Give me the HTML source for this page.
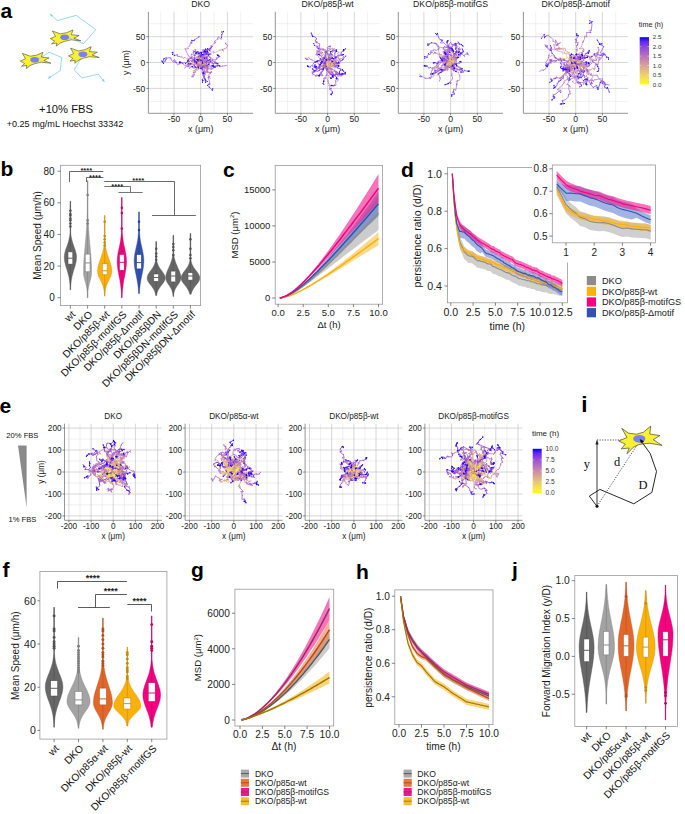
<!DOCTYPE html>
<html><head><meta charset="utf-8"><style>html,body{margin:0;padding:0;background:#fff;}svg{display:block}</style></head>
<body><svg width="685" height="814" viewBox="0 0 685 814">
<rect width="685" height="814" fill="#fff"/>
<text x="0.5" y="17.5" font-size="21" text-anchor="start" fill="#000" font-weight="bold" font-family='"Liberation Sans", sans-serif' >a</text>
<path d="M69 37.7 L83.5 43.7 L95.9 29.7 L76.3 15.3 L57.5 20.6 L50 14" stroke="#8cd2f5" stroke-width="0.9" fill="none"/>
<path d="M50 14L53.1 14.9L51.2 16.9Z" fill="#8cd2f5"/>
<path d="M38.5 59.4 L49 52.2 L61.8 57.5 L60.2 70.7 L48 78.5" stroke="#8cd2f5" stroke-width="0.9" fill="none"/>
<path d="M48 78.5L49.7 75.8L51.2 78.1Z" fill="#8cd2f5"/>
<path d="M82.7 55.4 L74.2 69.9 L81.9 77.9 L98.3 74.2 L104.5 82" stroke="#8cd2f5" stroke-width="0.9" fill="none"/>
<path d="M104.5 82L101.6 80.6L103.8 78.9Z" fill="#8cd2f5"/>
<path d="M50.3 38.6 L55.5 36.4 L52.4 31 L60.3 33.8 L66.7 32.7 L73 29.9 L71.3 34.7 L79.1 35.5 L73.9 38.2 L80.9 40.8 L71.3 39.8 L65.1 41.2 L60.7 42.8 L56.4 46.1 L56.8 43 L51.6 43.9 L54.6 41.2Z" fill="#f8f032" stroke="#3a3a3a" stroke-width="0.55" stroke-linejoin="miter"/>
<ellipse cx="64.7" cy="37.3" rx="4.4" ry="2.8" fill="#7b7ff0"/>
<path d="M68.5 55.9 L73.7 53.6 L70.5 48.2 L78.4 50.9 L84.8 49.7 L91.1 46.7 L89.4 51.6 L97.3 52.2 L92.1 55 L99.2 57.5 L89.5 56.7 L83.4 58.2 L79 59.9 L74.8 63.3 L75.1 60.2 L69.9 61.2 L72.9 58.4Z" fill="#f8f032" stroke="#3a3a3a" stroke-width="0.55" stroke-linejoin="miter"/>
<ellipse cx="82.9" cy="54.3" rx="4.4" ry="2.8" fill="#7b7ff0"/>
<path d="M20.3 61 L25.5 58.8 L22.4 53.4 L30.3 56.2 L36.7 55.1 L43 52.3 L41.3 57.1 L49.1 57.9 L43.9 60.6 L50.9 63.2 L41.3 62.2 L35.1 63.6 L30.7 65.2 L26.4 68.5 L26.8 65.4 L21.6 66.3 L24.6 63.6Z" fill="#f8f032" stroke="#3a3a3a" stroke-width="0.55" stroke-linejoin="miter"/>
<ellipse cx="34.7" cy="59.7" rx="4.4" ry="2.8" fill="#7b7ff0"/>
<path d="M69 37.7L73 39.4" stroke="#8cd2f5" stroke-width="0.9"/>
<path d="M38.5 59.4L42 57" stroke="#8cd2f5" stroke-width="0.9"/>
<text x="66" y="112.6" font-size="11.2" text-anchor="middle" fill="#111" font-family='"Liberation Sans", sans-serif' >+10% FBS</text>
<text x="65" y="126.5" font-size="9.1" text-anchor="middle" fill="#111" font-family='"Liberation Sans", sans-serif' >+0.25 mg/mL Hoechst 33342</text>
<g>
<path d="M160.7 11.8V113.3M148.4 101.4H253M187.4 11.8V113.3M148.4 75.5H253M214 11.8V113.3M148.4 49.6H253M240.7 11.8V113.3M148.4 23.7H253" stroke="#e8e8e8" stroke-width="0.6" fill="none"/>
<path d="M174 11.8V113.3M148.4 88.4H253M200.7 11.8V113.3M148.4 62.5H253M227.4 11.8V113.3M148.4 36.7H253" stroke="#cacaca" stroke-width="0.75" fill="none"/>
<clipPath id="cl148_11"><rect x="148.4" y="11.8" width="104.6" height="101.5"/></clipPath>
<g clip-path="url(#cl148_11)"><g transform="scale(0.25)" fill="none" stroke-linejoin="round" stroke-linecap="round" stroke-width="2.5">
<path d="M795 250l0 0 2 1-1 2M806 255l1-4 0 3M804 254l0 0 0 0 2 1M803 250l3-3 0-1 0-5M798 258l3 0 2-6M804 254l3 0-2-1M801 245l-3-2 4-3M801 257l0 3 11-5 11 4M809 235l-7-4 0-2M812 251l4 1 4 0 3 0M799 245l0 0 1 0-1 0M811 243l0 2 1 2M806 259l-7 3 0-1M799 261l-7 6M810 239l-3 1 0-2M804 256l-1 4-6 0M804 245l0 0 1 0 0 2M812 239l0-1 0 0M812 238l0 1 1-4M793 251l0 1 0 1M803 253l-1-2 4 7 10-2" stroke="#f3dc5b"/>
<path d="M796 253l2 2 1-1M807 254l1-3 1-1M809 250l1 1 0-1M806 255l-1 0 0 0M806 241l0-7 3 3M803 252l0-2-1 1-3-2M805 253l1 1 1-1M807 253l-1-2 0 1M802 240l-1 0-1-4M823 259l-1-2 5-3M802 229l-3-5-6-3 3 4M823 252l3-4 1-1M799 245l0 1 1 0M812 247l-2-3 1 2M811 246l6-2-4 3M792 267l-3-1 0 9M807 238l0 3-1 2 0 0M797 260l-1-10-2-5M805 247l2 1 0 0M813 235l1 0M793 253l-1 2-1 0M791 255l1 0-1 1M816 256l0 2 2-1" stroke="#e6bc7f"/>
<path d="M799 254l-3 0 3 0 0-2M810 250l-1-1 3 1M805 255l0 1 1 2 1-1M809 237l-4-1 2-2 0-2M799 249l5-3 2-5M806 252l1 2 1 0M800 236l-3-3 1-3M798 230l5 3-3 2 2-2M827 254l-3 1 3-9-3 3M796 225l1-18-6 9M827 247l8-1 7 1-2-3M800 246l0 0 1 0 0 0M813 247l-1 6 10 2M789 275l-6 2 0 1M783 278l-1 9M806 243l0 1 0-1M794 245l-10 2 1 12M785 259l-3-14-5 4-9-3M807 248l0 0 0 0 0 1M814 235l0-1-1 0M813 234l1 1 0-1M791 256l0 0-1 1M818 257l-1 5 8 0 3 0" stroke="#d9a495"/>
<path d="M799 252l1 3 1 2-1 0M812 250l1-1 0 1M807 257l-1 0 2 1 1-1M807 232l0 4 1-3-1 1M806 241l0-1 1-2M807 238l1-6 6 0-6 0M808 254l1-3 3 3M802 233l0-2-1 0M824 249l-2-6 2-4-4-2M791 216l-7 3-8 2M776 221l-8 6-10 4 3 1M840 244l6 0-3 1 8-3M801 246l-1 0 1 0 1-1M822 255l-6-4 3 6M782 287l-2-5-5 0M806 243l0 3-2 2M804 248l0 0 1 0 3 2M768 246l1-10-2-5M807 249l0 2 1 0-1 0M814 234l0 0M790 257l-1 0 1-1M828 262l1 2 1-1-6-2" stroke="#cd90a6"/>
<path d="M800 257l2 1-3 0M813 250l4-2-1 1M816 249l3-4 1 1M809 257l0 0-1 1M807 234l2-3-1 1M808 232l5-2-2-1M812 254l0 0 0 0M801 231l2 1 5-1M820 237l4 1-1-10M761 232l-16 3-6-6M851 242l-6 5 3-5M802 245l-1 1 1-1M819 257l-4 0 3 1M775 282l5 10 2-4M782 288l-9 3M808 250l-3 2 2-4M767 231l-8 7 4-6M807 251l1 0 0 0M814 234l0-1 1 0M815 233l1 0 0 0M790 256l0 0-1 1M789 257l0 0 0 1M824 261l2 4 1 8" stroke="#c17eb4"/>
<path d="M799 258l3 2 1 3-4 3M820 246l1-3 2 1M808 258l1 0 0 1 0 0M808 232l-1 0 5-2 2 1M811 229l1 2-4-6M812 254l-1-3 4 1 2 0M817 252l1-4-1 1M808 231l0 1 2 0M823 228l0 7-1-2 1-5M739 229l-6 5-5-6M848 242l0-1 3-2-1-2M802 245l0 1 1 0-1 1M818 258l3 2-5-4 7 7M823 263l8-1 0-1M773 291l0-4 5 12M778 299l-6 10 1-11M807 248l1-1 2 2M763 232l-3-3-6-5M808 251l2 0-1-1 1 0M816 233l-1 0 2 0M789 258l0-1 0 1M827 273l2 7 0 2-3 6" stroke="#b46dc0"/>
<path d="M799 266l-1 0-1 2-2-2M823 244l-1-2 0 1M809 259l1 2-1 1 0 0M814 231l4-2-2-1 2 2M808 225l5 1-2-2 1 2M817 249l2 0-1-3M810 232l-1-1 5 3M814 234l1 3-1 2-1 1M823 228l-2 2 1 0-8 1M728 228l-4 0-7-2 0 0M850 237l7 2 3 0 7-2M802 247l0 0 1 0 1 0M831 261l-2-6 7 4M773 298l-5 9M810 249l0-1 2-3 2-1M754 224l-14-30 2 2M742 196l12-2-3-3 7-7M810 250l0 0 0-1 1 1M817 233l1-2 0 1M818 232l-1 0M789 258l1 0-2 1M826 288l-1-1-8 9 0-2" stroke="#a65ecc"/>
<path d="M795 266l1-1-1 2M822 243l1-3 1 1M824 241l-2-2-2-2M809 262l1 2-1 0M818 230l1-4 3-1M812 226l1-4-1-1M818 246l-2-6 0 1M813 240l5-1 0 3M814 231l2-7 0 3M717 226l-5-1-1 0M867 237l-3-6 5 1M804 247l0 0 1 0M836 259l0-7-1-2M768 307l2 0-2-1M814 244l4-1 1-2M758 184l6-17 3 7M811 250l1-2-1 0M817 232l1 0 1 0M788 259l-1 0 1 0M788 259l-1-1-1 1M817 294l0 3-2 1" stroke="#974fd6"/>
<path d="M795 267l-1 1-1-2-3 3M820 237l2 0-1-1M809 264l0 1 0 0-1 2M822 225l1-5 0-2 0 0M812 221l2 0 4-2M816 241l-2-3 2 2M816 240l0-2 3 2M818 242l1 1-5 0M816 227l0-5 0-12-4-6M711 225l0-1-2-5M869 232l7-2 2-6 1 2M805 247l0 0 0 0 1 1M835 250l-3-2 8 1M840 249l1-2 0-3M819 241l-1-3 6-4M767 174l0-13 5 2M811 248l1 0-1 0 2-1M786 259l0-1 0 0M815 298l1-1 1 9-2-4" stroke="#8640e0"/>
<path d="M790 269l2 0-5 0-2 0M808 267l1 1 0-1 0 2M823 218l2-1 2-4-1 0M818 219l-1 2 0-2 5-2M814 243l4 1 3 0M812 204l1 4 8-9-9 1M709 219l-7 2-4 0-8-3M879 226l0-2-2 2-1-1M806 248l0-1 0 0 0 0M824 234l-2-1 0-1 2 1M772 163l6-3 18-13M813 247l-1 0 0-1-1 0M815 302l0 2 2 4 0 3" stroke="#7232e9"/>
<path d="M785 269l-2 0 0 0M809 269l0 0-1 1M826 213l1 1 1-6M822 217l1-2-1-2M812 200l12 4-2-8M690 218l2-7-3-2M876 225l1-3-4-1M806 247l0 0 1 0M824 233l-1-3 1-1M811 246l1-1 0 0M817 311l4 3 2 7" stroke="#5922f2"/>
<path d="M783 269l-3-2-3-5-2-2M808 270l0-1 0 1 1 0M828 208l3-1-2-2-1 0M822 196l7 4 1-6 9 7M873 221l-2 1 2 2-4-5M807 247l0-1 0 0 0 0M812 245l1-1-1-1 1 0M823 321l-4-6 3 14 7-3" stroke="#330efb"/>
<path d="M783 269h0M780 267h0M777 262h0M775 260h0M808 270h0M808 269h0M808 270h0M809 270h0M828 208h0M831 207h0M829 205h0M828 205h0M817 219h0M822 217h0M823 215h0M822 213h0M814 238h0M816 240h0M816 238h0M819 240h0M819 243h0M814 243h0M818 244h0M821 244h0M822 196h0M829 200h0M830 194h0M839 201h0M698 221h0M690 218h0M692 211h0M689 209h0M873 221h0M871 222h0M873 224h0M869 219h0M807 247h0M807 246h0M807 246h0M807 246h0M832 248h0M840 249h0M841 247h0M841 244h0M822 232h0M824 233h0M823 230h0M824 229h0M767 161h0M772 163h0M778 160h0M796 147h0M812 245h0M813 244h0M812 243h0M813 243h0M823 321h0M819 315h0M822 329h0M829 326h0" stroke="#1f00ff" stroke-width="4.4"/>
<path d="M800 245l5 1-7 3M805 240l-3 3 3-8M809 248l5-6-3 5 1-6M807 244l0 1 3-10M790 242l-8 10 7-4-4 1M802 245l0-1-1-2M800 244l0 1 0-1 0 0M809 252l-1 1-1-1M807 255l0-3 5 1 0 2M803 262l1-2 0 1 5 0M805 252l1 0 0 1M803 245l2-1-15 1-4 0M813 260l1 0 1 0M803 242l7-11 3-3M813 228l7 6M801 253l-1 1-3 1M802 254l-1 2 0-1-1 2M802 234l0 2-6 1M796 237l3-1M806 256l0-3-4 25M802 278l-5-8M811 245l0-1 0-2-1-1" stroke="#f3dc5b"/>
<path d="M798 249l7 2 0 3 1 0M805 235l6-3 6-6M817 226l0-4 3 1M812 241l0-2 0-3M810 235l-1 0 19-3M828 232l-2-8 12 0M785 249l2 10-5-3M801 242l-3 1 0-2M800 244l2 0 0-1M807 252l-2-2-1 1-1 1M812 255l2 3 4 1M809 261l-4-5 4 2M806 253l0-1 0 1M786 245l2-8-3 5M815 260l0-1-1 0M820 234l1-24 25 6M797 255l-3-1-1 1M800 257l-1 0 0 0M799 236l1-1-4 4M797 270l3 2 2 2M810 241l1 1-2 0" stroke="#e6bc7f"/>
<path d="M806 254l-4 5 3 4M820 223l-1 0M812 236l-2 3 1-2 0-1M838 224l-3 0 3 2M782 256l-11 8 5-2-10-7M798 241l-1 2 1-2-2-1M796 240l0 1-3-1M802 243l0 0 1-1 0-1M803 252l-1 0-1-3-1 0M818 259l7 0 2 0-2 2M809 258l-2-3 0 0 5 2M806 253l1-1 1 0M808 252l-1 0 0 0 1 0M785 242l0 3-7 0 2 3M814 259l2 0 4 3M820 262l0 0 1 1 1 0M846 216l-7-1M839 215l6-5 7-4M793 255l0 2-1-2M792 255l0 4 2-2-1 2M799 257l0 0 1 0 0 0M796 239l0-5 0-6M796 228l-1-1M802 274l-5 2-1 0M796 276l3-4M809 242l0-1 0 0 1-1" stroke="#d9a495"/>
<path d="M805 263l-4 1 3-3-2 4M819 223l-3-6 2-3M818 214l4-2 2-4M811 236l-3-3 2-2 5 1M838 226l3 2 3 2M766 255l-3 5 2-7-12 2M793 240l1 1-1-3M803 241l1 0-1 0M800 249l-2-2 0 0M825 261l4 5-2 1-1 4M812 257l-2-2 6 4M808 252l0 0-1 1M780 248l2-2-12 0 3-5M822 263l-1-4 5 4M852 206l3-1-1 7M854 212l29-12M793 259l2-1-3 1M800 257l-1-2 1-2-1 0M795 227l0 5-2-4M799 272l-12 11 0-11M810 240l-1-1 0-1-2-2" stroke="#cd90a6"/>
<path d="M802 265l6 10 2 0M810 275l-3 16 6 6M824 208l-1 2 3-2M815 232l2-2-6-2M844 230l-10-3 5 2M753 255l13 3-24-2M793 238l1 0-3-1 0-1M803 241l1-1 1 0-1 0M798 247l0-2 1 0M826 271l-3-1 5 5M816 259l1-3 2 3 3 1M807 253l1-1 0 1M773 241l-6 7 0-4M826 263l-2-2 1 3M883 200l8 0 2 4M792 259l3 0-3 1M799 253l0-1-1 0M793 228l0-7 1-4M794 217l-5-1M787 272l-4 4 2 2M785 278l-9-4M807 236l1 1 1 0" stroke="#c17eb4"/>
<path d="M813 297l9 2 0-5 1-6M826 208l-4-1 2-2M824 205l2 2M811 228l5-3 1 0-4-2M839 229l2 2 3 0-4 6M840 237l9-3-1 8M742 256l0-4-2-2-14 2M791 236l-1-1-3 1M804 240l1 0 1 0 0-1M799 245l2-2-1-3-1 0M828 275l1-4 0 2-1 2M822 260l-1 4 8 2-4 0M808 253l0 0 0 0M767 244l4-10-7-4 0 4M825 264l2 0-2-1M893 204l-3-6M890 198l16-6 4-11M792 260l0 5 1-2M798 252l0-2-1-1 0 0M789 216l-2-3 1-3M788 210l-3-2 1 3M776 274l-13-8-5 9M758 275l-1-2-2-10M809 237l-1 0 1-1 1 0" stroke="#b46dc0"/>
<path d="M823 288l4-9 3-5M826 207l0-4 3-2M813 223l2 1 5-7-5-4M848 242l12 4 0 6M726 252l-15 8-7-11-7-4M787 236l-1 0-3-1M806 239l0 0 2-1M799 240l1 0 1-3-1 1M828 275l8 1 7 1 5-3M825 266l2 1 4-2M808 253l0 1-1 0M807 254l0 1 1-1-1 1M764 234l3-6-3-1 2-10M825 263l1 1 3 0M829 264l-1-1-1 1 1-1M910 181l-7-5M903 176l-2-4 4 2M793 263l-1 2-1 1M791 266l1-1 2 2-1 0M797 249l0 0 0 0 1-1M786 211l-4-11M755 263l-5 2M810 236l-1-2 2 1 1-3" stroke="#a65ecc"/>
<path d="M830 274l2 4-6-4 4 0M829 201l-2 0 0 0M827 201l7-2-1-3M815 213l2 0 0 0M860 252l-3-1 2-1M697 245l-4 3 14 3M783 235l1 2-1-1M808 238l0-1 1 0 0 1M800 238l0-3 0 2M800 237l1-5 0-2M848 274l-2 4 8-6M831 265l3 4 0-4 5-1M807 255l0 2-1-1M766 217l8 0-1-8M828 263l0 0 0-1M793 267l-2 1 2 0M798 248l-1 0 1-1M782 200l-1 2-1-4M750 265l-3 1-9 6M812 232l-1 1-2-2" stroke="#974fd6"/>
<path d="M830 274l1-5 0 0M817 213l8-6 1-2 7-5M859 250l1 2 5 0M865 252l4 2 3 1M707 251l-9-13-8 8-6-10M783 236l-1 0 1 2M783 238l-3-2 0 0-1 0M809 238l1-1 0 0M801 230l0 1-2 0-1-2M854 272l4-5 4-1 0 2M839 264l2 2 4-3M806 256l0 1 0-1M773 209l3-1 6-1-9-3M828 262l3-1 3-3M793 268l1 0 0 2M798 247l0-1 0 0 0 0M809 231l1 0-2-2 0 0" stroke="#8640e0"/>
<path d="M831 269l-3 3-2-12-4-5M833 200l2-5 0 3 5-2M684 236l0-5-14 0-11 16M779 236l0 1-2-3M810 237l1 0 0 0 1 0M798 229l0 0-3-1 1-2M862 268l2-4 0-2-1 2M845 263l1 1 3-3 2 1M806 256l-1-1 1 1M773 204l8 3 4 3 3-3M834 258l2-3 0 1M794 270l0 1 0 1M798 246l0 0-1 0 0-1M808 229l-1 0 1-1-5-1" stroke="#7232e9"/>
<path d="M822 255l4-1 0-7M840 196l-1-1 2-2M659 247l7-17-10 5M812 237l-1 0 1 1M796 226l-3 1 1-1M863 264l5 0 2-1M851 262l4 0-2 2M788 207l-1 5 5-5M797 245l1 1 0-1M803 227l-1-1 0-1" stroke="#5922f2"/>
<path d="M841 193l0-1 5-3 2-3M656 235l-5 12 3 7-7-10M812 238l1 0 0 1 0 1M870 263l1-2 1 2 7-1M853 264l2 4 5 1-4-5M792 207l3 7 1 1 2-3M798 245l1 1 0 0 0-1M802 225l-2-4 0 2 1-4" stroke="#330efb"/>
<path d="M826 260h0M822 255h0M826 254h0M826 247h0M841 193h0M841 192h0M846 189h0M848 186h0M860 252h0M865 252h0M869 254h0M872 255h0M656 235h0M651 247h0M654 254h0M647 244h0M780 236h0M779 236h0M779 237h0M777 234h0M812 238h0M813 238h0M813 239h0M813 240h0M795 228h0M796 226h0M793 227h0M794 226h0M870 263h0M871 261h0M872 263h0M879 262h0M853 264h0M855 268h0M860 269h0M856 264h0M806 257h0M806 256h0M805 255h0M806 256h0M792 207h0M795 214h0M796 215h0M798 212h0M831 261h0M834 258h0M836 255h0M836 256h0M794 268h0M794 270h0M794 271h0M794 272h0M798 245h0M799 246h0M799 246h0M799 245h0M802 225h0M800 221h0M800 223h0M801 219h0" stroke="#1f00ff" stroke-width="4.4"/>
<path d="M800 247l1 0-2-2M792 252l0 0 1 0-1-1M804 255l0 0 0 0M804 255l1-1M806 263l4 3 8 1M806 247l1-3-1-7 1 0M792 254l1-3 2-6M788 249l3 4-6-7M804 253l0 0 3 1M807 254l-3 0-1-2M796 246l-1 0 1-3M796 243l-6 1-4 4M813 255l0 0 2 2 0-1M802 250l-4 2 2-2M806 240l1 4 3 6M809 247l-7 3 19-5M808 244l2 1 2-5M803 255l-1 0 1 0 3-2M804 246l0 0 2 0M806 246l-1-2 2 1M803 244l-2 2 0 0-2 1M791 250l0 2 0 2M805 249l1-1 6-1" stroke="#f3dc5b"/>
<path d="M799 245l1 2-2-2M798 245l0-2 0 0M792 251l1 0-3 0M805 254l0 0 1 0M818 267l2 2-3-2M817 267l-1 1 5 1M807 237l-2 0-7-1M795 245l-1 1 7-3-5 0M785 246l6 1 8 7M803 252l5 5M786 248l2-5M815 256l1-1 1 1M800 250l0 0-4 1M796 251l2-5-2 1M810 250l-2 0 1-2M809 248l5 5-5-2M821 245l-9 0 2-13M812 240l7 4 2-4M821 240l13 5 3 3M806 253l-2-3 2 0M807 245l3-2M799 247l-2-1-2 3M791 254l0 1 2-1M793 254l-1-1 0 2M812 247l-2 1 3 0" stroke="#e6bc7f"/>
<path d="M798 243l-1 0-1-1M790 251l1 0-2-1 0 1M806 254l0-1M806 253l-1-1-1-1M821 269l2-2 0 0M798 236l-1-5-6-2 3-1M796 243l1-6 6-2M799 254l5-2 9 11M813 263l5 11-2 0 0 4M808 257l-3 1-3 3M802 261l0 4-2-2M788 243l-4 6-2-2M782 247l-2 1 4-2M817 256l-1 1 2 3 0 2M796 247l0-4M809 251l5 4 1-5M814 232l2 13 4-12M820 233l-2-1 12-16 2-3M837 248l1-6 0 2M806 250l0-1 0 2 0-1M810 243l1-1 2-1M813 241l-2 1 4-2M795 249l1 0-1 0 0 1M792 255l-6 3-3-2M813 248l8 4-7 2M814 254l3-3 7 5-4-4" stroke="#d9a495"/>
<path d="M796 242l-1-1 1 1M789 251l-1-1 0 0 1 0M804 251l0-1 0 0M804 250l0-1M823 267l2 4 3 1M794 228l-2 4-1-2-2-3M803 235l-2-1 4-3M805 231l2 3 1-2-1-2M816 278l4 2-4 1M800 263l0 1M784 246l-7 2M818 262l2 1 1 2 0 0M796 243l-4-1 0 1M792 243l-5-3-2 2M815 250l4 6 1-6M832 213l-4-2 14-6M838 244l0 2 3-5M806 250l2 0-1-4 2 1M815 240l2 0M795 250l-3 2 0 2M783 256l-1 1-5 3M820 252l2 1 0-1" stroke="#cd90a6"/>
<path d="M796 242l-3 0-3-2M790 240l-1 2-3 1M789 250l-1-2 0 0M804 249l-1 0 0-1M828 272l2 4-2 9M828 285l2-5 0 8M789 227l1 4-3-2M807 230l2 1 1-5M816 281l5 3-4 1M800 264l3 2 7 6M810 272l2 0 2 0M777 248l0 0-1 1M776 249l-6-2-1 1M821 265l-2 0 2 0M785 242l-1-2-1-2M820 250l5-1 7-1M842 205l5-22-4 1M841 241l11 4 11-1M863 244l-3 2-1 3M809 247l-1-1-1-2M817 240l0 1 1 2M818 243l0-1 2 3M792 254l-1-2-2 2-1 1M777 260l1-1 0-3M822 252l0-4 1-4" stroke="#c17eb4"/>
<path d="M786 243l-1 1-3 0M788 248l0 0 0 0 1-1M803 248l1-1M804 247l0 1 0-1M830 288l4 0-5 1M787 229l-7 1-2 4-2-2M810 226l1-4 2-11M817 285l1 8 0-9M814 272l13-2-5 4M769 248l0-1-8-5M821 265l0 1-1-1-2 4M783 238l1 1 0 2M784 241l-5 1M832 248l4 1 9-1 2 4M847 252l5-1-4 1M843 184l8-5 12-11M859 249l2 2 9 10M807 244l1-3 1 3 3-2M820 245l2 2-3 0M788 255l0 1 1 0-1-1M778 256l1 2-4 0 0 0M775 258l1-3-7 1M823 244l-1 3 2-4" stroke="#b46dc0"/>
<path d="M782 244l-3 2 1 0M789 247l1-2-1 0 1-1M804 247l-1-1M803 246l1 1-1-2M829 289l7-1 3 4M776 232l-1-2-1 1-6-2M813 211l0-3 3 2 3-2M818 284l-6 4-1 8M811 296l6-5-7 1 2 6M822 274l5 0 8-1M835 273l8-1M761 242l-2 1-4 5M755 248l3-1M818 269l2 0-2 0-1 0M779 242l-4-3-1-1M848 252l8 4-4-4M863 168l-4 6-1-9M858 165l13-9 1 2-1-3M870 261l3 0 6 6M812 242l-1 1-2 0 1-5M819 247l3 2-1 2M821 251l-1 1M788 255l3 1 5 1M769 256l-1-1-3-1M824 243l-2 2 6-6M828 239l-4-3 4 0 1 0" stroke="#a65ecc"/>
<path d="M780 246l-2 2 1 3M779 251l0 0-1 0M790 244l0-1 0 0M839 292l2-3 4 0M845 289l-3 0 1 0M768 229l-3 1 1 2M819 208l1-1-5 2M812 298l0 7 6-1M843 272l3-1 0-4M758 247l-6 1-2 2M817 269l-2 1 1-1M774 238l-1 1-4 1M769 240l2 1-2 1M852 252l1 5 0 1M871 155l1-8 12 9M879 267l-1 0 2-1M880 266l0 1 10-3M810 238l-1-1 3 0M820 252l2-1-3 1M796 257l2 4 0 2 3 0M765 254l0 1-4 0M829 236l-3-5 4 1" stroke="#974fd6"/>
<path d="M778 251l2 1 0-1M790 243l0-1 1-2-1-1M843 289l4-3 0 0M766 232l-4 1-6 4-1 3M815 209l7 3-1-8M818 304l-9 15 3 2M816 269l-3-1 1 0 0 0M853 258l-3 5 3-1M853 262l0 5-5-3M884 156l2-7 1-10M890 264l4 0 12-2M812 237l0-1 0 0 2-1M801 263l1-1 1 5M761 255l-1 2 1-2M761 255l-7 0-2 1M830 232l-3-4 6-5" stroke="#8640e0"/>
<path d="M790 239l2-1 1 1 1-1M755 240l-2-1 0 2 0-3M821 204l2 8 1-5 2 9M812 321l-2 2 0 6M814 268l-1-1-1-1-1 0M887 139l7-13-7 2M814 235l1-4 2 1-1 1M803 267l-1 0 2 0 2 3M833 223l3-6 5-1" stroke="#7232e9"/>
<path d="M794 238l3-1-1 0M753 238l-2 4 1 0M826 216l6-6 0 8M811 266l2 0-1-2M816 233l0-2 2 0M806 270l-2-3-1 7" stroke="#5922f2"/>
<path d="M796 237l2 0 0 1 0 1M752 242l-1 4 1-1-10 8M812 264l0-1-1 0 1 0M818 231l-1 1 2 0-1 1M803 274l3-1 0 0 1-1" stroke="#330efb"/>
<path d="M796 237h0M798 237h0M798 238h0M798 239h0M752 242h0M751 246h0M752 245h0M742 253h0M824 207h0M826 216h0M832 210h0M832 218h0M809 319h0M812 321h0M810 323h0M810 329h0M812 264h0M812 263h0M811 263h0M812 263h0M850 263h0M853 262h0M853 267h0M848 264h0M886 149h0M887 139h0M894 126h0M887 128h0M818 231h0M817 232h0M819 232h0M818 233h0M803 274h0M806 273h0M806 273h0M807 272h0M760 257h0M761 255h0M754 255h0M752 256h0M827 228h0M833 223h0M836 217h0M841 216h0" stroke="#1f00ff" stroke-width="4.4"/>
<path d="M800 249l1 0 0-1M790 248l0-2 3-6-2 1M808 250l1 1-1-1M808 250l1 1M794 248l2 1 2 0M802 250l-1-2-3-4M804 262l1-1 0 3M805 264l1-1M800 239l0-1 1 0 2-2M800 250l1 1 1-3 0-2M807 250l0 0 0-3-1 0M804 245l0-1 0 0 0 0M785 245l1-3 2-1M794 250l-1 1 0-1-1 0M798 250l1-4 5 0M789 242l2-1-6-1-1 1M796 250l-1-2 1 5M799 250l-7 0-5-1 0 0M798 249l-1 0 0-1 0 0M802 253l-1-2 3-1" stroke="#f3dc5b"/>
<path d="M801 248l2 1-2-2M801 247l1 2 1 1M791 241l4-1-1 0M809 251l0 1 0 3M798 249l2 3 0-4 3 3M798 244l0-1 2-1M806 263l1 2 1-1M803 236l0 1 1-1M802 246l1 2 1-1M806 247l0 1 0-2M804 244l0-1 3 0M788 241l0-1 1 2M792 250l0 1 0-1M804 246l8 6 9 4 1-2M784 241l-1-2-3-1M796 253l2-2 0 4M787 249l-2 3 2 1M797 248l-1-1 0 0M804 250l-1-5 4 1-1-1" stroke="#e6bc7f"/>
<path d="M803 250l-1 0 2 1M794 240l3 2 3 1 2 2M809 255l2 1-3 3M808 259l-4-2M803 251l4-2-3 2M800 242l-3 1 3-3M800 240l-2-9 0 1 0-4M808 264l1 0 0-1M809 263l1 1M804 236l-1-3 1 0 1-2M804 247l0-2-2 1 0-2M806 246l-2 0 2 0-1-2M807 243l0-1 1 1 1 0M789 242l0-1 4 1M793 242l-1-1 1 0 2 2M792 250l-1 1 0-1 0 1M822 254l4 7-3-6M780 238l1-2-2 1 1-1M798 255l0-1 2 4-1-2M799 256l-2 1 3 1M787 253l-11 3-2 2-5-1M796 247l0 0-1-1 0 1M806 245l1-1 1-2" stroke="#d9a495"/>
<path d="M804 251l1 3 2 0M807 254l-2 1 2 0M802 245l1 0 1 1-2 2M804 257l4 1-4 2M804 251l0-2-1 2M803 251l3-2 1-2-8-1M798 228l-1-4 2-5M810 264l0 1 0-2M805 231l-1 0 1 0-1-1M802 244l4-6 0 0 2-2M805 244l1 0-1-1-3-2M809 243l0-1 0 0M795 243l0-1 0 0M791 251l0-1-2 0 1 0M823 255l5-2 0 22M828 275l-12 0 9 1-2 11M780 236l1-1 0-1-3-3M800 258l-3 2 0-1M769 257l-5 4-5 0-5 3M795 247l-1 0-1-1 0 0M808 242l-1-5 1 1M808 238l1 0 5-2 0 0" stroke="#cd90a6"/>
<path d="M807 255l0 0M802 248l4-1 1 8M804 260l-4 0 1 0M801 260l-4 0M799 246l-1-1-1-2M799 219l1-3 3 2M810 263l3-2 2 1M815 262l-1 0M804 230l-1-1 0 0M808 236l-2 1 5-4M802 241l-2-1 0 1M809 242l1 0 1 0-1 1M795 242l1 2 2 1M790 250l-2 0 0 0M823 287l6 1 14 6M778 231l-1 1 1-2M797 259l-5 1 2 0-1 3M754 264l3 2-4-3M793 246l0 0 0 0M814 236l-2-2 2 0" stroke="#c17eb4"/>
<path d="M807 255l2 0 0 0M807 255l-1 1 1 1-1 1M797 260l-1 0-3 1M793 261l1 1-1 1M797 243l-4 2 1 1M803 218l-3-1 5-7M814 262l1 0 2 0M817 262l1-1 1 1M803 229l1-1 0 0 0 0M811 233l-2-2-1 0 1-2M800 241l1 0 1-1-3 0M810 243l0-1 1 0 0 1M798 245l1-2 1 0M788 250l0-1 0 0-1-1M843 294l-8 4 1 7M778 230l0-2 1-3-1-1M793 263l1 0-2 1M753 263l3-3-5 3 4 3M793 246l0-1 0-1-1 0M814 234l2-4 0 0" stroke="#b46dc0"/>
<path d="M809 255l0 0 1-4M810 251l0-3 0 0M806 258l0 8 0 6 1 0M793 263l-2-1M794 246l-2-1-6 2-2 0M805 210l-1 0 2-1M806 209l3-1-2 0 3 1M819 262l1 3M804 228l0 1 1-2 0 0M809 229l-1 0 1 1-3-4M799 240l0 0 0 1 0-1M811 243l0 1 0 1M800 243l-1 0 2-2M801 241l1 1 0 0 1 0M787 248l0 0-1 0 1 0M836 305l5 9-9-8 5 0M778 224l0-1 2 0 0 0M792 264l-3 5-2 2M755 266l-8-3 0-1-4 2M792 244l1 0-1 0 1-1M816 230l-1 1 3-2 4 1" stroke="#a65ecc"/>
<path d="M810 248l1-3 2-1M807 272l4 3-3 2M791 262l-1 4 0 0M784 247l-2 3-3-4M810 209l2 0 1 0M820 265l0-3 0 0M805 227l1-1 0-2M806 226l0-2-1-2M799 240l-2-2 0 2M811 245l-1 0 1 0-1 0M803 242l1-1 0 0M787 248l-1 0-1-1M837 306l-4 3 0 1M780 223l0-1 0-1M787 271l-3-3-5 0M743 264l-8-5-3-4M793 243l-2 1 1-1M822 230l0 1 2 1" stroke="#974fd6"/>
<path d="M813 244l-1 1 0 0M808 277l2 2 1-3-3 2M779 246l1 1 1-1M813 209l6-2 3-2M806 224l-1 0 1-1 2-1M805 222l-1 0 0-1 2 0M797 240l0-2-2-2 1 0M810 245l1 1 0 0M804 241l-1-1 1 2M785 247l0 1 0 1 0-1M833 310l7 23-7 5M780 221l0 0-1-1-1 0M779 268l2-1 0 0M781 267l-7 1-4-2-2 0M732 255l-1-1 0-2 0 1M792 243l0 0 0 0 0 0M824 232l0 2 2 0" stroke="#8640e0"/>
<path d="M808 278l4-1 0 7 1 5M781 246l-2 0 1 0 0-2M822 205l-4-1 4 2M808 222l0 0-1-2 0 0M806 221l-3-3 2 0 0 1M796 236l-2 1 1 1-3 1M811 246l0 2 0 1-1-1M804 242l1 0-1-2M785 248l-1 1 0 0 1 2M833 338l8-2-11 5 7 7M778 220l3-4 2-2-2 0M768 266l2 0 0 1M731 253l0-2-6-1-3-2M792 243l-1-1 1 0-1 0M826 234l5 4 0 5 2-2" stroke="#7232e9"/>
<path d="M813 289l2 0 0 4M780 244l-4-3 0-2M807 220l1-3 1 2M805 219l1 0 0-6M792 239l-1-1-1 2M810 248l1 2-1 0M785 251l0 0 1 0M837 348l12 13 2-6M781 214l3 0 0-3M722 248l3 1-4 1M791 242l0 0 0-1M833 241l6-2 1 0" stroke="#5922f2"/>
<path d="M815 293l-2-2 0 2-1-1M809 219l1-1 1 0 2 0M806 213l-2 0-1-4 2 1M790 240l0-2-1-1-2 1M810 250l1 2 0 0 0 1M786 251l-1 0 2 0-1 1M784 211l0 1 2 1 1-1M721 250l-3-1 1-2-2 5M791 241l0-1 0 0 1-1" stroke="#330efb"/>
<path d="M815 293h0M813 291h0M813 293h0M812 292h0M780 246h0M780 244h0M776 241h0M776 239h0M819 207h0M822 205h0M818 204h0M822 206h0M809 219h0M810 218h0M811 218h0M813 218h0M806 213h0M804 213h0M803 209h0M805 210h0M790 240h0M790 238h0M789 237h0M787 238h0M810 250h0M811 252h0M811 252h0M811 253h0M803 240h0M804 242h0M805 242h0M804 240h0M786 251h0M785 251h0M787 251h0M786 252h0M830 341h0M837 348h0M849 361h0M851 355h0M784 211h0M784 212h0M786 213h0M787 212h0M770 266h0M768 266h0M770 266h0M770 267h0M721 250h0M718 249h0M719 247h0M717 252h0M791 241h0M791 240h0M791 240h0M792 239h0M831 243h0M833 241h0M839 239h0M840 239h0" stroke="#1f00ff" stroke-width="4.4"/>
</g></g>
<path d="M148.4 11.8V113.3H253" stroke="#8a8a8a" stroke-width="0.9" fill="none"/>
<path d="M146.4 88.4H148.4M174 113.3V115.3M146.4 62.5H148.4M200.7 113.3V115.3M146.4 36.7H148.4M227.4 113.3V115.3" stroke="#4d4d4d" stroke-width="0.7" fill="none"/>
<text x="145.4" y="91.5" font-size="8.6" text-anchor="end" fill="#222" font-family='"Liberation Sans", sans-serif' >-50</text>
<text x="174" y="121.8" font-size="8.6" text-anchor="middle" fill="#222" font-family='"Liberation Sans", sans-serif' >-50</text>
<text x="145.4" y="65.6" font-size="8.6" text-anchor="end" fill="#222" font-family='"Liberation Sans", sans-serif' >0</text>
<text x="200.7" y="121.8" font-size="8.6" text-anchor="middle" fill="#222" font-family='"Liberation Sans", sans-serif' >0</text>
<text x="145.4" y="39.8" font-size="8.6" text-anchor="end" fill="#222" font-family='"Liberation Sans", sans-serif' >50</text>
<text x="227.4" y="121.8" font-size="8.6" text-anchor="middle" fill="#222" font-family='"Liberation Sans", sans-serif' >50</text>
<text x="200.7" y="6.6" font-size="8.7" text-anchor="middle" fill="#1a1a1a" font-family='"Liberation Sans", sans-serif' >DKO</text>
</g>
<text x="200.7" y="132.1" font-size="8.9" text-anchor="middle" fill="#1a1a1a" font-family='"Liberation Sans", sans-serif' >x (μm)</text>
<g>
<path d="M287.6 11.8V113.3M275.3 101.4H379.9M314.3 11.8V113.3M275.3 75.5H379.9M340.9 11.8V113.3M275.3 49.6H379.9M367.6 11.8V113.3M275.3 23.7H379.9" stroke="#e8e8e8" stroke-width="0.6" fill="none"/>
<path d="M300.9 11.8V113.3M275.3 88.4H379.9M327.6 11.8V113.3M275.3 62.5H379.9M354.3 11.8V113.3M275.3 36.7H379.9" stroke="#cacaca" stroke-width="0.75" fill="none"/>
<clipPath id="cl275_11"><rect x="275.3" y="11.8" width="104.6" height="101.5"/></clipPath>
<g clip-path="url(#cl275_11)"><g transform="scale(0.25)" fill="none" stroke-linejoin="round" stroke-linecap="round" stroke-width="2.5">
<path d="M1314 252l0 0 0-2 1 1M1309 259l0 0 0 0M1298 244l-1 1-2 1M1311 246l-3 3 0 1 1 9M1322 258l-3-3-5-1M1314 249l-1 2 0 11M1303 239l-6-3-3-2M1315 251l1 0 0-1M1309 255l-3 0-1 0-1 2M1321 253l-1-1 0-5 1 2M1313 254l-2-1 2 11M1302 248l2 3 1 1-6-2M1311 260l1-1-2 8 3 0M1310 252l4 2-4 2 1 0M1313 249l-4 4 1-4M1320 257l0-4-3-3M1317 250l7-8M1311 244l0 0 1-1" stroke="#f3dc5b"/>
<path d="M1315 251l0-3-2 2M1309 259l0-1 1 2M1310 260l-3-2 0 0M1295 246l1-1-1 0M1295 245l-1-1-1-1M1309 259l9 11-5-5M1314 254l-15 9 5-3M1304 260l2-4-10 9M1313 262l6-5-4 4 2 0M1294 234l-2 4 2 1M1294 239l-6-2-7-4M1316 250l1-1 1-1M1304 257l-2 8 1-4M1321 249l5 0 2-1M1313 264l3 6 4 2-2 7M1299 250l5 6 2 2M1313 267l-3 1 3-1M1311 256l0-3 1 6M1310 249l-4 5 2 5M1308 259l-2-1-3-3M1324 242l1-1-2-5M1312 243l0 1 0-1" stroke="#e6bc7f"/>
<path d="M1313 250l4-4-3 0 3 0M1307 258l0-2M1293 243l1 1M1313 265l0 4 5 5-6 6M1296 265l6 1M1317 261l2-4-3 2M1281 233l-2 1 1-1M1318 248l2 14 7 7M1327 269l4 0 5 2 6-6M1303 261l-8 1-2 1 2 2M1328 248l0 1 3-3-1-1M1318 279l-8 6 4 3M1306 258l2-1 0 4 0-2M1313 267l-2 2-1 6 0-2M1312 259l1 2-2-1 5 2M1303 255l-9 4-4-5M1323 236l-2-6 2 2M1323 232l-7-13M1312 243l0 1 1 0-1 0M1312 244l0 0 1 0" stroke="#d9a495"/>
<path d="M1317 246l-1-2 7-3 0 1M1307 256l0 1-2-1M1305 256l0 1-1-1M1294 244l0-1 1-2M1295 241l-2 0 0 0M1312 280l5 5-6-1 2 4M1302 266l-5-3 1 6M1298 269l-5 13-3 1M1316 259l1-1 9 7 3-2M1280 233l-6-3 1-3M1342 265l-3-11 4 8M1295 265l-1 1 1-2-1-1M1330 245l1-3 3-2M1314 288l-3 9 4 7M1315 304l-1-4 3 6-6 12M1308 259l-3-1 2 3-1 3M1310 273l0 1 1 2 4 10M1316 262l0 2 1 5 2-2M1290 254l-4 9-4 1M1282 264l-1 4-5-1M1316 219l5 3-6 0M1313 244l0 0 1 0" stroke="#cd90a6"/>
<path d="M1323 242l1 1 2-1M1304 256l-2 1-1 0M1293 241l-1-2-1 0M1313 288l8 11 1-4M1290 283l-5 2 4 16M1329 263l-1 2 4 1M1332 266l1-2 4 1M1275 227l-3-4-8-4M1343 262l12-7-1 7M1294 263l-1 1-3 0M1334 240l2-4 0-3 2 0M1311 318l1 5 0-1M1306 264l8 0-3-2M1315 286l-1-2 1 1M1319 267l-1 1 2 4M1276 267l-3 4M1315 222l1-1 6-3M1322 218l0-3M1314 244l0 0 0 0 1 0" stroke="#c17eb4"/>
<path d="M1326 242l1 0 0-2 4 1M1301 257l2 1-1 0M1302 258l0 0M1291 239l-3-1 0 0M1288 238l-1 0M1322 295l3 7 1-4 5 1M1289 301l-3-2-4-1M1282 298l2-5M1337 265l6 6 6-4 0 5M1264 219l1-3 5 5-1-13M1269 208l-2 9 1-15M1354 262l-3-3 5-6M1290 264l-3 3 4-1-6-1M1338 233l2 0 4-2 0-2M1312 322l-1 5 3 1M1311 262l4 5 4 4 6 3M1315 285l-3 0 5 4-2 0M1320 272l-2-3 3 2-4 1M1273 271l-3-1-5 11M1322 215l2 0 8-8M1332 207l3-5 6 3M1315 244l-1 0 1 1" stroke="#b46dc0"/>
<path d="M1331 241l2-5-4-3-1-4M1302 258l-1 1 0 0M1287 238l-2-2-1 1M1331 299l-4 0 5 0 9 0M1284 293l8 10-25-3M1349 272l-2-2 3 0M1268 202l5 6 1-13M1356 253l0 0 1 2M1357 255l4-8-1-6 1 4M1285 265l0-1-2 0 0 0M1344 229l1-2 4-2M1314 328l-2 5 6 2-2 8M1325 274l0 3 6-1-4 0M1315 289l1 1 2 1 2 0M1317 272l3 4 4 4 2-1M1265 281l0-6-2 6M1263 281l1 1-11 3M1341 205l-5-3M1315 245l0 0 0 0" stroke="#a65ecc"/>
<path d="M1328 229l0-4-3 0M1301 259l0 0 0 1M1301 260l-2 2 1-1M1284 237l1-1-1 0M1284 236l0 0-2-1M1341 299l1-1 0 0M1267 300l-5 2 2 4M1264 306l0-3-7-4M1350 270l4 2-6-1 10 4M1274 195l5-1-2 0M1361 245l1-4 3 2M1283 264l-5 4 2-3M1349 225l-1-1 5 0-1-1M1316 343l3 3 0 11M1327 276l13 7-3 0M1320 291l1 1-2 3M1326 279l1 2 0 9M1253 285l1 2 1 1M1336 202l11-2-4 1M1315 245l0 0 0 1" stroke="#974fd6"/>
<path d="M1325 225l2 1-1 0-1-1M1342 298l7-1-6-7 2 8M1358 275l-1 1 2-2M1277 194l-3-1-5-8M1269 185l-11-3-3-8M1365 243l4-3 3-3M1280 265l-1 0-5 0-2 4M1352 223l2-2 1 2M1319 357l1-2 5-2M1337 283l4 0 2 0 1 9M1319 295l2-1 1 4 3 0M1327 290l-1 0 1-4 2 3M1255 288l0-1-3 6M1315 246l1 0-1-1M1315 245l1 1 0 0 0 0" stroke="#8640e0"/>
<path d="M1325 225l0-1 1 0-7-1M1345 298l15-7 0 4 4 2M1359 274l5 1-3 6 9-3M1372 237l0 0 11-13M1272 269l-7 0 0 1 0-5M1355 223l4-3 1 1 0 2M1325 353l-2 7 7 8-2 5M1344 292l2-7 5 4-2 2M1325 298l-1-2 3 4 4 3M1329 289l3 2-1 5-3 8M1316 246l0 0 0 0" stroke="#7232e9"/>
<path d="M1319 223l1-3-2-1M1364 297l-7 3 10-3M1370 278l1 4 4 3M1265 265l-1 0-1 4M1360 223l0-4 8 1M1328 373l-2 6-3-2M1349 291l6 3 2-1M1331 303l3-5-2 3M1328 304l3-2 0 4" stroke="#5922f2"/>
<path d="M1318 219l1-2-8-1-1-2M1367 297l1-4 3 2 10 1M1263 269l-1 1-6-2 3-1M1368 220l1 0 2-2 3 0M1357 293l0 4 0-2 1-8M1332 301l1 6-3-2 2 5M1331 306l-8 7-1-2 3 3" stroke="#330efb"/>
<path d="M1318 219h0M1319 217h0M1311 216h0M1310 214h0M1367 297h0M1368 293h0M1371 295h0M1381 296h0M1361 281h0M1370 278h0M1371 282h0M1375 285h0M1274 193h0M1269 185h0M1258 182h0M1255 174h0M1369 240h0M1372 237h0M1372 237h0M1383 224h0M1263 269h0M1262 270h0M1256 268h0M1259 267h0M1368 220h0M1369 220h0M1371 218h0M1374 218h0M1330 368h0M1328 373h0M1326 379h0M1323 377h0M1357 293h0M1357 297h0M1357 295h0M1358 287h0M1332 301h0M1333 307h0M1330 305h0M1332 310h0M1331 306h0M1323 313h0M1322 311h0M1325 314h0M1316 246h0M1316 246h0M1316 246h0M1316 246h0" stroke="#1f00ff" stroke-width="4.4"/>
<path d="M1304 243l-1 1 1 1 0 2M1315 242l-1 2-7 9 0 0M1303 248l1-2 1 1-1-6M1307 259l-6-6 1 1 1 3M1317 251l0 2-4-4M1313 249l10-8M1312 249l-1 1-1 0M1316 247l4 1 4 4-3-2M1306 233l-3-2 1-1M1304 230l-6 3-3-5M1308 256l0 0-1 1M1315 246l-1 2-5 4-7-9M1306 247l0 1 0 1M1314 246l2-2-1-4M1314 255l0 2 8-7M1307 252l0 0 0 0M1319 264l0-4 1 3 1-1M1305 237l0 3 3-2M1316 255l2 2 3 1-1 1" stroke="#f3dc5b"/>
<path d="M1304 247l1-1-1 1M1307 253l-6 0 0 1M1304 241l2 1 2-1M1303 257l-2-6 1 4M1323 241l3-5 1-12M1310 250l0 3-2-2M1308 251l2-1-5 5M1321 250l5 1 3 0M1295 228l-6-8M1307 257l0-1 1 0M1308 256l0-1 1 0M1302 243l-3 1 3 7M1306 249l1 0-1 0M1306 249l1 0 0 0M1315 240l-4-3 4-1M1315 236l-3-1 3-6M1322 250l1 4-4-3 2 6M1307 252l0 1 0 0-1 1M1321 262l2 0 2 1M1308 238l1 5-1 2 4-2M1320 259l0 1 0 0" stroke="#e6bc7f"/>
<path d="M1304 247l1 0 1 0 1 2M1301 254l-6 0-9 0-1 1M1308 241l-1-3 4 0 0 2M1302 255l2-4-1-2 2-2M1327 224l-6-3M1321 221l-8-2 0 5M1305 255l2 1 0 0M1329 251l0 1 2-3 0-4M1289 220l5 5-9-3M1285 222l3-5-9 0M1309 255l1 0-1-1M1302 251l-8 5 7 2-2 1M1307 249l0 1 1 0M1315 229l0 3 1-4M1321 257l11 10 9 2M1306 254l1 0 0 2M1325 263l2-3-1 2 1 1M1312 243l4 0-5 4M1320 260l1-1 0 2 0 0" stroke="#d9a495"/>
<path d="M1307 249l2 1 1 0 1 2M1285 255l-1-6-3-1 0 1M1311 240l2-1 2 2 2 0M1305 247l0-2 1-5 5 2M1313 224l-11-1-8-6M1294 217l-8-3M1307 256l-3-1-2 6M1302 261l0-1 0 4M1331 245l2 6 4 0-1-6M1279 217l4-4M1309 254l0 1 0-1M1299 259l-6 7 2-2 5 2M1308 250l0 0 0 0M1316 228l0 0-1-3M1315 225l1 0-3-2M1341 269l-4 14 3 1M1340 284l4 7 13 6-7 1M1307 256l0 0-1 1M1306 257l0 0 0 0 1 1M1327 263l4-2 0 2 4 0M1311 247l6 7-4 3 0 10M1321 261l-4 0-1 1" stroke="#cd90a6"/>
<path d="M1311 252l0-2 0 0M1281 249l-2-2 1-3M1317 241l0 0 1 0M1311 242l-2-4-2-1M1286 214l-6-6 11 3M1302 264l-2-2M1336 245l6-2-6 0M1283 213l0 1-6-3M1277 211l-1 2 2-6M1309 254l0 0 0 0M1300 266l3 11 0-5M1308 250l0 0 0 0M1313 223l4-1M1350 298l6 8-6-3M1307 258l-1-1 0 0M1335 263l-2 0 2-1M1313 267l6-6 4 12M1323 273l-2 5 2 8M1316 262l2 1-4 1 3-2" stroke="#c17eb4"/>
<path d="M1311 250l1 2-1-2 2 2M1280 244l-13 1 5 0 0-2M1318 241l1 0 5 1 0 2M1307 237l-1-3 0 0 0 1M1291 211l-9-7M1282 204l-12-12-3-1M1300 262l0 2-2 3M1336 243l6 1-5-11 1 2M1278 207l-1-4-2 5M1309 254l1 0 0-1 0 0M1310 253l0-1 1 1M1303 272l4 11 0 5 0 3M1308 250l1 1 0 0 0 0M1309 251l0 0 0 1M1317 222l-6-7 0-3M1350 303l-5 12 7 1M1306 257l0 0 0 1M1335 262l2 0 0 2 0-1M1323 286l8 1 4 0 7-1M1317 262l-5 5 1 1-1-2" stroke="#b46dc0"/>
<path d="M1313 252l1-1 1 0 0 0M1272 243l-6 1 5 1-4 0M1324 244l-1 1 4-2-2-2M1306 235l0-3-2 0 0-3M1267 191l3 2M1270 193l0-9 0 2M1298 267l0-1 2 3M1300 269l-4-1-3 2M1338 235l4 0-2 0-2-2M1275 208l1-6 4-4M1280 198l12-1M1311 253l0-1 0 0M1307 291l2 8-5 1 3 1M1309 252l0 0 0 0M1311 212l-2-1 3-7M1312 204l-2-1-1-12M1352 316l1 6-6 3-5-2M1306 258l1 1 1 1 0 0M1337 263l3 1-3-1 3 1M1342 286l3 6-3 9M1312 266l1 3 1-1" stroke="#a65ecc"/>
<path d="M1315 251l1 0-2 2M1267 245l-7 4-4 2M1325 241l2 1 0 0M1304 229l1-1-2-1M1293 270l-3-5 1 0M1338 233l4-1 0-2M1292 197l0-2 4 2M1311 252l0 0 1-1M1307 301l-3-1 0 13M1309 252l-1 0 1 0M1309 191l12 6-1-13M1342 323l2 18-7 2M1308 260l-1 0 2 1M1340 264l1 1 3-1M1342 301l4-3-1-2 6 3M1314 268l-3 3 4 1-2 0" stroke="#974fd6"/>
<path d="M1314 253l1-1 1 2 0-3M1256 251l-5 7 0 4 0 2M1327 242l0 1 1 1 0 1M1303 227l0-4 1 1-3-1M1291 265l0-4 0 2M1342 230l-2 0-5-4-9-9M1312 251l0 0 0 0M1312 251l0 0 0 0M1304 313l0-1-8-1 0 4M1309 252l0 0-1 0M1308 252l0 0-1 0M1320 184l-7 3 9-2M1337 343l3-5-7 5M1309 261l0 0-1 1M1344 264l-3 3 3-1 3-2M1351 299l11 1 2 4M1313 272l-1 3 1 0" stroke="#8640e0"/>
<path d="M1316 251l0 2 1 0-1 0M1251 264l-1 0-5-2-5 7M1328 245l2 0 3 3 1-1M1301 223l-2 0 4 0 1-5M1326 217l4 2-6 0-1-5M1296 315l0 10-3-4 3 4M1333 343l-4-2 3 2-7-2M1308 262l0 0 0 1 0 0M1347 264l1 0-1 0 2-1M1364 304l10-6-4-2 11-6M1313 275l-2 1 1 3-1-3" stroke="#7232e9"/>
<path d="M1316 253l1 1 2 0M1240 269l-4-4-2 2M1334 247l1 3 1 1M1304 218l0-4-3-3M1323 214l-1-2 1-5M1296 325l-4 2 2-1M1325 341l2 1-3 1M1308 263l0 0 0 2M1349 263l2 1 2 1M1381 290l-1 3 2-4M1311 276l-3 1 1 1" stroke="#5922f2"/>
<path d="M1319 254l0-2 0 0 2 1M1234 267l-4-4 1 0-1 3M1336 251l-1 3 2 4 1-1M1301 211l0-4 1 0 0 2M1323 207l1-1-3 1 9-4M1294 326l1 0-3 8 3 3M1353 265l3-1-3-2 3 1M1309 278l-3-1 0-1 0-2" stroke="#330efb"/>
<path d="M1319 254h0M1319 252h0M1319 252h0M1321 253h0M1234 267h0M1230 263h0M1231 263h0M1230 266h0M1336 251h0M1335 254h0M1337 258h0M1338 257h0M1301 211h0M1301 207h0M1302 207h0M1302 209h0M1323 207h0M1324 206h0M1321 207h0M1330 203h0M1312 251h0M1312 251h0M1312 251h0M1312 251h0M1294 326h0M1295 326h0M1292 334h0M1295 337h0M1309 252h0M1308 252h0M1308 252h0M1307 252h0M1332 343h0M1325 341h0M1327 342h0M1324 343h0M1308 263h0M1308 263h0M1308 263h0M1308 265h0M1353 265h0M1356 264h0M1353 262h0M1356 263h0M1370 296h0M1381 290h0M1380 293h0M1382 289h0M1309 278h0M1306 277h0M1306 276h0M1306 274h0" stroke="#1f00ff" stroke-width="4.4"/>
<path d="M1304 251l2 0 0-3M1322 255l2 0 2 0M1326 255l4-1 4 4M1306 253l0 2-2-2M1313 240l-1-1 1 0M1312 249l0 2 1-1M1313 249l1 7-2-2 3 0M1317 253l0 0 4-3M1308 243l1 1 0-2 4-1M1311 259l-7 3 0 2-2-5M1301 251l-1 0-2 1-1 0M1311 244l-2 0-2-1M1315 250l-2 1 0-1-1 0M1314 263l1 6-9-8M1306 261l8 0M1317 256l0 0 0 1M1312 260l0 0 0 1 0-1M1309 251l-1 1 0 2M1325 257l2 1-2-1" stroke="#f3dc5b"/>
<path d="M1306 248l-1 1 2-2M1334 258l1-1M1304 253l-2 0 1-2-3-4M1313 239l-2-2 0-1M1311 236l-2 0 3-1M1313 250l1 3 1 1 0 0M1315 254l1 4-3-2M1321 250l2 0 0-2M1313 241l-1 0 1-1M1302 259l-1-2-1 5M1297 252l2 3 1 0M1307 243l-3-1 0 0-1-1M1312 250l-1-2 0 2M1314 261l-6 0-10 4M1317 257l0 0 1 1M1318 258l0 1-1-1M1312 260l1-3 0 1M1308 254l0 0 2 2 0 1M1325 257l5-1 0 2M1330 258l0-1 0 0" stroke="#e6bc7f"/>
<path d="M1307 247l0 0 0-2M1307 245l1-1 1 1 3-2M1335 257l0-1 4-1M1339 255l3-1-2 1M1300 247l2 0-2-2M1312 235l0 0-2 0M1315 254l-1 0 0 1 1 0M1313 256l1 0 1 3 1 1M1323 248l4-3-2 2M1325 247l4-3-1 0 3-2M1313 240l-3 1 3-2 3 1M1300 262l-2-3-3 4-2 1M1300 255l-2 5-3 2-1-8M1303 241l-1 2-4-1-3 2M1311 250l-1 0-3 0 0 2M1298 265l-5-2 0 2M1293 265l-8 0M1317 258l1 1M1313 258l0-1 0 0 1-1M1310 257l0 2 2 1 0 2M1330 257l4 4 1 0" stroke="#d9a495"/>
<path d="M1312 243l-2-1 2 2M1340 255l0-4M1300 245l1 0-2-1M1299 244l3 2 4-4 2 2M1310 235l0 0-3-1M1315 255l1 0 1 1M1316 260l1 1 1 4-1-1M1331 242l-1 1 2 0M1316 240l3 0 1 0 2 0M1293 264l1 0-6 1-5 2M1294 254l2 6-4 5 0 4M1295 244l0-1-2 2M1307 252l-2-2 1 1 0 0M1285 265l-1 1-5 6M1318 259l0 0 1 1M1319 260l-1-1 3 0M1314 256l0-1 0 1 0-3M1312 262l0 2 3 1M1335 261l0 0 2 2M1337 263l0 0 0 0" stroke="#cd90a6"/>
<path d="M1312 244l0-3 0 0M1340 251l2 2 1 2M1343 255l3-1-1-2M1308 244l0-4 2 1M1307 234l0-1 0 0M1317 256l2 0 2 0M1317 264l-3 3-2 0M1332 243l1-2 3-3M1322 240l1 2 0 0M1283 267l1 0-1-1M1292 269l-4 3-2 2M1293 245l0 2-1 1M1306 251l0 2-1 0M1279 272l3 0-4-4M1278 268l-4 7M1321 259l-1-3 0 1M1314 253l0-3 1 0M1315 265l-3 1 1 2M1337 263l2 3" stroke="#c17eb4"/>
<path d="M1312 241l1 1-1-2M1345 252l2 2 3-3M1310 241l0 1 3-1M1307 233l1 0-2-1-1-1M1305 231l0-1 0 1M1321 256l1 1 3-1-1 0M1312 267l-4-3 2-1-4-1M1336 238l1-2-2 1M1323 242l0-1 1 1 1 2M1283 266l-2 4-4-1-3 2M1286 274l0 1-2 1 2 0M1292 248l0 1 0-1-2 3M1305 253l0 0 0 0-2-1M1274 275l-1 2-16 11M1257 288l-11 0 5 1M1320 257l1-2 1 1M1322 256l-1-1M1315 250l0 0-2-3 1 2M1313 268l0 0 1 2-2 0M1339 266l-1-1 4 0" stroke="#b46dc0"/>
<path d="M1312 240l-1 0 2-1M1313 239l0 1-1-3 2-2M1350 251l0 1-2 1M1348 253l4-3M1313 241l4 4 2 3 0-4M1305 231l-2 1 0-2M1324 256l0-1 1-1 0 1M1306 262l2-1-2 2 0-1M1335 237l2-1 2-3M1339 233l3-4 0 1 2 1M1325 244l0 0 2 2-1 0M1274 271l0 3-8 1-1 0M1286 276l-3 1 0-1 0 2M1290 251l1-1-1 1-1-1M1303 252l0 2-2 0-1 0M1251 289l-2 6M1321 255l1-2 0 0M1314 249l-1-1 1-3 1 0M1312 270l3 0-3 1 1 1M1342 265l-1 0 2 0M1343 265l1-2-2 1" stroke="#a65ecc"/>
<path d="M1314 235l1-1 0 0M1352 250l2 3 6-1M1319 244l2 6 1 1M1303 230l0 0-3 1M1325 255l0-1 0-1M1325 253l1 0 0-2M1306 262l-1-4-3-1M1344 231l0-1-3-1M1326 246l2-4 1 4M1265 275l-1-2 1 1M1283 278l-2-1-2 2M1289 250l0 1-1-1M1288 250l0 0-1 2M1300 254l-2 0 0-1M1249 295l6 3-3-1M1322 253l-1 0 0-1M1321 252l1 0 0-1M1315 245l-1-3 0-1M1313 272l-1 2-2 1M1310 275l0 0-1 1M1342 264l1 0 2-3" stroke="#974fd6"/>
<path d="M1315 234l-1-1 1-2M1322 251l1 2-1-1M1300 231l-1 0-1 2M1298 233l0-1 0 0M1326 251l0 0 1-1 1 0M1302 257l1-1 1-2-6 0M1341 229l4-1-2 3M1329 246l3 2 0 0 2 1M1265 274l-1-1 2-1 0-1M1279 279l-2 1-2 2 4-1M1287 252l1-3 0 3-2 0M1298 253l-2 1 0 1 1-1M1314 241l1 0 0-2-1 1M1309 276l-1 2 0-1-2 2M1345 261l2-3 1-3" stroke="#8640e0"/>
<path d="M1315 231l-1-1 1-2M1322 252l1 0 1 0-2 4M1328 250l1 0 0-2 1-1M1298 254l1-6-3 2 0-1M1343 231l-1-3 2 1M1334 249l3-1 0 1 5-1M1266 271l-5 2 2-4-1 0M1279 281l-9 5-1-2-5 0M1286 252l-2 0 0 0 1-1M1297 254l-2 1 1-1-1 2M1314 240l1 0 0-1 1-1M1306 279l0-2 0 3 0-1" stroke="#7232e9"/>
<path d="M1322 256l2-6 1 3M1330 247l-1 0 2 2M1296 249l-5-1-4-2M1342 248l-2 2 1-1M1262 269l2-1 1-2M1264 284l-3-4-2 4M1285 251l-2 2 0-2M1295 256l1 2-1 1M1316 238l0-1 2-1M1306 279l0 1 0 0" stroke="#5922f2"/>
<path d="M1287 246l3 0-4-2-4-8M1341 249l1 1 2 0 1 0M1265 266l-3-1-3-4 1-2M1259 284l-3-1-4-5-1-3M1295 259l0 0 1 1-1-1M1318 236l2 0 2 2-1-2" stroke="#330efb"/>
<path d="M1314 233h0M1315 231h0M1314 230h0M1315 228h0M1324 252h0M1322 256h0M1324 250h0M1325 253h0M1299 231h0M1298 233h0M1298 232h0M1298 232h0M1329 248h0M1330 247h0M1329 247h0M1331 249h0M1287 246h0M1290 246h0M1286 244h0M1282 236h0M1345 228h0M1343 231h0M1342 228h0M1344 229h0M1341 249h0M1342 250h0M1344 250h0M1345 250h0M1265 266h0M1262 265h0M1259 261h0M1260 259h0M1259 284h0M1256 283h0M1252 278h0M1251 275h0M1284 252h0M1285 251h0M1283 253h0M1283 251h0M1295 259h0M1295 259h0M1296 260h0M1295 259h0M1318 236h0M1320 236h0M1322 238h0M1321 236h0M1306 280h0M1306 279h0M1306 280h0M1306 280h0" stroke="#1f00ff" stroke-width="4.4"/>
<path d="M1299 248l0 0 0-2-1-1M1313 252l-7 9-3 4M1297 246l0 1 4-4M1316 251l9 1 6-1-1 6M1312 247l0-2 0 3M1309 260l2-1 0 5 4-1M1308 248l0 0 4 0 2-1M1316 243l-17-3 4-4 3-13M1311 259l-1 0 3 3M1313 262l-1 4 0 1M1321 257l9-2-3 5M1319 255l-1 2-1-2M1322 250l-2-1 1-2M1321 247l-3-1M1310 255l-2-2 3 1-3-1M1323 259l1-2 1-1M1312 245l-3 1 4-2-2 2M1307 257l-1 0-3 2-4 2M1304 250l-1-1 0 3 0 1" stroke="#f3dc5b"/>
<path d="M1298 245l-1 1 1-1M1303 265l4-10-13 3M1294 258l-12 7 0-5M1301 243l-2-1 6-2M1305 240l-1-1 2 0M1330 257l5-8 5 3M1312 248l1 0-4-2M1315 263l1-1-1-1M1314 247l0-2 0 1M1306 223l-4-1 5-10M1312 267l-1-1M1327 260l2-9 9-4 4 0M1317 255l0 12-2 6-2 0M1318 246l4-6-2-7M1308 253l-3-1-4-5M1325 256l-2-2 4 1 0-3M1311 246l-2 0 1 2M1299 261l0 2 0 0M1303 253l-2 2 2 0" stroke="#e6bc7f"/>
<path d="M1298 245l0 0 1-2 0-1M1282 260l0-6 0 4M1306 239l0 3 0-1M1340 252l-2-1-2-2 4-2M1309 246l3 2-1 2-2-1M1309 249l-7-2 1 1M1315 261l6 1 3 5 1-3M1314 246l-1 0 1 0 1-3M1307 212l-7-2 6 3-4 2M1311 266l-1 1-1 3M1309 270l-1 1 0 0M1342 247l-2 1 13-14M1313 273l0 1 3 2-3 9M1320 233l-4-3 9-1M1325 229l-10 1M1301 247l1 0 0 1-1-4M1327 252l0 4 1-2M1310 248l-2 2 0-2 1 3M1299 263l-4 0-1 3 0 5M1303 255l-1 3 0 1-3 4" stroke="#d9a495"/>
<path d="M1299 242l0 0-1 0 1-1M1282 258l-11-3 6 4M1277 259l-1-3-8-6M1306 241l0-1 3-4M1340 247l5 0 4-2 1-3M1303 248l-6-2-1-4M1325 264l7-5-2 2 6-5M1315 243l-1 1 3 0-2 0M1302 215l-2-11-16-5 1-2M1308 271l-1-1M1353 234l-4-7 4 5 3-12M1313 285l-2-1 7 0M1315 230l0-10 3 0M1301 244l-1 2 2 3-3-6M1328 254l2-1 3-1 2-1M1309 251l-2 1-2 0-4 4M1294 271l0 0-5 6 1-1M1299 263l-1 3-2 2 1 0" stroke="#cd90a6"/>
<path d="M1299 241l1 0 0-1M1268 250l-18-9M1309 236l2 0 3 0M1314 236l0-1 0-1M1350 242l7-3-3-6M1296 242l-8 0-2-1 3 1M1336 256l0 2 2-2M1315 244l1 0 1-1M1285 197l0 1-7-3M1307 270l-2 4 1-2M1306 272l-1 3 3 4M1356 220l-8-6 8-3M1356 211l-1-2-20-9M1318 284l-3 0 1 2M1318 220l2-2-4 1M1316 219l-6-2M1299 243l-1 3 0 0M1335 251l4 3-1-2M1338 252l2 0 1-2M1301 256l0-2-3 2M1290 276l-3 4 1-3M1297 268l-2 3 0 0" stroke="#c17eb4"/>
<path d="M1300 240l1-2-1 0 1 0M1250 241l-1 0-3-2M1314 234l1 0 3 1M1354 233l6 3-3 5 1-3M1289 242l-5-1-1-1M1338 256l5-5-5 3 5-3M1317 243l0-1 2-2 1 1M1278 195l3-1 0 3-3-8M1308 279l-2 1 1-3M1335 200l-1 2 3-9-5 8M1316 286l0 0 2 2 1 2M1310 217l-3-11-2 1M1305 207l3-3-5-4M1298 246l-6-4-1 0 1-2M1341 250l3 2-1 1 0 0M1298 256l1 1-2 0-1 1M1288 277l-1-1-1 3-2-3M1295 271l0 1-1 2-1 2" stroke="#b46dc0"/>
<path d="M1301 238l1-1 1 0 1 0M1246 239l-5-1-1-2M1240 236l-6-7-9 9M1318 235l-1-3 0-2M1358 238l-1-1 11-4 5-3M1283 240l-2 0 0-1M1343 251l1-7 0-2 0-5M1320 241l1-2 1-1 0-1M1278 189l1-8-4 5 4-10M1307 277l-1 2 1 1M1307 280l0 2M1332 201l-2-9-11 8M1319 290l5 3-1-2 6 5M1303 200l-3 0M1292 240l-2-4 1-2-1-1M1343 253l5 0-1 0M1296 258l-1 4 1 1 0-1M1284 276l-5 1-2-1 1-3M1293 276l0 1-1 2 1 2" stroke="#a65ecc"/>
<path d="M1304 237l0 0 0 0M1225 238l9 1-10-4M1317 230l4 4 0-1M1321 233l2 2 1-3M1373 230l2-6-7-4M1281 239l-3 0 0 2M1344 237l0 0-3-4M1322 237l1 0-1-1M1279 176l-9-4-2-1M1307 282l5 4 2 3M1319 200l-10 3-4 9 0-3M1329 296l6-2 4 5M1339 299l-3 2 0 3M1300 200l-9-2-4-6M1290 233l0 1 1-1M1347 253l1 0 4 0-3 1M1296 262l1 2 0 0M1278 273l-3-1 2-1M1293 281l-3 1 0 3" stroke="#974fd6"/>
<path d="M1304 237l1 1 0 0-1 0M1224 235l-2-4-1 3M1324 232l0 2 1 0M1368 220l3-1-6-4-1-2M1278 241l-2 2-2-1M1274 242l-6 0 3 2-4 2M1341 233l4-2-6-4 0-4M1322 236l0-1 2 1 1-2M1268 171l2-4-6 0 1 4M1305 209l-2 1-3 15M1336 304l2-2 2-2-1 3M1291 233l-3-5-4-1 0-3M1349 254l0-3 1 3M1297 264l-1 1 0 2 0 4M1277 271l0-3 0-2 0-3M1290 285l-2 0 0 4-5 0" stroke="#8640e0"/>
<path d="M1304 238l0 0 2 1 0 1M1364 213l0-1 4-7 5-1M1267 246l-5 2-2 0M1339 223l0-1 1-10-1 0M1325 234l0 0 2 0 0-1M1265 171l-4-11 5-2 0-4M1300 225l-6 16 1-10 10 7M1339 303l5 5 2 1 2 6M1284 224l-2-2-4-2 0 0M1350 254l2-3 1 1 1-3M1296 271l0 0-1-1 0 4M1277 263l2-4-1 0 2 1M1283 289l2 3-2 3-5 2" stroke="#7232e9"/>
<path d="M1306 240l1 0 0 0M1373 204l2-7-1 6M1339 212l4-2 2-4M1327 233l3 0 0-1M1266 154l-7-7-9-2M1305 238l-5 14 4 15M1348 315l-4 0 3 0M1278 220l0-1-1 0M1354 249l0 1 1-2M1295 274l0 2-1 0M1280 260l-1-3 2 1M1278 297l0 5 0-1" stroke="#5922f2"/>
<path d="M1307 240l1 0-1 1 0 0M1374 203l0-5 3 2 5-5M1345 206l0-2 1 0-1-5M1330 232l-1 0 3 1 2 1M1250 145l1 1-3-6-3-8M1277 219l-2-2 1-1-3 2M1294 276l-1 0-2 0 1 1M1281 258l-1 2 3-4 1-1M1278 301l-1 3-5-2 5 2" stroke="#330efb"/>
<path d="M1307 240h0M1308 240h0M1307 241h0M1307 241h0M1374 203h0M1374 198h0M1377 200h0M1382 195h0M1271 244h0M1267 246h0M1262 248h0M1260 248h0M1345 206h0M1345 204h0M1346 204h0M1345 199h0M1330 232h0M1329 232h0M1332 233h0M1334 234h0M1250 145h0M1251 146h0M1248 140h0M1245 132h0M1295 231h0M1305 238h0M1300 252h0M1304 267h0M1346 309h0M1348 315h0M1344 315h0M1347 315h0M1277 219h0M1275 217h0M1276 216h0M1273 218h0M1353 252h0M1354 249h0M1354 250h0M1355 248h0M1294 276h0M1293 276h0M1291 276h0M1292 277h0M1281 258h0M1280 260h0M1283 256h0M1284 255h0M1278 301h0M1277 304h0M1272 302h0M1277 304h0" stroke="#1f00ff" stroke-width="4.4"/>
</g></g>
<path d="M275.3 11.8V113.3H379.9" stroke="#8a8a8a" stroke-width="0.9" fill="none"/>
<path d="M273.3 88.4H275.3M300.9 113.3V115.3M273.3 62.5H275.3M327.6 113.3V115.3M273.3 36.7H275.3M354.3 113.3V115.3" stroke="#4d4d4d" stroke-width="0.7" fill="none"/>
<text x="272.3" y="91.5" font-size="8.6" text-anchor="end" fill="#222" font-family='"Liberation Sans", sans-serif' >-50</text>
<text x="300.9" y="121.8" font-size="8.6" text-anchor="middle" fill="#222" font-family='"Liberation Sans", sans-serif' >-50</text>
<text x="272.3" y="65.6" font-size="8.6" text-anchor="end" fill="#222" font-family='"Liberation Sans", sans-serif' >0</text>
<text x="327.6" y="121.8" font-size="8.6" text-anchor="middle" fill="#222" font-family='"Liberation Sans", sans-serif' >0</text>
<text x="272.3" y="39.8" font-size="8.6" text-anchor="end" fill="#222" font-family='"Liberation Sans", sans-serif' >50</text>
<text x="354.3" y="121.8" font-size="8.6" text-anchor="middle" fill="#222" font-family='"Liberation Sans", sans-serif' >50</text>
<text x="327.6" y="6.6" font-size="8.7" text-anchor="middle" fill="#1a1a1a" font-family='"Liberation Sans", sans-serif' >DKO/p85β-wt</text>
</g>
<text x="327.6" y="132.1" font-size="8.9" text-anchor="middle" fill="#1a1a1a" font-family='"Liberation Sans", sans-serif' >x (μm)</text>
<g>
<path d="M410.6 11.8V113.3M398.3 101.4H502.9M437.3 11.8V113.3M398.3 75.5H502.9M463.9 11.8V113.3M398.3 49.6H502.9M490.6 11.8V113.3M398.3 23.7H502.9" stroke="#e8e8e8" stroke-width="0.6" fill="none"/>
<path d="M423.9 11.8V113.3M398.3 88.4H502.9M450.6 11.8V113.3M398.3 62.5H502.9M477.3 11.8V113.3M398.3 36.7H502.9" stroke="#cacaca" stroke-width="0.75" fill="none"/>
<clipPath id="cl398_11"><rect x="398.3" y="11.8" width="104.6" height="101.5"/></clipPath>
<g clip-path="url(#cl398_11)"><g transform="scale(0.25)" fill="none" stroke-linejoin="round" stroke-linecap="round" stroke-width="2.5">
<path d="M1797 248l1 0-1 1 4 1M1804 241l-3 4-4-1M1806 251l1 0 2-15M1802 254l-2 3 3 0-2-4M1805 248l-11 1 1-10M1801 242l2 2-11-2M1802 240l2 4-7 4M1797 248l0-3M1788 259l-4 0 1 1 0-2M1804 239l1-7 2-8-3 5M1798 252l0-1 0 0M1811 241l6-4-3-12 3 2M1808 246l-6-3 3 6 0 1M1812 253l-2 0-1 1M1806 239l2-6 2-3M1809 248l0 0 0 1M1804 250l1-3-4-1M1799 244l1-2-4 0" stroke="#f3dc5b"/>
<path d="M1801 250l0 2 2 2M1797 244l-5-16-7 11M1785 239l2 4-1 6M1809 236l6-4-7 6 7-4M1801 253l-4 0 1 1M1795 239l-14-1 5-3-6 0M1792 242l1-1 7-4M1800 237l-12 6-7 0M1797 245l-5 7-7 8M1785 258l0 0 0 1M1804 229l2-9-2-6M1798 251l0 1-3-1M1817 227l3-6 4-1M1805 250l-3-3-3 7M1809 254l0-3-1 1-1-1M1810 230l3 0 4-4 1-2M1809 249l0 0 0-1M1801 246l-1-5 1 1M1801 242l1-10-5-6M1796 242l1-1-1-3M1796 238l-3 1-3-2" stroke="#e6bc7f"/>
<path d="M1803 254l0 0 0-2 4 8M1786 249l-6 4-12 12M1815 234l-1-11 4 2 1-6M1798 254l-7 0 1-3 3-1M1780 235l-8 2 3-10M1781 243l-16 6 3-9M1785 260l5-1-3 6M1787 265l4-4M1785 259l-2 2-1 1 0 2M1804 214l2 2-5-11-2-5M1795 251l1-1 1 0M1797 250l-2-2-5-1-1-2M1824 220l3-2-3-2 4 1M1799 254l1 6-2 1 4-3M1807 251l0 1 0 0M1818 224l-5 1 7 3M1809 248l0 0 0-1 0-1M1809 246l0 1 1 0M1797 226l1 0-2 0M1790 237l-4-1 2 1" stroke="#d9a495"/>
<path d="M1807 260l-2-1 2-1-2 3M1768 265l-9 7-2 11M1819 219l-7-11 3-1M1795 250l-5 1 2 3-2-6M1775 227l-3-3-5 4M1767 228l1-3-6-2-5 2M1768 240l-16 5 1 7M1753 252l3 0-5 7M1791 261l-2 0 1 1M1782 264l-2 1 1 0M1799 200l6 2-11-6M1789 245l0 1-2-1M1828 217l1-4 0 0 2 0M1802 258l4 0-2 12 7-7M1807 252l-2-1-1-2M1804 249l0-1-1 1-1-1M1820 228l0-6-1 2M1819 224l6-1 8 0 2-1M1810 247l1-1 0 0M1796 226l-3-7 3-2M1796 217l-5-6-3-2M1788 237l-3 2-2 0" stroke="#cd90a6"/>
<path d="M1805 261l3 4-1 3M1757 283l-18 0 0 12M1739 295l3-14-7 12M1815 207l-6 1-2-4M1790 248l-4-4-1-8M1757 225l-1-7 2-2M1751 259l1 7M1790 262l-1 1 1 6M1790 269l5 0M1781 265l-3 1 1 2 1 0M1794 196l-2-11 6-5-4 4M1787 245l1-2-4 2M1831 213l6-2-3-5M1811 263l-6 4 8 2M1802 248l-1 0-1 0M1835 222l0 0 0-1M1811 246l0-1 1 0 0 0M1788 209l-1 0M1783 239l-3 1-1 0M1779 240l-5 0 1 0" stroke="#c17eb4"/>
<path d="M1807 268l-1 1-3 3 3 0M1735 293l1 11-14 9M1807 204l-1-6-6 6-1-1M1785 236l-2-10 3-4-1-5M1758 216l-6-21 3 2M1752 266l-1 0-4 5M1795 269l-2 5-1 1M1792 275l-1 5-2 0M1780 268l-4 2 1 2-1 4M1794 184l1-2-3-2 3 1M1784 245l1-5-1 1M1834 206l5 1-4-2 3 3M1813 269l2 4 2-7 1 8M1800 248l-1 0-1 1M1835 221l3-1-1-3M1812 245l1-1 0-2M1787 209l6 0-5-3M1775 240l0-1-8 0" stroke="#b46dc0"/>
<path d="M1806 272l-1 1-1 2 2 1M1722 313l1 3-4-3M1799 203l-7-3-1-4 6 6M1785 217l2-8-1 0 6 2M1755 197l0-3 2-4-4-5M1747 271l3 9 4 4M1754 284l2 6-3 8M1789 280l2-1M1776 276l1 4-6 0M1795 181l4-9 4-2M1784 241l-2-2 1-2M1783 237l-1 1-1-3-5-2M1838 208l1-7-4 1 1-2M1818 274l-4 3 5-4 1 3M1798 249l-1-1 0-1 1 1M1837 217l0 7 2-4 1-2M1813 242l0 1 0 0M1788 206l3 1 1-2M1792 205l1 0 0-2M1767 239l1 0 2 0" stroke="#a65ecc"/>
<path d="M1806 276l0-3 2 3M1719 313l-20 0 2 0M1701 313l-7-5-15-2M1797 202l-3-4-5 3M1789 201l5 0 7-13M1792 211l3-8 0 2M1753 185l-1-6-4 2M1753 298l-1-6 8 18M1791 279l-2 2-2-1M1771 280l2 1-4 0-2 2M1803 170l6 10 9 2 2 2M1776 233l1 0 0-1M1836 200l-1-5 0-1M1820 276l5-4 2 8M1798 248l-1 0 0-1M1840 218l1 3 2-7M1813 243l-1-1 1-1M1793 203l5-2 8 1M1770 239l-2 0 0-1M1768 238l-2 2 0-3" stroke="#974fd6"/>
<path d="M1808 276l0 2 2 2 4 1M1679 306l9 1-9-8M1801 188l-12-2 0-1 0-11M1795 205l3-1 0-2 3-1M1748 181l-4-7-3-3M1760 310l0 9-3 6M1767 283l1-1 0 4M1820 184l2 4 3 7M1777 232l1 2-1 0M1835 194l-3 0-3-4-5 1M1827 280l5-4 2 2 5 0M1797 247l0 0-1-1M1843 214l5 1 3-3M1813 241l0 0 0-1M1813 240l-1 1 1-1 1 0M1806 202l-4 0 3-2M1766 237l-1 1 0-3" stroke="#8640e0"/>
<path d="M1814 281l-1 0 2 3 2-1M1789 174l0-5-3-1 6-5M1801 201l2 1 7 4-1-2M1741 171l5 5-20-5-10 5M1768 286l-2-3 2 4-4 2M1825 195l-5-1 4-2-2 5M1777 234l-7-2 1-1M1824 191l4-7 1 0-2-1M1839 278l5-4 0-1-1 0M1796 246l1 0 0 0 0 0M1851 212l1-3-6 3 7-7M1814 240l0-1-1 0" stroke="#7232e9"/>
<path d="M1817 283l1 0 6 2M1792 163l-2 5 1-6M1809 204l-1-2 4 1M1716 176l-4 6-1-6M1764 289l-1-1-1 2M1822 197l5 6-3 4M1827 183l-1-2-4-1M1843 273l-2-1 9 3M1797 246l0 0 0-2M1853 205l-1-2-3-7" stroke="#5922f2"/>
<path d="M1824 285l-1 1 1 0 1 1M1812 203l-4 0 2 1 2-3M1762 290l3-2-3 2-2 1M1824 207l2-3-7 12 5 0M1822 180l3-4-4-3 0 1M1850 275l-6 3 5 5-4 6" stroke="#330efb"/>
<path d="M1824 285h0M1823 286h0M1824 286h0M1825 287h0M1786 168h0M1792 163h0M1790 168h0M1791 162h0M1812 203h0M1808 203h0M1810 204h0M1812 201h0M1726 171h0M1716 176h0M1712 182h0M1711 176h0M1762 290h0M1765 288h0M1762 290h0M1760 291h0M1824 207h0M1826 204h0M1819 216h0M1824 216h0M1778 234h0M1777 234h0M1770 232h0M1771 231h0M1822 180h0M1825 176h0M1821 173h0M1821 174h0M1850 275h0M1844 278h0M1849 283h0M1845 289h0M1797 246h0M1797 246h0M1797 246h0M1797 244h0M1846 212h0M1853 205h0M1852 203h0M1849 196h0M1813 240h0M1814 240h0M1814 239h0M1813 239h0" stroke="#1f00ff" stroke-width="4.4"/>
<path d="M1814 250l1 0-4 4 6 4M1807 247l3 0-6 2M1804 249l-10-8M1796 249l-1 0 0 0 0 0M1806 251l0 0 0 0 0-1M1803 247l5-2 5 8M1793 249l2 3 2 4 2-2M1808 251l-4-1 4 6M1808 256l-2 0M1803 244l-5-6-2-7-3-7M1803 256l0 1 0-2 1 3M1805 252l2 2 0 0M1807 254l-3-4 1 8M1804 245l0 0 1 0M1806 256l-1-2 1 3M1806 257l0-4 1 1M1806 250l3-1-11-9 4-4M1806 255l-2-1 2-3M1800 250l6-1 0 3M1803 247l0-1-1 0 0 0M1804 245l0-1-1 2M1803 246l1-2-1 1" stroke="#f3dc5b"/>
<path d="M1817 258l-1-2 1 6M1794 241l0 1-4-3M1795 249l0 0 0 0M1806 250l-1 1 0-2M1813 253l-1 4-8 3 5 11M1799 254l1 1 3-1M1806 256l-7 8-6-1M1793 224l1-3-1-2M1804 258l-1-1 1 1M1805 258l0 3M1805 245l0 0 0-1M1807 254l2-4M1802 236l-9-4 4 3M1806 251l-3-9-6 2M1806 252l0-3 3 1M1809 250l2 0 1 0M1802 246l0 0-1 0M1803 245l0-2" stroke="#e6bc7f"/>
<path d="M1817 262l-1-4 7 11-4 1M1790 239l-12-15 5 6M1783 230l-4-6M1795 249l-2-1 0 0 0 0M1805 249l0 0 0 0 1-1M1809 271l0-4 6 9M1803 254l4-2-3-6-1-1M1793 263l2-2-2 9M1793 270l3-3M1793 219l4-2-7-2 3 0M1804 258l1 1-1 1 1 1M1805 261l3-5-9 4M1799 260l2 2 3 2M1805 244l1 0-1-1M1805 243l1 1-1-1 1-1M1809 250l1 0 0 0M1810 250l1-3 2 0M1797 235l-6 0 5-2-2-2M1797 244l3-3-3-2M1797 239l2 1-2-4-2 3M1812 250l2 1 3 0M1801 246l0 0 0-1 0 0M1803 243l1 1-1 0M1803 244l1-1-2-1" stroke="#d9a495"/>
<path d="M1819 270l7 1 0 1 4 3M1779 224l-1 3-5 1M1793 248l0-1-1 1 0-1M1806 248l0 0 0 0M1815 276l16 2 2 14 0-2M1803 245l3-4-1 4 1-3M1796 267l0 1-4 4M1793 215l1 1 1-9-3-10M1805 261l1 0 0 1M1804 264l0 2M1806 242l0 0 0 1M1813 247l0 0M1794 231l-3-7-9 2 0-6M1795 239l2-1 0-1M1817 251l1 0 1 0M1801 245l0 0 0-2 0 1M1802 242l-1 0" stroke="#cd90a6"/>
<path d="M1830 275l-1 0 1 3M1773 228l-4-2-2-8M1767 218l-9 1M1792 247l-1 1 0 0M1806 248l-1 0 0-1 0 0M1833 290l3 5 1 4M1837 299l3 9-1-1M1806 242l1-2 2 1M1792 272l-6 7-6 1M1780 280l-8-1M1792 197l5 1 1-5M1806 262l1 0 1 2-1 0M1804 266l-1-1-1 3M1802 268l-1 4 5-2M1806 243l0-1-1 0M1813 247l0 1 0-2M1813 246l2 2 1-1M1782 220l5-5 0 5M1797 237l-4-1 2-2M1819 251l-1-2 1 0M1801 244l0 0 0-1M1801 242l0 0-1-3M1800 239l0-1 1-1" stroke="#c17eb4"/>
<path d="M1830 278l1 2-1-5 5 5M1758 219l-4-3-2 0M1752 216l-14-5 5 0M1791 248l0-1 0 0-1 0M1805 247l0-1 0 1-1-1M1839 307l1 12-15 7 5-5M1809 241l2 1 2 1-1-3M1772 279l1 1 1 3M1774 283l-8 1-4 4M1798 193l7 0-3 4 7-9M1807 264l0-2 1 1 0 1M1806 270l-3 2 8 4M1805 242l-2 0 0 0M1816 247l-1 2 2-1M1787 220l-5 2-3-4 8 2M1795 234l-2 1-1-6M1819 249l0 0 3-3 1-1M1823 245l0-1 3 1M1801 243l0-1 0-1 0 1M1801 237l-1 0-3 0" stroke="#b46dc0"/>
<path d="M1835 280l2 1 4 0 1 5M1743 211l-4-2M1790 247l0 0 0 0-1 1M1804 246l0-1-1 0M1830 321l-1 7-2 11M1812 240l-3 2 8-2-2 1M1762 288l-5 7M1809 188l0-5 1-6-2 1M1808 264l1 1 4 0M1811 276l2 1-2-1M1811 276l2-1M1803 242l0 1 0 0M1803 243l-2-1 0 1 0 2M1817 248l1-1 0 0M1818 247l-1-2M1787 220l-10-17 7 6-4-10M1792 229l3-1-4-2M1791 226l-1 1 3-9-1 0M1826 245l-4-2 1-3M1801 242l0-2 0 1 1-1M1797 237l-1-1 1-1M1797 235l-1 0" stroke="#a65ecc"/>
<path d="M1842 286l-2 1 3 3M1739 209l-3 3-1 4M1789 248l0-1 0 0M1803 245l1-1 0-1 0-1M1827 339l0-5-3 24-1 2M1815 241l9-2-1 0M1757 295l-2-1-4 6M1808 178l7 2 0-3M1813 265l2 1-1-1-1 1M1813 275l1 3 6 2M1801 245l-1-1 0 1M1817 245l3-1 0 0M1780 199l2 5-8-8M1792 218l2 3-4-8M1823 240l4 0-3-4M1802 240l-1 0 0 0M1796 235l0 0-2-1" stroke="#974fd6"/>
<path d="M1843 290l6-2 4 2 0-1M1789 247l0 0 0 0 0 0M1804 242l0 0 0-1M1823 360l-8-4-3 15M1823 239l2 0 4-4-3-2M1815 177l5-3 0 5 0 1M1813 266l-1 1 1 1M1800 245l-1 1 1-1M1774 196l-1-5 1 2 1-4M1790 213l10-3-3-2M1824 236l-1 0-2-6M1821 230l1 0 0 1M1801 240l1 0 0 0 1-1" stroke="#8640e0"/>
<path d="M1853 289l1-3 2 0 1-5M1789 247l0 0-1 1 0 1M1804 241l0-1 0 0 0 0M1812 371l2-8 3 13-10 3M1826 233l-1 1 4 0 0-4M1820 180l-1-3 11-4 5-3M1813 268l2-1 1 2-1-1M1800 245l-1 0 0 1M1775 189l3-2 3 1-1-1M1797 208l1-1-2-3M1803 239l-1 0 0 0 1 0" stroke="#7232e9"/>
<path d="M1857 281l4 2 13 1M1788 249l-2 0 0 2M1804 240l0 0 0 0M1807 379l0 4 0 2M1829 230l4-5 2-6M1835 170l-4-3 6 9M1815 268l1 2-1-2M1780 187l2 2 6 0M1803 239l0 0 0-1" stroke="#5922f2"/>
<path d="M1874 284l-2 2 5-2-1 1M1786 251l0 0 0 1-1-1M1804 240l1 0 0-1-1-1M1835 219l1-2-2 1 2-2M1837 176l9 2 3 4 3 2M1815 268l1 3 0 4 2-1M1788 189l7-1 15 8-2 3M1803 238l0 0 0 0 1 0" stroke="#330efb"/>
<path d="M1874 284h0M1872 286h0M1877 284h0M1876 285h0M1786 251h0M1786 251h0M1786 252h0M1785 251h0M1804 240h0M1805 240h0M1805 239h0M1804 238h0M1817 376h0M1807 379h0M1807 383h0M1807 385h0M1835 219h0M1836 217h0M1834 218h0M1836 216h0M1837 176h0M1846 178h0M1849 182h0M1852 184h0M1815 268h0M1816 271h0M1816 275h0M1818 274h0M1799 246h0M1800 245h0M1799 245h0M1799 246h0M1788 189h0M1795 188h0M1810 196h0M1808 199h0M1800 210h0M1797 208h0M1798 207h0M1796 204h0M1823 236h0M1821 230h0M1822 230h0M1822 231h0M1803 238h0M1803 238h0M1803 238h0M1804 238h0" stroke="#1f00ff" stroke-width="4.4"/>
<path d="M1809 244l-1 0 2-1-5-2M1794 253l1 2-2 0 2-1M1793 241l0 1 2 1 4-3M1811 249l-1-3 3-3-1-2M1802 249l2 0 0-2M1804 247l-3-2M1808 254l-2 0-2 1M1811 252l0 3 2 1M1813 256l1 1 6 2M1807 257l-3 0 2-3 3-7M1804 246l1 0 0 4 1 4M1812 246l2 0-2-2 0 0M1800 253l-3 4 3-2-3-1M1798 250l-3 1 4 0M1811 256l-2-1 2-1 0-1M1804 248l0 5-4-8M1812 249l1 0-1 2 0 1M1794 243l-3 2-3 0M1788 245l0 0" stroke="#f3dc5b"/>
<path d="M1805 241l1 1-4 0M1795 254l0 1 2 2M1799 240l1-1-1-1M1812 241l-1-1 3-2M1801 245l-2-6-3-1M1804 255l-2-1 2 0M1804 254l-1 1-1 1M1820 259l4-2M1809 247l-4 3-2-1M1806 254l-1-4 1 2M1812 244l4-2-1 2M1797 254l-5 2 5 2M1799 251l-2 1-7 3 0-3M1811 253l-2 2-1-1M1800 245l-5-1-11 1M1784 245l-4 0 5 2M1812 252l1 2 0 1M1788 245l-2 3 2 3" stroke="#e6bc7f"/>
<path d="M1802 242l2-2-6 0 1 0M1797 257l0 0 1 0-1 1M1799 238l5-2 0 0 2 0M1814 238l-1 0-2 1 2 0M1796 238l7 6-2-14M1801 230l4-1M1802 256l2 0-3 2M1824 257l-2 4 3 0M1825 261l1 3 5 2M1803 249l1 1-1 1 2-3M1806 252l-4 4 2 3-4 1M1815 244l-2-1 3-4 0 0M1797 258l-9 8 2 5-6-5M1790 252l-4 2-1-3 3 0M1808 254l-2 0-1-2-1 0M1785 247l-11 3M1813 255l1 2 0-1 0 1M1788 251l-3-2 2-2M1787 247l-2 5" stroke="#d9a495"/>
<path d="M1799 240l-3 1 1 1-2-1M1797 258l3-1 0 4 2-1M1806 236l1-2 2 0-1-2M1813 239l0-1 3-1 3 1M1805 229l0-10 3 3M1801 258l1 0-1 2M1831 266l0-1M1805 248l-8-3-8-1 2 1M1800 260l1 3-2 1-3 4M1816 239l1-1 1-1M1784 266l-4 16 1-7-4 3M1788 251l2-2-3 0M1804 252l-2 0 2 2-3-2M1774 250l-15 0-12 12M1747 262l1-4 3 1M1814 257l1 2 0 2 3 1M1785 252l-5 1-4-1" stroke="#cd90a6"/>
<path d="M1795 241l1-4-6-1M1802 260l1 0 2 2M1808 232l5-3 2-4M1819 238l0 0-2-3M1808 222l10-3 1-5M1819 214l4-5M1801 260l0 0-1 1M1831 265l4 1 0 0M1835 266l-3 0 4 3M1791 245l-3 2-3-5M1796 268l4 0-4-1M1818 237l-1-3-1 0-3 0M1777 278l-6-3-6 4M1787 249l-1-3-2 0M1801 252l-2-2-1 1M1751 259l-4-7-1 10M1818 262l-2 2-1 2M1776 252l1 0-2 2M1775 254l-1 2" stroke="#c17eb4"/>
<path d="M1790 236l1-2 1 0-2 0M1805 262l0-1 2 0 0-1M1815 225l0 0 0-6 0-1M1817 235l2 2 3-1-1-1M1823 209l5 0 1-4M1829 205l0 1 7-9M1800 261l0 1-4 1 0 0M1796 263l-2 0 0 0M1836 269l-2 3 4-3M1785 242l-7 1-1 3-4 1M1796 267l1-2-5 5-3 0M1813 234l2-5 2 2 0-3M1765 279l-10-7-1 6-7 3M1784 246l-4-3 2-5-2 0M1798 251l-1-3-1-1 0-1M1746 262l-3 5-5 2M1738 269l-7 1M1815 266l0 4-1-3-1 0M1774 256l-1-1-1 0M1772 255l-2 7-2 2" stroke="#b46dc0"/>
<path d="M1790 234l-6 1-5 4 1-1M1807 260l-1 1 0-2 3 0M1815 218l3-1-1 0 0 1M1821 235l2 0 0-2 2-1M1836 197l-4-1M1794 263l-3 1 2 1M1838 269l1 2-1 1M1838 272l2 1M1773 247l-1-1 1 1-1-3M1789 270l4 2-2 2-5-4M1817 228l-3 3 0-3M1747 281l-1 3-8-1 5 1M1780 238l-4-1-1-1 1 1M1796 246l-4 1 0-2 1-2M1731 270l1 6-5 7M1813 267l2 2 1-1-1-1M1768 264l0-1" stroke="#a65ecc"/>
<path d="M1780 238l-2 2-1-1M1809 259l0-1 4 1M1817 218l0-2 0 2M1825 232l1 1 2-3M1832 196l10 2-6-11M1793 265l-3-1 0 0M1840 273l10 1-3-1M1772 244l-1 3-10 2M1786 270l0 1-5-2M1814 228l3-4 2-4-4-5M1743 284l1 1-4-3M1776 237l4-4-3-7M1777 226l0 1 1-4M1793 243l0 1 0 0M1727 283l-2 9 0 13M1725 305l-3 5-5 0M1815 267l-6 2 0-1M1768 263l1 2-1-2" stroke="#974fd6"/>
<path d="M1777 239l-4-1 2 0-5 0M1813 259l1-1 0 0 0-1M1817 218l-1-1 1-2 0 0M1828 230l2 0 0-1-2 1M1790 264l0 0-1-1M1789 263l-1-1 1 4M1761 249l-9-3 4 4-6 2M1781 269l3-6-2-4-2 1M1815 215l8-3 1-2M1740 282l1-7-12 1-6-6M1778 223l-1-3 0-2 4 0M1793 244l0-3 1-1-2-1M1809 268l1 0-4 0-1-1" stroke="#8640e0"/>
<path d="M1770 238l1 0-3 0 0-3M1814 257l-1-2 4 1 1 0M1817 215l-3 2 0-4-2-4M1828 230l0 1 0-1 2-1M1750 252l3-1-2-1-2 4M1780 260l2 1 1-1 1-6M1824 210l4 0 1-3-1 2M1723 270l-6 1-1 3-9-13M1781 218l-4-3 5-1-4-3M1792 239l1-2 0-2-2-1M1805 267l-3 0 2-2-5 2" stroke="#7232e9"/>
<path d="M1768 235l-4 0 2-1M1818 256l2 0 2-1M1812 209l1 0 0-4M1830 229l2-1-1 2M1749 254l-9-3-1-1M1784 254l2-2 3-4M1828 209l7-1-1 1M1707 261l1 2-4 2M1778 211l0-3-2 0M1791 234l0-3-3-3M1799 267l0 1-2 1" stroke="#5922f2"/>
<path d="M1766 234l-4 0-1-4-1-2M1822 255l1-1-1 4 2-1M1813 205l2-1-1 1-1-1M1831 230l1-1 3 1-2 0M1739 250l-1 1-5 1 2-1M1789 248l0-5-2 1 1 0M1834 209l3-2 6 7 0-2M1704 265l-8-2 4-2-1 3M1788 228l1 0 1-2-1-1M1797 269l-2-1-1-1 0 1" stroke="#330efb"/>
<path d="M1766 234h0M1762 234h0M1761 230h0M1760 228h0M1822 255h0M1823 254h0M1822 258h0M1824 257h0M1813 205h0M1815 204h0M1814 205h0M1813 204h0M1831 230h0M1832 229h0M1835 230h0M1833 230h0M1790 264h0M1789 263h0M1788 262h0M1789 266h0M1739 250h0M1738 251h0M1733 252h0M1735 251h0M1789 248h0M1789 243h0M1787 244h0M1788 244h0M1834 209h0M1837 207h0M1843 214h0M1843 212h0M1704 265h0M1696 263h0M1700 261h0M1699 264h0M1782 214h0M1778 211h0M1778 208h0M1776 208h0M1788 228h0M1789 228h0M1790 226h0M1789 225h0M1797 269h0M1795 268h0M1794 267h0M1794 268h0" stroke="#1f00ff" stroke-width="4.4"/>
<path d="M1800 247l-2-4 2-4M1805 248l6 4-7-7M1796 245l0-4 2 6M1798 252l1 0 1 1M1800 256l-1 0-7 6-4-1M1804 255l0 1 1 0M1802 250l0 1 0-2-3 1M1800 250l-1-3-1 1M1804 257l0-4 13-1-5-6M1798 244l5-4 7 11-2 0M1815 246l-2-2 2-3-1-1M1803 249l-2 1-3-2M1798 248l1 2M1793 256l-1 1-2 0M1790 257l2 1-3-1M1799 267l-3-1 0-5M1801 245l0 0-2 0M1802 258l1 2 1-2" stroke="#f3dc5b"/>
<path d="M1800 239l2 1-9-23-3-1M1804 245l4 1 2 5M1810 251l4-10-1 0M1798 247l-7-9 1 1M1800 253l0 0 1-1 0 1M1788 261l-2 4-4-3M1805 256l1 0 0 0 1 0M1799 250l-1 2 1 1M1798 248l3 1-2-3M1812 246l1 3 8-4M1808 251l1 1-5 9M1814 240l3 0-7-1M1799 250l-4-2-3 1M1789 257l-3 2M1796 261l-2 16-2-9M1792 268l-7 1-2 10M1799 245l2 0-2 4-2 5M1804 258l0 0 3-3-2-2" stroke="#e6bc7f"/>
<path d="M1790 216l12-17-11 2M1813 241l8-11 3-6M1792 239l-17-12 5-6-8 3M1772 224l7-6-5-6M1801 253l4 1 1 1M1782 262l4 2-6 2-6 3M1807 256l2 0 1-1M1799 253l0-1-2 6-2 2M1799 246l1 1-2-4M1798 243l-3 3-4 1 1-3M1821 245l4-11-9 3 10-15M1804 261l-1 2-2 3 4 8M1810 239l2-2-1-4 0-3M1792 249l-1 0 1 3M1792 252l-4-2M1786 259l-1-2-2 1M1783 258l-1 2-1 2M1783 279l3-2M1797 254l7 6 3-1M1805 253l0 1 1-2" stroke="#d9a495"/>
<path d="M1791 201l4 3 1 0M1796 204l3-5-12-9 3 0M1824 224l3-1-6 1M1821 224l16-1 3 3M1774 212l2 5-4-11M1806 255l0 1 0 0M1806 256l1-1 1 0 1 1M1774 269l-7 4 1-1-4-3M1810 255l1 0 1-2 1 1M1795 260l2 1-4 0 0 0M1792 244l-4 1 1 0M1826 222l-11-6-3 1-2-13M1805 274l-3 3 4 6 1 10M1811 230l-4 0-2-3 2 3M1788 250l1 2-1-1M1781 262l-1 1M1786 277l-12 4-7 3M1767 284l-5-6 2 0M1807 259l1 5 5-1 1-2M1806 252l3 1-1-4-7-1" stroke="#cd90a6"/>
<path d="M1790 190l-9 1-8 1M1840 226l2-5M1772 206l4-1 3 3 4-4M1809 256l0 1 2 0M1764 269l-2 4 2-1M1813 254l0 1 4-1M1817 254l0-1 0 2M1793 261l-1 2-1 3M1789 245l-4 4 0-1M1810 204l-6-2-5 2M1807 293l-1-1 0 9M1807 230l2 1-1-4M1788 251l-1 1 1-2M1788 250l-3 5M1780 263l0 1-1-3M1779 261l0 1 0-2M1764 278l-26-11 18 2M1814 261l1 5-1-1M1814 265l3-5-1 6M1801 248l-6-3-2 1M1793 246l-1-4-6 1" stroke="#c17eb4"/>
<path d="M1773 192l-24-6 7 7M1842 221l6-5 10 9M1783 204l8 0-7-7M1811 257l-1 2 0-1M1764 272l-2 1-4 4-2-3M1817 255l1-1 1-1 1 0M1791 266l0 2-2 2-3 2M1785 248l-3 0 1 0M1799 204l-1-5-7-7 1-11M1806 301l2-4 0 1-1 4M1808 227l0-5-3-1-2-1M1785 255l-2-2-1 0M1782 253l2 3-3 3M1779 260l-2 1-1-1M1756 269l-7-1 13-16M1762 252l3-20M1816 266l-2-4 0-2 2 1M1786 243l1-3-2 1 2 0" stroke="#b46dc0"/>
<path d="M1756 193l-8 8-14-2-1 4M1858 225l-4-3 4-1M1858 221l3-4 7-1M1784 197l3 2 12-4M1810 258l2 0 0 2 0-1M1756 274l1 1 1 3-1 4M1820 253l0 1 0 0M1786 272l-1 2-4 1 1 2M1783 248l-1 1 1 1M1783 250l1 2-1 1-2 2M1792 181l-6 3-4-6-7-7M1807 302l1 3 2 3 0 6M1803 220l3 1 0-2-4 1M1781 259l-1-1M1776 260l0-1 1-1M1777 258l0 1M1765 232l14 9 3-16M1816 261l3-2 1-2M1787 241l-6 0 1-1" stroke="#a65ecc"/>
<path d="M1733 203l-12 1 8 6M1868 216l2 4-1-9M1799 195l-4 0 3 0M1812 259l-1 1 1 0M1757 282l-7 2-1 4M1820 254l1 0 2 1 2-1M1782 277l-2 2 0 0M1781 255l3 0-2-2M1775 171l-14 1 9-11M1810 314l-3 5-8 10M1802 220l1 0 0 1M1780 258l-4-2-1 0M1777 259l-1 1-1 1M1782 225l4 2 6 5M1792 232l-3-10 3 4M1820 257l6-3-7 0 7-1M1782 240l-4 6-2-5 1 3" stroke="#974fd6"/>
<path d="M1729 210l-9-1 3 6M1869 211l5 7 2 3M1798 195l5 0 5-8M1808 187l-3 6 4 2-5-1M1812 260l0 2 0 1M1749 288l-5 1 2 1-4-1M1825 254l-1 3 1 1M1780 279l-5 0 2 2-3 2M1782 253l-1 2-1 3M1770 161l-5 0 3-3 2 6M1799 329l2 4-2-2 5 1M1803 221l-2 0-2-3-3 1M1826 253l0 2 12-2M1777 244l-5-2-2-1" stroke="#8640e0"/>
<path d="M1723 215l-3 4-6-4-6 14M1804 194l5 4 3 2M1812 263l0-1 0 1-1 0M1742 289l1 3-5 1-2-2M1825 258l1 1 1 1-1-1M1774 283l-3 3 0-7-2 1M1780 258l-1 0 1 4M1770 164l-6-4 1 0-2-1M1804 332l-3 2-4-4-3 5M1796 219l-3 0-5 0-1-2M1838 253l-2-2 4-6 1 2M1770 241l1 0-3-1 1 3" stroke="#7232e9"/>
<path d="M1708 229l-9-3 0 7M1811 263l1 1-3-1M1736 291l-3 2-2 4M1826 259l1 4 0 1M1769 280l-1 1 0-2M1763 159l-7-4-6-21M1794 335l2 1-3-3M1787 217l-2-2-3 3M1841 247l3-1 0 2M1769 243l-3-4 3 2" stroke="#5922f2"/>
<path d="M1731 297l1-2-2-1-7 2M1768 279l-3 0 1-2-4 2M1750 134l-3 4 0 1-4-5M1793 333l-2 2-8 3-3 1M1782 218l2-2-5-4 3-1" stroke="#330efb"/>
<path d="M1714 215h0M1708 229h0M1699 226h0M1699 233h0M1809 195h0M1804 194h0M1809 198h0M1812 200h0M1812 263h0M1811 263h0M1812 264h0M1809 263h0M1731 297h0M1732 295h0M1730 294h0M1723 296h0M1827 260h0M1826 259h0M1827 263h0M1827 264h0M1768 279h0M1765 279h0M1766 277h0M1762 279h0M1781 255h0M1780 258h0M1779 258h0M1780 262h0M1750 134h0M1747 138h0M1747 139h0M1743 134h0M1793 333h0M1791 335h0M1783 338h0M1780 339h0M1782 218h0M1784 216h0M1779 212h0M1782 211h0M1840 245h0M1841 247h0M1844 246h0M1844 248h0M1768 240h0M1769 243h0M1766 239h0M1769 241h0" stroke="#1f00ff" stroke-width="4.4"/>
</g></g>
<path d="M398.3 11.8V113.3H502.9" stroke="#8a8a8a" stroke-width="0.9" fill="none"/>
<path d="M396.3 88.4H398.3M423.9 113.3V115.3M396.3 62.5H398.3M450.6 113.3V115.3M396.3 36.7H398.3M477.3 113.3V115.3" stroke="#4d4d4d" stroke-width="0.7" fill="none"/>
<text x="395.3" y="91.5" font-size="8.6" text-anchor="end" fill="#222" font-family='"Liberation Sans", sans-serif' >-50</text>
<text x="423.9" y="121.8" font-size="8.6" text-anchor="middle" fill="#222" font-family='"Liberation Sans", sans-serif' >-50</text>
<text x="395.3" y="65.6" font-size="8.6" text-anchor="end" fill="#222" font-family='"Liberation Sans", sans-serif' >0</text>
<text x="450.6" y="121.8" font-size="8.6" text-anchor="middle" fill="#222" font-family='"Liberation Sans", sans-serif' >0</text>
<text x="395.3" y="39.8" font-size="8.6" text-anchor="end" fill="#222" font-family='"Liberation Sans", sans-serif' >50</text>
<text x="477.3" y="121.8" font-size="8.6" text-anchor="middle" fill="#222" font-family='"Liberation Sans", sans-serif' >50</text>
<text x="450.6" y="6.6" font-size="8.7" text-anchor="middle" fill="#1a1a1a" font-family='"Liberation Sans", sans-serif' >DKO/p85β-motifGS</text>
</g>
<text x="450.6" y="132.1" font-size="8.9" text-anchor="middle" fill="#1a1a1a" font-family='"Liberation Sans", sans-serif' >x (μm)</text>
<g>
<path d="M535.7 11.8V113.3M523.4 101.4H628M562.4 11.8V113.3M523.4 75.5H628M589 11.8V113.3M523.4 49.6H628M615.7 11.8V113.3M523.4 23.7H628" stroke="#e8e8e8" stroke-width="0.6" fill="none"/>
<path d="M549 11.8V113.3M523.4 88.4H628M575.7 11.8V113.3M523.4 62.5H628M602.4 11.8V113.3M523.4 36.7H628" stroke="#cacaca" stroke-width="0.75" fill="none"/>
<clipPath id="cl523_11"><rect x="523.4" y="11.8" width="104.6" height="101.5"/></clipPath>
<g clip-path="url(#cl523_11)"><g transform="scale(0.25)" fill="none" stroke-linejoin="round" stroke-linecap="round" stroke-width="2.5">
<path d="M2294 249l-2 1 0-7-5 4M2302 249l0 1 0 0 0-1M2291 255l-2 0 2 0M2291 255l-3 1M2297 250l2 2-1 0-1 2M2300 257l3 1 0-1 1 0M2296 255l1-1-1 0 0-2M2303 247l-2 1 3-9M2298 256l-1 1-4 1-4 10M2302 250l-1 0 0 2M2300 244l-2-5-1 8M2289 250l0-1 3-4M2311 251l2-6 1 1M2295 264l7 3-3 6M2299 246l-2 2 1-1M2298 244l-6 1 10-1 1 16M2298 246l2-1 0 0M2304 248l-3-3 6-2M2307 243l1-2M2303 257l0-1 1 1 0-1M2313 264l2 1-3-3M2303 245l6 3 0 3M2299 248l13 5 7-1M2319 252l10 17" stroke="#f3dc5b"/>
<path d="M2287 247l0-2-2 0M2302 249l-1 2 0 0M2288 256l0 1 0-1M2297 254l4 1 2 3M2304 257l-1 3-1-1M2296 252l0-1-1-2M2304 239l-6 0-7-13M2289 268l-2 8 0 0M2301 252l-2-1 1-1M2300 250l-2 0 0 0M2297 247l1-3 0-4M2298 240l9 7-5 3M2292 245l-1-14 9-7M2314 246l-1-3 3-2M2316 241l-1 0 3-1M2299 273l-3 3 3-2M2298 247l2-3 3-3M2303 241l1-1 2-4M2303 260l-4 6 4 10M2300 245l0 0 2-1 0 0M2308 241l0-8 2 4M2304 256l0-1 1 0M2312 262l6-4 0 5M2318 263l3-2 1-1M2309 251l4-4-1 6M2312 253l-4-3 10 1M2329 269l4 1 8-8" stroke="#e6bc7f"/>
<path d="M2285 245l-5 1 0 1 3-1M2301 251l-1 1 0-1 0 0M2288 256l-1 1 1 1M2288 258l-2 1M2303 258l-2 0 2 1 0-2M2302 259l4-1-2-2 3 0M2295 249l2 1-3-1 1-2M2291 226l0 5-23-17M2268 214l-16-2-2 1-2-5M2287 276l-10 2-7-2-1 8M2298 250l-1 0 0-1M2302 250l10 7M2300 224l19-14 5-1 3 1M2327 210l12-8-8-10M2318 240l-3-5M2299 274l-5 9-3-3 8 3M2299 283l-6 3 9 1M2306 236l1 2 3-2M2303 276l2 12 2 15 4-4M2302 244l1-1 1 0M2310 237l5-4-3-3M2312 230l6-1M2305 255l1-1 0 0 1 0M2322 260l-1-1 5 0M2318 251l-5-1 5 1M2341 262l8 18M2349 280l4-1 4 0" stroke="#d9a495"/>
<path d="M2283 246l-1 2-5 0-1 2M2300 251l0 1-1 1 0 0M2286 259l0 0 0 1M2303 257l4 7 1-1-1-2M2307 256l0 1 0 1 0-2M2295 247l1 1 1-2 0-1M2248 208l-20-5 4-4M2269 284l-3 0 4 3-9 14M2297 249l-1-2 1 0M2297 247l-1-2 0 1M2312 257l0-3 8 3M2320 257l3-1-1-2M2331 192l2 2-15 0M2315 235l0 0 0-3M2315 232l2-3 5-2M2302 287l-18-7 0-2M2310 236l0 1 1-5M2311 232l0 3-1-1M2311 299l-3 7 1-1M2304 243l2-1 3 0M2309 242l0 2 0 0 2 0M2318 229l1-5-1 4M2307 254l0-2 0-2 0 1M2326 259l2-1-2 0M2326 258l2-2 3 4M2318 251l-3 5 5 2M2320 258l-6-3 3 17M2357 279l-1-1-2 10M2354 288l17 18" stroke="#cd90a6"/>
<path d="M2276 250l-4-4-5-1M2299 253l0 0-1-1M2286 260l-1 1-1 0M2284 261l0 2M2307 261l5 0 0 1M2307 256l6-1 8 1M2297 245l0 1 1 0M2232 199l-11 1 0-2M2261 301l-3-8 14 15M2296 246l0-1M2322 254l3 2-3 7M2318 194l7-5 8-27-1 8M2322 227l0-2 7-11M2284 278l-6 8-7 0-8-2M2310 234l8 0M2309 305l-9-1 2 6-15 4M2311 244l0 0 1 0M2318 228l-3-1 5-6M2320 221l-1-2M2307 251l1-1 0-1M2331 260l-1-1M2317 272l2 1M2371 306l-4 8 3 8" stroke="#c17eb4"/>
<path d="M2267 245l-3 2 1-1-1 2M2298 252l-1 1 0-1 0 1M2284 263l-1 2 0-1M2283 264l-1 1 1 0M2312 262l-1 0 4-1 3 2M2321 256l3-3 1 2 0-1M2298 246l-2-2 1-2 0 1M2221 198l-7-20 15 3M2272 308l-4 0 7 21-7 10M2296 245l0-2 1 0M2322 263l5 1 2-5M2329 259l2 1M2332 170l5-12 2-8M2329 214l-3 2-1 2M2325 218l3-2M2263 284l4 0-2-5M2318 234l-4 1 3-2M2287 314l-2 3-6-2-9 2M2312 244l-1 3 1-1M2319 219l-3 3 1-6M2317 216l-1 2-4 1M2308 249l1-1 0-1-1 0M2330 259l0-5 8 2M2319 273l3 0-8 3M2370 322l4 4M2374 326l-8-11-3 3" stroke="#b46dc0"/>
<path d="M2264 248l-1 3-5-2-1 8M2297 253l1 0-2-1 0 1M2283 265l-1 1M2318 263l-1 0-1 0 2-3M2325 254l5 7 1 1 2 4M2297 243l0 1-1-1-2-1M2229 181l-11-14-6-2M2212 165l1-7-9-8-5-2M2268 339l4-3 11 13-7-7M2297 243l-1-2-1 1M2295 242l2-1-1 0M2331 260l-1-1 10 8M2339 150l0-7 8 4M2328 216l0-7 6-3M2265 279l-15 3 0-5M2317 233l1-9 6 4M2324 228l5-6-3 3M2270 317l-14 7 0 7M2312 246l-1 1 1 1 1 0M2312 219l1-1M2308 247l1 1 0-2 0 2M2338 256l1 5 3-4M2342 257l4 2-1-1M2314 276l9-4 1 9M2324 281l-1-2 0 7M2363 318l4 13M2367 331l-2-2 3 1" stroke="#a65ecc"/>
<path d="M2257 257l-4-1 6 3M2296 253l0-1-1 1M2282 266l-3 2 1 0M2318 260l-1 1 1 1M2333 266l0 2 0 1M2294 242l1 0 0-1M2199 148l-6-8-7 3M2276 342l-1 16 4 8M2296 241l1 0 0-1M2340 267l-2-1 2 0M2340 266l-7-5 5 12M2347 147l-1-17 17 0M2334 206l-1-1-1-4M2332 201l2-1 0-1M2250 277l-4-19-5-4M2326 225l2-2 1-4M2256 331l-9 13-18 15 14 2M2313 248l0 0-1 1M2313 218l-5 1-4 4M2309 248l0-1 0-1M2345 258l4-1-1 1M2323 286l9 19-5 2" stroke="#974fd6"/>
<path d="M2259 259l-1 5-4 0 0 5M2295 253l1-1-2 1 0 0M2318 262l0-1 1 0 0-1M2333 269l3-2-1 5 0 2M2295 241l-2-2 1 0 1 0M2186 143l-8 8 2-5M2279 366l1 8 2 1-7 2M2297 240l0-2 0 0M2363 130l-4-9 6 0M2365 121l3-25-3-5-7 2M2241 254l6 3-5-6M2242 251l6-5-2-6 10-3M2329 219l-1 2 0-9M2243 361l1 9-2 0M2312 249l-3 0 1 1M2309 246l0 0 0 0 0 0M2348 258l2-2 6-5M2327 307l2-4-2-1" stroke="#8640e0"/>
<path d="M2254 269l0-2 0 3 0 8M2294 253l-2 1 1 1-1 0M2319 260l0-3 2-1 4-2M2335 274l-2 4 1 7 2-3M2295 239l-4 1-1-5 1 0M2180 146l-3-9-11 16M2275 377l-3 12-10 10-13 4M2358 93l11-6-10-4M2256 237l2 3-2 1M2242 370l-5-6-13 11-12 5M2310 250l-1-1 0 1 1-1M2309 246l-1-1 0 0 1-1" stroke="#7232e9"/>
<path d="M2254 278l0-2 2 6M2292 255l0 0-1 0M2325 254l0-1 1-2M2336 282l0 2 2 2M2291 235l1-1 0-1M2249 403l6 14 3-3M2212 380l9 8-8-1M2310 249l-2 1 0 0M2309 244l-1 0 0 0" stroke="#5922f2"/>
<path d="M2256 282l-2 0-2 2 1-1M2291 255l0 0-1 0 0 0M2326 251l2-2 1-1-2-3M2338 286l-5 0 1 2 0 2M2292 233l2-2-1 0 0-1M2258 414l-17 2 6-1-1 1M2213 387l5 5-10 6 0 2M2308 244l0-1-1-1 0 0" stroke="#330efb"/>
<path d="M2256 282h0M2254 282h0M2252 284h0M2253 283h0M2291 255h0M2291 255h0M2290 255h0M2290 255h0M2326 251h0M2328 249h0M2329 248h0M2327 245h0M2338 286h0M2333 286h0M2334 288h0M2334 290h0M2292 233h0M2294 231h0M2293 231h0M2293 230h0M2178 151h0M2180 146h0M2177 137h0M2166 153h0M2258 414h0M2241 416h0M2247 415h0M2246 416h0M2365 91h0M2358 93h0M2369 87h0M2359 83h0M2246 240h0M2256 237h0M2258 240h0M2256 241h0M2213 387h0M2218 392h0M2208 398h0M2208 400h0M2309 250h0M2310 249h0M2308 250h0M2308 250h0M2308 244h0M2308 243h0M2307 242h0M2307 242h0" stroke="#1f00ff" stroke-width="4.4"/>
<path d="M2300 248l8-1 0 8M2304 264l-2 0 3 1 0 1M2304 248l3-4 0 12M2302 253l1 0 1 0M2309 259l1 0-6 2M2300 238l-2 1-1-2-2-2M2311 252l-5-4-8 7-3 5M2321 255l-1 3 0 0M2320 258l0 2 1 1M2299 250l1 8 7 5M2300 257l-5 2 5 2M2300 261l-8 0-1-4M2310 259l4-2-17-4M2303 245l0-2 1 1-3 0M2292 248l-4-4-7-11M2301 234l0 0 0-1M2290 252l-13-19-23 1M2254 234l-15 2M2304 248l-2-2-1-2M2290 261l-1 1 2-2M2291 260l-5-2 1 3M2309 238l0 1-1-1M2298 246l-8 16-6 3M2305 262l-1 1-2 1 2-3M2296 252l2 0 1 0 0 1" stroke="#f3dc5b"/>
<path d="M2308 255l-2-2 0 9M2306 262l-1-10-1 8M2305 266l5 0-1 2M2307 256l-1-7-4 4 4 5M2304 253l0 0 0-1 2 1M2304 261l-2 1 2 6-9-5M2295 235l0 3-1 0M2295 260l-5-2-1 9M2321 261l-2 3M2307 263l-4-1 2 10M2305 272l6 8 2-3M2291 257l4-2M2297 253l-8 7-10-7M2279 253l-15-7-4-5M2301 244l-5 0-1-2M2281 233l-3 2-11-7M2267 228l-2-14-6-1M2301 233l0 0 0 0M2301 233l0 0 0 0M2239 236l15 0-13 1M2301 244l0 2 0-4-5 0M2287 261l-3-3M2308 238l-1 1-1-1M2284 265l2-2-7 12 1 3M2304 261l-1 5 0-2M2299 253l1-1 1 1" stroke="#e6bc7f"/>
<path d="M2304 260l-4-3 13 19M2309 268l-1-1 2 5 2 3M2306 258l-1 1 8-1 1-5M2306 253l0 1 1-1M2295 263l-11 12 0-8M2294 238l-2-2-2 1 1 1M2289 267l-5-5-6 5-7 9M2319 264l1 0 1 2M2321 266l-2-2 0 2M2313 277l-1 8-2 1M2295 255l-5 3-1 4M2289 262l0 3 2-1M2260 241l3 2-2-3M2295 242l1-2-2 2 1 0M2259 213l-5-16-17 1M2301 233l0-1 0 1M2241 237l-19-4M2222 233l5-1-7 0M2296 242l1-3 0 0M2284 258l-1-3-2-1M2281 254l-2 0-2-1M2306 238l-1 0 0 0 1 0M2306 238l-2 0 1-2M2280 278l-7 8-6-7M2303 264l-2 0-1 4 2 0M2301 253l2-1 1 1 1 0" stroke="#d9a495"/>
<path d="M2313 276l-12 15-3-9M2312 275l1 3 1 3 1 0M2314 253l-1 4 8-5M2307 253l0 0 0 0M2307 253l1 0 1 1 1-1M2284 267l4 11 0 5M2288 283l-14-10 3 3-10-4M2291 238l0-3-3 0-2 0M2271 276l-2 4-14 2 11 4M2319 266l2 3M2310 286l-3 1 1-1M2308 286l5 8-9-1M2291 264l0-5M2261 240l-13-5-4 3M2295 242l-2-1 0 2-2-2M2237 198l4-4-9 1M2301 233l0-1-1 0M2220 232l-4-4 1-4M2217 224l-11-1M2297 239l-1-2 1 1 2 0M2277 253l-3 3M2305 236l-2 0 0-2M2267 279l4 6-8 7M2263 292l0 6 4-4-11 3M2302 268l-3-2 1 3-4 2M2305 253l1-1-2 0 3-1" stroke="#cd90a6"/>
<path d="M2298 282l-6 8 1 4M2315 281l0-1 1 2M2321 252l4 7 0 5M2310 253l0 0 0 0M2267 272l3-4-13 1M2286 235l1-1-1 0M2266 286l-17 22 6-7M2321 269l-2 5 1 2M2320 276l2 0-1 1M2304 293l-1-2M2291 259l-8 16 6 3M2289 278l-11 2-8-1M2244 238l-21 3 2 1M2225 242l3 1-20 2M2291 241l-1-3-2 1M2232 195l6-3 1 1M2239 193l-24 4-13-1M2300 232l1 0-1 0M2206 223l-4 3-8-5M2299 238l-1-1 6-2M2304 235l1 2 2-2M2274 256l-3 2-4-3M2267 255l6 3-2 0M2303 234l0 2 0-1 1 0M2256 297l-19 16 8-4M2296 271l2-2-2-1M2307 251l0 0 0 0" stroke="#c17eb4"/>
<path d="M2293 294l5 4 1-1-3 2M2296 299l5 8 10 9M2316 282l-1 2-1-2 4 2M2325 264l6-2 4 7 8-7M2310 253l0 0-1 0M2257 269l0-4-1-14M2286 234l0 1-2 0 0-1M2255 301l-4 13 3-9-1 2M2321 277l4 0-2 1M2303 291l-9 1 0-1M2270 279l3 8 8 13M2208 245l-1-10-2 11M2288 239l-1-1 2-2-2-2M2202 196l2-4-3 8M2300 232l0-1 0 0 0 0M2300 231l0 0 0 0M2194 221l2-1M2196 220l-3 11 2-1M2307 235l-1 1 4 0 1-1M2271 258l-1 4-2 1M2304 235l-1-1 0 1M2245 309l3 2-10 2M2296 268l-6 7 2-2-1 0M2307 251l-1-2 1 1-1 0" stroke="#b46dc0"/>
<path d="M2311 316l-5-1-1 8M2318 284l-1 1 1 2 0 0M2343 262l5 2-5 1 11 0M2309 253l1 0 0 0 0 1M2256 251l-5 2-7-10-3-11M2284 234l-1 1 0-1 0 0M2253 307l1 10-2-2-5-4M2323 278l1 1 2 0M2326 279l-1-1M2294 291l-10 0-3-5M2281 286l-5 4-1-4M2281 300l14 9 1-2M2296 307l3 0M2205 246l2 0-7-8M2287 234l-1 1 0 0-1-1M2201 200l-1 3 0-5M2300 231l-1 0 0-1M2195 230l-7 13M2188 243l-7 8 8 5M2311 235l-2-1-1 1M2268 263l3-1 1 3M2272 265l-4 2M2303 235l0-2 0 0M2238 313l-13-4 4 2-4-3M2291 273l-3 4 0-3 0 3M2306 250l1 1 1-4 1 0" stroke="#a65ecc"/>
<path d="M2305 323l6 2 2 1M2318 287l-1 2 2 4M2354 265l-1-2 2-4M2355 259l0 3 3 1M2310 254l1 0 0 0M2241 232l2 8-9 1M2283 234l0 0-1-1M2247 311l-6 5 4 1M2325 278l0 1 3 1M2275 286l-4-4-2 5M2299 307l2 7-2-1M2200 238l-8 23-7-6M2185 255l-1 19-10 7M2285 234l1-1 0 0M2200 198l-9-3-3-14M2188 181l0 9-5-6M2299 230l0 1 0 0M2308 235l2-1-1-2 5 1M2268 267l0 2-3 2M2303 233l0 0 0 0M2225 308l-7 8 6-2M2288 277l1-1-3 2M2309 247l0-2 0 0" stroke="#974fd6"/>
<path d="M2313 326l-2 3 9 1M2320 330l6 13-7 4M2319 293l2 0-2 2 6 2M2358 263l0-12-2 0-2 5M2311 254l0 1 0-1M2234 241l-14-13 2 4M2282 233l-1-4 1-1-1 0M2245 317l-3 5-3 1 5-2M2269 287l-4-4-3 0M2174 281l-7-1-8 5M2286 233l-2-2 0 0-1 1M2183 184l2 5-5-11M2299 231l1 0-1 0M2299 231l0 0 0 0M2314 233l0-5 2 1M2303 233l-1-1-1 0M2301 232l1-1-1-1-1-2M2224 314l0-2-4 2M2286 278l0-1-1 0-3-2M2309 245l1-1 0 0 1-1" stroke="#8640e0"/>
<path d="M2325 297l-6 0 4 2-2 2M2354 256l-6-6-1 0 0-2M2311 254l0 0 0 0 0 2M2222 232l-7-13-7-6-4-11M2281 228l-2 0 2-1 0-1M2244 321l-12 4 6 1-9 7M2283 232l-1-2 0-2-1 0M2316 229l0 0-2 1 0-1M2300 228l0-1 1 2M2220 314l-4-2-8 10-4-6M2282 275l1 1-4 1-5-2M2311 243l0-1 0 1-1-2" stroke="#7232e9"/>
<path d="M2321 301l1 4-3 4M2347 248l-5 0-8 3M2311 256l0 0-1 0M2204 202l1-11-3-8M2281 226l0 0 1-3M2229 333l-1 9-7 6M2281 228l2-1 0 0M2314 229l1-3 3-1M2204 316l3 9-8 4M2274 275l1 1-2 2M2310 241l1-2 0 1" stroke="#5922f2"/>
<path d="M2319 309l-3 0-1 6 0 0M2282 223l-2 0 0-3 0-1M2221 348l-6 5 2-3-1-9M2283 227l-1-1 0 0 2-1M2273 278l-1-1-4 2-2-1M2311 240l-1-1 1-2 0-1" stroke="#330efb"/>
<path d="M2311 329h0M2320 330h0M2326 343h0M2319 347h0M2319 309h0M2316 309h0M2315 315h0M2315 315h0M2347 250h0M2347 248h0M2342 248h0M2334 251h0M2311 254h0M2311 256h0M2311 256h0M2310 256h0M2208 213h0M2204 202h0M2205 191h0M2202 183h0M2282 223h0M2280 223h0M2280 220h0M2280 219h0M2221 348h0M2215 353h0M2217 350h0M2216 341h0M2283 227h0M2282 226h0M2282 226h0M2284 225h0M2300 231h0M2299 231h0M2299 231h0M2299 231h0M2314 230h0M2314 229h0M2315 226h0M2318 225h0M2301 230h0M2300 228h0M2300 227h0M2301 229h0M2208 322h0M2204 316h0M2207 325h0M2199 329h0M2273 278h0M2272 277h0M2268 279h0M2266 278h0M2311 240h0M2310 239h0M2311 237h0M2311 236h0" stroke="#1f00ff" stroke-width="4.4"/>
<path d="M2303 247l0 4-3 5M2301 242l-1 1-2-4M2305 234l-2-2 2 3 2 0M2299 251l3 2-11-1M2300 244l0 2-1 1-1 4M2303 243l1 1 3 3M2298 250l-1-9 5 0-2 3M2314 253l0 3 0-1M2297 256l-1 0-2 0-3 3M2305 263l-3 5 10 6M2290 240l-1-1 1-2M2304 240l1 7 4 8 3 1M2303 257l-2-11 0 2M2288 250l4 5-8-1M2310 258l-5-4-3-1-1 0M2288 251l0 0-3 3-3 5M2303 259l-2 7-2-3 3-2M2298 245l-4-5 5-4M2296 253l0 0 0 0 1 0M2298 245l0-1-1 3" stroke="#f3dc5b"/>
<path d="M2300 256l2-16 12 12 20 13M2298 239l-2-2 2 1 1 0M2307 235l1 3-3-1M2291 252l7 11 7 0M2305 263l-12 16 3 9M2298 251l2 0-1-1M2307 247l3 1 4 2M2314 250l-3 0 9 3M2300 244l1-2 0-9M2314 255l-2-2 3 4M2315 257l-2 2-2 4M2291 259l0-2-4-5M2312 274l-6-9 19 14 10 7M2290 237l1 5-3 4-1-2M2312 256l-2 8 2-3M2301 248l6-16-2 2M2284 254l3-1 5 5-3-5M2301 253l-2-2 2 0M2282 259l1 0 1 0M2302 261l-2 5 1 4M2299 236l-2 1-1-4 1 7M2297 253l0 0 0 0M2297 247l-1 0-7-1" stroke="#e6bc7f"/>
<path d="M2334 265l0 2 2 0M2299 238l-2-5-1 2-9 1M2305 237l5 0-3 3 4 0M2296 288l-10 14 7 2M2299 250l0 0 0 4 0-1M2320 253l4-1 8 3M2301 233l6 0 5-8 7-2M2311 263l0 3-1-4M2287 252l0 1-1-3 2-1M2335 286l-10-12 12 7M2287 244l1 4-2 0M2312 261l2 1 11-4-4 0M2305 234l6-5 10-2-2-2M2319 225l2-1 0 1M2289 253l1 2 0 5M2301 251l-4 2-5 2-3 1M2284 259l-2 3-1-2 0 2M2301 270l-9 1 7 2-8 0M2297 240l-1-8-2-7 6-2M2297 253l0 0 0-1 0 0M2289 246l2 0 0-1M2291 245l0 1 0-1 0 0" stroke="#d9a495"/>
<path d="M2336 267l-2-3 10 2-1-3M2287 236l2-3-2-2M2311 240l2 1 0-1 0-1M2293 304l10-2 13 5M2316 307l26 22 2-12M2299 253l2 0 0 0 3 2M2332 255l-1 1 2 3M2319 223l4 3 0-7-1 1M2310 262l-1 2 0 1M2288 249l0-1 0 0-1-4M2337 281l3-1 3-2 6 9M2286 248l4 3-3 3M2287 254l1 4 2 2-5-3M2321 258l0 5 14 2-2-5M2321 225l8-4 1 9M2290 260l-3 1-3-3-4 1M2289 256l1 7-4-2-4-1M2281 262l-2 3 3 4 1-2M2291 273l-1 1-2 4-1 4M2300 223l0-2 7-4M2297 252l0 0 1 0M2291 245l-4 1-3-3" stroke="#cd90a6"/>
<path d="M2343 263l11-3 2-1M2356 259l2 3 9-9M2287 231l0-3-4 2M2313 239l5 2-1-1M2344 317l14 5M2304 255l0 0 0 0M2333 259l1-2-3 1M2322 220l12 5 11-2M2309 265l0 1 1 1M2310 267l-6 2-2 2M2287 244l2 2-4-2M2349 287l5-7-5 10M2349 290l7-5-3 12M2285 257l1 8-1 1M2333 260l3 0-4-4M2330 230l5-3 11-4 4 3M2280 259l-9 9 4-2M2275 266l-3 10-3-1M2282 260l-1 7-1 0M2283 267l-1 2-1 1M2287 282l1-2-2 2M2307 217l-2-7 3-6M2298 252l0 0 0 0 1 0M2284 243l0 1-1-2" stroke="#c17eb4"/>
<path d="M2367 253l-7-3 7-8 17 0M2283 230l2 0-3 4 3-3M2317 240l3-4 0 1 1 2M2358 322l16 0 3-2M2304 255l1 0 3-3-1 3M2331 258l4 1 2-1-1 2M2336 260l4-4-1 0M2345 223l3 1 12 4-8-5M2302 271l-2 3 1 0M2285 244l2-3-2 3 4-1M2353 297l15-2-8 4 4 2M2285 266l-2-2-2 8M2332 256l11 2 3 7 5 1M2350 226l-2 0 1-3M2269 275l3 2-3 2-4 10M2280 267l-1-4-1 1 0 4M2281 270l5-2-3 0 2-1M2286 282l-1 0-8 1 2-2M2308 204l-2-2-2-5 5 3M2299 252l0 1 0-1 0 1M2283 242l2 0-2-1" stroke="#b46dc0"/>
<path d="M2384 242l6-12-12-8M2285 231l-6 10 1-4-5 7M2321 239l2-3 4-2-2 2M2377 320l15-3 18-2M2410 315l1 7-9 3M2307 255l1-2-1 1 2-2M2339 256l6 2-7 0M2352 223l9 11 7 5 2 7M2301 274l0 0-2 3M2289 243l-1-1 1-2 4 1M2364 301l16 0 8 0M2281 272l1-3-1 0 1 1M2351 266l-3 5-2 3 4 3M2349 223l2 1 9 4M2265 289l7-1-9 0M2278 268l0-5-2 2 2 3M2285 267l1-1-2-3 3 1M2279 281l0 0 2 4-4-1M2309 200l-4-19 4 1 2-5M2299 253l0 0 1 0M2283 241l1 0-1-5M2283 236l-1-2 1 0 1 0" stroke="#a65ecc"/>
<path d="M2378 222l19-3-2 0 1 1M2275 244l-3 0-1 5M2271 249l-5 3 0 6M2325 236l1-4 3 2M2402 325l17 3 3 13M2309 252l1 0 1 1M2338 258l8-2-2 1M2370 246l-2-1 4 3M2299 277l-1-3-2-1M2296 273l-5 0-1 1M2293 241l3 0 0 0M2388 301l6 11 4 5 19 12M2282 270l-4 1 2 0M2350 277l-4 5-8 4M2360 228l-1-1 0 2M2263 288l10 0-3 1-1 0M2278 268l0 2 3 0M2287 264l3-1 0 1M2277 284l-3-5-3 1M2311 177l-2 6 3-13M2312 170l-11 1 3-4M2300 253l0 0 0 0 0 0M2284 234l1 0-1-2" stroke="#974fd6"/>
<path d="M2396 220l13 4 5-5M2266 258l-3 5 1 0 0-2M2329 234l5-3-3 0 1 2M2422 341l-2-5 17 4M2311 253l1-4 2-3 2 2M2344 257l1-4 9-3M2354 250l0 3 2 1M2372 248l0-2 15 11-3 2M2290 274l-5-4-1-2M2296 241l1 1 2 0-4 1M2417 329l-6-5 9 13M2280 271l-6 2-5 1M2338 286l0-5 0 8-8 0M2359 229l-3-4 9 4M2365 229l2-6 1 3 9-9M2269 289l10 8 0 7M2281 270l-1 5 0 0 0 1M2290 264l1-2 3 1-2 0M2271 280l2-3-4 4-7-7M2304 167l3-5-7-5 4 4M2300 253l0 0 0 0M2284 232l1-2 0 0" stroke="#8640e0"/>
<path d="M2414 219l3-5 10 15 0-1M2264 261l0 4-3 7-2 5M2332 233l-3-3 1-1-1-3M2316 248l1 0 0-3 1-6M2384 259l6-2-4 3 7 5M2295 243l1 0 5 3-1-2M2420 337l-6-4 5 15 9 5M2269 274l2 2-7 2 1-2M2330 289l-4-2 3-1-3-1M2377 217l0-2 12 1M2279 304l1-3 2 5-5 6M2280 276l-1 1 0-1 0 4M2292 263l2 3 0-1 3 4M2262 274l-1 0-6 3-1-2M2304 161l5-11-2-10 0-5M2300 253l0 0 0 0 0 0M2285 230l-1-2 1-2" stroke="#7232e9"/>
<path d="M2427 228l7 3 0 7M2259 277l-5-2 4 2M2329 226l1-8 1 4M2318 239l0 3 0-1M2393 265l-1 1-2-1M2300 244l2 2 1 4M2428 353l2-4 7 19M2265 276l2 3-7-1M2326 285l-10 11-1-1M2277 312l-1 9 4-2M2279 280l-2-3 6 5M2297 269l2 2-1 1M2254 275l-4 3 0-4M2307 135l1 7 6 1M2300 253l0 0 0 1" stroke="#5922f2"/>
<path d="M2331 222l-3-1 1-1-4-2M2318 241l2-2-2-3 4 0M2390 265l5 10-1 9-5 2M2303 250l3-4 0 5 0-1M2315 295l-4 10-3 3 17 2M2283 282l-5 1-2 0 3 1M2298 272l0 0 1 2 0 3M2250 274l-5 0-3-4 2-5M2300 254l0 0 1 0-1 0" stroke="#330efb"/>
<path d="M2427 229h0M2427 228h0M2434 231h0M2434 238h0M2261 272h0M2259 277h0M2254 275h0M2258 277h0M2331 222h0M2328 221h0M2329 220h0M2325 218h0M2318 241h0M2320 239h0M2318 236h0M2322 236h0M2345 253h0M2354 250h0M2354 253h0M2356 254h0M2390 265h0M2395 275h0M2394 284h0M2389 286h0M2303 250h0M2306 246h0M2306 251h0M2306 250h0M2419 348h0M2428 353h0M2430 349h0M2437 368h0M2264 278h0M2265 276h0M2267 279h0M2260 278h0M2315 295h0M2311 305h0M2308 308h0M2325 310h0M2368 226h0M2377 217h0M2377 215h0M2389 216h0M2282 306h0M2277 312h0M2276 321h0M2280 319h0M2283 282h0M2278 283h0M2276 283h0M2279 284h0M2298 272h0M2298 272h0M2299 274h0M2299 277h0M2250 274h0M2245 274h0M2242 270h0M2244 265h0M2307 140h0M2307 135h0M2308 142h0M2314 143h0M2300 254h0M2300 254h0M2301 254h0M2300 254h0M2285 230h0M2285 230h0M2284 228h0M2285 226h0" stroke="#1f00ff" stroke-width="4.4"/>
<path d="M2304 251l-1 0 0 0-1 1M2313 238l5 3 0-1-2-1M2296 248l-3 4-4-11-5-4M2306 258l5 6 6-16M2317 248l18 1 5-18M2292 240l0-10-12-5M2280 225l-3-11M2297 248l0 0 0 1 1-5M2310 247l-2-1 2-1M2295 243l-1-1 4 1M2297 241l4 2-4-1M2297 242l0 9M2297 246l0-2 4-2-1 0M2311 252l4-3-7 0M2307 249l1 1 1-6M2303 246l2 0 1 8 2 8M2298 258l3 1-4-1M2300 249l2 0 1-3M2298 256l0 1 1 0M2302 263l1 0 0-1-2 0M2305 259l1 1 2 5M2308 265l-2-4 0 0M2297 258l-5-6-10 16 6 17M2304 257l3-2 3-8 7 1" stroke="#f3dc5b"/>
<path d="M2302 252l-1 1 1 2M2316 239l6 6 1-2M2284 237l0 3 0 3M2340 231l9 0M2277 214l0-3-3 1M2298 244l2 2-1 1M2310 245l-2-1-1 0-1-1M2298 243l1-1 7 1 3-2M2297 251l-2 7 0 0M2300 242l0 0 0 0M2308 249l1 1 4 6M2309 244l1 1 2-5M2308 262l20-12 16 29M2297 258l-6 2 4-1M2295 259l-4 2-3-2M2303 246l-1-2-1-1M2299 257l-1 0 2 2 0 1M2301 262l2-5-1 1M2306 261l-8 2M2288 285l-3-3-4-2M2317 248l5 0 9 2" stroke="#e6bc7f"/>
<path d="M2302 255l0-1 0 0-1 3M2323 243l6-1 1 0 2-1M2284 243l1-6-5-5 3 3M2349 231l10-5 2 17M2361 243l-1-20-1 11M2274 212l-4-4M2270 208l9 4-17-10M2299 247l2-2 2-2 1 0M2306 243l0 1 0 0-1-2M2309 241l-1 0 4 0 6 2M2295 258l2 4 2 4M2299 266l4 5M2300 242l2-3-2-1 2 1M2313 256l11-1-2 5M2322 260l2 2 2 5-5-8M2312 240l0 0-2-1M2310 239l0-1 1 1 1-2M2344 279l-6-5 5 3 13 4M2288 259l3 0-3-2M2301 243l2-1-3-5 3 0M2303 237l-1-3 2-3M2300 260l0-1 2 2 0 1M2302 258l3 1-1-5 2-1M2298 263l-2 9-4-2M2292 270l0 7-5 3M2281 280l6 24-1 2 15 9M2331 250l3 3 0 1 9 13" stroke="#d9a495"/>
<path d="M2301 257l0-1 1 0 0 0M2332 241l-1 2 1 0 1 0M2283 235l4 2-10-9M2359 234l13 3M2262 202l-1-9-17 1M2244 194l-19 2M2304 243l2 2 2-3 3-2M2305 242l-2-4 0-2M2318 243l-2 1 6 4M2303 271l2 1-2 5M2302 239l2-1-1-1-1-1M2321 259l11 12 18 12M2312 237l-1-4 0-1M2356 281l12-3 1-7 9 6M2288 257l-3 2 5-3M2304 231l-1-1 0 1M2302 262l3 0-3 2M2306 253l0-1-3 0 1-1M2287 280l-1-6M2301 315l-4 6-9 7 2-2M2343 267l-4-5 0 10 1-1" stroke="#cd90a6"/>
<path d="M2302 256l0 1 3 0M2333 243l0-2 2 1M2277 228l7 6-8 1-1 9M2372 237l13 6-4-19M2381 224l8 3-1-5M2225 196l13-6-9-12M2311 240l1 0-1 0M2303 236l1 1 0-2M2322 248l3 2 1-1M2303 277l1 2 6 4M2310 283l3 0M2302 236l3 0-3-1M2350 283l-2-1-2-3M2311 232l1-1 0-2M2378 277l-4-1 6-2M2290 256l-9 5-2-2M2279 259l-5 2 0 1M2303 231l-2-3-1 0 1 0M2302 264l2-1 1 1M2304 251l1-2 1-1M2286 274l0 10 8 8M2294 292l-2 1 0 2M2290 326l9 8 11-7M2340 271l-3 1-5 10" stroke="#c17eb4"/>
<path d="M2305 257l-1 1-1 0 0 0M2335 242l-2-2 0-1-1-2M2275 244l-25-5-4 5-5 0M2388 222l8-13-8 2M2229 178l2-2M2231 176l12-6-19 13M2311 240l2-1 1-2-1 1M2304 235l2 1 0-1 0-2M2326 249l0 4-5-2 3 2M2313 283l3 1 2 0M2318 284l5-5 1 4M2302 235l2 2-1 0 1-2M2346 279l4 9-1-10M2312 229l-2-2 0 0M2380 274l2-2-4-3 5-10M2274 262l-4 1 2 7M2301 228l-5-2-2-6M2305 264l2 0-2 1 3 0M2306 248l-2-1 0 2 1-2M2292 295l-6 7 0 2M2310 327l3 8 14 3-18-7M2332 282l0 4 3 5-2 4" stroke="#b46dc0"/>
<path d="M2303 258l2 0 2 1-1 1M2332 237l3 1 0-3-1-5M2241 244l-4-9-3 2M2388 211l1 3 5-10M2394 204l2-4M2224 183l8-6M2232 177l-10-18 1 13M2313 238l4-1 3-6 4 2M2306 233l1 1 1-1 1-1M2324 253l-1 0 0 4-2-2M2324 283l0-4M2304 235l-1 0 0-1 0 1M2349 278l-2 15 3 3M2350 296l-1 2-5 6 8 7M2310 227l3 0-4 0M2309 227l2-1 0 0-5-2M2383 259l1-4 8 6 4-32M2272 270l0-2-2 4M2294 220l-1-2-2 1M2308 265l2 0-1 0-2-1M2305 247l0-1-1 2-2-2M2286 304l-9-11 5 6M2282 299l-5 0M2309 331l26-2-1 9 8-14M2333 295l2 6-3-2 6 4" stroke="#a65ecc"/>
<path d="M2306 260l1-1-1 3M2334 230l5-7-2 0M2234 237l-4 1-10 11 0-7M2396 200l-5-12 3 2M2324 233l4-2 0 3M2309 232l0-1 3-3M2312 228l1 1 1-1M2321 255l-4 1 2 1M2319 257l0-1-4 2M2324 279l7 8-2-6M2303 235l1-1-1 1M2352 311l-5 2 4 3M2306 224l3-2 0-3M2396 229l5 1-3 10M2270 272l-1-1 6-1M2275 270l-6 0 1 5M2291 219l0 0-4 0M2307 264l2 3 1 0M2310 267l-2-1 1 0M2302 246l-1 3-3 0M2277 299l0-4-5-1M2342 324l7-2 1 1M2338 303l-4-2-1 1" stroke="#974fd6"/>
<path d="M2306 262l0 0 0 1 1 1M2337 223l3-3 0-3 3-2M2220 242l-10 2-8-5M2328 234l5-2-1-1-1 0M2314 228l0 0 0 1 4 0M2315 258l-3-2-2 2 2-2M2303 235l-1-1 0 0-4 0M2351 316l-2 1-5 0M2309 219l-5 0 2-3M2398 240l10-10 8-19-15 10M2270 275l0 2-2-2M2287 219l0-2 0 2M2287 219l0-2-1 0 0-1M2309 266l-1 4 1-1-1-1M2298 249l-1 1-5 3 1 1M2350 323l7 2 6 13 2-7M2333 302l8 4 0 2-3 2" stroke="#8640e0"/>
<path d="M2307 264l-1 0 2 2 0 2M2343 215l-2 1 6-4 1 3M2202 239l2 15-1-6-9 8M2331 231l2-1 2 0 4 2M2318 229l0 0 4-1 0 2M2312 256l-6 1-3-4-3-1M2298 234l-1-1 1 0-1 0M2344 317l-6 2-4 4M2306 216l-1 1-1 0M2401 221l21-2-21-8 14-24M2286 216l-1 0 2 2M2308 268l0 1 1 4 0-2M2293 254l-4 0 2-1-2 0M2365 331l5 3-9 3 12 13M2338 310l2 3 3 2 5 1" stroke="#7232e9"/>
<path d="M2308 268l2 1-1 0M2348 215l2-7 3 2M2194 256l-3-2 0 7M2339 232l-3-2 4 2M2322 230l1 1-1 1M2300 252l0 0-3-4M2297 233l1-1-3 0M2415 187l-7-6-10-3M2309 271l0 2 0 1M2289 253l-2 0 0 0M2373 350l14-9 2 10M2348 316l-1 14-4 6" stroke="#5922f2"/>
<path d="M2309 269l2 1-2 0 1-1M2353 210l1 3 4-10-3 1M2191 261l-1 6-7-7 4 6M2340 232l5-2 4 0 1-2M2295 232l-1 1 2-1-1 1M2398 178l10-3-10 0-9-15M2287 253l0-2 0-1-1-1M2389 351l3 7 9-28 9 2M2343 336l2-4 3 7-2 0" stroke="#330efb"/>
<path d="M2309 269h0M2311 270h0M2309 270h0M2310 269h0M2353 210h0M2354 213h0M2358 203h0M2355 204h0M2191 261h0M2190 267h0M2183 260h0M2187 266h0M2340 232h0M2345 230h0M2349 230h0M2350 228h0M2322 228h0M2322 230h0M2323 231h0M2322 232h0M2303 253h0M2300 252h0M2300 252h0M2297 248h0M2295 232h0M2294 233h0M2296 232h0M2295 233h0M2349 317h0M2344 317h0M2338 319h0M2334 323h0M2304 219h0M2306 216h0M2305 217h0M2304 217h0M2398 178h0M2408 175h0M2398 175h0M2389 160h0M2286 217h0M2286 216h0M2285 216h0M2287 218h0M2309 273h0M2309 271h0M2309 273h0M2309 274h0M2287 253h0M2287 251h0M2287 250h0M2286 249h0M2389 351h0M2392 358h0M2401 330h0M2410 332h0M2343 336h0M2345 332h0M2348 339h0M2346 339h0" stroke="#1f00ff" stroke-width="4.4"/>
</g></g>
<path d="M523.4 11.8V113.3H628" stroke="#8a8a8a" stroke-width="0.9" fill="none"/>
<path d="M521.4 88.4H523.4M549 113.3V115.3M521.4 62.5H523.4M575.7 113.3V115.3M521.4 36.7H523.4M602.4 113.3V115.3" stroke="#4d4d4d" stroke-width="0.7" fill="none"/>
<text x="520.4" y="91.5" font-size="8.6" text-anchor="end" fill="#222" font-family='"Liberation Sans", sans-serif' >-50</text>
<text x="549" y="121.8" font-size="8.6" text-anchor="middle" fill="#222" font-family='"Liberation Sans", sans-serif' >-50</text>
<text x="520.4" y="65.6" font-size="8.6" text-anchor="end" fill="#222" font-family='"Liberation Sans", sans-serif' >0</text>
<text x="575.7" y="121.8" font-size="8.6" text-anchor="middle" fill="#222" font-family='"Liberation Sans", sans-serif' >0</text>
<text x="520.4" y="39.8" font-size="8.6" text-anchor="end" fill="#222" font-family='"Liberation Sans", sans-serif' >50</text>
<text x="602.4" y="121.8" font-size="8.6" text-anchor="middle" fill="#222" font-family='"Liberation Sans", sans-serif' >50</text>
<text x="575.7" y="6.6" font-size="8.7" text-anchor="middle" fill="#1a1a1a" font-family='"Liberation Sans", sans-serif' >DKO/p85β-Δmotif</text>
</g>
<text x="575.7" y="132.1" font-size="8.9" text-anchor="middle" fill="#1a1a1a" font-family='"Liberation Sans", sans-serif' >x (μm)</text>
<text transform="translate(129.3 62.5) rotate(-90)" font-size="8.7" text-anchor="middle" fill="#1a1a1a" font-family='"Liberation Sans", sans-serif'>y (μm)</text>
<defs><linearGradient id="cb639" x1="0" y1="1" x2="0" y2="0"><stop offset="0.00" stop-color="#ffff00"/><stop offset="0.10" stop-color="#f8e74a"/><stop offset="0.20" stop-color="#efd06a"/><stop offset="0.30" stop-color="#e4b982"/><stop offset="0.40" stop-color="#d8a197"/><stop offset="0.50" stop-color="#ca8aaa"/><stop offset="0.60" stop-color="#b973bc"/><stop offset="0.70" stop-color="#a45ccd"/><stop offset="0.80" stop-color="#8a44de"/><stop offset="0.90" stop-color="#6529ef"/><stop offset="1.00" stop-color="#0000ff"/></linearGradient></defs>
<rect x="639.7" y="37.2" width="9.3" height="47.2" fill="url(#cb639)"/>
<text x="652.8" y="86.6" font-size="6.2" text-anchor="start" fill="#333" font-family='"Liberation Sans", sans-serif' >0.0</text>
<text x="652.8" y="77.2" font-size="6.2" text-anchor="start" fill="#333" font-family='"Liberation Sans", sans-serif' >0.5</text>
<text x="652.8" y="67.8" font-size="6.2" text-anchor="start" fill="#333" font-family='"Liberation Sans", sans-serif' >1.0</text>
<text x="652.8" y="58.3" font-size="6.2" text-anchor="start" fill="#333" font-family='"Liberation Sans", sans-serif' >1.5</text>
<text x="652.8" y="48.9" font-size="6.2" text-anchor="start" fill="#333" font-family='"Liberation Sans", sans-serif' >2.0</text>
<text x="652.8" y="39.4" font-size="6.2" text-anchor="start" fill="#333" font-family='"Liberation Sans", sans-serif' >2.5</text>
<path d="M639.7 75h1.6M647.4 75h1.6M639.7 65.5h1.6M647.4 65.5h1.6M639.7 56.1h1.6M647.4 56.1h1.6M639.7 46.6h1.6M647.4 46.6h1.6" stroke="#fff" stroke-width="0.5" opacity="0.8"/>
<text x="651" y="26.8" font-size="7.2" text-anchor="middle" fill="#1a1a1a" font-family='"Liberation Sans", sans-serif' >time (h)</text>
<text x="0.5" y="176.3" font-size="21" text-anchor="start" fill="#000" font-weight="bold" font-family='"Liberation Sans", sans-serif' >b</text>
<rect x="60.5" y="165.3" width="140.1" height="140.3" fill="none" stroke="#9a9a9a" stroke-width="0.8"/>
<path d="M70.7 289.8 70.7 288.3 70.7 286.8 70.8 285.4 70.9 283.9 71.1 282.4 71.2 280.9 71.5 279.5 71.7 278 72 276.5 72.4 275 72.8 273.6 73.2 272.1 73.6 270.6 74.1 269.1 74.5 267.7 75 266.2 75.4 264.7 75.7 263.2 76.1 261.8 76.3 260.3 76.4 258.8 76.5 257.3 76.5 255.9 76.3 254.4 76 252.9 75.6 251.4 75.2 250 74.7 248.5 74.1 247 73.6 245.5 73.1 244.1 72.6 242.6 72.2 241.1 71.8 239.6 71.5 238.1 71.2 236.7 71 235.2 70.8 233.7 70.7 232.2 70.7 230.8 70.7 229.3 70.7 227.8 70.7 226.3 70.7 224.9 70.7 223.4 70.7 221.9 70.7 220.4 70.7 219 70.7 217.5 70.7 216 70.7 214.5 70.7 213.1 70.7 211.6 70.7 210.1 70.7 208.6 70.7 207.2 70.7 205.7 70.7 204.2 70.7 202.7 70.7 201.3 70.1 201.3 70.1 202.7 70.1 204.2 70.1 205.7 70.1 207.2 70.1 208.6 70.1 210.1 70.1 211.6 70.1 213.1 70.1 214.5 70.1 216 70.1 217.5 70.1 219 70.1 220.4 70.1 221.9 70.1 223.4 70.1 224.9 70.1 226.3 70.1 227.8 70.1 229.3 70.1 230.8 70.1 232.2 70 233.7 69.8 235.2 69.6 236.7 69.3 238.1 69 239.6 68.6 241.1 68.2 242.6 67.7 244.1 67.2 245.5 66.7 247 66.1 248.5 65.6 250 65.2 251.4 64.8 252.9 64.5 254.4 64.3 255.9 64.3 257.3 64.4 258.8 64.5 260.3 64.7 261.8 65.1 263.2 65.4 264.7 65.8 266.2 66.3 267.7 66.7 269.1 67.2 270.6 67.6 272.1 68 273.6 68.4 275 68.8 276.5 69.1 278 69.3 279.5 69.6 280.9 69.7 282.4 69.9 283.9 70 285.4 70.1 286.8 70.1 288.3 70.1 289.8Z" fill="#676767" stroke="#505050" stroke-width="0.4"/>
<path d="M70.4 201.3V289.8" stroke="#505050" stroke-width="0.6"/>
<circle cx="70.4" cy="226.6" r="1.25" fill="#505050"/>
<circle cx="70.4" cy="223.4" r="1.25" fill="#505050"/>
<circle cx="70.4" cy="220.2" r="1.25" fill="#505050"/>
<circle cx="70.4" cy="218.6" r="1.25" fill="#505050"/>
<circle cx="70.4" cy="215.5" r="1.25" fill="#505050"/>
<circle cx="70.4" cy="213.9" r="1.25" fill="#505050"/>
<circle cx="70.4" cy="210.7" r="1.25" fill="#505050"/>
<rect x="68" y="251.9" width="4.8" height="12.2" fill="#fff" stroke="#505050" stroke-width="0.55"/>
<path d="M68 258.2h4.8" stroke="#505050" stroke-width="0.9"/>
<path d="M87.9 297.7 87.9 295.8 87.9 293.8 87.9 291.9 88.1 289.9 88.4 288 88.8 286 89.2 284.1 89.7 282.1 90.3 280.2 90.8 278.2 91.2 276.3 91.5 274.3 91.5 272.4 91.5 270.4 91.5 268.5 91.5 266.5 91.4 264.6 91.3 262.6 91.2 260.7 91.1 258.7 90.9 256.8 90.8 254.8 90.6 252.9 90.4 250.9 90.3 249 90.1 247 89.9 245.1 89.7 243.1 89.6 241.2 89.4 239.2 89.2 237.3 89.1 235.3 88.9 233.4 88.8 231.4 88.6 229.5 88.5 227.5 88.4 225.6 88.3 223.6 88.2 221.7 88.1 219.7 88 217.8 88 215.8 87.9 213.9 87.9 211.9 87.9 210 87.9 208 87.9 206.1 87.9 204.1 87.9 202.2 87.9 200.2 87.9 198.3 87.9 196.3 87.9 194.4 87.9 192.4 87.9 190.5 87.9 188.5 87.9 186.6 87.9 184.6 87.9 182.7 87.9 180.7 87.3 180.7 87.3 182.7 87.3 184.6 87.3 186.6 87.3 188.5 87.3 190.5 87.3 192.4 87.3 194.4 87.3 196.3 87.3 198.3 87.3 200.2 87.3 202.2 87.3 204.1 87.3 206.1 87.3 208 87.3 210 87.3 211.9 87.2 213.9 87.1 215.8 87.1 217.8 87 219.7 86.9 221.7 86.8 223.6 86.7 225.6 86.6 227.5 86.5 229.5 86.3 231.4 86.2 233.4 86 235.3 85.9 237.3 85.7 239.2 85.5 241.2 85.4 243.1 85.2 245.1 85 247 84.8 249 84.7 250.9 84.5 252.9 84.3 254.8 84.2 256.8 84 258.7 83.9 260.7 83.8 262.6 83.7 264.6 83.6 266.5 83.6 268.5 83.6 270.4 83.6 272.4 83.6 274.3 83.9 276.3 84.3 278.2 84.8 280.2 85.4 282.1 85.9 284.1 86.3 286 86.7 288 87 289.9 87.2 291.9 87.3 293.8 87.3 295.8 87.3 297.7Z" fill="#a3a3a3" stroke="#7f7f7f" stroke-width="0.4"/>
<path d="M87.6 180.7V297.7" stroke="#7f7f7f" stroke-width="0.6"/>
<circle cx="87.6" cy="223.4" r="1.25" fill="#7f7f7f"/>
<circle cx="87.6" cy="220.2" r="1.25" fill="#7f7f7f"/>
<circle cx="87.6" cy="194.9" r="1.25" fill="#7f7f7f"/>
<rect x="85.2" y="254.1" width="4.8" height="17.7" fill="#fff" stroke="#7f7f7f" stroke-width="0.55"/>
<path d="M85.2 262.9h4.8" stroke="#7f7f7f" stroke-width="0.9"/>
<path d="M105 296.1 105 294.8 105 293.4 105.1 292.1 105.3 290.7 105.5 289.4 105.8 288.1 106.2 286.7 106.6 285.4 107.1 284 107.7 282.7 108.4 281.3 109 280 109.7 278.6 110.3 277.3 110.9 276 111.3 274.6 111.6 273.3 111.8 271.9 111.8 270.6 111.7 269.2 111.5 267.9 111.3 266.6 110.9 265.2 110.6 263.9 110.1 262.5 109.7 261.2 109.2 259.8 108.7 258.5 108.2 257.1 107.8 255.8 107.4 254.5 107 253.1 106.6 251.8 106.3 250.4 106 249.1 105.7 247.7 105.5 246.4 105.3 245.1 105.2 243.7 105.1 242.4 105 241 105 239.7 105 238.3 105 237 105 235.6 105 234.3 105 233 105 231.6 105 230.3 105 228.9 105 227.6 105 226.2 105 224.9 105 223.6 105 222.2 105 220.9 105 219.5 105 218.2 105 216.8 105 215.5 104.4 215.5 104.4 216.8 104.4 218.2 104.4 219.5 104.4 220.9 104.4 222.2 104.4 223.6 104.4 224.9 104.4 226.2 104.4 227.6 104.4 228.9 104.4 230.3 104.4 231.6 104.4 233 104.4 234.3 104.4 235.6 104.4 237 104.4 238.3 104.4 239.7 104.4 241 104.3 242.4 104.2 243.7 104.1 245.1 103.9 246.4 103.7 247.7 103.4 249.1 103.1 250.4 102.8 251.8 102.4 253.1 102 254.5 101.6 255.8 101.2 257.1 100.7 258.5 100.2 259.8 99.7 261.2 99.3 262.5 98.8 263.9 98.5 265.2 98.1 266.6 97.9 267.9 97.7 269.2 97.6 270.6 97.6 271.9 97.8 273.3 98.1 274.6 98.5 276 99.1 277.3 99.7 278.6 100.4 280 101 281.3 101.7 282.7 102.3 284 102.8 285.4 103.2 286.7 103.6 288.1 103.9 289.4 104.1 290.7 104.3 292.1 104.4 293.4 104.4 294.8 104.4 296.1Z" fill="#fbb10a" stroke="#c38a07" stroke-width="0.4"/>
<path d="M104.7 215.5V296.1" stroke="#c38a07" stroke-width="0.6"/>
<circle cx="104.7" cy="245.5" r="1.25" fill="#c38a07"/>
<circle cx="104.7" cy="242.4" r="1.25" fill="#c38a07"/>
<circle cx="104.7" cy="239.2" r="1.25" fill="#c38a07"/>
<circle cx="104.7" cy="236" r="1.25" fill="#c38a07"/>
<circle cx="104.7" cy="221.8" r="1.25" fill="#c38a07"/>
<rect x="102.3" y="263.7" width="4.8" height="11.1" fill="#fff" stroke="#c38a07" stroke-width="0.55"/>
<path d="M102.3 270.8h4.8" stroke="#c38a07" stroke-width="0.9"/>
<path d="M122.1 297.7 122.1 296 122.2 294.4 122.3 292.7 122.4 291 122.6 289.3 122.8 287.7 123 286 123.2 284.3 123.5 282.7 123.7 281 124 279.3 124.4 277.7 124.7 276 125 274.3 125.3 272.6 125.6 271 125.9 269.3 126.1 267.6 126.3 266 126.4 264.3 126.5 262.6 126.5 260.9 126.4 259.3 126.3 257.6 126.1 255.9 125.9 254.3 125.6 252.6 125.2 250.9 124.9 249.3 124.5 247.6 124.2 245.9 123.8 244.2 123.5 242.6 123.2 240.9 123 239.2 122.8 237.6 122.6 235.9 122.4 234.2 122.3 232.5 122.2 230.9 122.1 229.2 122.1 227.5 122.1 225.9 122.1 224.2 122.1 222.5 122.1 220.9 122.1 219.2 122.1 217.5 122.1 215.8 122.1 214.2 122.1 212.5 122.1 210.8 122.1 209.2 122.1 207.5 122.1 205.8 122.1 204.1 122.1 202.5 122.1 200.8 122.1 199.1 122.1 197.5 121.5 197.5 121.5 199.1 121.5 200.8 121.5 202.5 121.5 204.1 121.5 205.8 121.5 207.5 121.5 209.2 121.5 210.8 121.5 212.5 121.5 214.2 121.5 215.8 121.5 217.5 121.5 219.2 121.5 220.9 121.5 222.5 121.5 224.2 121.5 225.9 121.5 227.5 121.5 229.2 121.5 230.9 121.4 232.5 121.3 234.2 121.1 235.9 120.9 237.6 120.7 239.2 120.5 240.9 120.2 242.6 119.9 244.2 119.5 245.9 119.2 247.6 118.8 249.3 118.5 250.9 118.1 252.6 117.8 254.3 117.6 255.9 117.4 257.6 117.3 259.3 117.2 260.9 117.2 262.6 117.3 264.3 117.4 266 117.6 267.6 117.8 269.3 118.1 271 118.4 272.6 118.7 274.3 119 276 119.3 277.7 119.7 279.3 120 281 120.2 282.7 120.5 284.3 120.7 286 120.9 287.7 121.1 289.3 121.3 291 121.4 292.7 121.5 294.4 121.5 296 121.5 297.7Z" fill="#f5007f" stroke="#bf0063" stroke-width="0.4"/>
<path d="M121.8 197.5V297.7" stroke="#bf0063" stroke-width="0.6"/>
<circle cx="121.8" cy="228.5" r="1.25" fill="#bf0063"/>
<circle cx="121.8" cy="213" r="1.25" fill="#bf0063"/>
<circle cx="121.8" cy="207.7" r="1.25" fill="#bf0063"/>
<rect x="119.4" y="254.5" width="4.8" height="15.8" fill="#fff" stroke="#bf0063" stroke-width="0.55"/>
<path d="M119.4 262.3h4.8" stroke="#bf0063" stroke-width="0.9"/>
<path d="M139.3 293.6 139.4 292.2 139.5 290.9 139.6 289.5 139.7 288.1 139.9 286.8 140.1 285.4 140.2 284.1 140.5 282.7 140.7 281.3 140.9 280 141.2 278.6 141.5 277.2 141.7 275.9 142 274.5 142.3 273.2 142.6 271.8 142.8 270.4 143.1 269.1 143.3 267.7 143.5 266.3 143.6 265 143.7 263.6 143.8 262.3 143.8 260.9 143.8 259.5 143.7 258.2 143.6 256.8 143.4 255.4 143.2 254.1 143 252.7 142.7 251.4 142.4 250 142.1 248.6 141.8 247.3 141.5 245.9 141.2 244.5 140.9 243.2 140.7 241.8 140.4 240.5 140.2 239.1 140 237.7 139.9 236.4 139.7 235 139.6 233.6 139.5 232.3 139.4 230.9 139.3 229.6 139.3 228.2 139.3 226.8 139.3 225.5 139.3 224.1 139.3 222.8 139.3 221.4 139.3 220 139.3 218.7 139.3 217.3 139.3 215.9 139.3 214.6 139.3 213.2 139.3 211.9 138.7 211.9 138.7 213.2 138.7 214.6 138.7 215.9 138.7 217.3 138.7 218.7 138.7 220 138.7 221.4 138.7 222.8 138.7 224.1 138.7 225.5 138.7 226.8 138.7 228.2 138.7 229.6 138.6 230.9 138.5 232.3 138.4 233.6 138.3 235 138.1 236.4 138 237.7 137.8 239.1 137.6 240.5 137.3 241.8 137.1 243.2 136.8 244.5 136.5 245.9 136.2 247.3 135.9 248.6 135.6 250 135.3 251.4 135 252.7 134.8 254.1 134.6 255.4 134.4 256.8 134.3 258.2 134.2 259.5 134.2 260.9 134.2 262.3 134.3 263.6 134.4 265 134.5 266.3 134.7 267.7 134.9 269.1 135.2 270.4 135.4 271.8 135.7 273.2 136 274.5 136.3 275.9 136.5 277.2 136.8 278.6 137.1 280 137.3 281.3 137.5 282.7 137.8 284.1 137.9 285.4 138.1 286.8 138.3 288.1 138.4 289.5 138.5 290.9 138.6 292.2 138.7 293.6Z" fill="#3152b2" stroke="#263f8a" stroke-width="0.4"/>
<path d="M139 211.9V293.6" stroke="#263f8a" stroke-width="0.6"/>
<circle cx="139" cy="229.9" r="1.25" fill="#263f8a"/>
<circle cx="139" cy="221.8" r="1.25" fill="#263f8a"/>
<rect x="136.6" y="254.5" width="4.8" height="14.4" fill="#fff" stroke="#263f8a" stroke-width="0.55"/>
<path d="M136.6 262.6h4.8" stroke="#263f8a" stroke-width="0.9"/>
<path d="M156.5 295.6 156.7 294.7 156.9 293.8 157.1 292.9 157.4 292 157.7 291.1 158.2 290.2 158.6 289.3 159.2 288.4 159.8 287.5 160.4 286.6 161.1 285.7 161.8 284.8 162.5 283.9 163.2 283 163.8 282.1 164.3 281.2 164.7 280.3 165 279.4 165.1 278.5 165.1 277.6 165 276.7 164.7 275.8 164.4 274.9 163.9 274 163.3 273.1 162.7 272.2 162.1 271.3 161.4 270.4 160.8 269.5 160.1 268.6 159.5 267.7 159 266.8 158.5 265.9 158.1 265 157.7 264.1 157.4 263.2 157.1 262.3 156.9 261.4 156.7 260.5 156.6 259.6 156.5 258.7 156.5 257.8 156.5 256.9 156.5 256 156.5 255.1 156.5 254.2 156.5 253.3 156.5 252.4 156.5 251.5 156.5 250.6 156.5 249.7 156.5 248.8 156.5 247.9 156.5 247 156.5 246.1 156.5 245.2 156.5 244.3 156.5 243.4 156.5 242.5 156.5 241.6 155.8 241.6 155.8 242.5 155.8 243.4 155.8 244.3 155.8 245.2 155.8 246.1 155.8 247 155.8 247.9 155.8 248.8 155.8 249.7 155.8 250.6 155.8 251.5 155.8 252.4 155.8 253.3 155.8 254.2 155.8 255.1 155.8 256 155.8 256.9 155.8 257.8 155.8 258.7 155.7 259.6 155.6 260.5 155.4 261.4 155.2 262.3 154.9 263.2 154.6 264.1 154.2 265 153.8 265.9 153.3 266.8 152.8 267.7 152.2 268.6 151.5 269.5 150.9 270.4 150.2 271.3 149.6 272.2 149 273.1 148.4 274 147.9 274.9 147.6 275.8 147.3 276.7 147.2 277.6 147.2 278.5 147.3 279.4 147.6 280.3 148 281.2 148.5 282.1 149.1 283 149.8 283.9 150.5 284.8 151.2 285.7 151.9 286.6 152.5 287.5 153.1 288.4 153.7 289.3 154.1 290.2 154.6 291.1 154.9 292 155.2 292.9 155.4 293.8 155.6 294.7 155.8 295.6Z" fill="#676767" stroke="#505050" stroke-width="0.4"/>
<path d="M156.2 241.6V295.6" stroke="#505050" stroke-width="0.6"/>
<circle cx="156.2" cy="259.8" r="1.25" fill="#505050"/>
<circle cx="156.2" cy="256.6" r="1.25" fill="#505050"/>
<circle cx="156.2" cy="253.4" r="1.25" fill="#505050"/>
<circle cx="156.2" cy="248.7" r="1.25" fill="#505050"/>
<rect x="153.8" y="274" width="4.8" height="7.3" fill="#fff" stroke="#505050" stroke-width="0.55"/>
<path d="M153.8 277.5h4.8" stroke="#505050" stroke-width="0.9"/>
<path d="M173.6 296.4 173.6 295.4 173.7 294.4 173.9 293.4 174.1 292.4 174.4 291.3 174.7 290.3 175.2 289.3 175.7 288.3 176.3 287.3 176.9 286.2 177.6 285.2 178.3 284.2 178.9 283.2 179.6 282.2 180.1 281.1 180.5 280.1 180.8 279.1 180.9 278.1 180.9 277.1 180.8 276 180.6 275 180.3 274 180 273 179.7 272 179.3 270.9 178.8 269.9 178.4 268.9 177.9 267.9 177.5 266.9 177 265.8 176.6 264.8 176.1 263.8 175.8 262.8 175.4 261.8 175.1 260.7 174.8 259.7 174.5 258.7 174.3 257.7 174.1 256.7 174 255.6 173.8 254.6 173.7 253.6 173.6 252.6 173.6 251.6 173.6 250.5 173.6 249.5 173.6 248.5 173.6 247.5 173.6 246.5 173.6 245.4 173.6 244.4 173.6 243.4 173.6 242.4 173.6 241.4 173.6 240.3 173.6 239.3 173.6 238.3 173.6 237.3 173.6 236.3 173.6 235.3 173 235.3 173 236.3 173 237.3 173 238.3 173 239.3 173 240.3 173 241.4 173 242.4 173 243.4 173 244.4 173 245.4 173 246.5 173 247.5 173 248.5 173 249.5 173 250.5 173 251.6 173 252.6 172.9 253.6 172.8 254.6 172.6 255.6 172.5 256.7 172.3 257.7 172.1 258.7 171.8 259.7 171.5 260.7 171.2 261.8 170.8 262.8 170.5 263.8 170 264.8 169.6 265.8 169.1 266.9 168.7 267.9 168.2 268.9 167.8 269.9 167.3 270.9 166.9 272 166.6 273 166.3 274 166 275 165.8 276 165.7 277.1 165.7 278.1 165.8 279.1 166.1 280.1 166.5 281.1 167 282.2 167.7 283.2 168.3 284.2 169 285.2 169.7 286.2 170.3 287.3 170.9 288.3 171.4 289.3 171.9 290.3 172.2 291.3 172.5 292.4 172.7 293.4 172.9 294.4 173 295.4 173 296.4Z" fill="#676767" stroke="#505050" stroke-width="0.4"/>
<path d="M173.3 235.3V296.4" stroke="#505050" stroke-width="0.6"/>
<circle cx="173.3" cy="255" r="1.25" fill="#505050"/>
<circle cx="173.3" cy="250.3" r="1.25" fill="#505050"/>
<circle cx="173.3" cy="247.1" r="1.25" fill="#505050"/>
<circle cx="173.3" cy="243.9" r="1.25" fill="#505050"/>
<rect x="170.9" y="271.1" width="4.8" height="10.8" fill="#fff" stroke="#505050" stroke-width="0.55"/>
<path d="M170.9 276h4.8" stroke="#505050" stroke-width="0.9"/>
<path d="M191.1 294.2 191.4 293.2 191.7 292.2 192.1 291.2 192.6 290.2 193.1 289.2 193.8 288.2 194.5 287.1 195.3 286.1 196.1 285.1 196.9 284.1 197.7 283.1 198.4 282.1 199 281.1 199.4 280.1 199.7 279 199.7 278 199.7 277 199.4 276 199 275 198.4 274 197.8 273 197.1 272 196.3 270.9 195.5 269.9 194.8 268.9 194.1 267.9 193.4 266.9 192.9 265.9 192.4 264.9 191.9 263.9 191.6 262.9 191.3 261.8 191.1 260.8 190.9 259.8 190.8 258.8 190.8 257.8 190.8 256.8 190.8 255.8 190.8 254.8 190.8 253.7 190.8 252.7 190.8 251.7 190.8 250.7 190.8 249.7 190.8 248.7 190.8 247.7 190.8 246.7 190.8 245.7 190.8 244.6 190.8 243.6 190.8 242.6 190.8 241.6 190.8 240.6 190.8 239.6 190.8 238.6 190.8 237.6 190.8 236.5 190.8 235.5 190.8 234.5 190.8 233.5 190.1 233.5 190.1 234.5 190.1 235.5 190.1 236.5 190.1 237.6 190.1 238.6 190.1 239.6 190.1 240.6 190.1 241.6 190.1 242.6 190.1 243.6 190.1 244.6 190.1 245.7 190.1 246.7 190.1 247.7 190.1 248.7 190.1 249.7 190.1 250.7 190.1 251.7 190.1 252.7 190.1 253.7 190.1 254.8 190.1 255.8 190.1 256.8 190.1 257.8 190.1 258.8 190 259.8 189.8 260.8 189.6 261.8 189.3 262.9 189 263.9 188.5 264.9 188 265.9 187.5 266.9 186.8 267.9 186.1 268.9 185.4 269.9 184.6 270.9 183.8 272 183.1 273 182.5 274 181.9 275 181.5 276 181.2 277 181.2 278 181.2 279 181.5 280.1 181.9 281.1 182.5 282.1 183.2 283.1 184 284.1 184.8 285.1 185.6 286.1 186.4 287.1 187.1 288.2 187.8 289.2 188.3 290.2 188.8 291.2 189.2 292.2 189.5 293.2 189.8 294.2Z" fill="#676767" stroke="#505050" stroke-width="0.4"/>
<path d="M190.4 233.5V294.2" stroke="#505050" stroke-width="0.6"/>
<circle cx="190.4" cy="258.2" r="1.25" fill="#505050"/>
<circle cx="190.4" cy="255" r="1.25" fill="#505050"/>
<circle cx="190.4" cy="248.7" r="1.25" fill="#505050"/>
<circle cx="190.4" cy="239.2" r="1.25" fill="#505050"/>
<rect x="188" y="272.7" width="4.8" height="7.4" fill="#fff" stroke="#505050" stroke-width="0.55"/>
<path d="M188 276h4.8" stroke="#505050" stroke-width="0.9"/>
<path d="M57.5 297.7H60.5M57.5 266.1H60.5M57.5 234.5H60.5M57.5 202.8H60.5M57.5 171.2H60.5" stroke="#333" stroke-width="0.6"/>
<text x="54.7" y="301.3" font-size="10" text-anchor="end" fill="#222" font-family='"Liberation Sans", sans-serif' >0</text>
<text x="54.7" y="269.7" font-size="10" text-anchor="end" fill="#222" font-family='"Liberation Sans", sans-serif' >20</text>
<text x="54.7" y="238.1" font-size="10" text-anchor="end" fill="#222" font-family='"Liberation Sans", sans-serif' >40</text>
<text x="54.7" y="206.4" font-size="10" text-anchor="end" fill="#222" font-family='"Liberation Sans", sans-serif' >60</text>
<text x="54.7" y="174.8" font-size="10" text-anchor="end" fill="#222" font-family='"Liberation Sans", sans-serif' >80</text>
<path d="M70.4 305.6V308.6M87.6 305.6V308.6M104.7 305.6V308.6M121.8 305.6V308.6M139 305.6V308.6M156.2 305.6V308.6M173.3 305.6V308.6M190.4 305.6V308.6" stroke="#333" stroke-width="0.6"/>
<text transform="translate(75.9 315.1) rotate(-45)" font-size="10.2" text-anchor="end" fill="#111" font-family='"Liberation Sans", sans-serif'>wt</text>
<text transform="translate(93.1 315.1) rotate(-45)" font-size="10.2" text-anchor="end" fill="#111" font-family='"Liberation Sans", sans-serif'>DKO</text>
<text transform="translate(110.2 315.1) rotate(-45)" font-size="10.2" text-anchor="end" fill="#111" font-family='"Liberation Sans", sans-serif'>DKO/p85β-wt</text>
<text transform="translate(127.3 315.1) rotate(-45)" font-size="10.2" text-anchor="end" fill="#111" font-family='"Liberation Sans", sans-serif'>DKO/p85β-motifGS</text>
<text transform="translate(144.5 315.1) rotate(-45)" font-size="10.2" text-anchor="end" fill="#111" font-family='"Liberation Sans", sans-serif'>DKO/p85β-Δmotif</text>
<text transform="translate(161.7 315.1) rotate(-45)" font-size="10.2" text-anchor="end" fill="#111" font-family='"Liberation Sans", sans-serif'>DKO/p85βDN</text>
<text transform="translate(178.8 315.1) rotate(-45)" font-size="10.2" text-anchor="end" fill="#111" font-family='"Liberation Sans", sans-serif'>DKO/p85βDN-motifGS</text>
<text transform="translate(195.9 315.1) rotate(-45)" font-size="10.2" text-anchor="end" fill="#111" font-family='"Liberation Sans", sans-serif'>DKO/p85βDN-Δmotif</text>
<text transform="translate(40.5 235.5) rotate(-90)" font-size="10" text-anchor="middle" fill="#1a1a1a" font-family='"Liberation Sans", sans-serif'>Mean Speed (μm/h)</text>
<path d="M69.5 182V171.5H103.4" stroke="#444" stroke-width="0.8" fill="none"/>
<path d="M86.5 182V177.5H103.4" stroke="#444" stroke-width="0.8" fill="none"/>
<path d="M104.2 181.5H174.5V215.5M152 215.5H195.8" stroke="#444" stroke-width="0.8" fill="none"/>
<path d="M104.2 186.5H130.5V192.5M118.4 192.5H142.7" stroke="#555" stroke-width="0.8" fill="none"/>
<text x="86.3" y="172.9" font-size="7.6" text-anchor="middle" fill="#222" font-weight="bold" font-family='"Liberation Sans", sans-serif' >****</text>
<text x="95" y="179.7" font-size="7.6" text-anchor="middle" fill="#222" font-weight="bold" font-family='"Liberation Sans", sans-serif' >****</text>
<text x="138.2" y="183.1" font-size="7.6" text-anchor="middle" fill="#222" font-weight="bold" font-family='"Liberation Sans", sans-serif' >****</text>
<text x="117.2" y="188.6" font-size="7.6" text-anchor="middle" fill="#222" font-weight="bold" font-family='"Liberation Sans", sans-serif' >****</text>
<text x="223" y="176.8" font-size="21" text-anchor="start" fill="#000" font-weight="bold" font-family='"Liberation Sans", sans-serif' >c</text>
<path d="M279.8 297.9 282.2 297.5 284.7 296.7 287.2 295.7 289.6 294.5 292.1 293.1 294.6 291.5 297.1 289.8 299.5 287.9 302 286 304.5 283.9 306.9 281.7 309.4 279.5 311.9 277.1 314.3 274.7 316.8 272.2 319.3 269.7 321.7 267.1 324.2 264.4 326.7 261.7 329.1 259 331.6 256.1 334.1 253.3 336.5 250.4 339 247.5 341.5 244.5 343.9 241.5 346.4 238.5 348.9 235.4 351.4 232.3 353.8 229.1 356.3 226 358.8 222.8 361.2 219.5 363.7 216.3 366.2 213 368.6 209.7 371.1 206.4 373.6 203 376 199.6 378.5 196.2 378.5 230.1 376 231.9 373.6 233.7 371.1 235.6 368.6 237.4 366.2 239.2 363.7 241.1 361.2 242.9 358.8 244.8 356.3 246.7 353.8 248.6 351.4 250.4 348.9 252.3 346.4 254.2 343.9 256.1 341.5 258.1 339 260 336.5 261.9 334.1 263.8 331.6 265.7 329.1 267.6 326.7 269.5 324.2 271.4 321.7 273.3 319.3 275.2 316.8 277 314.3 278.9 311.9 280.7 309.4 282.5 306.9 284.2 304.5 285.9 302 287.6 299.5 289.2 297.1 290.8 294.6 292.2 292.1 293.6 289.6 294.8 287.2 295.9 284.7 296.8 282.2 297.5 279.8 297.9Z" fill="#9a9a9a" fill-opacity="0.5"/>
<path d="M279.8 297.9 282.2 297.6 284.7 297.1 287.2 296.4 289.6 295.6 292.1 294.6 294.6 293.6 297.1 292.4 299.5 291.2 302 289.8 304.5 288.4 306.9 287 309.4 285.5 311.9 283.9 314.3 282.3 316.8 280.7 319.3 279 321.7 277.3 324.2 275.6 326.7 273.8 329.1 272 331.6 270.2 334.1 268.4 336.5 266.5 339 264.6 341.5 262.7 343.9 260.8 346.4 258.8 348.9 256.8 351.4 254.9 353.8 252.9 356.3 250.8 358.8 248.8 361.2 246.8 363.7 244.7 366.2 242.6 368.6 240.5 371.1 238.4 373.6 236.3 376 234.2 378.5 232.1 378.5 245.1 376 246.7 373.6 248.2 371.1 249.7 368.6 251.2 366.2 252.7 363.7 254.2 361.2 255.8 358.8 257.3 356.3 258.8 353.8 260.3 351.4 261.8 348.9 263.4 346.4 264.9 343.9 266.4 341.5 267.9 339 269.4 336.5 270.9 334.1 272.4 331.6 273.9 329.1 275.4 326.7 276.8 324.2 278.3 321.7 279.7 319.3 281.1 316.8 282.6 314.3 283.9 311.9 285.3 309.4 286.7 306.9 288 304.5 289.2 302 290.5 299.5 291.7 297.1 292.8 294.6 293.8 292.1 294.8 289.6 295.7 287.2 296.5 284.7 297.2 282.2 297.6 279.8 297.9Z" fill="#fbb41a" fill-opacity="0.5"/>
<path d="M279.8 297.9 282.2 297.4 284.7 296.6 287.2 295.5 289.6 294.2 292.1 292.6 294.6 290.9 297.1 289.1 299.5 287.1 302 284.9 304.5 282.7 306.9 280.4 309.4 278 311.9 275.5 314.3 272.9 316.8 270.3 319.3 267.6 321.7 264.8 324.2 262 326.7 259.2 329.1 256.3 331.6 253.3 334.1 250.3 336.5 247.3 339 244.2 341.5 241.1 343.9 238 346.4 234.9 348.9 231.7 351.4 228.4 353.8 225.2 356.3 221.9 358.8 218.6 361.2 215.3 363.7 212 366.2 208.6 368.6 205.2 371.1 201.8 373.6 198.3 376 194.9 378.5 191.4 378.5 215.9 376 218.2 373.6 220.6 371.1 222.9 368.6 225.2 366.2 227.5 363.7 229.9 361.2 232.2 358.8 234.6 356.3 236.9 353.8 239.2 351.4 241.6 348.9 243.9 346.4 246.3 343.9 248.6 341.5 250.9 339 253.3 336.5 255.6 334.1 257.9 331.6 260.2 329.1 262.5 326.7 264.8 324.2 267.1 321.7 269.3 319.3 271.5 316.8 273.7 314.3 275.9 311.9 278 309.4 280.1 306.9 282.2 304.5 284.2 302 286.1 299.5 288 297.1 289.8 294.6 291.4 292.1 293 289.6 294.4 287.2 295.6 284.7 296.7 282.2 297.4 279.8 297.9Z" fill="#4a6cc0" fill-opacity="0.55"/>
<path d="M279.8 297.9 282.2 297.3 284.7 296.4 287.2 295.1 289.6 293.6 292.1 291.8 294.6 289.8 297.1 287.6 299.5 285.3 302 282.8 304.5 280.2 306.9 277.5 309.4 274.7 311.9 271.8 314.3 268.8 316.8 265.7 319.3 262.6 321.7 259.4 324.2 256.1 326.7 252.8 329.1 249.4 331.6 246 334.1 242.5 336.5 239 339 235.4 341.5 231.8 343.9 228.2 346.4 224.5 348.9 220.8 351.4 217 353.8 213.2 356.3 209.4 358.8 205.6 361.2 201.7 363.7 197.8 366.2 193.9 368.6 189.9 371.1 186 373.6 182 376 177.9 378.5 173.9 378.5 202.4 376 205.1 373.6 207.8 371.1 210.5 368.6 213.3 366.2 216 363.7 218.7 361.2 221.4 358.8 224.1 356.3 226.9 353.8 229.6 351.4 232.3 348.9 235 346.4 237.8 343.9 240.5 341.5 243.2 339 245.9 336.5 248.6 334.1 251.3 331.6 254 329.1 256.7 326.7 259.3 324.2 262 321.7 264.6 319.3 267.2 316.8 269.8 314.3 272.3 311.9 274.8 309.4 277.2 306.9 279.6 304.5 281.9 302 284.2 299.5 286.3 297.1 288.4 294.6 290.4 292.1 292.2 289.6 293.8 287.2 295.2 284.7 296.4 282.2 297.3 279.8 297.9Z" fill="#f0188c" fill-opacity="0.6"/>
<path d="M279.8 297.9 282.2 297.5 284.7 296.8 287.2 295.8 289.6 294.7 292.1 293.3 294.6 291.9 297.1 290.3 299.5 288.6 302 286.8 304.5 284.9 306.9 283 309.4 281 311.9 278.9 314.3 276.8 316.8 274.6 319.3 272.4 321.7 270.2 324.2 267.9 326.7 265.6 329.1 263.3 331.6 260.9 334.1 258.5 336.5 256.1 339 253.7 341.5 251.3 343.9 248.8 346.4 246.3 348.9 243.9 351.4 241.4 353.8 238.8 356.3 236.3 358.8 233.8 361.2 231.2 363.7 228.7 366.2 226.1 368.6 223.5 371.1 221 373.6 218.4 376 215.8 378.5 213.2" fill="none" stroke="#8c8c8c" stroke-width="1.5" stroke-linejoin="round"/>
<path d="M279.8 297.9 282.2 297.6 284.7 297.1 287.2 296.5 289.6 295.7 292.1 294.7 294.6 293.7 297.1 292.6 299.5 291.4 302 290.2 304.5 288.8 306.9 287.5 309.4 286.1 311.9 284.6 314.3 283.1 316.8 281.6 319.3 280.1 321.7 278.5 324.2 276.9 326.7 275.3 329.1 273.7 331.6 272 334.1 270.4 336.5 268.7 339 267 341.5 265.3 343.9 263.6 346.4 261.8 348.9 260.1 351.4 258.3 353.8 256.6 356.3 254.8 358.8 253 361.2 251.3 363.7 249.5 366.2 247.7 368.6 245.9 371.1 244.1 373.6 242.3 376 240.4 378.5 238.6" fill="none" stroke="#fbb10a" stroke-width="1.5" stroke-linejoin="round"/>
<path d="M279.8 297.9 282.2 297.4 284.7 296.6 287.2 295.6 289.6 294.3 292.1 292.8 294.6 291.2 297.1 289.4 299.5 287.5 302 285.5 304.5 283.5 306.9 281.3 309.4 279.1 311.9 276.8 314.3 274.4 316.8 272 319.3 269.6 321.7 267.1 324.2 264.5 326.7 262 329.1 259.4 331.6 256.8 334.1 254.1 336.5 251.4 339 248.8 341.5 246 343.9 243.3 346.4 240.6 348.9 237.8 351.4 235 353.8 232.2 356.3 229.4 358.8 226.6 361.2 223.8 363.7 220.9 366.2 218.1 368.6 215.2 371.1 212.3 373.6 209.4 376 206.6 378.5 203.7" fill="none" stroke="#3152b2" stroke-width="1.5" stroke-linejoin="round"/>
<path d="M279.8 297.9 282.2 297.3 284.7 296.4 287.2 295.2 289.6 293.7 292.1 292 294.6 290.1 297.1 288 299.5 285.8 302 283.5 304.5 281.1 306.9 278.5 309.4 275.9 311.9 273.3 314.3 270.5 316.8 267.7 319.3 264.9 321.7 262 324.2 259 326.7 256.1 329.1 253 331.6 250 334.1 246.9 336.5 243.8 339 240.7 341.5 237.5 343.9 234.3 346.4 231.1 348.9 227.9 351.4 224.7 353.8 221.4 356.3 218.1 358.8 214.9 361.2 211.6 363.7 208.3 366.2 204.9 368.6 201.6 371.1 198.3 373.6 194.9 376 191.5 378.5 188.2" fill="none" stroke="#f5007f" stroke-width="1.5" stroke-linejoin="round"/>
<rect x="275.2" y="165.4" width="107.4" height="138.8" fill="none" stroke="#9a9a9a" stroke-width="0.8"/>
<path d="M272.2 298H275.2M272.2 262H275.2M272.2 225.9H275.2M272.2 189.9H275.2" stroke="#333" stroke-width="0.6"/>
<text x="270.4" y="301.4" font-size="9.5" text-anchor="end" fill="#222" font-family='"Liberation Sans", sans-serif' >0</text>
<text x="270.4" y="265.4" font-size="9.5" text-anchor="end" fill="#222" font-family='"Liberation Sans", sans-serif' >5000</text>
<text x="270.4" y="229.4" font-size="9.5" text-anchor="end" fill="#222" font-family='"Liberation Sans", sans-serif' >10000</text>
<text x="270.4" y="193.3" font-size="9.5" text-anchor="end" fill="#222" font-family='"Liberation Sans", sans-serif' >15000</text>
<path d="M278.1 304.2V307.2M303.2 304.2V307.2M328.3 304.2V307.2M353.4 304.2V307.2M378.5 304.2V307.2" stroke="#333" stroke-width="0.6"/>
<text x="278.1" y="316.2" font-size="9.5" text-anchor="middle" fill="#222" font-family='"Liberation Sans", sans-serif' >0.0</text>
<text x="303.2" y="316.2" font-size="9.5" text-anchor="middle" fill="#222" font-family='"Liberation Sans", sans-serif' >2.5</text>
<text x="328.3" y="316.2" font-size="9.5" text-anchor="middle" fill="#222" font-family='"Liberation Sans", sans-serif' >5.0</text>
<text x="353.4" y="316.2" font-size="9.5" text-anchor="middle" fill="#222" font-family='"Liberation Sans", sans-serif' >7.5</text>
<text x="378.5" y="316.2" font-size="9.5" text-anchor="middle" fill="#222" font-family='"Liberation Sans", sans-serif' >10.0</text>
<text x="329" y="328" font-size="9.5" text-anchor="middle" fill="#1a1a1a" font-family='"Liberation Sans", sans-serif' >Δt (h)</text>
<text transform="translate(237.5 235) rotate(-90)" font-size="9.5" text-anchor="middle" fill="#1a1a1a" font-family='"Liberation Sans", sans-serif'>MSD (μm<tspan font-size="6" dy="-3.5">2</tspan><tspan dy="3.5">)</tspan></text>
<text x="401" y="177" font-size="21" text-anchor="start" fill="#000" font-weight="bold" font-family='"Liberation Sans", sans-serif' >d</text>
<path d="M452.3 173.8 453.8 196.2 455.3 209.9 456.8 220.7 458.3 228.2 459.7 235.9 461.2 239.8 462.7 242.8 464.2 246.5 465.7 247.6 467.2 249.7 468.7 250.6 470.2 251 471.6 250.8 473.1 251.6 474.6 252.8 476.1 254.4 477.6 255.7 479.1 255.4 480.6 256.1 482 256.3 483.5 256.7 485 256.8 486.5 257.9 488 258.7 489.5 258.8 491 259 492.5 261.1 493.9 261.5 495.4 262 496.9 262.9 498.4 263.5 499.9 264.3 501.4 264.5 502.9 265.5 504.3 266.1 505.8 267.3 507.3 267.4 508.8 267.7 510.3 268.7 511.8 269.7 513.3 270.7 514.8 270.9 516.2 271.5 517.7 272.4 519.2 273.5 520.7 273.5 522.2 274 523.7 274.4 525.2 274.5 526.6 275.3 528.1 275.5 529.6 275.5 531.1 276.6 532.6 276.8 534.1 277 535.6 277.8 537.1 278.5 538.5 278.4 540 278.7 541.5 279.8 543 279.7 544.5 280 546 279.8 547.5 281 548.9 280.9 550.4 281.6 551.9 281.7 553.4 281.7 554.9 282.2 556.4 282.4 557.9 282.9 559.4 283.5 560.8 283 562.3 283.1 562.3 295.5 560.8 295.3 559.4 295.8 557.9 295.2 556.4 294.8 554.9 294.5 553.4 294.1 551.9 294.1 550.4 293.9 548.9 293.2 547.5 293.3 546 292.1 544.5 292.4 543 292 541.5 292.1 540 291 538.5 290.8 537.1 290.9 535.6 290.2 534.1 289.3 532.6 289.1 531.1 288.9 529.6 287.8 528.1 287.9 526.6 287.7 525.2 286.8 523.7 286.7 522.2 286.4 520.7 285.8 519.2 285.9 517.7 284.8 516.2 283.9 514.8 283.2 513.3 283.1 511.8 282.1 510.3 281.1 508.8 280.1 507.3 279.7 505.8 279.6 504.3 278.5 502.9 277.8 501.4 276.9 499.9 276.6 498.4 275.9 496.9 275.3 495.4 274.3 493.9 273.9 492.5 273.5 491 271.4 489.5 271.1 488 271.1 486.5 270.3 485 269.2 483.5 269 482 268.6 480.6 268.4 479.1 267.7 477.6 268.1 476.1 266.7 474.6 265.1 473.1 263.9 471.6 263.2 470.2 263.3 468.7 262.9 467.2 262 465.7 260 464.2 258.9 462.7 255.2 461.2 252.2 459.7 248.2 458.3 240.6 456.8 233.1 455.3 222.3 453.8 203.3 452.3 175.7Z" fill="#a8a8a8" fill-opacity="0.55"/>
<path d="M452.3 173.8 453.8 199.1 455.3 214 456.8 225.2 458.3 233.6 459.7 241.2 461.2 243.9 462.7 246.1 464.2 247.4 465.7 248.4 467.2 249.2 468.7 250.4 470.2 250.6 471.6 251.7 473.1 251.9 474.6 253.2 476.1 254.1 477.6 254.5 479.1 255.2 480.6 256.1 482 256.1 483.5 257 485 256.9 486.5 257.9 488 258.1 489.5 258.9 491 259.1 492.5 259.2 493.9 259.8 495.4 260.8 496.9 261.6 498.4 261.6 499.9 262.7 501.4 263.3 502.9 263.5 504.3 264.7 505.8 264.7 507.3 265.2 508.8 266.2 510.3 267.1 511.8 267.5 513.3 267.6 514.8 268.6 516.2 268.9 517.7 269.9 519.2 270.4 520.7 271 522.2 271.6 523.7 272.1 525.2 272.5 526.6 272.9 528.1 273.9 529.6 274.7 531.1 275.2 532.6 275.8 534.1 276.7 535.6 276.7 537.1 277.4 538.5 277.2 540 278.5 541.5 279.3 543 279.2 544.5 279.8 546 280.1 547.5 280.8 548.9 280.8 550.4 282 551.9 282.3 553.4 283 554.9 283.5 556.4 284.3 557.9 284.1 559.4 285.3 560.8 285.2 562.3 285.7 562.3 291.7 560.8 291.2 559.4 291.3 557.9 290.1 556.4 290.3 554.9 289.5 553.4 288.9 551.9 288.2 550.4 288 548.9 286.7 547.5 286.8 546 286.1 544.5 285.8 543 285.2 541.5 285.2 540 284.5 538.5 283.2 537.1 283.4 535.6 282.6 534.1 282.7 532.6 281.8 531.1 281.2 529.6 280.7 528.1 279.9 526.6 278.9 525.2 278.5 523.7 278.1 522.2 277.5 520.7 277 519.2 276.4 517.7 275.9 516.2 274.9 514.8 274.6 513.3 273.6 511.8 273.5 510.3 273.1 508.8 272.2 507.3 271.2 505.8 270.7 504.3 270.7 502.9 269.5 501.4 269.3 499.9 268.6 498.4 267.6 496.9 267.6 495.4 266.8 493.9 265.7 492.5 265.2 491 265.1 489.5 264.9 488 264.1 486.5 263.9 485 262.9 483.5 263 482 262.1 480.6 262.1 479.1 261.1 477.6 260.5 476.1 260.1 474.6 259.2 473.1 257.8 471.6 257.7 470.2 256.6 468.7 256.4 467.2 255.1 465.7 254.4 464.2 253.4 462.7 252.1 461.2 249.9 459.7 247.2 458.3 239.6 456.8 231.2 455.3 220 453.8 202.1 452.3 173.8Z" fill="#f7b32a" fill-opacity="0.6"/>
<path d="M452.3 173.8 453.8 195 455.3 209.6 456.8 220.3 458.3 224 459.7 225 461.2 224.8 462.7 225.5 464.2 225.4 465.7 227.1 467.2 228.6 468.7 229.6 470.2 231.1 471.6 232.7 473.1 233.9 474.6 234.9 476.1 237.1 477.6 238.5 479.1 239.4 480.6 240.5 482 244.5 483.5 246.6 485 248.4 486.5 249.9 488 250 489.5 250.7 491 251.1 492.5 251.8 493.9 252.3 495.4 253.6 496.9 254.6 498.4 255.2 499.9 256 501.4 257.3 502.9 257.6 504.3 259.4 505.8 259.9 507.3 261 508.8 261.6 510.3 262.5 511.8 263.7 513.3 264.4 514.8 265.1 516.2 266.6 517.7 267.5 519.2 268.1 520.7 268.4 522.2 269.1 523.7 269.9 525.2 269.6 526.6 270.7 528.1 271.5 529.6 271.2 531.1 272.2 532.6 272.2 534.1 272.5 535.6 273.6 537.1 274.2 538.5 274 540 275.3 541.5 276.1 543 276.9 544.5 277.9 546 278.2 547.5 279.5 548.9 281 550.4 280.9 551.9 282.1 553.4 283.3 554.9 283.6 556.4 284.8 557.9 285.8 559.4 287.2 560.8 287.9 562.3 288.4 562.3 295.8 560.8 295.4 559.4 294.6 557.9 293.3 556.4 292.3 554.9 291.1 553.4 290.8 551.9 289.6 550.4 288.4 548.9 288.5 547.5 287 546 285.7 544.5 285.3 543 284.4 541.5 283.6 540 282.8 538.5 281.5 537.1 281.7 535.6 281.1 534.1 280 532.6 279.6 531.1 279.7 529.6 278.6 528.1 279 526.6 278.2 525.2 277.1 523.7 277.3 522.2 276.6 520.7 275.9 519.2 275.6 517.7 275 516.2 274.1 514.8 272.5 513.3 271.9 511.8 271.2 510.3 270 508.8 269.1 507.3 268.5 505.8 267.3 504.3 266.9 502.9 265.1 501.4 264.7 499.9 263.4 498.4 262.6 496.9 262 495.4 261.1 493.9 259.8 492.5 259.3 491 258.5 489.5 258.2 488 257.5 486.5 257.4 485 255.9 483.5 254.1 482 252 480.6 253.5 479.1 252.5 477.6 251.6 476.1 250.2 474.6 248 473.1 247 471.6 245.8 470.2 244.2 468.7 242.7 467.2 241.7 465.7 240.2 464.2 238.5 462.7 238.5 461.2 237.9 459.7 238.1 458.3 231.5 456.8 227.8 455.3 217 453.8 198.8 452.3 173.8Z" fill="#5577cc" fill-opacity="0.55"/>
<path d="M452.3 173.8 453.8 191.3 455.3 202.4 456.8 213.1 458.3 217.3 459.7 221.1 461.2 223.3 462.7 224.7 464.2 226.4 465.7 227.6 467.2 228.5 468.7 229.8 470.2 230.2 471.6 231.8 473.1 233.2 474.6 234.2 476.1 235.5 477.6 236.8 479.1 237.8 480.6 238.7 482 239.5 483.5 240.3 485 241.3 486.5 242.3 488 242.9 489.5 244.1 491 245.3 492.5 246 493.9 246.1 495.4 247.6 496.9 248.2 498.4 248.9 499.9 249.5 501.4 251.2 502.9 251.8 504.3 252.6 505.8 253.5 507.3 254.1 508.8 254.7 510.3 255.7 511.8 255.9 513.3 257.1 514.8 258.9 516.2 259.8 517.7 260.3 519.2 260.9 520.7 261.1 522.2 261.9 523.7 262.5 525.2 263.3 526.6 263.8 528.1 264.5 529.6 265.3 531.1 265.6 532.6 266.9 534.1 266.8 535.6 267.5 537.1 267.4 538.5 269 540 270 541.5 270.4 543 271 544.5 271.9 546 272.7 547.5 273.1 548.9 274.1 550.4 274 551.9 275.5 553.4 275.6 554.9 276.1 556.4 277 557.9 277.4 559.4 278.4 560.8 278.9 562.3 280.1 562.3 286.8 560.8 285.6 559.4 285.1 557.9 284.1 556.4 283.7 554.9 282.8 553.4 282.3 551.9 282.2 550.4 280.7 548.9 280.8 547.5 279.8 546 279.4 544.5 278.6 543 277.7 541.5 277.2 540 276.8 538.5 275.7 537.1 274.2 535.6 274.2 534.1 273.5 532.6 273.6 531.1 272.4 529.6 272 528.1 271.2 526.6 270.5 525.2 270.1 523.7 269.2 522.2 268.6 520.7 267.9 519.2 267.7 517.7 267 516.2 266.5 514.8 265.6 513.3 263.8 511.8 262.6 510.3 262.4 508.8 261.5 507.3 260.8 505.8 260.2 504.3 259.3 502.9 258.6 501.4 258 499.9 256.2 498.4 255.6 496.9 255 495.4 254.4 493.9 252.8 492.5 252.7 491 252 489.5 250.8 488 249.7 486.5 249.1 485 248 483.5 247.1 482 246.2 480.6 245.4 479.1 244.6 477.6 243.5 476.1 242.2 474.6 240.9 473.1 239.9 471.6 238.5 470.2 236.9 468.7 236.6 467.2 235.2 465.7 234.3 464.2 233.2 462.7 231.4 461.2 230 459.7 227.8 458.3 224 456.8 219.8 455.3 209.2 453.8 194.7 452.3 173.8Z" fill="#f0188c" fill-opacity="0.6"/>
<path d="M452.3 173.8 453.8 198.8 455.3 215.2 456.8 226 458.3 233.5 459.7 241.1 461.2 245.1 462.7 248.1 464.2 251.8 465.7 252.9 467.2 254.9 468.7 255.8 470.2 256.2 471.6 256 473.1 256.8 474.6 258 476.1 259.6 477.6 260.9 479.1 260.6 480.6 261.3 482 261.5 483.5 261.9 485 262.1 486.5 263.2 488 264 489.5 264 491 264.3 492.5 266.4 493.9 266.8 495.4 267.2 496.9 268.2 498.4 268.8 499.9 269.5 501.4 269.8 502.9 270.7 504.3 271.4 505.8 272.5 507.3 272.6 508.8 272.9 510.3 274 511.8 275 513.3 275.9 514.8 276.1 516.2 276.8 517.7 277.7 519.2 278.8 520.7 278.7 522.2 279.3 523.7 279.6 525.2 279.7 526.6 280.6 528.1 280.7 529.6 280.7 531.1 281.8 532.6 282 534.1 282.2 535.6 283.1 537.1 283.8 538.5 283.7 540 283.9 541.5 285 543 284.9 544.5 285.3 546 285 547.5 286.2 548.9 286.1 550.4 286.8 551.9 287 553.4 287 554.9 287.4 556.4 287.6 557.9 288.1 559.4 288.7 560.8 288.2 562.3 288.4" fill="none" stroke="#8c8c8c" stroke-width="1.1" stroke-linejoin="round"/>
<path d="M452.3 173.8 453.8 200.6 455.3 217 456.8 228.2 458.3 236.6 459.7 244.2 461.2 246.9 462.7 249.1 464.2 250.4 465.7 251.4 467.2 252.2 468.7 253.4 470.2 253.6 471.6 254.7 473.1 254.9 474.6 256.2 476.1 257.1 477.6 257.5 479.1 258.2 480.6 259.1 482 259.1 483.5 260 485 259.9 486.5 260.9 488 261.1 489.5 261.9 491 262.1 492.5 262.2 493.9 262.7 495.4 263.8 496.9 264.6 498.4 264.6 499.9 265.6 501.4 266.3 502.9 266.5 504.3 267.7 505.8 267.7 507.3 268.2 508.8 269.2 510.3 270.1 511.8 270.5 513.3 270.6 514.8 271.6 516.2 271.9 517.7 272.9 519.2 273.4 520.7 274 522.2 274.6 523.7 275.1 525.2 275.5 526.6 275.9 528.1 276.9 529.6 277.7 531.1 278.2 532.6 278.8 534.1 279.7 535.6 279.6 537.1 280.4 538.5 280.2 540 281.5 541.5 282.3 543 282.2 544.5 282.8 546 283.1 547.5 283.8 548.9 283.8 550.4 285 551.9 285.2 553.4 286 554.9 286.5 556.4 287.3 557.9 287.1 559.4 288.3 560.8 288.2 562.3 288.7" fill="none" stroke="#fbb10a" stroke-width="1.1" stroke-linejoin="round"/>
<path d="M452.3 173.8 453.8 196.9 455.3 213.3 456.8 224 458.3 227.7 459.7 231.5 461.2 231.4 462.7 232 464.2 232 465.7 233.6 467.2 235.2 468.7 236.1 470.2 237.6 471.6 239.2 473.1 240.5 474.6 241.4 476.1 243.7 477.6 245 479.1 246 480.6 247 482 248.2 483.5 250.3 485 252.1 486.5 253.6 488 253.8 489.5 254.5 491 254.8 492.5 255.5 493.9 256.1 495.4 257.3 496.9 258.3 498.4 258.9 499.9 259.7 501.4 261 502.9 261.3 504.3 263.1 505.8 263.6 507.3 264.8 508.8 265.3 510.3 266.2 511.8 267.4 513.3 268.1 514.8 268.8 516.2 270.3 517.7 271.3 519.2 271.8 520.7 272.2 522.2 272.9 523.7 273.6 525.2 273.3 526.6 274.4 528.1 275.3 529.6 274.9 531.1 275.9 532.6 275.9 534.1 276.2 535.6 277.4 537.1 277.9 538.5 277.7 540 279.1 541.5 279.9 543 280.7 544.5 281.6 546 281.9 547.5 283.3 548.9 284.7 550.4 284.7 551.9 285.8 553.4 287 554.9 287.4 556.4 288.6 557.9 289.5 559.4 290.9 560.8 291.6 562.3 292.1" fill="none" stroke="#3152b2" stroke-width="1.1" stroke-linejoin="round"/>
<path d="M452.3 173.8 453.8 193 455.3 205.8 456.8 216.5 458.3 220.6 459.7 224.4 461.2 226.7 462.7 228 464.2 229.8 465.7 231 467.2 231.9 468.7 233.2 470.2 233.6 471.6 235.1 473.1 236.6 474.6 237.5 476.1 238.9 477.6 240.2 479.1 241.2 480.6 242.1 482 242.9 483.5 243.7 485 244.6 486.5 245.7 488 246.3 489.5 247.4 491 248.6 492.5 249.4 493.9 249.4 495.4 251 496.9 251.6 498.4 252.2 499.9 252.8 501.4 254.6 502.9 255.2 504.3 256 505.8 256.8 507.3 257.5 508.8 258.1 510.3 259 511.8 259.2 513.3 260.5 514.8 262.2 516.2 263.2 517.7 263.7 519.2 264.3 520.7 264.5 522.2 265.3 523.7 265.8 525.2 266.7 526.6 267.2 528.1 267.8 529.6 268.6 531.1 269 532.6 270.2 534.1 270.1 535.6 270.9 537.1 270.8 538.5 272.3 540 273.4 541.5 273.8 543 274.4 544.5 275.2 546 276.1 547.5 276.5 548.9 277.5 550.4 277.4 551.9 278.9 553.4 278.9 554.9 279.5 556.4 280.3 557.9 280.7 559.4 281.7 560.8 282.3 562.3 283.5" fill="none" stroke="#f5007f" stroke-width="1.1" stroke-linejoin="round"/>
<rect x="447.5" y="167.6" width="119.9" height="135.2" fill="none" stroke="#9a9a9a" stroke-width="0.8"/>
<path d="M444.5 286H447.5M444.5 248.6H447.5M444.5 211.2H447.5M444.5 173.8H447.5" stroke="#333" stroke-width="0.6"/>
<text x="442" y="289.8" font-size="10.6" text-anchor="end" fill="#222" font-family='"Liberation Sans", sans-serif' >0.4</text>
<text x="442" y="252.4" font-size="10.6" text-anchor="end" fill="#222" font-family='"Liberation Sans", sans-serif' >0.6</text>
<text x="442" y="215" font-size="10.6" text-anchor="end" fill="#222" font-family='"Liberation Sans", sans-serif' >0.8</text>
<text x="442" y="177.6" font-size="10.6" text-anchor="end" fill="#222" font-family='"Liberation Sans", sans-serif' >1.0</text>
<path d="M450.8 302.8V305.8M473.1 302.8V305.8M495.4 302.8V305.8M517.7 302.8V305.8M540 302.8V305.8M562.3 302.8V305.8" stroke="#333" stroke-width="0.6"/>
<text x="450.8" y="316" font-size="10.6" text-anchor="middle" fill="#222" font-family='"Liberation Sans", sans-serif' >0.0</text>
<text x="473.1" y="316" font-size="10.6" text-anchor="middle" fill="#222" font-family='"Liberation Sans", sans-serif' >2.5</text>
<text x="495.4" y="316" font-size="10.6" text-anchor="middle" fill="#222" font-family='"Liberation Sans", sans-serif' >5.0</text>
<text x="517.7" y="316" font-size="10.6" text-anchor="middle" fill="#222" font-family='"Liberation Sans", sans-serif' >7.5</text>
<text x="540" y="316" font-size="10.6" text-anchor="middle" fill="#222" font-family='"Liberation Sans", sans-serif' >10.0</text>
<text x="562.3" y="316" font-size="10.6" text-anchor="middle" fill="#222" font-family='"Liberation Sans", sans-serif' >12.5</text>
<text x="507.3" y="330.3" font-size="10.5" text-anchor="middle" fill="#1a1a1a" font-family='"Liberation Sans", sans-serif' >time (h)</text>
<text transform="translate(420.5 235.8) rotate(-90)" font-size="10.5" text-anchor="middle" fill="#1a1a1a" font-family='"Liberation Sans", sans-serif'>persistence ratio (d/D)</text>
<rect x="532" y="160" width="128" height="102.5" fill="#fff"/>
<clipPath id="inclip"><rect x="552.3" y="165" width="103.1" height="77.8"/></clipPath>
<g clip-path="url(#inclip)">
<path d="M556.7 180.2 561.4 189.2 566.1 198.4 570.8 203.2 575.5 206.8 580.2 211.2 584.9 212.5 589.6 214.9 594.3 216 599 216.5 603.7 216.3 608.4 217.3 613.1 218.7 617.8 220.6 622.5 222.2 627.2 221.8 631.9 222.6 636.6 222.9 641.3 223.3 646 223.5 650.7 224.9 650.7 239.7 646 238.3 641.3 238.1 636.6 237.7 631.9 237.5 627.2 236.6 622.5 237 617.8 235.4 613.1 233.5 608.4 232.1 603.7 231.1 599 231.3 594.3 230.8 589.6 229.7 584.9 227.3 580.2 226 575.5 221.6 570.8 218 566.1 213.2 561.4 204 556.7 195Z" fill="#a8a8a8" fill-opacity="0.55"/>
<path d="M556.7 185.6 561.4 195.7 566.1 204.8 570.8 208 575.5 210.6 580.2 212.2 584.9 213.4 589.6 214.3 594.3 215.8 599 216.1 603.7 217.3 608.4 217.6 613.1 219.2 617.8 220.3 622.5 220.8 627.2 221.5 631.9 222.7 636.6 222.7 641.3 223.8 646 223.6 650.7 224.9 650.7 232 646 230.8 641.3 231 636.6 229.9 631.9 229.9 627.2 228.7 622.5 228 617.8 227.4 613.1 226.4 608.4 224.7 603.7 224.5 599 223.3 594.3 223 589.6 221.5 584.9 220.6 580.2 219.4 575.5 217.8 570.8 215.2 566.1 212 561.4 202.9 556.7 192.8Z" fill="#f7b32a" fill-opacity="0.6"/>
<path d="M556.7 179.7 561.4 184.1 566.1 185.3 570.8 185.1 575.5 185.9 580.2 185.9 584.9 187.9 589.6 189.7 594.3 190.8 599 192.6 603.7 194.6 608.4 196.1 613.1 197.2 617.8 199.9 622.5 201.5 627.2 202.7 631.9 203.9 636.6 208.7 641.3 211.3 646 213.4 650.7 215.2 650.7 224.2 646 222.4 641.3 220.2 636.6 217.7 631.9 219.6 627.2 218.4 622.5 217.2 617.8 215.6 613.1 212.9 608.4 211.8 603.7 210.3 599 208.3 594.3 206.5 589.6 205.4 584.9 203.6 580.2 201.6 575.5 201.6 570.8 200.8 566.1 201 561.4 193.1 556.7 188.7Z" fill="#5577cc" fill-opacity="0.55"/>
<path d="M556.7 171.1 561.4 176.1 566.1 180.6 570.8 183.3 575.5 185 580.2 187.1 584.9 188.5 589.6 189.6 594.3 191.1 599 191.6 603.7 193.5 608.4 195.2 613.1 196.3 617.8 197.9 622.5 199.5 627.2 200.7 631.9 201.8 636.6 202.7 641.3 203.7 646 204.8 650.7 206.1 650.7 214.2 646 212.9 641.3 211.8 636.6 210.8 631.9 209.8 627.2 208.8 622.5 207.6 617.8 206 613.1 204.4 608.4 203.3 603.7 201.5 599 199.6 594.3 199.2 589.6 197.6 584.9 196.6 580.2 195.1 575.5 193 570.8 191.4 566.1 188.7 561.4 184.1 556.7 179.2Z" fill="#f0188c" fill-opacity="0.6"/>
<path d="M556.7 186.5 561.4 195.5 566.1 204.7 570.8 209.4 575.5 213 580.2 217.4 584.9 218.8 589.6 221.2 594.3 222.3 599 222.8 603.7 222.6 608.4 223.5 613.1 225 617.8 226.9 622.5 228.5 627.2 228 631.9 228.9 636.6 229.2 641.3 229.6 646 229.8 650.7 231.1" fill="none" stroke="#8c8c8c" stroke-width="1.1" stroke-linejoin="round"/>
<path d="M556.7 189.2 561.4 199.3 566.1 208.4 570.8 211.6 575.5 214.2 580.2 215.8 584.9 217 589.6 217.9 594.3 219.4 599 219.7 603.7 220.9 608.4 221.2 613.1 222.8 617.8 223.9 622.5 224.4 627.2 225.1 631.9 226.3 636.6 226.3 641.3 227.4 646 227.2 650.7 228.5" fill="none" stroke="#fbb10a" stroke-width="1.1" stroke-linejoin="round"/>
<path d="M556.7 184.2 561.4 188.6 566.1 193.2 570.8 193 575.5 193.7 580.2 193.7 584.9 195.7 589.6 197.6 594.3 198.7 599 200.5 603.7 202.4 608.4 203.9 613.1 205 617.8 207.7 622.5 209.4 627.2 210.5 631.9 211.7 636.6 213.2 641.3 215.7 646 217.9 650.7 219.7" fill="none" stroke="#3152b2" stroke-width="1.1" stroke-linejoin="round"/>
<path d="M556.7 175.1 561.4 180.1 566.1 184.7 570.8 187.4 575.5 189 580.2 191.1 584.9 192.5 589.6 193.6 594.3 195.2 599 195.6 603.7 197.5 608.4 199.2 613.1 200.4 617.8 202 622.5 203.6 627.2 204.8 631.9 205.8 636.6 206.8 641.3 207.8 646 208.9 650.7 210.2" fill="none" stroke="#f5007f" stroke-width="1.1" stroke-linejoin="round"/>
</g>
<rect x="552.3" y="165" width="103.1" height="77.8" fill="none" stroke="#9a9a9a" stroke-width="0.8"/>
<path d="M549.3 236.1H552.3M549.3 213.7H552.3M549.3 191.2H552.3M549.3 168.8H552.3" stroke="#333" stroke-width="0.6"/>
<text x="547.5" y="239.7" font-size="10" text-anchor="end" fill="#222" font-family='"Liberation Sans", sans-serif' >0.5</text>
<text x="547.5" y="217.3" font-size="10" text-anchor="end" fill="#222" font-family='"Liberation Sans", sans-serif' >0.6</text>
<text x="547.5" y="194.8" font-size="10" text-anchor="end" fill="#222" font-family='"Liberation Sans", sans-serif' >0.7</text>
<text x="547.5" y="172.4" font-size="10" text-anchor="end" fill="#222" font-family='"Liberation Sans", sans-serif' >0.8</text>
<path d="M566 242.8V245.8M594.2 242.8V245.8M622.4 242.8V245.8M650.6 242.8V245.8" stroke="#333" stroke-width="0.6"/>
<text x="566" y="256.4" font-size="10" text-anchor="middle" fill="#222" font-family='"Liberation Sans", sans-serif' >1</text>
<text x="594.2" y="256.4" font-size="10" text-anchor="middle" fill="#222" font-family='"Liberation Sans", sans-serif' >2</text>
<text x="622.4" y="256.4" font-size="10" text-anchor="middle" fill="#222" font-family='"Liberation Sans", sans-serif' >3</text>
<text x="650.6" y="256.4" font-size="10" text-anchor="middle" fill="#222" font-family='"Liberation Sans", sans-serif' >4</text>
<rect x="586.8" y="276" width="9.2" height="9.2" fill="#8c8c8c"/>
<text x="601.9" y="283.9" font-size="9.2" text-anchor="start" fill="#1a1a1a" font-family='"Liberation Sans", sans-serif' >DKO</text>
<rect x="586.8" y="286.7" width="9.2" height="9.2" fill="#fbb10a"/>
<text x="601.9" y="294.6" font-size="9.2" text-anchor="start" fill="#1a1a1a" font-family='"Liberation Sans", sans-serif' >DKO/p85β-wt</text>
<rect x="586.8" y="297.4" width="9.2" height="9.2" fill="#f5007f"/>
<text x="601.9" y="305.3" font-size="9.2" text-anchor="start" fill="#1a1a1a" font-family='"Liberation Sans", sans-serif' >DKO/p85β-motifGS</text>
<rect x="586.8" y="308.1" width="9.2" height="9.2" fill="#3152b2"/>
<text x="601.9" y="316" font-size="9.2" text-anchor="start" fill="#1a1a1a" font-family='"Liberation Sans", sans-serif' >DKO/p85β-Δmotif</text>
<text x="-0.5" y="413.3" font-size="21" text-anchor="start" fill="#000" font-weight="bold" font-family='"Liberation Sans", sans-serif' >e</text>
<g>
<path d="M80 423.7V520.3M64.5 504.9H162M102.2 423.7V520.3M64.5 483H162M124.3 423.7V520.3M64.5 461H162M146.5 423.7V520.3M64.5 439.1H162" stroke="#e4e4e4" stroke-width="0.6" fill="none"/>
<path d="M68.9 423.7V520.3M64.5 515.9H162M91.1 423.7V520.3M64.5 494H162M113.2 423.7V520.3M64.5 472H162M135.4 423.7V520.3M64.5 450H162M157.6 423.7V520.3M64.5 428.1H162" stroke="#c8c8c8" stroke-width="0.75" fill="none"/>
<clipPath id="cl64_423"><rect x="64.5" y="423.7" width="97.5" height="96.6"/></clipPath>
<g clip-path="url(#cl64_423)"><g transform="scale(0.25)" fill="none" stroke-linejoin="round" stroke-linecap="round" stroke-width="3.4">
<path d="M453 1879l1-10 5 4 6-10M460 1892l-4-4-10 2 1 2M453 1878l-2-4-5 0M450 1882l6-1-1 1M457 1886l-5-13 5 4 0-11M474 1886l2 4-10-1M466 1889l6-8-1-1M452 1887l-13 9 10-1M453 1892l0 7-4 5-13-3M451 1886l-1 2 1-4 1 3M453 1898l-1 1 2-6-3-1M446 1878l11 1 1-4 2 4M466 1890l-2 0 3-4 0 1M447 1892l0 2-3-2M454 1876l4 0 2-6 4-2M450 1883l2-2 12 1 3 5M454 1891l-1 1-9-1M452 1880l-8-3-4 4M446 1888l0-3 1 1 4 2" stroke="#fcf52f"/>
<path d="M465 1863l6 8-1-4 0-7M447 1892l3-2-7 3M446 1874l2-6 4 0M452 1868l7-2-1-3M455 1882l0-3 2-3 2 2M459 1878l1-3-3 3M457 1866l-2 5-2-7-8-3M471 1880l-2 10 10-4M449 1895l-24 4 6 8M431 1907l-23-13-5 21M436 1901l-4-4-13-2-3 1M452 1887l-1 6-2-6 2 2M451 1892l4-4-1-1 4 0M460 1879l2-1-2-6 4 4M467 1887l3 0 1 3 4-1M444 1892l2 2-2-1 0 6M464 1868l3-4 8 3-4-2M467 1887l3 3 4-7 0-1M444 1891l5 2-4 10M445 1903l-2-1 8 3M440 1881l6-6 6-8-7 5M451 1888l1-2 4 3" stroke="#f5e153"/>
<path d="M470 1860l7 2-11-7M443 1893l5-1-2 1-2 1M458 1863l0-2 2-3 0-1M457 1878l-2-3 10 5M445 1861l-8 4-7-3M479 1886l-6 6M473 1892l2-2 2 6M403 1915l-9-2 6-4M416 1896l-8-1-6 3 6-9M451 1889l0 4-3 4M458 1887l0-10 2 1M464 1876l4 0-1-3M475 1889l-2-2 2 0M444 1899l-2-3 3-2M445 1894l-6 2 0 2 0-1M471 1865l10 0 0 1M474 1882l7-2 1 6-7 1M451 1905l-9 2 4-6M445 1872l1 3-3-25-5 8M438 1858l1-6 2 2M456 1889l1-3 1 1-1 4" stroke="#eece6c"/>
<path d="M466 1855l6-7-4 6 0-14M444 1894l-4-1-2 4M438 1897l-2 3 2 1-10 2M460 1857l-1-4-5 2M454 1855l1-4-4 1M465 1880l3-5 1 5 5 3M430 1862l-5-2-3 16-3-8M477 1896l-3 3 7-3M481 1896l-9-6-3 9M400 1909l-11-12 9 7M398 1904l-13 1-8-4M408 1889l-11 0 1-4-4-5M448 1897l0-1 0 6 6 5M460 1878l-2-5 1 1-1-5M467 1873l-3-8 15-3 0-3M475 1887l4 2 2 0 1 1M439 1897l0-2 0 0M481 1866l2-1 2 0 3-1M475 1887l6 2 8 4 6-2M446 1901l10 8 10 1M466 1910l5 6-2-4M441 1854l-1-5 3-12M457 1891l1-4 0 5M458 1892l3-1-3 0 0 0" stroke="#e5bb80"/>
<path d="M468 1840l-5 3-5 0-6-16M428 1903l-2-3-3 3 1-8M451 1852l3 2-7-9M474 1883l-2 0 4-1M419 1868l-4-3 11 3-11 9M469 1899l1 3 9 10M377 1901l4 3-2-4-6-6M394 1880l-6-4-8 10-3 0M454 1907l-5 3 4 1 0 6M458 1869l-5-2-3 5 0-1M479 1859l1-8-3-6 3 2M482 1890l1 4 2-5 6 4M439 1895l-1-2 0-1M488 1864l-1 4-1-17 9-1M495 1891l-8 1 2 4 1 9M469 1912l2-3 3-3M443 1837l8 2-5-3-1-2M458 1891l2 0 1-2 1 3" stroke="#dba792"/>
<path d="M452 1827l-2 1-3-5-1 3M424 1895l-10 1 6-3M447 1845l-2 5 0 1M476 1882l-3 9-1-5M472 1886l2 4-1-3 6 1M415 1877l3-7 2-4M420 1866l-14-5-3-11-4 1M479 1912l6 10M485 1922l1-4 3 3M373 1894l3 8-10-20M366 1882l4-1 0-12M377 1886l0-7 0 3-1-9M453 1917l1 0 0 0-1 3M450 1871l-2 0 2 2M450 1873l-2 0 4 5-1-4M480 1847l3-2-2-9 4-3M491 1893l3 1 0 0 5 4M438 1892l0 1 1-2-3-1M495 1850l-3 3 4-3M496 1850l-6-3 4 8 1-2M490 1905l-4-4-2 14 3-6M474 1906l1 0-2 0M473 1906l7-9 4-3M445 1834l6-10-4 8 4-6M462 1892l3-3-3 1" stroke="#d094a2"/>
<path d="M446 1826l1-2 2-2 2-5M420 1893l0 1-4-4 1-1M445 1851l-3-7-1 2-7-7M434 1839l-2 1-7-1M479 1888l0 5 2-1M399 1851l-16 4 1 7-12 12M489 1921l1 1-1-3M370 1869l10-6 5-1M376 1873l5 0 1-4 2 2M453 1920l2-2 3 0-1 1M451 1874l2 8 3 3 0 3M485 1833l-3 5 8-3-2 5M499 1898l4 1-3 4 2 4M436 1890l-1 0 1 0M436 1890l1-2 1 1-3 1M495 1853l2 0 4 1 1 11M487 1909l-8 19 5-4-1 2M484 1894l5-9-2 8M487 1893l3-7 2-2M451 1826l6-7-2 1M462 1890l3 0 2-1-2 0" stroke="#c381b1"/>
<path d="M451 1817l4-4 5 0-2-2M417 1889l-5 0-2-8M425 1839l8 1-17 3M481 1892l4-5 0 4M372 1874l5-6-1 2-4 22M489 1919l4 13-9 4M385 1862l9 8 2-2M396 1868l11-3-2 9M384 1871l-12-6 14 0-6-4M457 1919l2 2 2 2 4 3M456 1888l-3-5 6 9 2-1M488 1840l-1 1 7 10 1-4M502 1907l-2 1-1-1 2 2M435 1890l-1-3-2-1M502 1865l4-3 0 3 3 1M483 1926l10 7 0-2 9-14M492 1884l3 3 2-2M455 1820l5-5-5 0M455 1815l0-7 14 6-6-7M465 1889l-2 1 3 5" stroke="#b46dc0"/>
<path d="M458 1811l0 1 12-10-1 0M469 1802l6 11 2-6M410 1881l-11 8-3-5 0 3M416 1843l-5-9 2 3M485 1891l1-2-1 0 0 4M485 1893l5 0 2-6M372 1892l2-8-10 2-1 14M380 1861l20-6-1 5 4-3M465 1926l-6-2-2 1-4-1M453 1924l0 0 1-2M461 1891l1 2-2-6 7 1M495 1847l-7 2 4 0-9 1M483 1850l-1 9-13-4M501 1909l0 2-1 0-1 1M499 1912l-3 2 2 2M432 1886l0-1-1-2-2-2M509 1866l-6 3 4 2 2-6M502 1917l2 3-6-4-4-10M463 1807l5 3 8-5 1 2M466 1895l-1-5 6 6 0-3" stroke="#a25ace"/>
<path d="M477 1807l3 0 5-2 5-5M396 1887l-2-2 0 3M394 1888l-4-1-11-3-9 1M363 1900l-8 7-4 6M403 1857l10-5 3 2 0 13M454 1922l-2 0 0-4-1 0M467 1888l-5 1 5 2M469 1855l0 3-11-6-3 8M498 1916l0 1-1-1 3 0M429 1881l-1-2 1 2M509 1865l-5-1 8 8M494 1906l5 3-6-5 7-4M477 1807l-1-9 4-1M471 1893l0-2-1 6M470 1897l-2 5-2-4 0 3" stroke="#8c46dc"/>
<path d="M490 1800l-1 3-3-6 10 1M351 1913l-5-6 6-3-14 7M416 1867l3-8 21-2 5-1M451 1918l0-4-3-3-5-6M467 1891l0 2-2-1 1-1M455 1860l-3 0-3-7-9 11M500 1916l-8 3 2 0-1 1M512 1872l-2 1-8 0-2 3M500 1900l0-1 4-9 0 0" stroke="#7030ea"/>
<path d="M445 1856l14-2 0-1 7 5M504 1890l7 6-2-2 11-3" stroke="#4216f8"/>
<path d="M489 1803h0M486 1797h0M496 1798h0M390 1887h0M379 1884h0M370 1885h0M485 1893h0M490 1893h0M492 1887h0M346 1907h0M352 1904h0M338 1911h0M459 1854h0M459 1853h0M466 1858h0M451 1914h0M448 1911h0M443 1905h0M467 1893h0M465 1892h0M466 1891h0M452 1860h0M449 1853h0M440 1864h0M492 1919h0M494 1919h0M493 1920h0M429 1881h0M428 1879h0M429 1881h0M510 1873h0M502 1873h0M500 1876h0M511 1896h0M509 1894h0M520 1891h0M477 1807h0M476 1798h0M480 1797h0M468 1902h0M466 1898h0M466 1901h0" stroke="#1f00ff" stroke-width="5.2"/>
<path d="M457 1902l7-5-4-3 3 2M460 1886l0-1-2-4M450 1891l-5 3 10 7M455 1880l1 3 7 3 10 8M461 1886l1-9 2-3M456 1877l-1 1 1 0M451 1885l-2 1 5 1 6-3M458 1889l-6-6-3-4M455 1899l0 4 4-2-2-2M460 1885l1 1 1 4M455 1880l-5-8-7 6-3-4M453 1884l-1 9-4 5M443 1889l-7-4-3-4M433 1881l-7-1 6 0M451 1876l7-3-3 3 11 3M458 1892l-11-11-5 1 4-3M459 1881l1 3 7-6-5 9M439 1879l3-1 0 2 0-5M468 1889l-1 3 1 5-4 3" stroke="#fcf52f"/>
<path d="M463 1896l1-1 7-2-2-2M458 1881l1 1-5-2 0 6M455 1901l-8 10 0-4M447 1907l-3-1 6-4-8 5M473 1894l-2 1 1 0 5 4M464 1874l0 2-6-6M458 1870l1 2 4 0-7-1M456 1878l1-3 1 0-3 1M455 1876l-1-5 3-2M460 1884l4 3-4 0M449 1879l2-9 5 0M456 1870l-8-4-2-7 1 0M457 1899l-3 0 3 4-4 3M462 1890l-1-8-4 6M457 1888l9-1 0 1 2 12M440 1874l0 4-7-3M448 1898l-9-14 0-2M439 1882l-4-1 9-6M432 1880l-11-13 5 2M466 1879l5-7 1 13M446 1879l-10 1 2-1M462 1887l1 8 6 6 2-18M442 1875l3 0 2 2-2-2M464 1900l2 0-3 3 0 1" stroke="#f5e153"/>
<path d="M469 1891l0-5-1 4-1 2M454 1886l0-2 0 1M454 1885l-2 4-1 0 1 4M442 1907l3 8 10 7M477 1899l-9-7 16 0 2 5M456 1871l2-5 3-2M457 1869l-3 2-3 1M460 1887l4-2 3 8 6 4M447 1859l9-3 4-7M453 1906l-2 3 8 1-5-2M468 1900l5-5-4-1M433 1875l-6-4-11 9 1 1M444 1875l2-13-1 0M426 1869l4 2-1-10M429 1861l2-3-6-2M472 1885l2-13 7 10 5-2M438 1879l-1 4-10-1-5 7M471 1883l0 16 7 0M445 1875l3-4 3 1-2 3M463 1904l-4 0-3 1 6-1" stroke="#eece6c"/>
<path d="M467 1892l-2-10 1-3 1 5M452 1893l-1-4 0 1M455 1922l-8 12-5-4M486 1897l1-11 2 3 9 7M461 1864l-2-2-4-10M451 1872l2 7 1-3-2 1M473 1897l-2 0-1 3 6-5M460 1849l2 3-1-8M454 1908l3 8 1-3-2 2M469 1894l3-2 1 3M417 1881l-11-1 4-4M410 1876l-4 3-4-5-8 7M445 1862l0-8 2 10M447 1864l1-9 14-23M425 1856l7-5-2-10M486 1880l-5 0-10 7M471 1887l10 7 1 2 5 10M422 1889l-3-1 5-8M424 1880l-6 0 7 6-14-3M478 1899l-12 3 7 4 0-2M449 1875l0-2-4 0 4 1M462 1904l-7 2-2 0-3 6" stroke="#e5bb80"/>
<path d="M467 1884l-3-2-5 3 0-2M451 1890l2 1 1 0M442 1930l0 4 3-2 2-4M447 1928l1 9 4-1M498 1896l-1-1 0 2 10-10M455 1852l0-2-6-4 2-11M451 1835l5 8-4-9M452 1877l-2 0-1-1M476 1895l0 3-7-2M469 1896l12-4 8-1-4-2M461 1844l10 1 5-1 2-3M478 1841l4 0-1-4M456 1915l2-1 1 1-2 0M473 1895l7 2 2-7 2 0M484 1890l1 3 0-2M394 1881l0 1-1-1-7 6M462 1832l7-2-3-15M430 1841l2-7M432 1834l-6-9 1-3M487 1906l-2 3 4-1-7 3M411 1883l3-6-15-6 6 6M473 1904l-5 13 5 3 4-1M449 1874l-2 0 4 0-2 0M450 1912l1-6-6 2-1-3" stroke="#dba792"/>
<path d="M459 1883l0 4 3 1-2 5M454 1891l2-2-1 0 0 6M452 1936l-3-4 3 7M507 1887l-4 2 3-10 0 5M452 1834l1 1 2-2M449 1876l-1 6 2-4M450 1878l0 3 1-2 0 0M485 1889l2-1 1 2 1 0M481 1837l0-4 5 4M457 1915l0 10-5-3 0 1M485 1891l4-3 1-3M386 1887l-13 5-3-8M466 1815l9 4-2 2M473 1821l8-5 18 10M427 1822l-2-1 2 0M482 1911l0-4 8 3M405 1877l-5-13-8-1M477 1919l1 0 1 11M479 1930l2-7 10 0-7 6M449 1874l2 2-1-1-5 1M444 1905l-9 3-5 1 2-2" stroke="#d094a2"/>
<path d="M460 1893l4 0 2-1 0 0M455 1895l2-2-1 0M456 1893l5 1-1-1 0 4M452 1939l4 5-6 14M506 1884l4-11 14 9 8 2M455 1833l-6 1-3-2M451 1879l-3-2 1 9M489 1890l3 6 0-2M486 1837l5-2 6-11M452 1923l-5 0-1-1-2-5M490 1885l-2 4 5-3M370 1884l-13 3-1 3 1-6M499 1826l4-16 8-1M511 1809l1 3 9-9M427 1821l2-16-3 12M426 1817l8-8 7-3M490 1910l-13 6-2-3-2 6M392 1863l0-8 6 0-4-8M484 1929l16 3 3 15 7-10M445 1876l-1-1-2 3 1 3M432 1907l2 2-5-4 3 0" stroke="#c381b1"/>
<path d="M466 1892l3-3 1-2 5 4M460 1897l2-2 3 3M450 1958l-6-3 2 13M446 1968l-9-10 12-2-16 8M532 1884l-1 1 5-1 2 4M446 1832l2-7-4-5M444 1820l13-3-7-4 0 2M449 1886l-4 1 2-3M492 1894l-1 6-1-2 0 0M497 1824l4 0 4 3M505 1827l5-12 0 1-2-6M444 1917l-3-2-5-1-5-2M493 1886l-4 2 6-1M495 1887l9 6 1-3-4 3M357 1884l-3-6-6 0M521 1803l-2 3 4 2M441 1806l-1-10 0-3M473 1919l-6 1 2-4M394 1847l-8-5 1-9M510 1937l-9 5 14 7 1-2M443 1881l-2 0-1-1 3 2M432 1905l-1-3 0-9-1 0" stroke="#b46dc0"/>
<path d="M475 1891l-2 2-1 3-4-1M465 1898l-4 3 4-8-2 7M433 1964l2-12-7 6M538 1888l-5 10 3 2 0-1M450 1815l6-4-1 3M447 1884l-2-1-1 0 1-4M445 1879l2-2 4-3M490 1898l-4 1 0 4 1-4M508 1810l6-1-6-2M431 1912l2-2 1 0-4 0M501 1893l-5 2 1 2M348 1878l-7-1 3 1-4-1M469 1916l3-4-2 3-15 0M387 1833l-2-4 3-8 5-5M516 1947l4 11-5 21 4-9M443 1882l-2 2-3 1-2 1M430 1893l0-1 0 0 2-7" stroke="#a25ace"/>
<path d="M468 1895l0 4-4 1 3 4M463 1900l6 2 1-2M536 1899l0 3 1-10-6 8M487 1899l-4 2 4 3M430 1910l-5-2-2-3-1 1M340 1877l4-7-11-11M333 1859l3 9 0-1 1-1M455 1915l-10 0-3-2M442 1913l-6-5 9 5 0-2M393 1816l-7-6-4-5M382 1805l5-1-3 0-12-9M519 1970l0 0 1 0M436 1886l0 5-4 0 2-1M432 1885l-3 1-5-2-1 1" stroke="#8c46dc"/>
<path d="M467 1904l0-5-3 10-1-2M531 1900l6 1-1-1 3-3M487 1904l-4 2-2 2 0 3M422 1906l0 1 1 1-3-10M520 1970l-5-7-7-2-10-14M434 1890l0-2 0 4 1-3M423 1885l0-5-3 0 1 8" stroke="#7030ea"/>
<path d="M463 1907l0-2 2 1 6 0M539 1897l1 14-3-9-2 3M420 1898l-3-3-2 1-3 1M435 1889l4 3 1 0 1-4M421 1888l3 0-4-5-2 4" stroke="#4216f8"/>
<path d="M463 1905h0M465 1906h0M471 1906h0M463 1900h0M469 1902h0M470 1900h0M540 1911h0M537 1902h0M535 1905h0M445 1879h0M447 1877h0M451 1874h0M483 1906h0M481 1908h0M481 1911h0M417 1895h0M415 1896h0M412 1897h0M336 1868h0M336 1867h0M337 1866h0M436 1908h0M445 1913h0M445 1911h0M387 1804h0M384 1804h0M372 1795h0M515 1963h0M508 1961h0M498 1947h0M439 1892h0M440 1892h0M441 1888h0M424 1888h0M420 1883h0M418 1887h0" stroke="#1f00ff" stroke-width="5.2"/>
<path d="M459 1888l0-1 2 2 6-1M454 1895l0-3-1 3 11-1M461 1883l-1-4 3 5M463 1884l9-6-2-10M443 1898l-1 2-3 0M438 1884l5 8-9-13-13 18M459 1899l-1 1 3 3-3 3M441 1894l-1 14 6-15 5 5M455 1875l2 4 0-3M449 1884l4 3-10-7 16 0M443 1885l6 10 0 3 8-1M450 1885l1 0 3-8M443 1899l1-1 2-1-5 0M459 1883l-1-1-1 1M457 1883l-1 12 0-8M450 1888l-4-10-5-5-10 6M457 1888l2-3-2-1 1-2M464 1885l-1-6-8-4 1 2M459 1883l0-5 2-5M458 1875l1-2-11 7" stroke="#fcf52f"/>
<path d="M467 1888l-2-1 1 3 3-4M464 1894l2 1 1-3 3 1M470 1868l4 6M439 1900l2 2-4 3-1 1M421 1897l4-2-1 0-3-6M458 1906l3 1-1 3 3 2M451 1898l15 8 0 15 11-5M457 1876l-4 0 1-7M454 1869l-5 2 1-6M459 1880l2-2-3-1 0-7M457 1897l-10 7-2-15 3 9M454 1877l3-3-2-3M455 1871l1 0-5 3M441 1897l0-1 1-4-2 0M456 1887l4 5 2-5M431 1879l0-11 1 4-9-9M458 1882l3-3 4 4 2-1M456 1877l2 1-3-10M461 1873l3 3-1-1M463 1875l2 2 2-2-2 7M448 1880l-4 4-4 9M440 1893l4-7-13 9" stroke="#f5e153"/>
<path d="M469 1886l-1 0-1 3 1 1M470 1893l1-3 2-10 1 4M474 1874l4-3 4 2M482 1873l7-4-9 0M436 1906l-6 0 3-1-5-3M428 1902l-2 3 1-3M421 1889l-7 7 2 3 2-5M463 1912l2 3 1 0M477 1916l0 4 2 3-7 6M450 1865l8-2-8 0-3-8M458 1870l9 5 2-9-1-12M448 1898l-1 3-16 10M451 1874l3-6 6-4 4 0M440 1892l-5-2 1-4 1 1M462 1887l-11 16 4-11M455 1892l2 1-3 1M423 1863l2-7-2-3M467 1882l0-1 0-1M455 1868l-1 3 2-5 1 2M465 1882l3-3-1 1M431 1895l7 1-8-3" stroke="#eece6c"/>
<path d="M468 1890l-2-2 3-2 1 2M474 1884l1-6 4 5-5-5M480 1869l9 4M489 1873l-1-1 2 4M427 1902l-1-2-3 1M418 1894l-1 11-4-5 1 0M466 1915l0-2 1 2 1 0M472 1929l1 0-3-3-8 9M447 1855l11 3-1-11M457 1847l0 8 7-20M468 1854l-6 5-4-6 4-2M431 1911l-5 8-3-4-4 4M464 1864l-1-5-2-5M461 1854l5-13 1 3M437 1887l-3 0 5-1-3 0M454 1894l2-6 4 6M423 1853l8-12 1-13 11 0M467 1880l1 2-1-1 6 1M457 1868l-3-2 0 2M454 1868l-2-7 2 3-3-2M467 1880l-1-1-6 1M430 1893l-2 3-3 5M425 1901l-3-8 4 4" stroke="#e5bb80"/>
<path d="M470 1888l5 1-3-7-3 1M474 1878l6-5 4 1 0-4M490 1876l0-9 6 5M496 1872l3 0-6 3M423 1901l1-3 0 2-1-5M414 1900l-2-7 2 4-1 7M468 1915l1 1-1 3 0 0M462 1935l3-8 1 13-3-2M464 1835l3-2 0 0M462 1851l5-2-3 2 1-3M419 1919l-7-5-2 4-3-5M467 1844l8 0-5-10M436 1886l-1-3 1 1-2-3M460 1894l-2-1M458 1893l3-2-3-3M443 1828l-11-2 1 3-7-7M473 1882l0 1 1 0-1-2M451 1862l0 1-3 5 6 3M460 1880l1-2-1-1 0 1M460 1878l0 1-5 0M426 1897l-3 2 4 1-5 3" stroke="#dba792"/>
<path d="M469 1883l3-3 0-2 4 4M484 1870l1 13-2-10 4-2M493 1875l2-10 9-2M423 1895l-1 2 0-4 0-1M413 1904l-6 0-8-3-3 0M468 1919l0 2 2 1 1 1M463 1938l6-1-5-2 25 11M467 1833l10-10-7-8M465 1848l3-3-13-2-4-3M407 1913l0 3-7-6M400 1910l-11-6-1 4-5-2M470 1834l2-2 2 1M434 1881l1 0 2-4 0 0M458 1888l11-1-2-4M426 1822l4-8 0-4 13-5M473 1881l6-4 3 0M482 1877l1 1 0-1 4-5M454 1871l-1-4 2 5M455 1879l-8 1 3 0M422 1903l-5-1 0 4M417 1906l0 1-5-1" stroke="#d094a2"/>
<path d="M476 1882l-1-5 0 0 4-1M487 1871l7 5-4 6-3-1M504 1863l4 0M508 1863l7 7 4-3M422 1892l1 0-1-1M396 1901l3 22-3 0 14-4M471 1923l0 1-2 4-1-1M489 1946l2-8 12 5-5-9M470 1815l9 7-4-6 0-3M475 1813l1-11 8-7M451 1840l-6 9-2-3 1 5M383 1906l-6-6 6 0-2-9M474 1833l5-5 11 6-4-5M486 1829l10-2 0-5M437 1877l-1 0 2-3 5 1M467 1883l8 1-1 2M474 1886l1 2 10-1M443 1805l2 3-3-9 4 1M487 1872l7 0 1 2-3-3M455 1872l1 0 0 3 1 4M450 1880l-1-2 2 5M412 1906l-1 5-1-3" stroke="#c381b1"/>
<path d="M479 1876l2-3 1 0 0-3M487 1881l6 9 2-4-4 9M422 1891l0-2 0 1M422 1890l0-3-2 2-2 0M410 1919l-9 5 13-4-8 5M468 1927l-1 1-1-2-1 1M498 1934l-1 1 5 1 6-1M484 1795l-5 3 5-15M444 1851l-7 1-5-4 5 0M381 1891l-2 7-6-9 3-4M496 1822l1-3-10-2M443 1875l-4-4 2-2-3-6M485 1887l4-8 6-7M446 1800l2-1 14 0-3 0M492 1871l1-2 0-2-1 2M457 1879l-2 7 2-4M451 1883l-5 1 0 5M446 1889l1-2-4 8 2 0M410 1908l-2 0-6 2M402 1910l0-3-2 4" stroke="#b46dc0"/>
<path d="M482 1870l-3-2 1 3-2-6M491 1895l-1-3 2 7 4-2M418 1889l0 3-1-1 1-2M406 1925l17-9-4 4 6-6M465 1927l1 0-1 1-2 0M463 1928l-1 1 1-5M508 1935l-3-4 1 4 0-7M484 1783l3-7 5-6M437 1848l-9-2-8 0-3 4M376 1885l-2-15-5 3-8 9M487 1817l-4-2 4 3M438 1863l2 0-1 1-2-2M459 1799l17 11 2 4-10 3M468 1817l0 0-1 4M492 1869l-2-3-1 3-3-3M457 1882l-7-1 4 1-4-1M445 1895l-3 2 2 4" stroke="#a25ace"/>
<path d="M478 1865l-2-1-4 1-6-2M496 1897l-3 1 3 2-1 1M418 1889l-1 2-3 0M425 1914l9 7-2-3 5-3M463 1924l-1 4 0-2 0-3M506 1928l-2 1-8-20-8 3M417 1850l5-5-7-4-1-2M361 1882l-7-4 8-7M437 1862l-1-4 5-4-1-1M467 1821l1 8 0-5-2 5M486 1866l-1-5-2 3M450 1881l-2 0 0 1M448 1882l-1 2 0-4-1-2" stroke="#8c46dc"/>
<path d="M466 1863l1 1 1-5-4 2M495 1901l4 2-4 4 3 1M437 1915l15-7-4 13 7-3M462 1923l-2 0-2-1 1-2M488 1912l16 2-15 0-9-4M414 1839l-4 6 1-3-2 1M362 1871l-4-9 1-8-1-6M440 1853l3-5 0-3 1-2M466 1829l-3-4 5 1-4 2M483 1864l1-2-2-1 0-4" stroke="#7030ea"/>
<path d="M464 1861l3 1-3-4 2-1M498 1908l5 6-8-3 7 3M455 1918l0 4-1 0-6 3M480 1910l-4-10 5 4-22-12M409 1843l-1-4-1 8-8-10M444 1843l4-2-4-6-1 1" stroke="#4216f8"/>
<path d="M467 1862h0M464 1858h0M466 1857h0M503 1914h0M495 1911h0M502 1914h0M418 1889h0M417 1891h0M414 1891h0M455 1922h0M454 1922h0M448 1925h0M460 1923h0M458 1922h0M459 1920h0M476 1900h0M481 1904h0M459 1892h0M408 1839h0M407 1847h0M399 1837h0M358 1862h0M359 1854h0M358 1848h0M448 1841h0M444 1835h0M443 1836h0M463 1825h0M468 1826h0M464 1828h0M484 1862h0M482 1861h0M482 1857h0M447 1884h0M447 1880h0M446 1878h0" stroke="#1f00ff" stroke-width="5.2"/>
<path d="M471 1876l-1 4-3 1-1 2M453 1885l-4 3 0 0-6-6M457 1886l-4 1 6-1M467 1895l1 1 0 0M442 1870l1 1-2-1M453 1884l4 0 2-4M459 1889l6 0-7-7-1-2M448 1892l-1 1-2 2-2 3M449 1883l-3 6 7-6-14-5M447 1899l10 2-2-8-4-4M444 1895l-3-8-1 13M438 1888l-1-1 6-2 2 5M464 1888l2-6-2 4-2 8M447 1888l-1-5-11 6-5 6M457 1888l-1-6 1-1 0-1M448 1880l0 2-12-9-4-9M445 1892l1 0-2-2 1-3M448 1890l1 2-1 3" stroke="#fcf52f"/>
<path d="M466 1883l1 0 1 1 0 0M443 1882l3 4-2 0 3-3M459 1886l0-8 1 0M460 1878l2-10-4-2M468 1896l0 1 1 0M469 1897l1 1 0-1M441 1870l2-1-4 0 1-2M459 1880l4-7 2-4-3 1M457 1880l-5-1 2 1 6-9M443 1898l2-2-1 0M439 1878l12-9-4-1 3 0M451 1889l4-1 3 1-5 5M440 1900l-10-3 0 3M430 1900l-3-3 0-6M445 1890l-2 4 5 3 7 0M462 1894l-7-11-15-4M430 1895l10 9-15-11 4 11M457 1880l-2 0 2-9 1 2M432 1864l11 2-2-10 3-6M445 1887l2 0-4-2 2-4M448 1895l3-2-1-2 6-3" stroke="#f5e153"/>
<path d="M468 1884l-1 1-3 2-2 0M447 1883l-7-3 1 2-4 0M458 1866l-4 0 0-4M470 1897l0 1 0 0M440 1867l-2 2 1 0M439 1869l1 0-1 2-2 0M462 1870l10 3-2-5M470 1868l7-8-1-5 6-8M460 1871l2 1-3-4M444 1896l-4 4-10 5 2 0M450 1868l3 0 3-3M453 1894l0-5 15-12-5 3M427 1891l-13-5 2 7M455 1897l-3 4-1 0-3-2M440 1879l7-2-1-1-9-11M429 1904l0 9 5-6 6 9M458 1873l4-10 1 2 7 5M444 1850l-9-11 0-6 2-2M445 1881l-1-2-1 1 0-5M456 1888l-1-1 7 2 4 3M466 1892l1-1 4 2" stroke="#eece6c"/>
<path d="M462 1887l0 1 0 4 1-3M437 1882l-3 3 0-5 2-1M454 1862l0-1 0-3M454 1858l1-1-3-8M470 1898l0-2 1 1M471 1897l0 0 2 0M437 1871l-1-1-2-1M482 1847l-7 0 8-1M459 1868l3 1-1-11 4-2M432 1905l-7-8 5-2-6 0M456 1865l7-3-8 6 4-6M463 1880l-1-9 5 1-10-8M416 1893l-9-2 5-6M412 1885l-8 2 3-2M448 1899l-4 2-1-4 0 4M437 1865l2-6-1-5M438 1854l-1 4 7-10 2-9M440 1916l-1 15-4-11 5 7M470 1870l0-2 6 1 5-5M437 1831l-2-5-10-4 7-9M443 1875l1 2-1 0 4 0M471 1893l-1 0-1-1" stroke="#e5bb80"/>
<path d="M463 1889l-3-1 2 1-1-1M436 1879l-4 2-5 0 0 1M452 1849l3 1-9 2M473 1897l0-1 0 0M434 1869l2 1-4-1M483 1846l-2-8 4 5M465 1856l-1 2-2-7-2 1M424 1895l3-4-2-2M425 1889l-3-5-4-1 1 0M459 1862l7-7 8 1 17-2M457 1864l-4-6-7-13 0 3M407 1885l-1-3-6-11 4 4M443 1901l3 0-1-11-7 3M446 1839l-4-10 0-11 9-3M440 1927l-20-5 3 4 1-3M481 1864l3 1-1 5 2-4M432 1813l-16-7 4-17 0 0M447 1877l-1 1 1 0 3 0M469 1892l3 0-2-3 7 0" stroke="#dba792"/>
<path d="M461 1888l-5 4 0 1-3-2M427 1882l-1 1-7 0 3 0M446 1852l0-4-4 6M442 1854l2-2-9 5M473 1896l0-1 1 0M474 1895l-1 0 1 1M432 1869l2-4 1 1-4-1M485 1843l3-7 1-1-8-4M460 1852l-2-8-1 2-2-7M419 1883l-5-5 3-1-1 2M491 1854l-7-12 15-11M499 1831l-10 2 4-6-14-11M446 1848l-9-16 8 4-13-12M404 1875l-1 6-6-6M397 1875l-5 8-5-8M438 1893l5 1 2-9 6 2M451 1815l-1 0 3-2M424 1923l-2 9-7-2 1-2M485 1866l2-1-1-1 0 5M420 1789l-1 3-7 6-15 9M450 1878l-2 0 2-2 0 0M477 1889l1 4 1 6 2 2" stroke="#d094a2"/>
<path d="M453 1891l0-1 0 1-7-1M422 1883l-9-3 1-6-9 0M435 1857l0-1-1 7M434 1863l0 1 2-1M474 1896l1-1 0 1M475 1896l0-1 1 0M431 1865l1 1-4-1M428 1865l3 1-4-1 1 0M481 1831l2-6 3-6M486 1819l-7-1 4 5 6-2M455 1839l-14 1 6-9-8 8M416 1879l2 0-6-6M479 1816l-16 4-2-2-10 4M432 1824l2 1-1 1 5-7M387 1875l3 6-5-2M451 1887l5-1-3-3-5 1M453 1813l1 5 12-10-5-9M416 1928l9 4-10-1 2-2M486 1869l-2 2 0-1-1 4M397 1807l5 10-9-10-9 0M450 1876l1-1 0 2 0 1M481 1901l3-1 0 6" stroke="#c381b1"/>
<path d="M446 1890l2 1-2 1-2 2M405 1874l-2-5 5 1 2-8M436 1863l0 2 0 0M476 1895l0-1 0 0M428 1865l1-2-1 1M489 1821l0-4-3-1M439 1839l2-5 0 1-1-3M412 1873l1 6 0-6 2-5M451 1822l-1-8-4-3-5-12M438 1819l-5-1-2-7 2-4M385 1879l-8 0-5-12M372 1867l7-1-4-7M448 1884l-1-7 3-4-6-4M461 1799l-4-8 4-10M417 1929l-7-5 9 10-2-8M483 1874l-1 3 2 0-5-1M384 1807l8 1-9 8 6-4M451 1878l2-3-3 1 1 0M484 1906l0-2-2-1M482 1903l1 6-2-4 0 2" stroke="#b46dc0"/>
<path d="M444 1894l0-6-4 6 1-1M410 1862l6 0-3 5 1-2M428 1864l1-3-1 0 1-2M486 1816l7-1 3-4-1 2M440 1832l-9-10 2 2-3-6M430 1818l-4-3 8-8M415 1868l-9-2 2 0 1 2M441 1799l-7 1-5-9-5 0M433 1807l1 4 1-8 1 2M444 1869l-7 0 4-7 2 2M461 1781l-4 3 2-7 4-6M417 1926l-7-8-10 11 4-13M479 1876l-2 3 4-2-10 0M389 1812l-19 11 8-14 3 8M451 1876l0-2-2-5-1-1M481 1907l-4 3-1 3 3 0" stroke="#a25ace"/>
<path d="M441 1893l0 0-3 1-4 0M414 1865l2 3 1 4-1-2M429 1859l-2 1 2-2M495 1813l0 2 1 4M434 1807l-3-2-8 0-4-1M409 1868l-4 5 1-1M424 1791l4-19 11 2M436 1805l7-7 4-1-5-1M443 1864l-5-7 3-2 2-7M463 1771l-8 2 7-1M462 1772l-8-10 5 8-1-2M404 1916l-5 4-8-9 6 17M471 1877l4 1-8-4-4-1M381 1817l-7 3-5-4-2 2M448 1868l-3 1 1-2-3-1M479 1913l-3 1 1 1" stroke="#8c46dc"/>
<path d="M434 1894l-7 1 0 1 2-4M416 1870l6-4 2 0-3-4M419 1804l-4-15 4 1-6-10M406 1872l-10 2 3 0-3 1M439 1774l5 3-2-1 13-11M442 1796l3-2 4-8-4-2M443 1848l4-4 2-5-5-2M397 1928l2 15-7 7-7-2M463 1873l-4-1 6 1-13 2M367 1818l1-7-1 3-9 3M443 1866l-1-2 1 0-2 0" stroke="#7030ea"/>
<path d="M429 1892l1 4-3 0 1 0M421 1862l4-6 4-1-2-6M445 1784l1 1 0-1 12-6M444 1837l10-2-7-2 1-1M385 1948l2 13 1-7 7 4M452 1875l-1-7-2 1 3-3M358 1817l-2-2-7 6-3 4M441 1864l1 0-1-1-2 1" stroke="#4216f8"/>
<path d="M430 1896h0M427 1896h0M428 1896h0M425 1856h0M429 1855h0M427 1849h0M429 1859h0M427 1860h0M429 1858h0M495 1813h0M495 1815h0M496 1819h0M415 1789h0M419 1790h0M413 1780h0M396 1874h0M399 1874h0M396 1875h0M444 1777h0M442 1776h0M455 1765h0M446 1785h0M446 1784h0M458 1778h0M454 1835h0M447 1833h0M448 1832h0M454 1762h0M459 1770h0M458 1768h0M387 1961h0M388 1954h0M395 1958h0M451 1868h0M449 1869h0M452 1866h0M356 1815h0M349 1821h0M346 1825h0M442 1864h0M441 1863h0M439 1864h0M479 1913h0M476 1914h0M477 1915h0" stroke="#1f00ff" stroke-width="5.2"/>
</g></g>
<path d="M64.5 423.7V520.3H162" stroke="#8a8a8a" stroke-width="0.9" fill="none"/>
<path d="M62.5 515.9H64.5M68.9 520.3V522.3M62.5 494H64.5M91.1 520.3V522.3M62.5 472H64.5M113.2 520.3V522.3M62.5 450H64.5M135.4 520.3V522.3M62.5 428.1H64.5M157.6 520.3V522.3" stroke="#4d4d4d" stroke-width="0.7" fill="none"/>
<text x="61.5" y="518.9" font-size="8.2" text-anchor="end" fill="#222" font-family='"Liberation Sans", sans-serif' >-200</text>
<text x="68.9" y="528.5" font-size="8.2" text-anchor="middle" fill="#222" font-family='"Liberation Sans", sans-serif' >-200</text>
<text x="61.5" y="496.9" font-size="8.2" text-anchor="end" fill="#222" font-family='"Liberation Sans", sans-serif' >-100</text>
<text x="91.1" y="528.5" font-size="8.2" text-anchor="middle" fill="#222" font-family='"Liberation Sans", sans-serif' >-100</text>
<text x="61.5" y="475" font-size="8.2" text-anchor="end" fill="#222" font-family='"Liberation Sans", sans-serif' >0</text>
<text x="113.2" y="528.5" font-size="8.2" text-anchor="middle" fill="#222" font-family='"Liberation Sans", sans-serif' >0</text>
<text x="61.5" y="453" font-size="8.2" text-anchor="end" fill="#222" font-family='"Liberation Sans", sans-serif' >100</text>
<text x="135.4" y="528.5" font-size="8.2" text-anchor="middle" fill="#222" font-family='"Liberation Sans", sans-serif' >100</text>
<text x="61.5" y="431" font-size="8.2" text-anchor="end" fill="#222" font-family='"Liberation Sans", sans-serif' >200</text>
<text x="157.6" y="528.5" font-size="8.2" text-anchor="middle" fill="#222" font-family='"Liberation Sans", sans-serif' >200</text>
<text x="113.2" y="419.4" font-size="8.2" text-anchor="middle" fill="#1a1a1a" font-family='"Liberation Sans", sans-serif' >DKO</text>
</g>
<text x="113.2" y="538.6" font-size="8.2" text-anchor="middle" fill="#1a1a1a" font-family='"Liberation Sans", sans-serif' >x (μm)</text>
<g>
<path d="M200.6 423.7V520.3M185.1 504.9H282.6M222.8 423.7V520.3M185.1 483H282.6M244.9 423.7V520.3M185.1 461H282.6M267.1 423.7V520.3M185.1 439.1H282.6" stroke="#e4e4e4" stroke-width="0.6" fill="none"/>
<path d="M189.5 423.7V520.3M185.1 515.9H282.6M211.7 423.7V520.3M185.1 494H282.6M233.8 423.7V520.3M185.1 472H282.6M256 423.7V520.3M185.1 450H282.6M278.2 423.7V520.3M185.1 428.1H282.6" stroke="#c8c8c8" stroke-width="0.75" fill="none"/>
<clipPath id="cl185_423"><rect x="185.1" y="423.7" width="97.5" height="96.6"/></clipPath>
<g clip-path="url(#cl185_423)"><g transform="scale(0.25)" fill="none" stroke-linejoin="round" stroke-linecap="round" stroke-width="3.4">
<path d="M938 1888l1 1-1 2 0 0M914 1889l2-1-3 1M938 1888l1-1 2 3-1-2M934 1890l0 0-1-2M933 1888l-3 3-4 4M932 1901l-1-5 4 13 5 1M932 1882l-5 2-8-6-9 10M927 1887l-1 2 1-10M936 1877l1-2 0 0 7-1M939 1893l2-5 0 2M934 1887l0 0-2-2M949 1884l0-2 2 4M947 1866l-1 0 8 4M937 1901l-3 0 2 0 0 1M931 1863l-6 0 3-5-7 0M943 1874l1 0-2 2 0-5M949 1905l0-2 0-2M947 1885l5 2 1 3 1-3M958 1891l2-2 0 3 3 2" stroke="#fcf52f"/>
<path d="M938 1891l0 0 0 2M913 1889l-2-1-1 7M910 1895l3-1 0 4 1-1M940 1888l2 1 2 0 5-5M926 1895l1 0-1-2M940 1910l-3-2-1-2 9 0M910 1888l5-2-4 1M927 1879l-3 1-6-2 3 1M944 1874l-3-2-1 2 4-2M941 1890l-1-2 3-2-1-1M932 1885l2-2 7-6-4 2M951 1886l-13-1 0 1M938 1886l-1-4 0-2M954 1870l0-2-2 5M952 1873l3-5 4 4M936 1902l0 1 0-1-3 4M921 1858l-3 2-13 5 3 5M942 1871l-3 7 2 1 3 6M949 1901l-2 0 1-3 3 1M954 1887l4 14 8-13M963 1894l5 0 6 2 4 2" stroke="#f5e153"/>
<path d="M938 1893l-2-1 0 1 1 0M914 1897l3 3-5-3M949 1884l-1 0 4-2-2 1M926 1893l0 1-1-5M925 1889l-1-2-3-3M945 1906l0-3-2-1 1 1M911 1887l3-4-7-1-1-2M921 1879l-3-9-5-2-8-10M905 1858l0-5-6 0M944 1872l7-4 1-3 4 4M942 1885l2-3 3-3M947 1879l0-4 0-1 0-1M937 1879l3-2 7-6M947 1871l3 1-10-7 7 2M937 1880l-9-1 0-1-5 3M959 1872l-6-6 1 10-8 2M933 1906l3-3-5 3 2 1M908 1870l-7-4 4-5M944 1885l3 3 4 4 6-6M951 1899l-4-4 6-1 2-2M955 1892l-4 0 2 0M966 1888l-8 5 3 5 3-3M978 1898l-1 0 4 5 10 10" stroke="#eece6c"/>
<path d="M937 1893l-2 0 0 0M935 1893l0 0-1 1 0 0M912 1897l6 1 3-4M950 1883l-2-1 2 0 0-1M921 1884l0-3 1-3M944 1903l-1 2-4-3 4 7M906 1880l-3 1-4-7M899 1874l-3-6-6 1-4-10M899 1853l5-6-2 2M956 1869l2 3 4-1 1-1M947 1873l1-1-2-1M947 1867l1-4 3 3M923 1881l2 0-6 1M919 1882l2 0-8-3M946 1878l-4 3 8 0M950 1881l-14 14 0-6M933 1907l-8-3 1 0-1-2M905 1861l-3 4-5-6 0-1M957 1886l1 3-4-4 10-1M953 1892l-1-4 1-1M964 1895l1 1 1 6 6 12M991 1913l-6 1 2-1-1 5" stroke="#e5bb80"/>
<path d="M934 1894l0 3 2-2 0 2M921 1894l-1 3 1-1 5-1M926 1895l1 2-1 1M950 1881l2 0 0-4 4 2M922 1878l1 2M923 1880l1-1-1 1M943 1909l3-5-1 2-1 4M886 1859l-3 2-11-11 4-1M902 1849l5-7 4 0-2 2M963 1870l6 9-3-5 5 2M946 1871l1-2-1 1M951 1866l3-2 3 7M913 1879l-2-1-1-2M936 1889l8 10-1-8M925 1902l-4 5-6 0 5-4M897 1858l-2-2-3-1-1-6M964 1884l0-2 13 6 2 6M953 1887l0-1 1 0-2 0M972 1914l-8 0 0 11M964 1925l-7 15-4 5 6-3M986 1918l1 0-8-1 3 0" stroke="#dba792"/>
<path d="M936 1897l1 0-1-1M926 1898l5-5 3-3M956 1879l2-2-3 1 6-3M923 1880l6 0-3 1M944 1910l0-6-1 8 1 1M876 1849l-11-11-5 4M909 1844l-2-3 2-2 6 0M971 1876l-5-1 8-3 0 0M946 1870l-1-2 3-6-6 2M957 1871l9 0 5-3-2 0M910 1876l-1 1 2-4M943 1891l2 8 4-8M920 1903l-1 6 2 1 2-2M891 1849l3 0-7-6-1-1M979 1894l5 1-6-1 9-3M952 1886l4 2 2-2 0 0M959 1942l3 14-7-11 5 7M982 1917l-5 2-4 0 1-4" stroke="#d094a2"/>
<path d="M936 1896l3 0-1 1-1 1M934 1890l3-4-1-1M961 1875l2 0 0 0 1-3M926 1881l3 0 0-2M929 1879l1 1 1-3M944 1913l0 1-7-3 0 0M860 1842l1-9 9-11 9-7M915 1839l2-5 15 4M974 1872l4-3 3 0 1-6M942 1864l1-5 1 0M944 1859l-2-5 1 2 1-1M969 1868l4 1 8-4M981 1865l-2 2-1-9 2 2M911 1873l0 1-4 0-2-2M905 1872l0-2-2-1M949 1891l1 2 1-3 17 3M968 1893l-4 0 1 2M923 1908l-1 3 3 3 0 0M886 1842l1-2-1-4 4-9M987 1891l-4 5 11-2 4 5M958 1886l3-1 3 1M960 1952l13 13-9 2M974 1915l-7 3-11 1-5 3" stroke="#c381b1"/>
<path d="M937 1898l5 0-1 0M936 1885l1 0 6-3M943 1882l-3-1 2-2-1-2M964 1872l5 0 1 4 3-3M931 1877l-1-2 3 0M937 1911l3-5-6 3-1 0M879 1815l-4 6 9-11M932 1838l10 0 2 0M944 1838l-6-2 19 4 11-12M982 1863l-4-2 0-6 4 4M944 1855l7-4-4-3M980 1860l-4-3 1-7M903 1869l1 3-5-4M965 1895l-8-2 13 4M925 1914l4 2 2-1 1 2M890 1827l1 2-2 0 1-5M998 1899l-1 5 0 0 6-1M964 1886l-1-2 3-3M966 1881l0 3 0-3 0 3M964 1967l9-1-6 4 2 12M951 1922l4-2-3-2-4-9" stroke="#b46dc0"/>
<path d="M941 1898l1-2 0 1 0 0M941 1877l2 3 4-2M973 1873l4 4 1 2 2-3M933 1909l-5-10-1-3-9 2M884 1810l4 2 2-5 8 8M968 1828l0-9 9-5-2 5M982 1859l-8-5 1-1 0-3M947 1848l4 0-3 0 0 0M977 1850l2 0-4 5 2-2M899 1868l-2 1 4 1M970 1897l3-4-2-6M932 1917l-1 0 0 0 3 2M890 1824l2 6 1-6-1-1M892 1823l3-2 5 0M1003 1903l-1 0 4 4-1 0M966 1884l2-2 0 0 1-1M969 1982l-1 9-1 6 11 0M948 1909l-1 3-7-2-5-10" stroke="#a25ace"/>
<path d="M942 1897l0 0 2-1M944 1896l-1 1 0 0 3 0M980 1876l5 1 3-2 0 0M918 1898l0-1-5 0-2-5M898 1815l4-4 5 1M907 1812l7-6-2 4 7-9M975 1819l10 2-2-10M975 1850l1 1-1-4-3-1M948 1848l10-5-5-6M977 1853l2-6-2-2M934 1919l5-1-3-2 6 0M900 1821l3-2-1 0 0-1M1005 1907l5 2 1-2 3-4M969 1881l4-1 0-1M978 1997l-1-2 4 8M935 1900l1 3 1 1 2-7" stroke="#8c46dc"/>
<path d="M988 1875l6-1-4-1 3 0M911 1892l-5-3-1 5 1 0M972 1846l7-5-4-3-1-4M942 1916l1 2-1-2 0-3M902 1818l3 0-2-9 4 4M1014 1903l0 3 3 5-5-11M981 2003l-5 2 8 6-4-5M939 1897l-11-6-10 9 12-3" stroke="#7030ea"/>
<path d="M993 1873l5 0 2 0 0 2M906 1894l-5 3 1 1-9 7M974 1834l2 0 5-2 0-3M942 1913l-1-1 4-5-2-1M1012 1900l-6-6-3-3 8-6M930 1897l-15-3-12-15 5 7" stroke="#4216f8"/>
<path d="M943 1897h0M943 1897h0M946 1897h0M998 1873h0M1000 1873h0M1000 1875h0M901 1897h0M902 1898h0M893 1905h0M914 1806h0M912 1810h0M919 1801h0M975 1819h0M985 1821h0M983 1811h0M976 1834h0M981 1832h0M981 1829h0M948 1848h0M958 1843h0M953 1837h0M977 1853h0M979 1847h0M977 1845h0M941 1912h0M945 1907h0M943 1906h0M905 1818h0M903 1809h0M907 1813h0M1006 1894h0M1003 1891h0M1011 1885h0M969 1881h0M973 1880h0M973 1879h0M976 2005h0M984 2011h0M980 2006h0M915 1894h0M903 1879h0M908 1886h0" stroke="#1f00ff" stroke-width="5.2"/>
<path d="M938 1889l-4 0-2 3M932 1892l0 8 7-1M940 1896l0 0-1 0 1 0M936 1895l1-2 2 6-1 6M929 1903l4 4 1 10M926 1876l1-3 10-1-9-5M929 1891l-1-4-3-1-1 0M926 1904l-1-1 1-1 0 0M929 1884l1-5-1-1-3-5M939 1882l13 5 2-7-3 9M935 1891l-1 1-5 3-1 4M933 1879l-1-8-6-1M932 1902l-2 1 6 2-2 1M938 1882l0 3 7 0 2 3M938 1887l-3-2-2-3 4 6M929 1883l4-3-7 1M935 1902l2 2-3 0M934 1904l0 5-3-3M937 1886l0-4 2 1M937 1877l7 0-1 2-1-5" stroke="#fcf52f"/>
<path d="M939 1899l-3 7 15-1M940 1896l-2-3 1 4-3-3M938 1905l-1-1 0 1M934 1917l7 3-10-4M931 1916l4 10-10 5-2-2M928 1867l-2-2-3-4 1-2M924 1886l3-6 1-4 2 6M926 1902l-1-1 0-1 0-4M926 1873l1-1 14-11-2-16M951 1889l3 1 8 5 0 6M928 1899l1 7 2-4M926 1870l0 1 1-3M927 1868l-2-1 1 1 1-1M934 1906l1 0 3-1 11-2M947 1888l3-3-1 1 1-2M937 1888l-6-1 4 0-2-1M926 1881l3-10 3-11M932 1860l4-5 1-2M931 1906l3 0 2 2M939 1883l0-3 0-4M939 1876l-2 1 2-1M942 1874l0 2 3 6 0 0" stroke="#f5e153"/>
<path d="M951 1905l1 3M952 1908l16-3-3 2M936 1894l0-6-1 3 1 0M937 1905l6 1-4-1-4 1M923 1929l-4-5-4 5M924 1859l0 0-2-1 2 1M930 1882l-2-7-3-5 5-5M925 1896l1-1 0-1 0 1M939 1845l-11 6 8-8-6-10M962 1901l-2-8 0 7 7-3M931 1902l-3 4 3-3-4 1M927 1867l-1-1 3 1M949 1903l0 4 4-4-1 4M950 1884l6-4 6 1 2-7M933 1886l-4-1 3 3-3-1M937 1853l0-1-11-4 2-1M936 1908l7-4M943 1904l4 11 9-1M939 1876l2-1 2-1 0-2M945 1882l-2-5 2-5 1 3" stroke="#eece6c"/>
<path d="M965 1907l2 3 5-4M972 1906l4-7-1 14M936 1891l-1-6-4-2-1-3M935 1906l3 0 0 4M938 1910l6-6-2 2-2 1M915 1929l-19-7 10-2M924 1859l-2-2 2-1-2-4M930 1865l-2-9-2-3-6 1M926 1895l1-2-1-1 1 0M930 1833l12-1-9-6 6 3M967 1897l7 9-3-4 9 14M927 1904l2-2 0 1M929 1903l3 3-5-2 2 3M929 1867l3-6-4-4M952 1907l4-1-1-1 5 3M964 1874l-2-2 0 0 2-2M929 1887l0-1-4 0-1 0M928 1847l-8-14 1-4M921 1829l0 6-2-1M956 1914l-2-2 1-4M955 1908l9-11 1 2M943 1872l2-4 0 2M945 1870l-3-2-1-1M946 1875l-4-7 0 1 1-3" stroke="#e5bb80"/>
<path d="M975 1913l2 3-3 2M930 1880l-3-3-2 1 0-4M940 1907l2 4-6 0-3-1M906 1920l-10 5 3-7-7 6M892 1924l-3 4-6 0M922 1852l1 0-4-4 1 0M920 1854l-8-3-3-1 1-2M927 1892l0 0 1 0 0-2M939 1829l-3-10-1 0-1-2M980 1916l1 2 0-1-4 6M929 1907l2-1 2 2-3 1M928 1857l1-2 3 2 1-2M933 1855l5-1 0-1M960 1908l4-2-2-1 6-2M964 1870l-2 2 0-4-2 0M924 1886l-1 1-6 2 5 1M919 1834l-3-5 3 7M965 1899l2-8-6-6M941 1867l0-3 1 1M943 1866l-3-5 4 0-1-6" stroke="#dba792"/>
<path d="M974 1918l4 1M978 1919l6-4 3 21M925 1874l-2-2 4-1 0-8M933 1910l0-2-1 1M883 1928l1-4-7-1M920 1848l1-2-1 1 2 1M910 1848l-5 2 3 7 2 5M928 1890l1 1 2 1-1 1M934 1817l-3-4 2-9 4-2M977 1923l2 1 1 6 5 1M930 1909l2-1 0-1M938 1853l4-1-1-2M968 1903l0-4 1 1-3-6M960 1868l-1-2-3-2 0-4M922 1890l-3 3-2 5-3-1M919 1836l1-9-23-8M961 1885l2 7M963 1892l3-13 4-2M942 1865l1-3 0 4M943 1855l2-3 2-10 7 11" stroke="#d094a2"/>
<path d="M987 1936l-1-7 5 8M927 1863l-3 2-4-4 4-3M932 1909l0 3 3-1-7-1M877 1923l13-6-11 2M922 1848l-3-4-1-3 2 3M910 1862l0 1 3 5M930 1893l2-1 1-2-1 1M937 1802l-1-1-3 1 8-4M985 1931l13 1 4 6-2-4M932 1907l1 1 3-2-2 1M941 1850l3 0 1-4M966 1894l5-1-3-2 0-4M956 1860l-4-5-1-1 0-4M914 1897l-1 3 3-2M897 1819l6 1-3 0-1-9M899 1811l-10 16 0-6M970 1877l-1-2-1 0M943 1866l-6-2 2-1-2 2M937 1865l-1-2-2 0M954 1853l-7-7 8 4 5 1" stroke="#c381b1"/>
<path d="M991 1937l9 2 10 3M924 1858l-3 0 0-5 3 1M928 1910l-5-4-2 6M879 1919l2-3-19-12M862 1904l-7 14-3-3-1 9M920 1844l-3-5 2-1-2-3M913 1868l1-4-3 2 6 4M932 1891l3 0 0 1 1-1M941 1798l-4-1 4 5 3-6M1000 1934l1 0 7 6-10-5M934 1907l4-4 1-2M945 1846l0 1 3-1M948 1846l1 0 4-2-1 3M968 1887l-3 0 2-3 3 1M951 1850l0 1 1-1-5-2M916 1898l-3 2-3 4 0 7M889 1821l1 0-4-7M968 1875l-6-8 3-8M934 1863l1-2 0 1M960 1851l-4-2 3 0-2 4" stroke="#b46dc0"/>
<path d="M924 1854l0 2 1 0-1-6M921 1912l-3-5 1 1 1-8M851 1924l-5-11-1 3M917 1835l2-2-8 5-3 1M917 1870l-6-5 8 3-1-1M936 1891l2 1-1-2 2-1M944 1796l13-3 1 6-8 4M998 1935l7 1 6-1 8-3M939 1901l-3 2 1-3 0-2M952 1847l1-4-4-5M970 1885l-5-6 1 2 4-3M947 1848l-3 0 0 0 0-1M910 1911l-1-3 4-1 1 2M886 1814l2 9-12-9M935 1862l0 1-3-4M957 1853l-2-4-4 12 5-10" stroke="#a25ace"/>
<path d="M924 1850l-1-1-3-1 1 1M920 1900l-3-5-2-1M915 1894l1 0-1-2-3-3M908 1839l1 2-1-4 2-6M918 1867l11 9-3 5 6-6M939 1889l0 1 0-1 1-2M950 1803l16 5-9 3 4-3M1019 1932l-4 3 7-4 1 3M937 1898l-4 3 2-4M935 1897l-1 0 1-5 0 6M970 1878l0 1 2 3 3-2M944 1847l-2-2-2 1-5 2M914 1909l0-3 2 2 1 2M956 1851l-7 6-2 2-1 4" stroke="#8c46dc"/>
<path d="M921 1849l-3-4 5-5-2-5M910 1831l-3 7 0-5-8 0M932 1875l-3 4 7 0 1-1M940 1887l0-2 0 0 2-2M961 1808l-4 2 5-3 6 14M1023 1934l1-3 4 0 1-6M975 1880l2 0-1-2 2 3M935 1848l-2-2-5-4-2 1M917 1910l0-1-1-2 9-1M946 1863l-3-4-1-1-7-7" stroke="#7030ea"/>
<path d="M921 1835l1 1-5-7 6 0M899 1833l1 1-6-5 1 0M937 1878l1-1 3-6 5 1M942 1883l2 1 1 0 1 0M968 1821l-9 4-3-3 3 9M1029 1925l-3 8 8 7-8-2M978 1881l8-1-1-2 1-1M926 1843l-1-2-2-4 2 2M925 1906l-7-1 8 4 1 2M935 1851l-3 8 6-4-4-7" stroke="#4216f8"/>
<path d="M922 1836h0M917 1829h0M923 1829h0M916 1894h0M915 1892h0M912 1889h0M900 1834h0M894 1829h0M895 1829h0M938 1877h0M941 1871h0M946 1872h0M944 1884h0M945 1884h0M946 1884h0M959 1825h0M956 1822h0M959 1831h0M1026 1933h0M1034 1940h0M1026 1938h0M934 1897h0M935 1892h0M935 1898h0M986 1880h0M985 1878h0M986 1877h0M925 1841h0M923 1837h0M925 1839h0M918 1905h0M926 1909h0M927 1911h0M932 1859h0M938 1855h0M934 1848h0" stroke="#1f00ff" stroke-width="5.2"/>
<path d="M940 1882l1 2 7 0M948 1884l3-4 3-3M933 1904l2 0-2-5-4-4M935 1873l-8-1-2-4M925 1868l-5-4 4 3M933 1897l2 0 0-1 0-1M937 1901l-4 3 1-4M937 1885l0 1 0 1 3 2M937 1892l-2 0-5 0 1 0M926 1891l-1 0-2-7 3 0M938 1881l3 4 12 8M938 1902l-1-2-1 0 3 2M936 1892l5-3 1-8M948 1888l-10-8 1 9M939 1889l2-3 4-2M922 1893l-1-2 2-1M940 1879l-2-3 1 2M933 1883l-1 2-1 2-13-3M926 1883l-14-3-3 2 0-5M935 1881l-4 1-1 4 2 0" stroke="#fcf52f"/>
<path d="M954 1877l-1-4M929 1895l2-1 1 0 2-3M924 1867l-5-3M935 1895l4 4-1-3 0 4M934 1900l-1 0-9-2-8-3M916 1895l-6 2-2-6M940 1889l-5 2 3 7 2 1M931 1892l0-1 0 0-3-3M926 1884l-8 5 0-9 0 7M953 1893l-10-3 7 6M950 1896l6 6 0 3M939 1902l-1 0 1-3-3 1M942 1881l-1 0-1-3M940 1878l-2 1-5-1M945 1884l-2 4-12 7M923 1890l1 3 6-5 5 0M935 1888l4-11-1 4M939 1878l-3-7-2 2-3-3M918 1884l4-1-11 2-7 11M909 1877l1 9 2-3-5-8M932 1886l-2 2 2 2 2-1" stroke="#f5e153"/>
<path d="M953 1873l0 2-1 1M952 1876l3-5-3-2M934 1891l2 1 1-3 1-1M919 1864l-3-1-1-1M915 1862l3 3-5 2M938 1900l2 1 2 1M908 1891l-6 7-7-7M940 1899l-1-1 6-1 4-5M928 1888l0 2-1 0-1-1M918 1887l-5-2-2-5-3-10M956 1905l-2-7-3 0M936 1900l0 1-2-2 5-2M933 1878l1-4 3-2 1-3M931 1895l-4-3M927 1892l-15-2 7 3M938 1881l1-1 9-9M931 1870l-2 2 1-1M930 1871l0 0 1 2-4-2M904 1896l-1-5 1-3-1 0M907 1875l-1 6-9-6 2 2M934 1889l-6-4 3 4-3 3" stroke="#eece6c"/>
<path d="M952 1869l4-1M956 1868l0-3-4 3M938 1888l-1-4 1 4-2-5M913 1867l-7-1M906 1866l1-9-4-8M942 1902l-3-1 0 3 3 2M895 1891l-4 0 2-1 1-4M949 1892l3-2-4 4 5-2M926 1889l-1 0 0 2-1-2M908 1870l3-9 6-1 1-2M951 1898l3 3-3 7M951 1908l8 2 5-3M939 1897l-2 3-4-3 2-1M938 1869l-1 0 3-2M940 1867l-3-1 1 0M919 1893l0 1 0-1M919 1893l-4 15 9-6M948 1871l1-7-4-3-6 4M927 1871l-2 7-2-2M903 1888l-7 2-3 9-6-5M899 1877l-9-10 9-7-3-6M928 1892l-2-2 1 2 2 4" stroke="#e5bb80"/>
<path d="M952 1868l2-6-1-1M953 1861l2 0 1-3M936 1883l2-1-1-3 0-3M903 1849l3-1-3 0M903 1848l-2-5-1-6M942 1906l-1-1 0 3 2 0M894 1886l-5 1 3-1M953 1892l-1-1-2-2-3 1M924 1889l-1 0-1 3 4 0M918 1858l-1 0-5-10 2-4M964 1907l-7 7 8 1-8-3M935 1896l-4 4-4 1 0-1M938 1866l7 1 2-5M924 1902l-6-4-5 7M939 1865l3-1 1-5M923 1876l0-3-7 0M887 1894l-6 0 2-3-3 1M896 1854l-2-3 0-15 8-6M929 1896l-2 3-3 2 0-3" stroke="#dba792"/>
<path d="M956 1858l3 2 0 2M937 1876l-2-6-2-3-4-3M900 1837l-1 1-2-3M943 1908l0 1 4 1M947 1910l2 4 0-3 0 1M892 1886l-7 2-1 1M884 1889l-3 2-5-5 2-1M947 1890l2 0-2-4-1 2M926 1892l-1 1 2 2-1 0M914 1844l0 5 6-4 3 2M957 1912l5 5 6 2M968 1919l9-4-10-3M927 1900l2 2-4 3-2-3M947 1862l-2 0 1 1M913 1905l-6 5M907 1910l-1-5 7 0M943 1859l-1 3-2-4M940 1858l0 3 1-2-2-7M916 1873l2 4-1-3-3 0M880 1892l-1-3-1 2 4-6M902 1830l-1-2 8 11 3-5M924 1898l-1 0-1 3 1-1" stroke="#d094a2"/>
<path d="M959 1862l3-4M962 1858l0-3 2-2M929 1864l-1-6-4-6 1 0M897 1835l0 5M897 1840l-5-4-9-1M949 1912l1 1-1-1 1 0M878 1885l-2-2 5-8M946 1888l-2-3-3 0 2-3M926 1895l2 2-1 1 0 0M923 1847l6-9-5 0 4 2M967 1912l1-1 3 0M923 1902l1 0 1 0-2-1M946 1863l4 1 3-3 6-6M959 1855l0-5 10-4M913 1905l-2 11 2 4M939 1852l-5-4 7-4M914 1874l2-2-2-3M914 1869l-2-2 3 5-2-7M882 1885l-8 0 4-6 1 2M912 1834l2-5 12-6 8-6M923 1900l2 3-2 2 3-6" stroke="#c381b1"/>
<path d="M925 1852l-3-1-3-1 2 1M950 1912l4 0-1 1 1 1M881 1875l-2-2 4-1M943 1882l0 0-1 2-3-1M927 1898l0 1 2-1-1 1M928 1840l2 1 5 2 5 2M971 1911l9-5-3 0M977 1906l3-5-8 1M923 1901l-2-2-1 0 1 3M969 1846l-2-4-3 0M913 1920l-7-1 4-1M941 1844l4-3 2-1M913 1865l1-3-1-1M879 1881l-1-1-11-8-5-7M934 1817l2 2 2-3 7 8M926 1899l-3 3 5 2 4 3" stroke="#b46dc0"/>
<path d="M921 1851l-8 0 1-1 1 1M954 1914l0-3 0-1 1 2M883 1872l-3-1 0-4 0-3M880 1864l3-2-5 0M939 1883l-3-4-1 2-1-3M928 1899l2-1 3-1 0 1M940 1845l-3-1 2-5 3 10M921 1902l-4-3 0-1 2-3M964 1842l2 1 3-3M947 1840l0-5-4 0 0 1M943 1836l0 1-5-9M913 1861l0-3 0 2 3-3M862 1865l-2 1-1 3-4-12M945 1824l0 3 14 5 1-7M932 1907l-2-3 3 1-3 4" stroke="#a25ace"/>
<path d="M915 1851l1-1 1 6 1 1M955 1912l3 0 0 1M934 1878l-3-1-6-8-5 5M933 1898l-1-1 0-1-1-3M942 1849l-1-2-3-6-8 10M919 1895l-2-2 4 1 1 2M916 1857l-2-2 1-2M855 1857l-2 0 12-7 0 0M960 1825l0-4 9-9 0 5M930 1909l5 0-2 1-4 1" stroke="#8c46dc"/>
<path d="M918 1857l-2-1 2-1 0 3M958 1913l1 3 6 0 0 5M920 1874l-5-11 3 1 1-3M931 1893l0-1 0 0 0-1M930 1851l7 11-10-4 11 3M922 1896l0-7 2 2 1-2M865 1850l-1 0 7 0 6 5M969 1817l1-1 5-7 1 3M929 1911l-5-1-3-2-2-3" stroke="#7030ea"/>
<path d="M918 1858l2 0-3 0 4-2M919 1861l-1-3 1-1-4 1M931 1891l1 1-1 0-1-1M938 1861l6 0-3-2 1 13M925 1889l-1 1-2 1 1-2M877 1855l-4 6-1-2-2 2M976 1812l-5-7 6 8-1-2M919 1905l-1 4 2-8 6-2" stroke="#4216f8"/>
<path d="M920 1858h0M917 1858h0M921 1856h0M959 1916h0M965 1916h0M965 1921h0M880 1864h0M883 1862h0M878 1862h0M918 1858h0M919 1857h0M915 1858h0M932 1892h0M931 1892h0M930 1891h0M944 1861h0M941 1859h0M942 1872h0M924 1890h0M922 1891h0M923 1889h0M943 1836h0M943 1837h0M938 1828h0M916 1857h0M914 1855h0M915 1853h0M873 1861h0M872 1859h0M870 1861h0M971 1805h0M977 1813h0M976 1811h0M918 1909h0M920 1901h0M926 1899h0" stroke="#1f00ff" stroke-width="5.2"/>
<path d="M927 1886l8-4 12 2M932 1897l1-1 2-3 0-1M933 1899l0 2 1-2M934 1899l3-5 1-1M939 1879l3 2 3-2M944 1884l5 1-2-3-1-3M936 1899l-2 2-4-6M937 1881l7-5-3-14 2-5M926 1900l3-6-3 0 2-4M934 1888l-7-7 3 6M930 1887l-3 0 1-4M944 1880l-3-1 2 2M943 1881l-1-3-2 0M925 1887l-5-5-2-4 3 3M931 1886l-3-2-3-3-1-2M941 1892l1-2 4-2 3-1M933 1884l2-4 1-6M936 1887l-5-1-12-5-1 11M931 1889l0-6-3-2 1 3M938 1890l-4 4 0 8" stroke="#fcf52f"/>
<path d="M947 1884l-5 3 12 10M954 1897l-1 2 1 7 4-5M935 1892l7 0-2 0 5 1M938 1893l-2-3 2-1M945 1879l-5 1 1 1M941 1881l5 5 3 4M946 1879l0-1 6-3 0-4M930 1895l-1 6 3-3-1-3M931 1895l-1 3-3 2M943 1857l4 1 11-10-4-10M928 1890l-5-19-3 10 6-10M928 1883l-3-4M940 1878l-2-6-1 2M921 1881l-6-6-2-3 3-1M924 1879l0-7 0 1-3-3M949 1887l-4 1 4 0M936 1874l-8-1-3-10M925 1863l2 9-13 1M918 1892l2-2 3 6M929 1884l-2-5-2-6-5-1M934 1902l0-3 0 0 1 12M935 1911l1-1-3-2" stroke="#f5e153"/>
<path d="M958 1901l10 1 3 4M945 1893l-3-1 1 2 2-2M938 1889l2 1M940 1890l-3-2 3-4M949 1890l11-9-5 3M952 1871l-5 1-2-4-2 1M927 1900l2-2-5-1M954 1838l13-3-1 2 1 1M926 1871l-2 6-3 1-6-5M925 1879l-3 2-4 0M918 1881l-6 14 1-4M937 1874l-1-5M936 1869l-3-1 2-2M916 1871l-6-2-1 0-2-7M921 1870l5-1 3-2 0-5M949 1888l2 0 0-1 0 0M914 1873l-3-6-7-9-1 8M923 1896l-8-2 4 7 4-1M920 1872l4 1 2 4M933 1908l-1 6 2 4" stroke="#eece6c"/>
<path d="M971 1906l-3-4 4-2M945 1892l-1 1-1 4 3 4M940 1884l-1 1-3 0M936 1885l1-4-4-1M955 1884l-1 0 9-2M963 1882l2 7 13 1M943 1869l-5 0-1 2-3-10M924 1897l1-4-2 7-1-1M967 1838l3-6 0 3 5 3M915 1873l3-1 0-17-3 0M913 1891l4 3M917 1894l0 6 2-2M935 1866l-4-3 2 0M933 1863l-1-1 0-2M907 1862l0 2 1-6-3-11M929 1862l7 3 1-6 2 3M951 1887l1-2 0 2 2-1M903 1866l-2-1 1-8M902 1857l-5-14-5-4M923 1900l13 7-3 5 1 3M926 1877l7 1 5-1-1 3M934 1918l3 1 6-3 2 2" stroke="#e5bb80"/>
<path d="M972 1900l2-3 11 3-6 8M979 1908l5-3 7-4M946 1901l4 7 5-1 1 0M933 1880l2-2-2-2M978 1890l2 3 0 1 8-4M934 1861l-1-7-5 5 3 1M922 1899l3 9 1 3M975 1838l1 3-2-6 9 2M915 1855l4-4-5-8-1 2M919 1898l4 3-5 0M918 1901l7 5 6 1M932 1860l-1-3-3 1M905 1847l4 2 1-2 8-5M939 1862l1-2 3 0 7 4M954 1886l-1 0 4 1M957 1887l-1 1 1 0-2 1M892 1839l3-14-4-2M934 1915l1 2 5-2M940 1915l1 7 6-3-10 2M937 1880l0-2 0 4 0-2M945 1918l11 0-1 2" stroke="#dba792"/>
<path d="M991 1901l7-2-4 5M956 1907l3-2-1-1 4-4M933 1876l-1 0M932 1876l2-3 2 1M988 1890l-1 14-2 2M985 1906l4 3-1-2M931 1860l-3-3-4 8-6-8M926 1911l-3 1 3-3M926 1909l2 7-4 2 9 5M983 1837l-7 1 1 5 0 4M913 1845l1-4 2 1-1-4M931 1907l-5-5 5 7M928 1858l2 2M930 1860l-4-8 1-1M918 1842l-4 0 1 0 4 2M950 1864l2-6 5-2 0 1M955 1889l0-1 1 1-2-1M891 1823l-2 3 17-14M937 1921l8-2 3 3-1-7M937 1880l-4 2 3 3M936 1885l-3 1 0 2 2 2M955 1920l0-1 7-1M962 1918l7-2-5-5 4 4" stroke="#d094a2"/>
<path d="M994 1904l18-9 0 4M962 1900l-4 0 5-1M936 1874l0-6 4 3M988 1907l1 6-3 4M918 1857l3-4 0 7-6 6M933 1923l-1-2 3 3M977 1847l-2 1 6 7 4 3M915 1838l-1 2-1-7 0 5M931 1909l8-9M939 1900l-2 3 7-12M927 1851l0 2-2 0M919 1844l0 2-1 2 5-1M957 1857l7-6 0-5 7 1M954 1888l1 4-3-2M906 1812l-3-1 2-6 7 1M912 1806l-6-15-4 7M947 1915l15 2 1-4M935 1890l-8-6 0 3-1-1M968 1915l11-7-3 2" stroke="#c381b1"/>
<path d="M1012 1899l7 0-1-2M1018 1897l9-3-3 4 13-2M963 1899l7 1-2-2 1-1M940 1871l-4-2 3 0M986 1917l-1-2 0 0M985 1915l10 11 9-2M915 1866l-6 1-5 1-4 1M935 1924l-2-1-5-4M985 1858l0 0 1 1 6 15M913 1838l1-1-5-10 2-7M925 1853l1-3 1-2M923 1847l-2 1 3 5-5-3M971 1847l6-4-3-1 3-4M952 1890l0 2 1 1 0-1M902 1798l-1-3 2-10M963 1913l0 5-1-15-10-7M926 1886l0 0 1-2-3 5M976 1910l1 0-1-6" stroke="#b46dc0"/>
<path d="M1037 1896l4-6 2-1M969 1897l2-2 1-1 2 1M900 1869l2-2-3-1-5 0M928 1919l2 7 2-3-1 3M931 1926l-1-1-6 6M992 1874l-2-8 16 7-3 7M911 1820l2 1-1-7-2-9M919 1850l3 0 3-2-4 5M977 1838l-1-8 5 0 1-1M953 1892l0 3-2-1 2 1M903 1785l-6 0-2-7M952 1896l1-3-4-5 16 5M924 1889l0 2-5 0 3-2M976 1904l3 3 6 0 0 4M985 1911l1-2 12-6" stroke="#a25ace"/>
<path d="M974 1895l-2-1 8 1 1 5M894 1866l-1 0-1-1 3 4M1003 1880l8 7-13-1 4 3M910 1805l4-6 0-4 6-6M921 1853l0 6 2 1 1-3M982 1829l-10-10 1-1-1-7M953 1895l-2 0 0 1M965 1893l-7-14 7 4M922 1889l0-1-3 1" stroke="#8c46dc"/>
<path d="M981 1900l0 0-2-1 5 2M895 1869l-4-2-1-1 0-7M1002 1889l-10 0 9 1-6 10M920 1789l9-9-7 2 8-7M924 1857l1-1 6 3-1 2M972 1811l1 1-3-6 2-3M951 1896l-1-1 0 2 0-1M965 1883l6-8-2 16-4-4M919 1889l5 1 2 5 4 0" stroke="#7030ea"/>
<path d="M984 1901l3 0-1-2 0 2M890 1859l-1-7-6 5 4-6M995 1900l-1-7 8 1 3 5M930 1775l-1 7-9-13 14-8M930 1861l-5 4-1-2-2-1M972 1803l1 0-6 1 0-3" stroke="#4216f8"/>
<path d="M987 1901h0M986 1899h0M986 1901h0M889 1852h0M883 1857h0M887 1851h0M931 1926h0M930 1925h0M924 1931h0M994 1893h0M1002 1894h0M1005 1899h0M929 1782h0M920 1769h0M934 1761h0M925 1865h0M924 1863h0M922 1862h0M973 1803h0M967 1804h0M967 1801h0M950 1895h0M950 1897h0M950 1896h0M971 1875h0M969 1891h0M965 1887h0M924 1890h0M926 1895h0M930 1895h0M985 1911h0M986 1909h0M998 1903h0" stroke="#1f00ff" stroke-width="5.2"/>
</g></g>
<path d="M185.1 423.7V520.3H282.6" stroke="#8a8a8a" stroke-width="0.9" fill="none"/>
<path d="M183.1 515.9H185.1M189.5 520.3V522.3M183.1 494H185.1M211.7 520.3V522.3M183.1 472H185.1M233.8 520.3V522.3M183.1 450H185.1M256 520.3V522.3M183.1 428.1H185.1M278.2 520.3V522.3" stroke="#4d4d4d" stroke-width="0.7" fill="none"/>
<text x="182.1" y="518.9" font-size="8.2" text-anchor="end" fill="#222" font-family='"Liberation Sans", sans-serif' >-200</text>
<text x="189.5" y="528.5" font-size="8.2" text-anchor="middle" fill="#222" font-family='"Liberation Sans", sans-serif' >-200</text>
<text x="182.1" y="496.9" font-size="8.2" text-anchor="end" fill="#222" font-family='"Liberation Sans", sans-serif' >-100</text>
<text x="211.7" y="528.5" font-size="8.2" text-anchor="middle" fill="#222" font-family='"Liberation Sans", sans-serif' >-100</text>
<text x="182.1" y="475" font-size="8.2" text-anchor="end" fill="#222" font-family='"Liberation Sans", sans-serif' >0</text>
<text x="233.8" y="528.5" font-size="8.2" text-anchor="middle" fill="#222" font-family='"Liberation Sans", sans-serif' >0</text>
<text x="182.1" y="453" font-size="8.2" text-anchor="end" fill="#222" font-family='"Liberation Sans", sans-serif' >100</text>
<text x="256" y="528.5" font-size="8.2" text-anchor="middle" fill="#222" font-family='"Liberation Sans", sans-serif' >100</text>
<text x="182.1" y="431" font-size="8.2" text-anchor="end" fill="#222" font-family='"Liberation Sans", sans-serif' >200</text>
<text x="278.2" y="528.5" font-size="8.2" text-anchor="middle" fill="#222" font-family='"Liberation Sans", sans-serif' >200</text>
<text x="233.8" y="419.4" font-size="8.2" text-anchor="middle" fill="#1a1a1a" font-family='"Liberation Sans", sans-serif' >DKO/p85α-wt</text>
</g>
<text x="233.8" y="538.6" font-size="8.2" text-anchor="middle" fill="#1a1a1a" font-family='"Liberation Sans", sans-serif' >x (μm)</text>
<g>
<path d="M320.6 423.7V520.3M305.1 504.9H402.6M342.8 423.7V520.3M305.1 483H402.6M364.9 423.7V520.3M305.1 461H402.6M387.1 423.7V520.3M305.1 439.1H402.6" stroke="#e4e4e4" stroke-width="0.6" fill="none"/>
<path d="M309.5 423.7V520.3M305.1 515.9H402.6M331.7 423.7V520.3M305.1 494H402.6M353.9 423.7V520.3M305.1 472H402.6M376 423.7V520.3M305.1 450H402.6M398.2 423.7V520.3M305.1 428.1H402.6" stroke="#c8c8c8" stroke-width="0.75" fill="none"/>
<clipPath id="cl305_423"><rect x="305.1" y="423.7" width="97.5" height="96.6"/></clipPath>
<g clip-path="url(#cl305_423)"><g transform="scale(0.25)" fill="none" stroke-linejoin="round" stroke-linecap="round" stroke-width="3.4">
<path d="M1403 1899l-1 0-1-6 0-2M1408 1897l-1 2 4-7M1411 1892l4 5 0 3M1410 1901l0-1 0 1 3 1M1400 1900l3 2 3-5M1406 1897l1-1-1 0M1427 1890l-2-1-5-1M1410 1889l0 1 3-4M1413 1886l7 0 4-3M1411 1882l5-1-4 1M1412 1882l-2 2 3 4M1425 1880l-2-1 2 5 2-2M1408 1879l2-1 1-6-1 4M1418 1885l1 2-9 3M1414 1893l-3-1 6 1-1-7M1411 1887l0 0 1-2M1418 1898l-2 2 1 0" stroke="#fcf52f"/>
<path d="M1401 1891l0 2-2 0 2-2M1415 1900l6-3-1 4M1413 1902l-1 1 0-2M1406 1896l-1 3 5-2M1420 1888l2-1-5 1M1417 1888l4-3-5 0M1424 1883l2 0 6 4M1413 1888l-1-1M1427 1882l-2 1-2 2M1410 1876l-1-4 1-3-4-4M1410 1890l3-2 2 2-3-2M1416 1886l6 0-5 2 6-7M1412 1885l-2-1 0-2M1410 1882l1 2-3 0M1417 1900l-3 5 3-1M1417 1904l-1 0 0 1" stroke="#f5e153"/>
<path d="M1401 1891l0-4 0 0M1420 1901l-1 7M1419 1908l0-5 3 5M1412 1901l2 1-1-1 1 1M1410 1897l0 1M1410 1898l0-3 4 0M1416 1885l-2 1-1 0 2-2M1432 1887l-3-2 5 3M1434 1888l-1-3-1 7M1412 1887l3-2 1 0M1416 1885l0 1 1-1M1423 1885l0-2 3 1-2 2M1406 1865l3-6 5 0 3-2M1412 1888l-3 3-1 0-2-1M1406 1890l-1 0 2 4M1423 1881l0 1-4-1 1-2M1408 1884l3-3 0 0M1416 1905l-1 1 6 2 0 0" stroke="#eece6c"/>
<path d="M1401 1887l1-5-2-2-1 0M1422 1908l2 1 10 8M1434 1917l-3-6 3 5M1414 1902l-1-5-1 3 1-3M1414 1895l3 0 1-2M1418 1893l0 2-4 2M1415 1884l-2-4-3 0M1410 1880l-1-2 2 2M1432 1892l3-7 4-2M1417 1885l2-1M1419 1884l0 1 2 0M1424 1886l2 1-1 0 2 1M1417 1857l-2 1 1-1 2 1M1407 1894l0-3 1-1M1420 1879l1-4 1-3-1-1M1411 1881l1-1 1 0M1413 1880l-1-3 3 2M1421 1908l0-1-1 3M1420 1910l1 0 2 2" stroke="#e5bb80"/>
<path d="M1399 1880l-2-3-2 1 0-1M1434 1916l8-7-5 4M1413 1897l-6 2 1 1M1408 1900l-4-2-3 1 1 2M1414 1897l2 0-1-3M1411 1880l-2-3-1 4M1439 1883l-8 2M1431 1885l1-3-7 4M1421 1885l0-1 1 4M1422 1888l1-1 0-1M1427 1888l-2 0 2 1M1427 1889l-2 0 0 0 5 3M1418 1858l1 0-5 3 1-2M1408 1890l-2 2-1 3-1 1M1421 1871l-1 0 0-3-1-3M1415 1879l0-4-2 0 3-2M1423 1912l-2-1-1-2" stroke="#dba792"/>
<path d="M1395 1877l-1-2 0-1M1394 1874l-1-1-2 1 2 0M1437 1913l7-5M1444 1908l-1 1 0-1M1402 1901l2 5-1 1-1 0M1415 1894l-5 0M1410 1894l1 2-1-3M1408 1881l-2-3 3 0M1425 1886l1-2-7-1M1423 1886l-3 0-2-1M1430 1892l0 2-1-2 3 5M1415 1859l-1 3 0 0 1 1M1404 1896l-2-2 2-1 1 1M1419 1865l2-6-3 0 0 0M1416 1873l-1-1 2 0M1417 1872l0-1 1 0M1420 1909l1 0 0 0" stroke="#d094a2"/>
<path d="M1393 1874l-1 0-1 2 1 0M1443 1908l0-1 1 0M1402 1907l-3 1 1 0M1410 1893l-1 2-2-1M1409 1878l-2-1 1 1 0-1M1408 1877l-4 0-3-1M1419 1883l-1 4 0-1M1418 1886l2 7-3 1M1418 1885l0 2M1418 1887l0 1-2-8M1432 1897l-1 1 2-3M1415 1863l-1 2-2 1-1 0M1405 1894l-4 3-5-2M1418 1859l-2-5 0-2-1-3M1418 1871l1-2-3 2M1421 1909l-2 0 2-3-5 1M1416 1907l-1 1 1-2" stroke="#c381b1"/>
<path d="M1392 1876l3 1-4-1 2 0M1444 1907l1-3 3 4M1400 1908l-2 4 1 1 1-1M1407 1894l-5 2 1 1M1401 1876l1-1-2-1M1417 1894l4-4 1 4M1433 1895l3 0 3-3 0 1M1411 1866l-5-1 0-3 3 4M1396 1895l3 0-1 2M1398 1897l2-2-2 1 1 0M1415 1849l-4 2-4 0-2 6M1416 1871l5-1 0 1M1421 1871l1-1 0 1M1416 1906l2 0-1-1" stroke="#b46dc0"/>
<path d="M1393 1876l-2 1-2-1-2-3M1400 1912l0 1 0 0 0 1M1400 1874l-1 0 2-4M1439 1893l2-2-1 1-1-1M1409 1866l-4-1 0-2-2-3M1399 1896l-3-1-6-1-3 0M1405 1857l-1-8 2 1-5-4M1417 1905l-3-2-2-1" stroke="#a25ace"/>
<path d="M1387 1873l1-1 0 1M1400 1914l1-2-1 2M1439 1891l5-2 0 2M1403 1860l-6 1 2 0 0 0M1387 1894l-2 2-3-3M1401 1846l-1 3 2-4-6 0" stroke="#8c46dc"/>
<path d="M1388 1873l0 2-3-4-1-2M1400 1914l3 0 0 0 1 3M1444 1891l-2-2 3 3 2-3M1399 1861l-3 0 1-1 0-1M1396 1845l-1-2-2 0 2 0" stroke="#7030ea"/>
<path d="M1397 1859l0-3 0 3-1-3M1395 1843l-7 1-6-1 1-4" stroke="#4216f8"/>
<path d="M1388 1875h0M1385 1871h0M1384 1869h0M1403 1914h0M1403 1914h0M1404 1917h0M1442 1889h0M1445 1892h0M1447 1889h0M1397 1856h0M1397 1859h0M1396 1856h0M1387 1894h0M1385 1896h0M1382 1893h0M1388 1844h0M1382 1843h0M1383 1839h0" stroke="#1f00ff" stroke-width="5.2"/>
<path d="M1426 1880l1 2-7-1 1-2M1417 1894l-1 2 0-1M1416 1895l0 0 1 0M1429 1877l2 2 2 2-2-3M1414 1905l1 0-2 2 1-2M1418 1875l2 2-2-3 0 0M1423 1894l3 0-3-2 0-1M1420 1890l0-2 6 4 4 1M1416 1881l0 1-3-1 0 1M1416 1885l0 1-3 0 1 1M1414 1905l-3-5 6 3M1420 1885l0 2-1 1-1 1M1404 1873l-1-1-2-1 1 0M1416 1895l-5 3-9-1" stroke="#fcf52f"/>
<path d="M1421 1879l-2 0-3 4-7 3M1417 1895l-1-1-1 1M1431 1878l1 2 2 0 3-2M1414 1905l0-1 3 2 2 0M1418 1874l2-2 0 0 0-5M1423 1891l-2-3 0-1M1430 1893l-2 1 3 1 3 0M1413 1882l1 0-1 0-1 0M1414 1887l-5-1 2 2-2-3M1417 1903l-11 4-7-5M1399 1902l11 4-20-5 1 2M1418 1889l0 2-1-1-2 0M1402 1871l0 0 0-1 1 0M1402 1897l6 6-2-3 0 3" stroke="#f5e153"/>
<path d="M1409 1886l-3 0 3-2-2 0M1415 1895l-1 0M1414 1895l0-2-1 2M1437 1878l-1 0 2 0 0 0M1419 1906l2 1-1 0M1420 1867l-1 3 0-3-2-1M1421 1887l1-1 0-3 2 0M1434 1895l3-3 0 0 4 4M1412 1882l-1 2 0-1 0 1M1409 1885l-7-6-1 1 1 0M1391 1903l0 1-3-7M1415 1890l-1 1 1 1-1 0M1403 1870l1-2 0 0-1 1M1406 1903l1-3-1 0 7 3M1413 1903l-9-3 4 1" stroke="#eece6c"/>
<path d="M1407 1884l6-7-1-2-3-5M1413 1895l-1-5 1 0M1413 1890l-1-1-1 0M1438 1878l2-2 2 1-3-1M1420 1907l1-1-1 2 2-2M1417 1866l-2 0 0-2 0 3M1424 1883l1-2 0-2 7-2M1441 1896l0 0 2 1 0-1M1411 1884l-3-3-1 1 0 1M1402 1880l-1-6 0 3 1-2M1388 1897l-7 6 4-9M1414 1892l-2 0-2 1-1 0M1403 1869l3 0 1-2 0 0M1408 1901l1-1 9 1" stroke="#e5bb80"/>
<path d="M1409 1870l-5-1 2-6-1-3M1411 1889l-2-2 2 0M1439 1876l0 0 1-1-1-2M1422 1906l1 0 1 0 1-1M1415 1867l-1 0 1-2-1 0M1432 1877l0-1 0-1M1432 1875l1 2 0-1 2 0M1443 1896l0-1 2 4-3-1M1407 1883l-2-1 0-2-2-1M1402 1875l-3-1 4 0-1-1M1385 1894l-2 13 2 4-2-2M1383 1909l-4 1-1-3M1409 1893l-1-1 1 0-1 0M1407 1867l0-3 0-2-1-2M1418 1901l2-4 1 2-1-2" stroke="#dba792"/>
<path d="M1405 1860l4-1-3 0-4 0M1411 1887l-1 1M1410 1888l0 0-2-1M1439 1873l2-1-1 0 1-1M1425 1905l-1-1 2 1 0 2M1414 1865l-1 2 0-1 0-1M1435 1876l0-1 1 0 1-1M1442 1898l1 3-1-3 3 2M1403 1879l1-1 0 0-1-2M1402 1873l2-3 2-2-4-2M1378 1907l1-1-3 6M1408 1892l0 2 0 0-2 1M1406 1860l-1-1 4-1-1-1M1420 1897l1 1 2-3 2 5" stroke="#d094a2"/>
<path d="M1402 1859l-2 0 7-4-1-3M1408 1887l0 1-1 1M1441 1871l-2 2-1 0 0 0M1426 1907l0-3 1 0 1 1M1413 1865l-3 5-1-1 0 0M1437 1874l1-2 2-3M1445 1900l2-1 1 2-2-1M1403 1876l1 1-1-1 2-2M1402 1866l8 0-1 2 0-9M1376 1912l1-4 2-5M1406 1895l1-1-1 0-2 1M1408 1857l-2 0 1 0M1425 1900l-1-3-5 11" stroke="#c381b1"/>
<path d="M1406 1852l-4-2-7-6-6 5M1407 1889l-1 0 1 0M1438 1873l-1 1-1 0 0 0M1428 1905l-2 1 3 1 1 0M1409 1869l-2 2 2 1-3 0M1440 1869l0 0-1 0 0-4M1446 1900l2 0 5 0-3-3M1405 1874l-1 1 1-1-1-3M1409 1859l1 1-4-3 3 0M1379 1903l-6 0 5 2M1378 1905l-5 2-7 5-4 5M1404 1895l1 1-1-2-1 1M1407 1857l-1-2-1-1-2 0M1419 1908l-7-3 3 2M1415 1907l-7 3 2-4-3 1" stroke="#b46dc0"/>
<path d="M1389 1849l-3 1 2 1-14-7M1436 1874l-2 0 0 1-1-2M1430 1907l0 1 3-1 0 0M1433 1907l1 1 1-2M1406 1872l1 0 0 2 2 1M1439 1865l4 4 0-5-1 3M1450 1897l-1 1 5 1-4-1M1404 1871l0 0-1 1 1 0M1409 1857l5 0 0-2 0-1M1362 1917l5-5-5 6M1403 1895l0-1 0-1-4-2M1403 1854l0-2-1 1 0 0M1407 1907l1-11-6 1-1 2" stroke="#a25ace"/>
<path d="M1374 1844l0 5 3 1-3-3M1433 1873l1 2 0-1 0 1M1435 1906l-1-1 0 1 0 0M1409 1875l-1 0 0-1 1 1M1442 1867l2-4 2-1M1450 1898l5 0 2 0 2 1M1404 1872l-1-1 0-3 1 0M1414 1854l3-3 1-1 4-2M1399 1891l0-1 0-1 1 0M1402 1853l-1 0-2-1 2 1M1401 1899l-8 3-1-1" stroke="#8c46dc"/>
<path d="M1374 1847l-2 2-3 8-1 2M1434 1875l2-1-2 0 4-1M1434 1906l0-2 2-1 1-3M1409 1875l-1 1 5 0 1 1M1446 1862l-1 2 2-1 3-4M1459 1899l3-1-3 0 2 1M1404 1868l0-1-1 0 0-1M1422 1848l3-2-1-1 4-1M1400 1889l1-2 1 0 1-3M1401 1853l-1 2 1-2-1 1" stroke="#7030ea"/>
<path d="M1368 1859l-2-9 0 6-2 1M1438 1873l-1 1 2-1 2-1M1414 1877l-2 2 3-2 1 1M1461 1899l1-1 5 0 0-4M1403 1866l0 0 0 0 3-1M1428 1844l-3 2 3-4 2-2M1403 1884l-1 0 1 0 0 0M1400 1854l1 0 0 0 0 0" stroke="#4216f8"/>
<path d="M1366 1850h0M1366 1856h0M1364 1857h0M1437 1874h0M1439 1873h0M1441 1872h0M1434 1904h0M1436 1903h0M1437 1900h0M1412 1879h0M1415 1877h0M1416 1878h0M1445 1864h0M1447 1863h0M1450 1859h0M1462 1898h0M1467 1898h0M1467 1894h0M1403 1866h0M1403 1866h0M1406 1865h0M1425 1846h0M1428 1842h0M1430 1840h0M1402 1884h0M1403 1884h0M1403 1884h0M1401 1854h0M1401 1854h0M1401 1854h0M1401 1899h0M1393 1902h0M1392 1901h0" stroke="#1f00ff" stroke-width="5.2"/>
<path d="M1399 1905l-3 1 0-1-1 1M1434 1880l-2 0 0 1M1432 1881l1-1-2 2M1413 1893l-4 0 3 0M1407 1882l-1 6 2-1-2 3M1412 1889l5 5-3 4 4 3M1406 1890l3 3-16 0 3 1M1414 1882l5 2-3 1 3 1M1425 1888l-1 2-1-2 1 3M1417 1892l-1 3 0-1-2 0M1421 1887l2-3-4 8M1405 1885l2-1-6-1M1407 1890l1 1-2-3 0-1M1408 1902l1-1 1 0 1-7" stroke="#fcf52f"/>
<path d="M1395 1906l-4 2 2-1-2 2M1431 1882l0-1 0-1M1412 1893l6-5 1-2M1419 1886l0 1 0-3M1406 1890l0-2 1 2 0 1M1418 1901l-5 7-8-2-2-2M1396 1894l1 3-1-3M1419 1886l2-5 4-1M1424 1891l0 0 1 2M1414 1894l4-1-1 1 2 1M1419 1892l2 1 0-1-4 3M1417 1895l4 4-1 0M1401 1883l2 0-6-1M1397 1882l5 0-5-1M1406 1887l2 0-1-2 1-1M1411 1894l3 3-3-5 2-2" stroke="#f5e153"/>
<path d="M1391 1909l3-1-4 0 3 1M1431 1880l0 1M1431 1881l-1-3-1-1M1419 1884l1-2-4-1 1-1M1407 1891l5 1 3 5 0 0M1403 1904l-12 2-1-4-6 3M1396 1894l-10 1-7 6-1 0M1425 1880l0 2-1 0 1-5M1425 1893l-1 0 0 1 2-1M1419 1895l0 4 4-1-1 2M1420 1899l9 3-7-8M1397 1881l2-3 0-2-9 9M1408 1884l0-1 0-2 2 0M1413 1890l-5-4-2-3 3 1" stroke="#eece6c"/>
<path d="M1393 1909l0 3 0-2 2 3M1429 1877l-2-3 0 1M1427 1875l-2-2-1-1M1417 1880l-1-4-1-1M1415 1875l0 0 0-5M1415 1897l-2 0 2-3 0 0M1384 1905l5-2-6-1 1-6M1378 1901l6 1-2 1M1382 1903l-2-5 4 12 0-5M1425 1877l-1-3 2-3M1426 1871l3-4 0 0 2-7M1426 1893l-1 2 1-1M1426 1894l0-1 1 3 1 0M1422 1900l0 2-1 2 1 0M1422 1894l2 6 6 0 2-4M1390 1885l0-7-3-2M1387 1876l-6 2-6-2M1410 1881l-1 0 1-2-2 1M1409 1884l-4-1-5 11 2-2" stroke="#e5bb80"/>
<path d="M1395 1913l0 1-4 0 2 3M1424 1872l1 1 0 0M1415 1870l1-4-2 3M1415 1894l-1-7-4 4 0-2M1384 1896l-4 2 7-3-4-5M1384 1905l-4 3-1 4-1 6M1431 1860l0 0 0 2-1-2M1428 1896l1 0-1 0 3-1M1422 1904l-2 3-1-1 1-1M1432 1896l-3 14-1-1M1375 1876l0 4 1-2M1408 1880l0-2-1 0 1-1M1402 1892l1 1 1-4-3 4" stroke="#dba792"/>
<path d="M1393 1917l-3 3-2-3 0 0M1425 1873l-2-1M1423 1872l0 1 1 1M1414 1869l4-1-2 2M1410 1889l-2 0-1 1-2-2M1383 1890l9-5 4 8 8-4M1378 1918l-4-1 2-2M1430 1860l5-3-4-5M1431 1895l0-1 1-2M1420 1905l-1-1-2-2-5 1M1428 1909l5-3 3 2M1436 1908l6 0 4 4 0-8M1376 1878l-10 2 4-8M1408 1877l-1-1-2 0 1 0M1401 1893l-2-2 1 8-2 9" stroke="#d094a2"/>
<path d="M1388 1917l-3-3-1 1-1-5M1424 1874l-3-1-1-1M1416 1870l5-1-1-1 5 2M1425 1870l1 3 7-3M1405 1888l-7-3-2 0 2 0M1404 1889l1 4 6-6 0-5M1376 1915l0 1-10 7 7 1M1431 1852l2 2 4 0-3-4M1432 1892l2 2-2-2 1 0M1412 1903l-3-1-4 6-1-5M1446 1904l-2 2 7 5M1370 1872l-9 0 2 4 1-5M1364 1871l2-5-3-1M1406 1876l-1-2-1 0M1398 1908l0-5-6 5 2-4" stroke="#c381b1"/>
<path d="M1383 1910l-2-5-1 0-5 1M1420 1872l1 0 0 1M1433 1870l0 3-3 2M1398 1885l1-3-4 0 2-1M1411 1882l0-7 3-7 0 0M1373 1924l-7 11 0-2M1434 1850l3 0 3-8M1433 1892l-1-1 0 1M1404 1903l-2 7 0 0 4 2M1451 1911l6-5 0 2M1363 1865l1-3-1-4M1404 1874l1 0 0-1 1-1M1394 1904l-1 3-3-2 4 0" stroke="#b46dc0"/>
<path d="M1375 1906l2-2-5-2 2-2M1430 1875l8 2 1 2M1397 1881l-5-4-2-1 1-1M1414 1868l-7 3-1-3-3 0M1366 1933l0 0-6 7 3 5M1440 1842l5 1 7-3 1 1M1432 1892l2 0 0 3 1 0M1406 1912l1 1 1 0 2 1M1457 1908l-6-2 15 1 5-4M1471 1903l2-6-4-8M1363 1858l0 1-4-2M1406 1872l0 0 0-1 1-1M1394 1905l-1-1 4-4 4-6" stroke="#a25ace"/>
<path d="M1374 1900l-1 2 1 2-6-1M1391 1875l-1 1 3-2-10 3M1403 1868l-6-3 3 3-2-6M1363 1945l-1 2-2-1M1360 1946l-1 2 3 0 3 1M1453 1841l7-2 6-5M1466 1834l-2 2 0-5 3 0M1435 1895l0 1 1-1M1436 1895l2 0 0 0 0 3M1410 1914l2 0 2-3 0-1M1407 1870l1-1 0 0-1-2M1401 1894l6 3-8-5 6 1" stroke="#8c46dc"/>
<path d="M1368 1903l1 0 1 2 0 4M1383 1877l1 6-3-1-2 2M1398 1862l-1 3-13 5 8-2M1414 1910l7 5-4-2 5-1M1407 1867l-1 2 1-2 0 0M1405 1893l-1-2 8 3 2 1" stroke="#7030ea"/>
<path d="M1370 1909l-3-2-2 1 3-7M1379 1884l-2-1 3 4-1-1M1392 1868l-13 4-1 5-3-7M1422 1912l-1 2 1-1 0 1M1407 1867l-3 1 0-1-2 1M1414 1895l2 5 2 1 0-1" stroke="#4216f8"/>
<path d="M1367 1907h0M1365 1908h0M1368 1901h0M1377 1883h0M1380 1887h0M1379 1886h0M1379 1872h0M1378 1877h0M1375 1870h0M1359 1948h0M1362 1948h0M1365 1949h0M1464 1836h0M1464 1831h0M1467 1831h0M1438 1895h0M1438 1895h0M1438 1898h0M1421 1914h0M1422 1913h0M1422 1914h0M1471 1903h0M1473 1897h0M1469 1889h0M1404 1868h0M1404 1867h0M1402 1868h0M1416 1900h0M1418 1901h0M1418 1900h0" stroke="#1f00ff" stroke-width="5.2"/>
<path d="M1409 1881l3-1 1 2M1407 1875l-3 6 6-2-3-1M1433 1886l0 2 0 0M1425 1883l-4-4 3 1M1414 1889l-2-1 1 2-2-3M1418 1889l0 0 2-2 3 0M1419 1888l1 1 0-1 0 0M1414 1908l-4 3 0 1 1-1M1410 1899l7-5-4-2M1407 1879l-1-1-4 1-3 3M1422 1887l-6 2 4 4M1409 1884l1-2-1 2M1409 1881l0-2 7 0" stroke="#fcf52f"/>
<path d="M1413 1882l0 0 2 0M1415 1882l0 3-1-2 3 0M1407 1878l1-3 2-9-2 0M1433 1888l0 0-9-1 1 4M1424 1880l0-3 0-1M1424 1876l-2 1 1-2M1411 1887l-2 3 0-1 0 2M1423 1887l3-1-2-4 0 2M1420 1888l0 0 1 1 1-2M1411 1911l-4 0-9 2-4 4M1413 1892l11-2-3 0 6-4M1399 1882l1-2-4 5 4-1M1420 1893l-2-10-2 8 4-3M1409 1884l3 3 0 0M1412 1887l-1 3 2-1M1416 1879l-2-2 0 4M1414 1881l-1 0-1 0" stroke="#f5e153"/>
<path d="M1417 1883l1-6-3 0M1408 1866l-5-1-6-3M1425 1891l1 0-1 7M1425 1898l2-6 2 7-6-1M1423 1875l1-4-2-6M1409 1891l-1 0 0-1-1 1M1424 1884l1-1 1-1 5-1M1422 1887l-1-1 0 1 1-3M1394 1917l-2 2-6 0-2-4M1427 1886l-3-3 4 4M1428 1887l3-6 0 0 1-1M1400 1884l-3-4-1 3-3 2M1420 1888l0 5 2 3 1-2M1423 1894l2 4 8 7M1413 1889l0 1 0 1M1412 1881l-1 0-2 1" stroke="#eece6c"/>
<path d="M1415 1877l0-4 1 3M1397 1862l-2 0-9-9 3 2M1423 1898l-1-1-1-6M1422 1865l-2-3 1 0M1421 1862l0-2 1-1M1407 1891l0 1 0 2-1 1M1431 1881l0 2 1 0 7 3M1422 1884l0 0-1 0 1-1M1384 1915l-3 2 0 2-2-2M1432 1880l4-1 5 3M1393 1885l1 0 0 3-2 0M1433 1905l3-1-3 0M1413 1891l1-1 1 1M1415 1891l0-1 0 1M1409 1882l0 3-2 1M1407 1886l2-1 3 4" stroke="#e5bb80"/>
<path d="M1416 1876l-2-3 2-2-1-2M1415 1869l1 1-2-1M1389 1855l1-4-6-1 8-1M1421 1891l-1 4 2 1M1422 1859l-3-2 2 0M1406 1895l0 1 1 0-1 0M1439 1886l-1-2-1 0 3 3M1422 1883l0-2 2 1-1-1M1379 1917l-2 5-2 2 0-8M1441 1882l-3-5 3 2M1392 1888l-5 4 3-2-1 6M1433 1904l-1-6 4 3 5-3M1415 1891l0-3 5 2 0-3M1412 1889l-3 2 0-1 1 0" stroke="#dba792"/>
<path d="M1414 1869l2-2 1-5M1392 1849l-8 4-4-10 3-3M1422 1896l-7-6-3 1 2 0M1421 1857l1-6 0 3M1422 1854l-1-4 1-1M1406 1896l2 1-2 0-2-1M1440 1887l4-3-1 2 1 3M1423 1881l0-1 0 1 0-1M1375 1916l5 8-5-3 1 2M1441 1879l6 1 1 4 1-5M1389 1896l-4 1 1-1-4 6M1441 1898l4 0 6 4 4 0M1420 1887l0 3-1 1M1419 1891l2-1-1-3M1410 1890l2 4-1 0M1411 1894l-1 1 1 3" stroke="#d094a2"/>
<path d="M1417 1862l1 0-2-1M1383 1840l-10-3 5-7-9 1M1414 1891l-3-4-1-5M1410 1882l-5 0 3-1-2 1M1422 1849l3-2-2 1M1423 1848l-1-3 2 0M1404 1896l-1 0-1 1-3 1M1444 1889l0 1 2 0 0 0M1423 1880l-1-1 0 1 0-1M1376 1923l8 6-2 4 7 4M1449 1879l7 1-3 1M1453 1881l4 4 2 2-1 3M1382 1902l-2-3 2 0M1455 1902l6 8 5-4M1420 1887l-1 2 0 2M1411 1898l0-3 2 3" stroke="#c381b1"/>
<path d="M1416 1861l3 1 1 0M1420 1862l2 0-1 2 1-4M1369 1831l6-3 0-4-1-6M1406 1882l0 0 2-2M1424 1845l-3-5-2 1M1399 1898l0-2 0 1-3-1M1446 1890l-1 0 4 4 2 2M1422 1879l0-2 1 0 0-1M1389 1937l5 5 2-6 2-10M1458 1890l-1-6 0 2M1382 1899l-9 0 0 2-2 1M1466 1906l0 10-3-6M1463 1910l4-1-3 3-3 10M1419 1891l3-2-4 2M1418 1891l2 0-1-2M1413 1898l-1 1 0 1M1412 1900l-3 5 1-3" stroke="#b46dc0"/>
<path d="M1422 1860l2 1 1 1M1374 1818l-4-2-11-9 2-1M1361 1806l6 0-6-10M1408 1880l-4-5 0 1 2-6M1396 1896l2 1-2-1-3 1M1451 1896l-1 0-3 0 1 0M1423 1876l2-1 0-1 0-1M1398 1926l-6 2 7-9 4 4M1457 1886l4-3 1-1-1-3M1371 1902l1-1-3 0-1 2M1461 1922l-4 5-2 2 7 3" stroke="#a25ace"/>
<path d="M1361 1796l7-9-2 0 5-1M1406 1870l1-4-1-5M1393 1897l0-1-3-2 0 1M1448 1896l1 1-2 0-3-1M1425 1873l0 1 1-1 0 0M1403 1923l0-2 8 1-7-3M1461 1879l-1-1-2-3M1368 1903l-1 7-3 0 1 2M1462 1932l-2 1-9-2" stroke="#8c46dc"/>
<path d="M1371 1786l1 1 1 3-2-4M1390 1895l2-1-1 0-1-1M1444 1896l2 2-2 1-4-2M1426 1873l0 0-1 0 1 0M1404 1919l6 1 5 0 3 0M1365 1912l0 1-3 2 0 0" stroke="#7030ea"/>
<path d="M1390 1893l0-1-2 1 0 0M1440 1897l0 2-3 3-1 1M1426 1873l-3 0 0 1-1 0M1418 1920l6 2 0-5 3-3M1362 1915l0 1-3 3 2 1" stroke="#4216f8"/>
<path d="M1372 1787h0M1373 1790h0M1371 1786h0M1406 1870h0M1407 1866h0M1406 1861h0M1390 1892h0M1388 1893h0M1388 1893h0M1440 1899h0M1437 1902h0M1436 1903h0M1423 1873h0M1423 1874h0M1422 1874h0M1424 1922h0M1424 1917h0M1427 1914h0M1461 1879h0M1460 1878h0M1458 1875h0M1362 1916h0M1359 1919h0M1361 1920h0M1462 1932h0M1460 1933h0M1451 1931h0" stroke="#1f00ff" stroke-width="5.2"/>
</g></g>
<path d="M305.1 423.7V520.3H402.6" stroke="#8a8a8a" stroke-width="0.9" fill="none"/>
<path d="M303.1 515.9H305.1M309.5 520.3V522.3M303.1 494H305.1M331.7 520.3V522.3M303.1 472H305.1M353.9 520.3V522.3M303.1 450H305.1M376 520.3V522.3M303.1 428.1H305.1M398.2 520.3V522.3" stroke="#4d4d4d" stroke-width="0.7" fill="none"/>
<text x="302.1" y="518.9" font-size="8.2" text-anchor="end" fill="#222" font-family='"Liberation Sans", sans-serif' >-200</text>
<text x="309.5" y="528.5" font-size="8.2" text-anchor="middle" fill="#222" font-family='"Liberation Sans", sans-serif' >-200</text>
<text x="302.1" y="496.9" font-size="8.2" text-anchor="end" fill="#222" font-family='"Liberation Sans", sans-serif' >-100</text>
<text x="331.7" y="528.5" font-size="8.2" text-anchor="middle" fill="#222" font-family='"Liberation Sans", sans-serif' >-100</text>
<text x="302.1" y="475" font-size="8.2" text-anchor="end" fill="#222" font-family='"Liberation Sans", sans-serif' >0</text>
<text x="353.9" y="528.5" font-size="8.2" text-anchor="middle" fill="#222" font-family='"Liberation Sans", sans-serif' >0</text>
<text x="302.1" y="453" font-size="8.2" text-anchor="end" fill="#222" font-family='"Liberation Sans", sans-serif' >100</text>
<text x="376" y="528.5" font-size="8.2" text-anchor="middle" fill="#222" font-family='"Liberation Sans", sans-serif' >100</text>
<text x="302.1" y="431" font-size="8.2" text-anchor="end" fill="#222" font-family='"Liberation Sans", sans-serif' >200</text>
<text x="398.2" y="528.5" font-size="8.2" text-anchor="middle" fill="#222" font-family='"Liberation Sans", sans-serif' >200</text>
<text x="353.9" y="419.4" font-size="8.2" text-anchor="middle" fill="#1a1a1a" font-family='"Liberation Sans", sans-serif' >DKO/p85β-wt</text>
</g>
<text x="353.9" y="538.6" font-size="8.2" text-anchor="middle" fill="#1a1a1a" font-family='"Liberation Sans", sans-serif' >x (μm)</text>
<g>
<path d="M440.4 423.7V520.3M424.9 504.9H522.4M462.6 423.7V520.3M424.9 483H522.4M484.7 423.7V520.3M424.9 461H522.4M506.9 423.7V520.3M424.9 439.1H522.4" stroke="#e4e4e4" stroke-width="0.6" fill="none"/>
<path d="M429.3 423.7V520.3M424.9 515.9H522.4M451.5 423.7V520.3M424.9 494H522.4M473.6 423.7V520.3M424.9 472H522.4M495.8 423.7V520.3M424.9 450H522.4M518 423.7V520.3M424.9 428.1H522.4" stroke="#c8c8c8" stroke-width="0.75" fill="none"/>
<clipPath id="cl424_423"><rect x="424.9" y="423.7" width="97.5" height="96.6"/></clipPath>
<g clip-path="url(#cl424_423)"><g transform="scale(0.25)" fill="none" stroke-linejoin="round" stroke-linecap="round" stroke-width="3.4">
<path d="M1898 1890l-1 1 0-2M1902 1896l1 0 1 0-2 0M1887 1895l-1 2 1 1 5 6M1900 1889l4-2-3 4 1 2M1907 1889l4 0 4 1M1897 1884l-7 8-1-6-1 7M1904 1888l-2-5 5-1 1 5M1888 1899l-5-6-7 11-1 3M1898 1881l0 0 3 0M1901 1881l0 2 7-2M1896 1889l2 10 1-9M1899 1890l2 10-8-1M1899 1873l-5 0 4 1-1 7M1895 1898l2-8 1-3 1-8M1897 1883l-3-3-2 6M1898 1882l-1-1-1 3M1896 1884l-2-2-4 6M1902 1890l-4-5 3-6-2-1M1890 1903l0-3 3-2M1893 1898l-4-3 0-1M1889 1879l3 0-1-3M1884 1889l-4 4-2-8M1891 1887l1-1-6-5M1899 1887l7 3 7-1-7 1" stroke="#fcf52f"/>
<path d="M1897 1889l0 3 1-2 0 1M1902 1896l3 0 1-1 1 1M1892 1904l1 3 7 8M1902 1893l6-4-1 0M1915 1890l6-5-3 1-10 9M1888 1893l-4-8-2-3M1908 1887l0-10 5 2-1-2M1875 1907l-17-4 3 1M1908 1881l-1-5-3 5M1893 1899l-3 9 8 0M1897 1881l-2 2 1 2-1 3M1899 1879l1-3 6 5-6-6M1892 1886l1-3 3-3 0 5M1890 1888l-7-2 2 3M1899 1878l0-5 3-6-5 3M1889 1894l5 3-7-6M1891 1876l9 3 20-12M1920 1867l-6 2 5-3M1878 1885l-5-3 0-3M1873 1879l-10 3-5-2M1886 1881l-1-1 1-4M1886 1876l0 1-3 1-2-1M1906 1890l-1-4-2 3 15 4" stroke="#f5e153"/>
<path d="M1898 1891l-1 1 2 0 2-1M1901 1891l0 0 0 0M1907 1896l-1 4-1 5 2 1M1900 1915l3 4 0 6 5-5M1907 1889l0 4 7-2-1 5M1908 1895l2-1-6 7 6 0M1910 1901l-9-14 2 5M1882 1882l5 9-12-2 9 4M1912 1877l-4-2 2-3 1 0M1861 1904l-3-1-4 6-5 12M1904 1881l7-2M1911 1879l-3-1 1-3M1898 1908l-5 1-4 12M1889 1921l0-8 1 10M1895 1888l-2-2-2 5-6 6M1900 1875l12-2-8-5M1896 1885l-5 2-1 1-4 2M1886 1890l4-3 1 0M1885 1889l-1 0 10 5M1894 1894l-2 1 3 5M1897 1870l2-7-1 1-8-2M1887 1891l4-10M1891 1881l5 1-2-5M1919 1866l4 2-1-7M1858 1880l-2-4-1 12 0-7M1881 1877l2-1-3-3M1918 1893l-14 0 2-3-8 5" stroke="#eece6c"/>
<path d="M1901 1891l0 0 2-1M1907 1906l0 2 1 3 0 1M1908 1920l-3 3 3 4 3-2M1913 1896l-3-1 2 3 1 10M1903 1892l-3-1-10-2M1884 1893l-9-2 2-12-2 3M1911 1872l7-13 2-4-2 4M1849 1921l1-1 1-3M1851 1917l0 6 1-4-3 15M1909 1875l5 6 4-4M1918 1877l4-8-3 0M1890 1923l6 0-3 1M1885 1897l1-3-8 2 4 3M1904 1868l-1 0 7-7-4 1M1891 1887l2 2-1 3M1895 1900l3-6-4 2M1890 1862l-1-2 6 0-15 11M1894 1877l1 9-1-6M1894 1880l6-2 11 5M1922 1861l12-10-7-11M1927 1840l1-7-9 3M1855 1881l-7-8 3 3M1851 1876l-5 2-7-6M1880 1873l1 0 3-1M1898 1895l1-1-5-15-3-3" stroke="#e5bb80"/>
<path d="M1903 1890l0 0 1 1 1 0M1908 1912l1-2 2 0 1 0M1911 1925l-1-3-1-3M1909 1919l4 2 4-5 10 1M1913 1908l3 0 0-5M1916 1903l7 7 0-10 5 1M1890 1889l2 7 9-6-18-5M1875 1882l-3-9-1 4M1871 1877l0-5-9-6-1-7M1918 1859l3 0 5-2 3-4M1849 1934l8 1-1 6-6 4M1919 1869l6-1 5 2M1893 1924l1-2M1894 1922l0 2 6 5M1882 1899l-4 3 2 2 0 0M1906 1862l-6-5 1-2 0-1M1892 1892l-1 1-1-8 0 7M1894 1896l3 1M1897 1897l3-6 5 2M1880 1871l0-6-4 0 0-2M1911 1883l2 8-6 4M1919 1836l0-13-10-1M1839 1872l-4-1 11-2M1884 1872l6-6 5 2 2-8M1897 1860l-1 1 10-3M1891 1876l-7 7-10-10 5 7" stroke="#dba792"/>
<path d="M1905 1891l0 0 1 1 0 0M1912 1910l-1-4 0 1-1-4M1927 1917l-10-2 6-1-4-6M1928 1901l5-1 6-5-6-1M1883 1885l3-4-20 12 2 10M1861 1859l-13 9-1-9 5-2M1929 1853l12-3 6-5 0-14M1850 1945l1-3 0 8M1930 1870l-1 1M1929 1871l2 6 1-6M1900 1929l0 8 0 1M1880 1904l-5-1 1 5 1 1M1901 1854l-1-4-9-13M1891 1837l-2-7-7 0-2-1M1890 1892l0 1-5 3-3-2M1905 1893l2-2-2-3M1876 1863l-3-5 1 0-5 4M1907 1895l-5 1M1902 1896l-4 6 11 0M1909 1822l-4-18-6-3M1899 1801l-16-2-8 1M1846 1869l-5-2 6-12M1906 1858l1-3 6-1M1879 1880l-9-11 7 1-6 3" stroke="#d094a2"/>
<path d="M1906 1892l0 1 1 1M1910 1903l0 0 1-3 1-4M1919 1908l-2 2 5-7M1933 1894l8-2-4-2M1868 1903l1-12 1 5M1852 1857l2 1 0-6M1947 1831l0 0 7-1 4 6M1851 1950l5-9-5 6 7-7M1932 1871l-3 4 9-1M1900 1938l10 2-9-3M1901 1937l-3 9-1 5M1877 1909l0 4-3 0-3-6M1880 1829l1 3-1-8-5 1M1882 1894l3 2-3 8M1905 1888l0 2 3-6M1908 1884l-5-2-1 0M1869 1862l-14-6 15 1-8 0M1909 1902l-8-2-3 0M1875 1800l2 3-3-6M1874 1797l-1-1-26 4M1847 1855l4 6 14-1 5-13M1870 1847l0-7-2-4M1913 1854l-3-3 2-3M1871 1873l6-10-8 2-7-15" stroke="#c381b1"/>
<path d="M1907 1894l-1 1-1-1M1905 1894l2 1-1 1 1 0M1912 1896l0 1 2-1-2-1M1922 1903l-1-3 1-3 4-6M1937 1890l0-2-1-1 8 0M1870 1896l-4 4-5 0M1861 1900l1 0-3 10 2 0M1854 1852l-2 6-3-8 11-4M1958 1836l7-1 1-2 0-1M1858 1940l16 8-1 2M1938 1874l-1-4 3-1M1897 1951l7 5 2-1M1871 1907l-2 1-1 3 0-4M1875 1825l-4 2 2 5-2-2M1882 1904l-4-3-9 5M1869 1906l-4 0 2-2-1-2M1902 1882l8-7 0-3M1862 1857l-3-1-2 7 20 4M1898 1900l2 2-7 0M1847 1800l6-4 1-10M1868 1836l-1 3 16 1M1912 1848l-1-3 1 2M1912 1847l4-1 4 1 1-2M1862 1850l-8-4-6-8-5 2" stroke="#b46dc0"/>
<path d="M1907 1896l-1 0-1 1 2-1M1912 1895l0-1 1-1 6-3M1926 1891l-5 2-5-6 4 3M1944 1887l-7 0 5-8 3 3M1861 1910l3 13 1 14-14-4M1860 1846l8 3-3-1 11-6M1966 1832l2 8-4 1-2 8M1873 1950l3 1 3 6 0 5M1868 1907l0 4-6-3-13-2M1871 1830l0 2 0 9 4 7M1866 1902l-3 4 4-3 4-2M1877 1867l-5-3 1-2 11 0M1883 1840l-5 1 9 3M1921 1845l-2 3 6-8M1843 1840l2-6 1-6-13-20" stroke="#a25ace"/>
<path d="M1907 1896l0 0 0 1M1919 1890l-3-1 2-1 0 0M1920 1890l-1-3-5-6M1945 1882l-2-2-1-2M1851 1933l-5 4-8-11M1876 1842l-2 1 2 13M1962 1849l6 0-5 9 7-1M1879 1962l4 5 7 0M1890 1967l-6 4 4 6 8-1M1849 1906l-5-9 0 4-7-2M1875 1848l-3 5-5-3M1871 1901l-2 0-5-1M1884 1862l1 7-4 8-1-5M1833 1808l-1-2 7-7-9 12" stroke="#8c46dc"/>
<path d="M1918 1888l2 0-1-1 2 3M1914 1881l-6 2 4 0 1 2M1942 1878l1 2 2 4 1 4M1876 1856l9-9 3 6 10 0M1970 1857l-4 1-3-5 10 2M1837 1899l8 6-2-1-5 3M1867 1850l3 2-1 2 4 2M1880 1872l14-5-4 5 6 1M1830 1811l1-21 0-2-7-2" stroke="#7030ea"/>
<path d="M1921 1890l1 3 0-1 0 4M1973 1855l1-4 4 1-4 5M1838 1907l-4 0 0 2-6-1M1896 1873l3 3 1-2 10 7M1824 1786l5-15-5 10 4-9" stroke="#4216f8"/>
<path d="M1907 1896h0M1907 1896h0M1907 1897h0M1922 1893h0M1922 1892h0M1922 1896h0M1908 1883h0M1912 1883h0M1913 1885h0M1943 1880h0M1945 1884h0M1946 1888h0M1851 1933h0M1846 1937h0M1838 1926h0M1885 1847h0M1888 1853h0M1898 1853h0M1974 1851h0M1978 1852h0M1974 1857h0M1884 1971h0M1888 1977h0M1896 1976h0M1834 1907h0M1834 1909h0M1828 1908h0M1870 1852h0M1869 1854h0M1873 1856h0M1871 1901h0M1869 1901h0M1864 1900h0M1899 1876h0M1900 1874h0M1910 1881h0M1829 1771h0M1824 1781h0M1828 1772h0" stroke="#1f00ff" stroke-width="5.2"/>
<path d="M1898 1905l0 0 6-8-1 5M1888 1893l-12-8-4 11M1908 1893l3 2 3-2M1883 1891l-1-2-8-2 7-8M1909 1890l11-3-11 6M1887 1884l-3-2 3 1M1887 1883l1 11 1-5M1890 1883l-1-4 3 0 3 2M1882 1881l7-1 0-10 6-6M1906 1898l-1 2-5-2 1 0M1903 1891l-1-3 4-3M1906 1885l3-3 3 2M1885 1893l-1-3 1 0M1893 1895l-10 1-1 2M1882 1898l6-9-6-4M1902 1886l-1 1 0 2M1895 1901l2-2 1-1 6-2M1891 1894l-3 0 11-3M1899 1891l1-2 4 3M1903 1875l7-4 3 0M1904 1894l5 4 4 9 6 7M1888 1879l0 3-5-3 3 7M1895 1887l-4-1 3 4-1 6M1895 1875l11 2-4-7 3 5" stroke="#fcf52f"/>
<path d="M1903 1902l-2 12 1-9-1-3M1872 1896l6-11-16 1M1862 1886l-5-3 5 7M1914 1893l1 5 0 0M1915 1898l-2 5 1 0 0 0M1881 1879l1-3 5-3 1-2M1909 1893l5-5 6 4M1920 1892l-2-5 6 6M1889 1889l-8 7-4 5M1895 1881l7-3 3 3-5-1M1895 1864l-4-1 2 2M1901 1898l-4-5 1-1-7 1M1912 1884l-1-5 0-3M1885 1890l-4 4 2-2M1883 1892l-2 1 1 1-3 1M1882 1885l0-10-15-2M1901 1889l-2-2 1-1M1900 1886l0 3 4-2-1 0M1904 1896l6 3-8 8 7-14M1904 1892l7-9 1 4M1913 1871l5-2-11-1M1907 1868l2 1 1-7-3 8M1919 1914l-3-2 8 11-5 2M1886 1886l-5-1-1-2-1 3M1893 1896l1-4 0 3M1905 1875l6-10 10-13 3 5" stroke="#f5e153"/>
<path d="M1901 1902l1 2 5 0-1 11M1862 1890l-2-8-10 7 1 0M1914 1903l0-2-2-4M1888 1871l5 0 1-9 3-4M1924 1893l-2 1 6-3M1877 1901l-1-4M1876 1897l-2 2-5-1M1900 1880l6-5 0 2M1893 1865l8-4-9-7 4 3M1891 1893l0-4-2-1 3 1M1911 1876l7-5 9-9M1927 1862l-2-1 2 4M1879 1895l4 2 3 2M1867 1873l3-2 6-2M1876 1869l-5-11 9 4M1903 1887l2-2-1 2M1909 1893l-1-2 2-11M1912 1887l-2 2 13-4M1923 1885l-5-6 0 9M1907 1870l7-8-3-2M1919 1925l8 4-5-9-1 6M1879 1886l-8 9-10-3 8 2M1894 1895l6 4 4-3 1-2M1924 1857l-4-16 0 6 4-13" stroke="#eece6c"/>
<path d="M1906 1915l3-11 2 5 5 5M1851 1889l5 3-16 3M1840 1895l4-3-10-4M1912 1897l-1 1-4-6M1897 1858l-5-4-6-5 1 2M1928 1891l-4 5 3 0M1927 1896l0 2 4 1M1869 1898l-2 2-2 2M1865 1902l4-2-1 4M1906 1877l6 5-5 1 7 0M1896 1857l5-1-7-11M1894 1845l11 3-8-6-14-10M1892 1889l-7-2 4-1-1-2M1927 1865l2-4-2-2M1886 1899l-2 5-3-2M1880 1862l0 13 18-8M1904 1887l0-3 2-3M1910 1880l6-6-1-16 0 3M1918 1888l-3-7 1 7M1911 1860l2-2 3-9M1921 1926l-6-2 3 5-14-22M1869 1894l-6-2 1 1-5 2M1905 1894l-5 11-5 5M1895 1910l-4 2-2-3 3 12M1924 1834l2-6 4-5 2 0" stroke="#e5bb80"/>
<path d="M1916 1914l3 4-2 1 5-1M1834 1888l-1-6-10-3M1907 1892l-1-2-3 1 0-3M1903 1888l-2 0 1-3M1887 1851l-7-8-4-2-3-2M1931 1899l-5 3-2 0M1868 1904l-3 5-4-2M1914 1883l-1-2-5 2 5-2M1883 1832l6 1 1-8-3-15M1888 1884l-3 2 1-4 2-5M1927 1859l5 6M1932 1865l6-6 6-2M1881 1902l2 1 6 8-4 0M1885 1911l-4 2-1 1M1898 1867l-13-6M1885 1861l14 4 7 7M1906 1881l4-1 0-1 2-1M1912 1878l3-2 3 2M1915 1861l5-4-4-7 10-6M1916 1888l1-3M1917 1885l1 2-1 11M1916 1849l1 1 2 3 0-8M1919 1845l7-1-1 0M1904 1907l1 9 7-5-9-13M1859 1895l1 2 2-8-6 3M1892 1921l-7-7-6-6-6 0M1932 1823l-3 5-3-9 4-9" stroke="#dba792"/>
<path d="M1922 1918l0 6-2-4 14-6M1823 1879l-1 1-2 11M1902 1885l2 1-4 1M1873 1839l2 2-1-12-4-3M1924 1902l-7 6-1 5M1916 1913l1 7-11-6M1861 1907l-4 5M1857 1912l-5-1-5 3M1913 1881l3-3 1-4 1 0M1887 1810l1 9 1-12M1888 1877l6 3-2-4 3 1M1944 1857l6 0-6 3M1880 1914l0 4-3 3M1906 1872l-3-13 9 5M1918 1878l-1-1 3-1M1926 1844l-5-5 11-3 3-17M1917 1898l2-3-9 6M1925 1844l0-2-2 5M1903 1898l3 11 6-7 9-6M1856 1892l2 3 3-5-2 7M1873 1908l-1-2-2-6M1930 1810l0-9 4 4 1 5" stroke="#d094a2"/>
<path d="M1934 1914l-2 0 4-2 0-2M1820 1891l0-1-6-3-5-5M1809 1882l5 9 2 1M1900 1887l-1-3 3-1M1870 1826l-1-9-8-3 1 1M1906 1914l5 8-4-3M1907 1919l2 3 0 7M1847 1914l3 10-5-4M1918 1874l3 3 2-2 3-2M1889 1807l-4 4 2 4-6-14M1895 1877l1-7 1 1M1944 1860l3 2 0 1M1947 1863l-8 1 3 3M1877 1921l0-2-3 1M1912 1864l-9 5 5 8M1908 1877l5-10-3 6M1920 1876l-3-1 3 1M1935 1819l-2-2 2-6-4 0M1910 1901l-6 1-5 4M1899 1906l-2 1-1 2M1923 1847l-2-6 4-6M1921 1896l-13-4-5-12M1859 1897l5 3 8 4-8 5M1870 1900l4 5-6 0 8-5M1935 1810l-3-6 2 3-12-11" stroke="#c381b1"/>
<path d="M1936 1910l5-3 1-3 8 6M1816 1892l8-1 2-6M1902 1883l-3-2-2 5M1897 1886l-2-1-1 1 0-2M1862 1815l4-6-7 1-1 4M1909 1929l-1-1-2 5M1845 1920l6 2 0-1M1926 1873l1 4 6 0 2-3M1881 1801l4-2-10 2M1897 1871l6-8 0-1 3-1M1942 1867l-2 2 2-5M1874 1920l4 1 0 0M1878 1921l1-1-4 2-4-3M1910 1873l22-3 7 7M1920 1876l0 0 0 0M1920 1876l1 0-2 1 1-3M1931 1811l2 5 1-4 1-6M1896 1909l2 2-5 4M1925 1835l1-2-2-3M1924 1830l1 2-2-2-2-1M1903 1880l-7-13 6-7-1 3M1864 1909l0-2-1 0 3 0M1876 1900l-10-10 6-2M1922 1796l3 4 2-12-3 0" stroke="#b46dc0"/>
<path d="M1950 1910l1-11 4-10 8 3M1826 1885l2-14 9 13M1894 1884l-2-1-2 0M1858 1814l-1 0-3-8 5 20M1935 1874l3-5 6 9 2-4M1946 1874l0-3-4 5M1875 1801l-21-15 1 3-11 1M1906 1861l0 1 3-11 1-1M1871 1919l-1-3 1 1M1920 1874l3 0 1-1M1935 1806l2-8 0 1 0-13M1937 1786l-3-1 9 5M1921 1829l-1-1-15-16M1901 1863l-4-15 4 3 10-12M1866 1907l-5 7-12 8-1 7M1872 1888l-9-3-4-3 2-8M1924 1788l12 1-6-6-13-4" stroke="#a25ace"/>
<path d="M1963 1892l6-5-8-7 12-6M1859 1826l1-4-1 4 0 2M1942 1876l9-3-1 7 2 3M1844 1790l6-1-5 9M1845 1798l-2-3-13 8 6-1M1910 1850l0 0 1-3-1-2M1943 1790l21 6-2 1 5-9M1911 1839l-3 8 8-1 8 2M1848 1929l-8 17-5-1 4 0M1861 1874l6-6-4-13M1863 1855l-2 4 12-5 2 3M1917 1779l-6-2 0 0 2-8" stroke="#8c46dc"/>
<path d="M1973 1874l-5-4 10-2-5 3M1859 1828l0-5 7 12-1-1M1952 1883l6 1-2 4 2-2M1910 1845l2-7 0-2-1-4M1967 1788l5 5 6 6 0 0M1924 1848l4-3-2 14 7 1M1839 1945l-6 4-8 6 4 1M1913 1769l-8 9 12-15 0-2" stroke="#7030ea"/>
<path d="M1973 1871l-7 0-4 6 0-4M1865 1834l8 9 7-4 6 0M1911 1832l-2-5 0-2-1-2M1933 1860l8 5 0 10 4-11M1829 1956l-4 7 0-7-3 1M1917 1761l5-3 9-9 0-1" stroke="#4216f8"/>
<path d="M1966 1871h0M1962 1877h0M1962 1873h0M1873 1843h0M1880 1839h0M1886 1839h0M1958 1884h0M1956 1888h0M1958 1886h0M1843 1795h0M1830 1803h0M1836 1802h0M1909 1827h0M1909 1825h0M1908 1823h0M1972 1793h0M1978 1799h0M1978 1799h0M1941 1865h0M1941 1875h0M1945 1864h0M1825 1963h0M1825 1956h0M1822 1957h0M1861 1859h0M1873 1854h0M1875 1857h0M1922 1758h0M1931 1749h0M1931 1748h0" stroke="#1f00ff" stroke-width="5.2"/>
<path d="M1900 1874l4 3 13 3M1917 1880l-6-2 8-4M1892 1901l-1 15 3-2M1894 1914l8 5 3-7M1895 1884l-3-5-5 1 0-4M1898 1897l-7-4 7-3M1900 1890l1-2-4-1 0-3M1894 1894l4 4 3 3 2-3M1895 1880l3-5 2 2 4-8M1884 1898l2-10-9-5M1889 1875l1 4 0-6-5 2M1900 1882l-6-5-4-3M1899 1896l1 1-7-4M1900 1888l0 2-6 1 5-2M1894 1900l-9 12-10-3-1-2M1888 1884l0-1-2 2M1901 1903l5 10 0 1 2-2M1903 1884l-2-10 6 12-2-19M1900 1885l0-9-2-4M1890 1891l6 3-6-6-1 3M1892 1888l0 11 6-3 2 0" stroke="#fcf52f"/>
<path d="M1919 1874l10-10 1 5M1905 1912l9-1-5-2M1887 1876l-2-4-8-13-1-3M1898 1890l-3-7 0-6M1895 1877l-4-10 3 12M1897 1884l1 3-5-6-6-8M1903 1898l2 2-4 0M1904 1869l3-1 7-3 4-2M1877 1883l2 6 9-4M1888 1885l-1-16-2 0 2-2M1885 1875l-1-6 2 7-5-9M1890 1874l0 2-6 0-2 1M1882 1877l-3 1-5-1M1893 1893l1-5-1-1M1893 1887l0-7-6 2-6 1M1899 1889l-4-1-1-2M1874 1907l-17 0 15 1M1886 1885l-4 0-3-3-3 2M1908 1912l-3-2 4 3 2-1M1905 1867l14 1 1-7-1-4M1898 1872l-2-11 5 5 0-3M1901 1863l3-10-1-3M1889 1891l7 8-2 2 4-4M1900 1896l-3 6-1 7-1 9" stroke="#f5e153"/>
<path d="M1930 1869l14-10 1 5M1945 1864l-1-4-3 13M1909 1909l0 5M1909 1914l4 10 11-2M1876 1856l0-7-2-3 2-2M1894 1879l-1-9 7-2M1887 1873l6-4-1-5 0 0M1901 1900l0 1 2-3-1 1M1918 1863l1-8 4-4-1-7M1887 1867l-5 0-1-3M1881 1867l-5-2-9 2 2 4M1874 1877l1 4-10 1M1881 1883l1 4-3 0M1894 1886l-1 2-3 2-2 1M1872 1908l-13-4-5 2 2-2M1876 1884l3-2-6-1M1873 1881l2 1 3-1-4-4M1911 1912l-2 1 2 5 0-2M1919 1857l13-8-4-11-5 10M1903 1850l-2-7-6-1M1898 1897l5 6 5 5-3 0M1895 1918l-1-1 0-2 2 0" stroke="#eece6c"/>
<path d="M1941 1873l6 3-2 8M1924 1922l0 1 1-8M1925 1915l-4 2 11 7M1876 1844l-13-2-4-9-10-5M1900 1868l-2 0-11-9M1887 1859l-2 8-5-5M1892 1864l-2-5 4 2-3-1M1902 1899l0 0 6 0 2 2M1922 1844l-3-3 5 6 4-2M1881 1864l-2-4 2-10M1869 1871l-6-3-5 2-1-1M1865 1882l2 5-3 5-4-1M1879 1887l-6 2 0 1M1888 1891l1-1 0 4 3-4M1856 1904l-1 7 3-3M1858 1908l-1-5-22 14-11-7M1874 1877l0 8-2-7M1911 1916l1 1 1 0 3 4M1923 1848l-8-10 7-5-3-5M1895 1842l-5-2-2 0-3-2M1905 1908l10 3 3 9-7-9M1896 1915l-3 2-5-4 5 4" stroke="#e5bb80"/>
<path d="M1945 1884l7-4M1952 1880l11-1 3 7M1932 1924l-3-6 5 4M1849 1828l-4-5 2-3-17-10M1880 1862l-15 6 3-2M1891 1860l-7-2 0 2-8-7M1910 1901l0 0-1 1M1909 1902l1-3 1 4 0-2M1928 1845l1 1 2-1 2 5M1881 1850l-3 1-7-1 4 0M1875 1850l-11-8 2 6M1857 1869l-2 0-1 6 1-2M1860 1891l1 3-3 9M1873 1890l4 5-5-5 0-1M1872 1889l-2 7-4-1M1892 1890l-3 5 3-2M1892 1893l-3 1 4 0-1-3M1824 1910l-3-6 8 4-6 8M1872 1878l0-2 0 0M1916 1921l-1 4 8 3-4-2M1919 1828l-5-7 8 1-12-5M1885 1838l-8-13 5-1M1911 1911l0 10 9-1-5-1M1893 1917l-5 2-3 4-2 0" stroke="#dba792"/>
<path d="M1966 1886l1 4 22 7M1934 1922l1 6M1935 1928l-8 11 5-3M1830 1810l7-4-7 4-2-3M1868 1866l-9 2-11 3M1848 1871l6 10-8-6M1876 1853l1-2 1-2-5-7M1911 1901l0-1 1-3 3 2M1933 1850l3-1-2 2 4 5M1866 1848l-6-3-3-7M1855 1873l0 2-5 5-2 0M1858 1903l-1 6 5-6M1862 1903l-2 1-2 0 4-1M1866 1895l0 1-1-3M1892 1891l2 2 2 2 0 1M1823 1916l-12-4 3-6M1872 1876l-4 0 0 3-1-1M1919 1926l1-4 4 3 3 0M1910 1817l-7-14 1 1-4 6M1882 1824l1-2-3-7M1880 1815l-4 0 2 0-3-1M1915 1919l3 15 2 4-2-11M1883 1923l-14-3 6-1-6-2" stroke="#d094a2"/>
<path d="M1989 1897l-3-5 8 3M1994 1895l2 0-8 13M1932 1936l2-3-1-7M1828 1807l-12 5 1 3-12-3M1846 1875l-4 9-2-7M1840 1877l-8 12-12-2M1873 1842l0-1-6-6 1 6M1915 1899l6 0-3-2M1938 1856l3 1 2 2 3-5M1857 1838l4-8 0-3M1848 1880l-3-3-1 4-5-2M1862 1903l-6 3 5-3M1865 1893l-4-3-3 2M1896 1896l2 0 1 2M1814 1906l1 7-4-4-14-2M1867 1878l1 6 4 0M1872 1884l0 1-6 4-3-2M1927 1925l-5-1 3 4 3 1M1900 1810l-1 0-6 7-12 1M1875 1814l2 0 6-7M1918 1927l0 1 0 11-7 4M1869 1917l5 2-7-6 4-11" stroke="#c381b1"/>
<path d="M1988 1908l-4-9-1 0M1933 1926l4 5 5 5M1805 1812l6 4-1 7 0-6M1820 1887l-2 3 5 3M1868 1841l2-2-3-1 0 3M1918 1897l5 0-1-1 2-1M1946 1854l-2 4 3 3 9 2M1861 1827l0-1-9-2M1852 1824l4-8-1 0-4-3M1839 1879l-6 7 0-6-4 6M1861 1903l-1 7 1 3M1858 1892l0 1-6-5M1852 1888l1-1-1 4-4-6M1899 1898l-1-3 2 4 3-1M1797 1907l10-3-4-9M1863 1887l-2 4 5-1M1928 1929l7 2 2-4 5-2M1881 1818l-3 3-3 8 5-4M1883 1807l4-3 1-8M1911 1943l1-1 6 14 10 0M1871 1902l-2-7 0-4-8-4" stroke="#b46dc0"/>
<path d="M1810 1817l0 5-4 6-12-1M1867 1841l-3 1 5-2-6 12M1924 1895l0-1 1-2 3 0M1956 1863l-5 4 6-3 4 10M1851 1813l4-7-3-5M1829 1886l-2-7-6 4-1 2M1861 1913l3 0-5-3 5 2M1864 1912l1-6 4 12M1848 1885l0 1 1-4M1903 1898l0 3 1 0-1-1M1803 1895l-15-7 4 1 1 9M1866 1890l-2 1 1 0-1 1M1942 1925l0 4 6 2-2 2M1880 1825l-5 2 2 5-13 8M1888 1796l-1-2 2-4 0-1M1889 1789l-10-1 3 4M1928 1956l9-5-1 5 3-1M1861 1887l12-3 6-4-10-4" stroke="#a25ace"/>
<path d="M1794 1827l-2 2-2-6-7 10M1863 1852l2-1-1 0 5 1M1928 1892l-3-1 3-2M1961 1874l8 3-3-1 1 2M1820 1885l5-3-6 0-4 3M1903 1900l4 1 1-2M1793 1898l-5-9-2-10M1786 1879l4 0 16 5 0 1M1864 1892l-1 2-1 4M1946 1933l-2-9 8 5 6 2M1864 1840l-3-3 1 9-2-15M1939 1955l0-2 10 9-7 0M1869 1876l-4-7-2-1-4 8" stroke="#8c46dc"/>
<path d="M1783 1833l-5 1-1-6-7 1M1869 1852l1 5 2-1-7 5M1928 1889l0-6 1 0 3-1M1967 1878l-1-2 0 2 1 7M1815 1885l-3-3 3-6-5 5M1908 1899l-1 2 6-3 1 0M1958 1931l9-1-4 1 3-3M1860 1831l-4 5-4 0-5-10M1942 1962l6 11-6 6-6 2M1859 1876l0-9-15 0-4 7" stroke="#7030ea"/>
<path d="M1770 1829l1 5-4-5-8 6M1865 1861l3 0 3 2-4 2M1967 1885l-6 0-3 1 1-1M1810 1881l7-8-10-7 3 2M1966 1928l8 3 1 2 2 2M1847 1826l-7 0 7 2-12-10M1936 1981l0-3 0 3-4 7M1840 1874l4 6-11-9 0 6" stroke="#4216f8"/>
<path d="M1771 1834h0M1767 1829h0M1759 1835h0M1868 1861h0M1871 1863h0M1867 1865h0M1928 1883h0M1929 1883h0M1932 1882h0M1961 1885h0M1958 1886h0M1959 1885h0M1817 1873h0M1807 1866h0M1810 1868h0M1864 1912h0M1865 1906h0M1869 1918h0M1907 1901h0M1913 1898h0M1914 1898h0M1790 1879h0M1806 1884h0M1806 1885h0M1864 1892h0M1863 1894h0M1862 1898h0M1974 1931h0M1975 1933h0M1977 1935h0M1840 1826h0M1847 1828h0M1835 1818h0M1889 1789h0M1879 1788h0M1882 1792h0M1936 1978h0M1936 1981h0M1932 1988h0M1844 1880h0M1833 1871h0M1833 1877h0" stroke="#1f00ff" stroke-width="5.2"/>
<path d="M1893 1885l-2-8-2 7M1901 1885l9-4 7-9 3-15M1900 1882l0 0 0 1 0-2M1889 1895l-1-2 2 2M1898 1876l-9-3 5 3-7-3M1896 1893l1 0-2 1 2 0M1884 1892l1 2-1 4 0-1M1891 1869l-2 3-1 0 0 1M1906 1886l6-2-1 10 19-3M1896 1893l1 0-2-1 3 1M1889 1896l-8 9 2 0-2-2M1896 1885l-2-1 0 4-3-1M1895 1880l-1 0-1 1-2-4M1893 1889l1 0-2-1M1898 1891l-6 10 3-4M1890 1892l-1-6 0 2M1908 1872l-8 1 2-6 1-2M1910 1896l-5 6-2 1 0-3M1897 1888l0 1 0-5" stroke="#fcf52f"/>
<path d="M1889 1884l6-10-1 1-3-4M1920 1857l5 5 0 1M1900 1881l1-5 3-1 3-2M1890 1895l4 5-5 5 1 2M1887 1873l2-7 0 10-3-2M1897 1894l-1 0 2 3-1 2M1884 1897l1 3 2-2 3 6M1888 1873l0-2-1 3 0 1M1930 1891l0-1 4 3 1-4M1898 1893l4 1 0 0 4-1M1881 1903l-1 1 0-5-3-2M1891 1887l0-1-6 1 0 0M1891 1877l0-3 0-2-1-1M1892 1888l0-4-1 1M1891 1885l1-3 4-1-4-9M1895 1897l-7 1-2 4M1886 1902l-1-3 1 3-9 4M1889 1888l9 3 3-7-4 2M1903 1865l4-2-2-9-3-3M1903 1900l-5 9-4-7 0-1M1897 1884l1-2 3 1M1901 1883l1-2 0-5 2 1" stroke="#f5e153"/>
<path d="M1891 1871l4-5-8-8M1887 1858l-1-2 9 3-12-7M1925 1863l2-7 1-15 0 1M1907 1873l2 1 6-3M1890 1907l1 2 0 3M1891 1912l5 1 2 4-6 1M1886 1874l-6-1 2 7 4-8M1897 1899l3-2-3-1 2 0M1890 1904l-1-1 2 3-4 0M1887 1875l3-2 0 1 1 1M1935 1889l-2 2 1 3 15 8M1906 1893l5 3 3 0-4-2M1877 1897l-3 7-1 1 1-2M1885 1887l-4 4 1-3 2 1M1890 1871l0-3-2-1 2-1M1892 1872l3 8 1-8M1877 1906l4-3-6 6M1897 1886l7-8 4 2 3-6M1911 1874l7-8-1-8M1902 1851l-2-2-5-2-8-4M1894 1901l-5-4-3-3 6-2M1904 1877l-2-1 0 2" stroke="#eece6c"/>
<path d="M1883 1852l-1-3-17 4M1928 1842l-3-12 7-2-11-4M1915 1871l-1 2 2 0 0-1M1892 1918l4-2 7 7M1886 1872l-12-7 5 3-17 2M1899 1896l0 0 2-2-1 3M1887 1906l2-2-3 1-2 0M1891 1875l-1 1-3 2-1 4M1949 1902l5 9 2 6 3-3M1910 1894l4 2 1-1 0 1M1874 1903l0 3-9-1 3 0M1884 1889l-1 4 0-2-1 2M1890 1866l-5 0 0-1-3 2M1896 1872l1-2-3-11M1875 1909l0-1 1 0M1917 1858l5 0 6-3M1887 1843l12 2 1-8 12 2M1892 1892l1-1-12-13 5-3M1902 1878l0 0 3-5" stroke="#e5bb80"/>
<path d="M1865 1853l7-5 2-10M1921 1824l-3-11 2 7M1920 1820l6 1 8 1 3-10M1916 1872l0-1-1 0 4 1M1903 1923l-3 0 1 8M1862 1870l-1-5 0 5 2 3M1900 1897l2 0-1 0 4 1M1884 1905l1-1-1 1-7 1M1886 1882l1-2-2 0 2 1M1959 1914l-6-8 10 10 4-14M1915 1896l2-1 1-1 1 0M1868 1905l-7-7-2 7-1-2M1882 1893l1 0-4-1-3 1M1882 1867l-1-1 2 0-1 2M1894 1859l-3-1 3-1 1-3M1895 1854l-4-2-2 0M1876 1908l-6 3 6 4 0-8M1876 1907l-2 7 12-16M1928 1855l-3-5-3 3 9-1M1912 1839l3-1 7-2-2-8M1886 1875l4-10 3-2-2 3M1905 1873l-2-3 2 0 1-1M1906 1869l-2-3 2 1" stroke="#dba792"/>
<path d="M1874 1838l-8 18 6-4 7 13M1937 1812l4 4 10 0 1-2M1919 1872l2 0-1 0M1920 1872l2-2 1-2 1-1M1901 1931l2-1 2 2 6 7M1863 1873l-7-4-7 15 9 2M1905 1898l0 0 2-1 1 0M1877 1906l-3 2-1 2-6 0M1887 1881l-3 1 1-1-2-1M1967 1902l1-2 6-2 2 0M1919 1894l0-1 0 0 3 1M1858 1903l-8-2 4-4-7-2M1876 1893l-1 2 1 1-3 3M1882 1868l2 0-4 0 3-1M1889 1852l2 2-3-6M1886 1898l0-2 7-2M1931 1852l-2-10-6 10 7-11M1920 1828l4 1 3 10 9-4M1891 1866l2-11 3-3 4 2M1906 1867l1-6 1-1" stroke="#d094a2"/>
<path d="M1879 1865l1 0 11 12M1891 1877l4-7-4 7 6-1M1952 1814l19 1 3 2M1924 1867l-1-2 3-1 0 0M1911 1939l0-4-6 5M1905 1940l6-1 0-3 3 5M1858 1886l-2-1-3 5-5 10M1908 1897l1 1-1-1-2 2M1867 1910l0-1-2-4-1 2M1883 1880l0 2-1-2-2 2M1976 1898l12-19 8-2 7-18M1922 1894l-1 1 1 1 0 1M1847 1895l0 5 1-9-1 8M1873 1899l5 0-1 2-2-1M1883 1867l-5 4 0 1 2 2M1888 1848l2 1 3 1M1893 1894l-9-5 13-4M1930 1841l-2 1 4-7M1936 1835l5-3 7-2-4-9M1900 1854l-1-4-2 0 7 2M1908 1860l2 1 0 0" stroke="#c381b1"/>
<path d="M1897 1876l-3-6 5 16M1974 1817l7-9-3 7 3-10M1926 1864l4 3-1 0 0 1M1914 1941l2-1-1-1M1848 1900l-6-8 4-1-9 2M1906 1899l5 2-2 0 0-1M1864 1907l2-5-3 0 1 1M1880 1882l-1-1-5-1 2 0M2003 1859l-1-5 6-4 2-1M1922 1897l0-3-1 1-1 1M1847 1899l-1-14-1 2 5-5M1875 1900l-5 3 1-3-2 1M1880 1874l-3-1 3-1-2 2M1893 1850l3-4 0-1M1896 1845l4-1-4 0 5-2M1897 1885l-1 5 0 2M1896 1892l6 1 2 5 5 0M1932 1835l-5-6 6 2M1933 1831l-2-1 0-2 9-5M1944 1821l0 1-6-3 15-10M1904 1852l-3-10 6 3 4-4M1910 1861l1-3-1 0M1910 1858l3-1 0-2-2-2" stroke="#b46dc0"/>
<path d="M1899 1886l7-1-1 0 1 0M1981 1805l10-10-4 6 4 0M1929 1868l-1 2 2 1-1 3M1915 1939l1-2 4-3 4 1M1837 1893l2 1-10-1 1-4M1909 1900l0 2 3-1-1 0M1864 1903l1 1-6-5 3-4M1876 1880l-1-1 0-1-1 3M2010 1849l-4-12 1-6 5 2M1920 1896l-1 0 0 1-1-1M1850 1882l2 1-1-9-1-2M1869 1901l-2-2-1 2-1-2M1878 1874l-2 0 1-2 0 3M1901 1842l0 3 1-5M1909 1898l4-3 1-6M1940 1823l-6 1 4-3-1 5M1953 1809l-6 7 5 2 0-8M1911 1841l0 1-3 3 12-2M1911 1853l3-5 1 1" stroke="#a25ace"/>
<path d="M1906 1885l9-5 19 6M1991 1801l10-12-1 8M1929 1874l-2-1 2-1M1924 1935l0 3-4 0M1830 1889l-13 4 4-5-5 5M1911 1901l2-3 1 1 0 0M1862 1895l-4 0 3 1 0-1M1874 1881l-1-1-3 2-1-2M2012 1833l-12-16 6-11-11-11M1918 1896l-2 2 0 1 0 2M1850 1872l0-6 1 1-2-9M1865 1899l-1-3 0 0 1-4M1877 1875l0-1-3 1-3-3M1937 1826l2-2 1 4M1952 1810l-7 0 8-12 7 3M1920 1843l-8 6 12-5-4-3" stroke="#8c46dc"/>
<path d="M2000 1797l12 11-3 6 14 5M1929 1872l0 2-3-2 1 2M1816 1893l3 4-4-5-5-4M1914 1899l-1 2 1 1 2 0M1861 1895l0-2 3-3-3-5M1869 1880l0 1-2 0-3 0M1995 1795l6-3-4-4-9 4M1916 1901l1 1 3 1 2-1M1849 1858l1 3 1-3 4-2M1865 1892l-3 2-2 1 0-1M1871 1872l0-2 0 2-4 0M1960 1801l5 3 0-6-1 0M1920 1841l11-5 2 0 9-4" stroke="#7030ea"/>
<path d="M1810 1888l-1 0 4-2-7-13M1916 1902l-1 0 0 1 1-2M1861 1885l1-1 1-1-2-2M1864 1881l-1 0 3-1-3 5M1988 1792l10-2-7-11 1 2M1922 1902l-2 3-1 3-1-3M1855 1856l-4-3 7-4-3 3M1860 1894l-5 2-1-3 2 2M1867 1872l0 1-2-1 1 1M1964 1798l-4 2 7-11 2-5M1942 1832l-3 0 7-19-6-10" stroke="#4216f8"/>
<path d="M1906 1885h0M1915 1880h0M1934 1886h0M2012 1808h0M2009 1814h0M2023 1819h0M1929 1874h0M1926 1872h0M1927 1874h0M1924 1935h0M1924 1938h0M1920 1938h0M1809 1888h0M1813 1886h0M1806 1873h0M1915 1902h0M1915 1903h0M1916 1901h0M1862 1884h0M1863 1883h0M1861 1881h0M1863 1881h0M1866 1880h0M1863 1885h0M1998 1790h0M1991 1779h0M1992 1781h0M1920 1905h0M1919 1908h0M1918 1905h0M1851 1853h0M1858 1849h0M1855 1852h0M1855 1896h0M1854 1893h0M1856 1895h0M1867 1873h0M1865 1872h0M1866 1873h0M1937 1826h0M1939 1824h0M1940 1828h0M1960 1800h0M1967 1789h0M1969 1784h0M1939 1832h0M1946 1813h0M1940 1803h0" stroke="#1f00ff" stroke-width="5.2"/>
</g></g>
<path d="M424.9 423.7V520.3H522.4" stroke="#8a8a8a" stroke-width="0.9" fill="none"/>
<path d="M422.9 515.9H424.9M429.3 520.3V522.3M422.9 494H424.9M451.5 520.3V522.3M422.9 472H424.9M473.6 520.3V522.3M422.9 450H424.9M495.8 520.3V522.3M422.9 428.1H424.9M518 520.3V522.3" stroke="#4d4d4d" stroke-width="0.7" fill="none"/>
<text x="421.9" y="518.9" font-size="8.2" text-anchor="end" fill="#222" font-family='"Liberation Sans", sans-serif' >-200</text>
<text x="429.3" y="528.5" font-size="8.2" text-anchor="middle" fill="#222" font-family='"Liberation Sans", sans-serif' >-200</text>
<text x="421.9" y="496.9" font-size="8.2" text-anchor="end" fill="#222" font-family='"Liberation Sans", sans-serif' >-100</text>
<text x="451.5" y="528.5" font-size="8.2" text-anchor="middle" fill="#222" font-family='"Liberation Sans", sans-serif' >-100</text>
<text x="421.9" y="475" font-size="8.2" text-anchor="end" fill="#222" font-family='"Liberation Sans", sans-serif' >0</text>
<text x="473.6" y="528.5" font-size="8.2" text-anchor="middle" fill="#222" font-family='"Liberation Sans", sans-serif' >0</text>
<text x="421.9" y="453" font-size="8.2" text-anchor="end" fill="#222" font-family='"Liberation Sans", sans-serif' >100</text>
<text x="495.8" y="528.5" font-size="8.2" text-anchor="middle" fill="#222" font-family='"Liberation Sans", sans-serif' >100</text>
<text x="421.9" y="431" font-size="8.2" text-anchor="end" fill="#222" font-family='"Liberation Sans", sans-serif' >200</text>
<text x="518" y="528.5" font-size="8.2" text-anchor="middle" fill="#222" font-family='"Liberation Sans", sans-serif' >200</text>
<text x="473.6" y="419.4" font-size="8.2" text-anchor="middle" fill="#1a1a1a" font-family='"Liberation Sans", sans-serif' >DKO/p85β-motifGS</text>
</g>
<text x="473.6" y="538.6" font-size="8.2" text-anchor="middle" fill="#1a1a1a" font-family='"Liberation Sans", sans-serif' >x (μm)</text>
<text transform="translate(43.5 472) rotate(-90)" font-size="8.2" text-anchor="middle" fill="#1a1a1a" font-family='"Liberation Sans", sans-serif'>y (μm)</text>
<defs><linearGradient id="cb532" x1="0" y1="1" x2="0" y2="0"><stop offset="0.00" stop-color="#ffff00"/><stop offset="0.10" stop-color="#f8e74a"/><stop offset="0.20" stop-color="#efd06a"/><stop offset="0.30" stop-color="#e4b982"/><stop offset="0.40" stop-color="#d8a197"/><stop offset="0.50" stop-color="#ca8aaa"/><stop offset="0.60" stop-color="#b973bc"/><stop offset="0.70" stop-color="#a45ccd"/><stop offset="0.80" stop-color="#8a44de"/><stop offset="0.90" stop-color="#6529ef"/><stop offset="1.00" stop-color="#0000ff"/></linearGradient></defs>
<rect x="532.7" y="448.8" width="9" height="44.2" fill="url(#cb532)"/>
<text x="545.5" y="495.4" font-size="6.6" text-anchor="start" fill="#333" font-family='"Liberation Sans", sans-serif' >0.0</text>
<text x="545.5" y="484.3" font-size="6.6" text-anchor="start" fill="#333" font-family='"Liberation Sans", sans-serif' >2.5</text>
<text x="545.5" y="473.3" font-size="6.6" text-anchor="start" fill="#333" font-family='"Liberation Sans", sans-serif' >5.0</text>
<text x="545.5" y="462.2" font-size="6.6" text-anchor="start" fill="#333" font-family='"Liberation Sans", sans-serif' >7.5</text>
<text x="545.5" y="451.2" font-size="6.6" text-anchor="start" fill="#333" font-family='"Liberation Sans", sans-serif' >10.0</text>
<path d="M532.7 481.9h1.6M540.1 481.9h1.6M532.7 470.9h1.6M540.1 470.9h1.6M532.7 459.9h1.6M540.1 459.9h1.6" stroke="#fff" stroke-width="0.5" opacity="0.8"/>
<text x="545.5" y="436" font-size="8" text-anchor="middle" fill="#1a1a1a" font-family='"Liberation Sans", sans-serif' >time (h)</text>
<path d="M18 445.5H26.6V507.2Z" fill="#8a8a8a"/>
<text x="22.4" y="437.6" font-size="7.6" text-anchor="middle" fill="#111" font-family='"Liberation Sans", sans-serif' >20% FBS</text>
<text x="22.4" y="522" font-size="7.6" text-anchor="middle" fill="#111" font-family='"Liberation Sans", sans-serif' >1% FBS</text>
<text x="581.3" y="412.2" font-size="22.5" text-anchor="start" fill="#000" font-weight="bold" font-family='"Liberation Sans", sans-serif' >i</text>
<path d="M597 440H639.7M597 506.3L640 440.6" stroke="#222" stroke-width="0.8" stroke-dasharray="1.2 1.4" fill="none"/>
<path d="M597 506.3V443" stroke="#222" stroke-width="0.9"/>
<path d="M597 439.5L595.4 444.5H598.6Z" fill="#222"/>
<path d="M621.8 428.3 L628.3 433.1 L636.3 434.2 L643.3 432.3 L650.7 426.1 L649.8 434 L659.9 435.6 L653.3 439.7 L662.1 445.4 L649.4 443.2 L638.9 444.5 L633.3 447.3 L627 453.7 L629.2 448 L621.3 448.9 L625.3 444.1 L618.7 441 L627 437.5Z" fill="#f8f032" stroke="#2a2a2a" stroke-width="0.6"/>
<ellipse cx="639.3" cy="438.8" rx="6.1" ry="3.9" fill="#7b7ff0"/>
<path d="M597 506.3L589.3 496.1L599.9 489.4L633.8 503.8L651.9 492.4L656.5 471.4L650.2 453.5L641.5 441.5" stroke="#111" stroke-width="0.9" fill="none"/>
<path d="M639.7 439L644.2 441.2L641 443.6Z" fill="#111"/>
<circle cx="597" cy="506.3" r="1.5" fill="#111"/>
<text x="586.8" y="467.5" font-size="12.5" text-anchor="middle" fill="#111" font-family='"Liberation Serif", serif' >y</text>
<text x="617" y="466.2" font-size="12.5" text-anchor="middle" fill="#111" font-family='"Liberation Serif", serif' >d</text>
<text x="643" y="488.8" font-size="12.5" text-anchor="middle" fill="#111" font-family='"Liberation Serif", serif' >D</text>
<text x="2.5" y="576.6" font-size="21" text-anchor="start" fill="#000" font-weight="bold" font-family='"Liberation Sans", sans-serif' >f</text>
<path d="M54.4 727.2 54.4 725.2 54.5 723.2 54.6 721.2 54.8 719.2 55 717.2 55.3 715.2 55.7 713.2 56.2 711.2 56.7 709.2 57.3 707.2 58 705.2 58.7 703.2 59.4 701.2 60.2 699.2 60.9 697.2 61.5 695.2 62.1 693.2 62.5 691.2 62.8 689.2 62.9 687.2 62.8 685.2 62.6 683.2 62.1 681.2 61.5 679.2 60.8 677.2 60 675.2 59.2 673.2 58.4 671.2 57.7 669.2 57 667.2 56.4 665.2 55.8 663.2 55.4 661.2 55.1 659.2 54.8 657.2 54.6 655.2 54.4 653.2 54.4 651.2 54.4 649.2 54.4 647.2 54.4 645.2 54.4 643.2 54.4 641.2 54.4 639.2 54.4 637.2 54.4 635.3 54.4 633.3 54.4 631.3 54.4 629.3 54.4 627.3 54.4 625.3 54.4 623.3 54.4 621.3 54.4 619.3 54.4 617.3 54.4 615.3 54.4 613.3 54.4 611.3 54.4 609.3 54.4 607.3 53.8 607.3 53.8 609.3 53.8 611.3 53.8 613.3 53.8 615.3 53.8 617.3 53.8 619.3 53.8 621.3 53.8 623.3 53.8 625.3 53.8 627.3 53.8 629.3 53.8 631.3 53.8 633.3 53.8 635.3 53.8 637.2 53.8 639.2 53.8 641.2 53.8 643.2 53.8 645.2 53.8 647.2 53.8 649.2 53.8 651.2 53.8 653.2 53.6 655.2 53.4 657.2 53.1 659.2 52.8 661.2 52.4 663.2 51.8 665.2 51.2 667.2 50.5 669.2 49.8 671.2 49 673.2 48.2 675.2 47.4 677.2 46.7 679.2 46.1 681.2 45.6 683.2 45.4 685.2 45.3 687.2 45.4 689.2 45.7 691.2 46.1 693.2 46.7 695.2 47.3 697.2 48 699.2 48.8 701.2 49.5 703.2 50.2 705.2 50.9 707.2 51.5 709.2 52 711.2 52.5 713.2 52.9 715.2 53.2 717.2 53.4 719.2 53.6 721.2 53.7 723.2 53.8 725.2 53.8 727.2Z" fill="#676767" stroke="#505050" stroke-width="0.4"/>
<path d="M54.1 607.3V727.2" stroke="#505050" stroke-width="0.6"/>
<circle cx="54.1" cy="648.3" r="1.45" fill="#505050"/>
<circle cx="54.1" cy="646.2" r="1.45" fill="#505050"/>
<circle cx="54.1" cy="644" r="1.45" fill="#505050"/>
<circle cx="54.1" cy="641.8" r="1.45" fill="#505050"/>
<circle cx="54.1" cy="637.5" r="1.45" fill="#505050"/>
<circle cx="54.1" cy="631" r="1.45" fill="#505050"/>
<circle cx="54.1" cy="628.9" r="1.45" fill="#505050"/>
<circle cx="54.1" cy="615.9" r="1.45" fill="#505050"/>
<rect x="50.6" y="680.7" width="7" height="15.3" fill="#fff" stroke="#505050" stroke-width="0.55"/>
<path d="M50.6 688.3h7" stroke="#505050" stroke-width="0.9"/>
<path d="M78.8 728.2 79 726.7 79.2 725.2 79.5 723.7 79.8 722.2 80.3 720.7 80.9 719.2 81.6 717.7 82.4 716.1 83.4 714.6 84.4 713.1 85.4 711.6 86.5 710.1 87.5 708.6 88.4 707.1 89.1 705.6 89.7 704 90 702.5 90 701 89.9 699.5 89.6 698 89.3 696.5 88.8 695 88.3 693.5 87.6 692 87 690.4 86.3 688.9 85.5 687.4 84.8 685.9 84.1 684.4 83.4 682.9 82.7 681.4 82.1 679.9 81.6 678.3 81.1 676.8 80.6 675.3 80.3 673.8 79.9 672.3 79.6 670.8 79.4 669.3 79.2 667.8 79 666.2 78.9 664.7 78.8 663.2 78.8 661.7 78.8 660.2 78.8 658.7 78.8 657.2 78.8 655.7 78.8 654.2 78.8 652.6 78.8 651.1 78.8 649.6 78.8 648.1 78.8 646.6 78.8 645.1 78.8 643.6 78.8 642.1 78.8 640.5 78.8 639 78.8 637.5 78.2 637.5 78.2 639 78.2 640.5 78.2 642.1 78.2 643.6 78.2 645.1 78.2 646.6 78.2 648.1 78.2 649.6 78.2 651.1 78.2 652.6 78.2 654.2 78.2 655.7 78.2 657.2 78.2 658.7 78.2 660.2 78.2 661.7 78.2 663.2 78.1 664.7 78 666.2 77.8 667.8 77.6 669.3 77.4 670.8 77.1 672.3 76.7 673.8 76.4 675.3 75.9 676.8 75.4 678.3 74.9 679.9 74.3 681.4 73.6 682.9 72.9 684.4 72.2 685.9 71.5 687.4 70.7 688.9 70 690.4 69.4 692 68.7 693.5 68.2 695 67.7 696.5 67.4 698 67.1 699.5 67 701 67 702.5 67.3 704 67.9 705.6 68.6 707.1 69.5 708.6 70.5 710.1 71.6 711.6 72.6 713.1 73.6 714.6 74.6 716.1 75.4 717.7 76.1 719.2 76.7 720.7 77.2 722.2 77.5 723.7 77.8 725.2 78 726.7 78.2 728.2Z" fill="#a3a3a3" stroke="#7f7f7f" stroke-width="0.4"/>
<path d="M78.5 637.5V728.2" stroke="#7f7f7f" stroke-width="0.6"/>
<circle cx="78.5" cy="672.1" r="1.45" fill="#7f7f7f"/>
<circle cx="78.5" cy="669.9" r="1.45" fill="#7f7f7f"/>
<circle cx="78.5" cy="667.8" r="1.45" fill="#7f7f7f"/>
<circle cx="78.5" cy="665.6" r="1.45" fill="#7f7f7f"/>
<circle cx="78.5" cy="663.4" r="1.45" fill="#7f7f7f"/>
<circle cx="78.5" cy="661.3" r="1.45" fill="#7f7f7f"/>
<circle cx="78.5" cy="659.1" r="1.45" fill="#7f7f7f"/>
<circle cx="78.5" cy="657" r="1.45" fill="#7f7f7f"/>
<circle cx="78.5" cy="654.8" r="1.45" fill="#7f7f7f"/>
<circle cx="78.5" cy="652.6" r="1.45" fill="#7f7f7f"/>
<circle cx="78.5" cy="650.5" r="1.45" fill="#7f7f7f"/>
<circle cx="78.5" cy="646.2" r="1.45" fill="#7f7f7f"/>
<rect x="75" y="691.5" width="7" height="13.4" fill="#fff" stroke="#7f7f7f" stroke-width="0.55"/>
<path d="M75 699.9h7" stroke="#7f7f7f" stroke-width="0.9"/>
<path d="M103.2 729.3 103.3 727.5 103.6 725.6 103.9 723.8 104.4 721.9 105 720 105.8 718.2 106.7 716.3 107.7 714.5 108.8 712.6 109.8 710.8 110.8 708.9 111.6 707.1 112.2 705.2 112.4 703.4 112.4 701.5 112.2 699.7 112 697.8 111.7 695.9 111.2 694.1 110.8 692.2 110.2 690.4 109.6 688.5 109 686.7 108.4 684.8 107.8 683 107.2 681.1 106.7 679.3 106.1 677.4 105.7 675.6 105.2 673.7 104.8 671.8 104.5 670 104.2 668.1 103.9 666.3 103.7 664.4 103.5 662.6 103.4 660.7 103.3 658.9 103.2 657 103.2 655.2 103.2 653.3 103.2 651.5 103.2 649.6 103.2 647.7 103.2 645.9 103.2 644 103.2 642.2 103.2 640.3 103.2 638.5 103.2 636.6 103.2 634.8 103.2 632.9 103.2 631.1 103.2 629.2 103.2 627.3 103.2 625.5 103.2 623.6 103.2 621.8 103.2 619.9 103.2 618.1 102.6 618.1 102.6 619.9 102.6 621.8 102.6 623.6 102.6 625.5 102.6 627.3 102.6 629.2 102.6 631.1 102.6 632.9 102.6 634.8 102.6 636.6 102.6 638.5 102.6 640.3 102.6 642.2 102.6 644 102.6 645.9 102.6 647.7 102.6 649.6 102.6 651.5 102.6 653.3 102.6 655.2 102.6 657 102.5 658.9 102.4 660.7 102.3 662.6 102.1 664.4 101.9 666.3 101.6 668.1 101.3 670 101 671.8 100.6 673.7 100.1 675.6 99.7 677.4 99.1 679.3 98.6 681.1 98 683 97.4 684.8 96.8 686.7 96.2 688.5 95.6 690.4 95 692.2 94.6 694.1 94.1 695.9 93.8 697.8 93.6 699.7 93.4 701.5 93.4 703.4 93.6 705.2 94.2 707.1 95 708.9 96 710.8 97 712.6 98.1 714.5 99.1 716.3 100 718.2 100.8 720 101.4 721.9 101.9 723.8 102.2 725.6 102.5 727.5 102.6 729.3Z" fill="#e4672a" stroke="#b15020" stroke-width="0.4"/>
<path d="M102.9 618.1V729.3" stroke="#b15020" stroke-width="0.6"/>
<circle cx="102.9" cy="665.6" r="1.45" fill="#b15020"/>
<circle cx="102.9" cy="663.4" r="1.45" fill="#b15020"/>
<circle cx="102.9" cy="661.3" r="1.45" fill="#b15020"/>
<circle cx="102.9" cy="657" r="1.45" fill="#b15020"/>
<circle cx="102.9" cy="654.8" r="1.45" fill="#b15020"/>
<circle cx="102.9" cy="652.6" r="1.45" fill="#b15020"/>
<circle cx="102.9" cy="648.3" r="1.45" fill="#b15020"/>
<circle cx="102.9" cy="644" r="1.45" fill="#b15020"/>
<circle cx="102.9" cy="639.7" r="1.45" fill="#b15020"/>
<circle cx="102.9" cy="635.4" r="1.45" fill="#b15020"/>
<circle cx="102.9" cy="631" r="1.45" fill="#b15020"/>
<circle cx="102.9" cy="628.9" r="1.45" fill="#b15020"/>
<rect x="99.4" y="688.1" width="7" height="16.8" fill="#fff" stroke="#b15020" stroke-width="0.55"/>
<path d="M99.4 698.9h7" stroke="#b15020" stroke-width="0.9"/>
<path d="M127.7 726.1 127.9 724.8 128.2 723.5 128.6 722.1 129.1 720.8 129.9 719.5 130.8 718.2 131.9 716.9 133.1 715.6 134.5 714.3 135.9 712.9 137.3 711.6 138.6 710.3 139.6 709 140.4 707.7 140.8 706.4 140.8 705.1 140.6 703.7 140.2 702.4 139.8 701.1 139.1 699.8 138.4 698.5 137.6 697.2 136.7 695.9 135.8 694.5 134.8 693.2 133.9 691.9 133 690.6 132.2 689.3 131.5 688 130.8 686.7 130.2 685.3 129.6 684 129.2 682.7 128.8 681.4 128.5 680.1 128.2 678.8 128 677.5 127.8 676.1 127.7 674.8 127.6 673.5 127.6 672.2 127.6 670.9 127.6 669.6 127.6 668.3 127.6 666.9 127.6 665.6 127.6 664.3 127.6 663 127.6 661.7 127.6 660.4 127.6 659.1 127.6 657.8 127.6 656.4 127.6 655.1 127.6 653.8 127.6 652.5 127.6 651.2 127.6 649.9 127.6 648.6 127.6 647.2 127 647.2 127 648.6 127 649.9 127 651.2 127 652.5 127 653.8 127 655.1 127 656.4 127 657.8 127 659.1 127 660.4 127 661.7 127 663 127 664.3 127 665.6 127 666.9 127 668.3 127 669.6 127 670.9 127 672.2 127 673.5 126.9 674.8 126.8 676.1 126.6 677.5 126.4 678.8 126.1 680.1 125.8 681.4 125.4 682.7 125 684 124.4 685.3 123.8 686.7 123.1 688 122.4 689.3 121.6 690.6 120.7 691.9 119.8 693.2 118.8 694.5 117.9 695.9 117 697.2 116.2 698.5 115.5 699.8 114.8 701.1 114.4 702.4 114 703.7 113.8 705.1 113.8 706.4 114.2 707.7 115 709 116 710.3 117.3 711.6 118.7 712.9 120.1 714.3 121.5 715.6 122.7 716.9 123.8 718.2 124.7 719.5 125.5 720.8 126 722.1 126.4 723.5 126.7 724.8 126.9 726.1Z" fill="#fbb10a" stroke="#c38a07" stroke-width="0.4"/>
<path d="M127.3 647.2V726.1" stroke="#c38a07" stroke-width="0.6"/>
<circle cx="127.3" cy="678.6" r="1.45" fill="#c38a07"/>
<circle cx="127.3" cy="676.4" r="1.45" fill="#c38a07"/>
<circle cx="127.3" cy="672.1" r="1.45" fill="#c38a07"/>
<circle cx="127.3" cy="669.9" r="1.45" fill="#c38a07"/>
<circle cx="127.3" cy="667.8" r="1.45" fill="#c38a07"/>
<circle cx="127.3" cy="663.4" r="1.45" fill="#c38a07"/>
<circle cx="127.3" cy="659.1" r="1.45" fill="#c38a07"/>
<circle cx="127.3" cy="654.8" r="1.45" fill="#c38a07"/>
<circle cx="127.3" cy="652.6" r="1.45" fill="#c38a07"/>
<rect x="123.8" y="698" width="7" height="11" fill="#fff" stroke="#c38a07" stroke-width="0.55"/>
<path d="M123.8 703.6h7" stroke="#c38a07" stroke-width="0.9"/>
<path d="M152.3 727.2 152.5 725.3 152.7 723.5 153.1 721.6 153.5 719.7 153.9 717.9 154.4 716 155 714.2 155.7 712.3 156.4 710.5 157.1 708.6 157.8 706.8 158.5 704.9 159.1 703.1 159.6 701.2 160.1 699.4 160.4 697.5 160.5 695.6 160.5 693.8 160.3 691.9 160 690.1 159.5 688.2 159 686.4 158.4 684.5 157.7 682.7 157 680.8 156.3 679 155.6 677.1 155 675.2 154.4 673.4 153.9 671.5 153.5 669.7 153.1 667.8 152.8 666 152.5 664.1 152.3 662.3 152.1 660.4 152 658.6 152 656.7 152 654.9 152 653 152 651.1 152 649.3 152 647.4 152 645.6 152 643.7 152 641.9 152 640 152 638.2 152 636.3 152 634.5 152 632.6 152 630.8 152 628.9 152 627 152 625.2 152 623.3 152 621.5 152 619.6 152 617.8 152 615.9 151.4 615.9 151.4 617.8 151.4 619.6 151.4 621.5 151.4 623.3 151.4 625.2 151.4 627 151.4 628.9 151.4 630.8 151.4 632.6 151.4 634.5 151.4 636.3 151.4 638.2 151.4 640 151.4 641.9 151.4 643.7 151.4 645.6 151.4 647.4 151.4 649.3 151.4 651.1 151.4 653 151.4 654.9 151.4 656.7 151.4 658.6 151.3 660.4 151.1 662.3 150.9 664.1 150.6 666 150.3 667.8 149.9 669.7 149.5 671.5 149 673.4 148.4 675.2 147.8 677.1 147.1 679 146.4 680.8 145.7 682.7 145 684.5 144.4 686.4 143.9 688.2 143.4 690.1 143.1 691.9 142.9 693.8 142.9 695.6 143 697.5 143.3 699.4 143.8 701.2 144.3 703.1 144.9 704.9 145.6 706.8 146.3 708.6 147 710.5 147.7 712.3 148.4 714.2 149 716 149.5 717.9 149.9 719.7 150.3 721.6 150.7 723.5 150.9 725.3 151.1 727.2Z" fill="#f5007f" stroke="#bf0063" stroke-width="0.4"/>
<path d="M151.7 615.9V727.2" stroke="#bf0063" stroke-width="0.6"/>
<circle cx="151.7" cy="650.5" r="1.45" fill="#bf0063"/>
<circle cx="151.7" cy="648.3" r="1.45" fill="#bf0063"/>
<circle cx="151.7" cy="646.2" r="1.45" fill="#bf0063"/>
<circle cx="151.7" cy="641.8" r="1.45" fill="#bf0063"/>
<circle cx="151.7" cy="624.6" r="1.45" fill="#bf0063"/>
<rect x="148.2" y="682.7" width="7" height="18.8" fill="#fff" stroke="#bf0063" stroke-width="0.55"/>
<path d="M148.2 693h7" stroke="#bf0063" stroke-width="0.9"/>
<rect x="39.9" y="571.6" width="127" height="167.5" fill="none" stroke="#9a9a9a" stroke-width="0.8"/>
<path d="M37.4 730.4H39.9M37.4 687.2H39.9M37.4 644H39.9M37.4 600.8H39.9" stroke="#333" stroke-width="0.6"/>
<text x="35.8" y="734.2" font-size="10.5" text-anchor="end" fill="#222" font-family='"Liberation Sans", sans-serif' >0</text>
<text x="35.8" y="691" font-size="10.5" text-anchor="end" fill="#222" font-family='"Liberation Sans", sans-serif' >20</text>
<text x="35.8" y="647.8" font-size="10.5" text-anchor="end" fill="#222" font-family='"Liberation Sans", sans-serif' >40</text>
<text x="35.8" y="604.6" font-size="10.5" text-anchor="end" fill="#222" font-family='"Liberation Sans", sans-serif' >60</text>
<path d="M54.1 739.1V742.1M78.5 739.1V742.1M102.9 739.1V742.1M127.3 739.1V742.1M151.7 739.1V742.1" stroke="#333" stroke-width="0.6"/>
<text transform="translate(59.6 749.1) rotate(-45)" font-size="10.2" text-anchor="end" fill="#111" font-family='"Liberation Sans", sans-serif'>wt</text>
<text transform="translate(84 749.1) rotate(-45)" font-size="10.2" text-anchor="end" fill="#111" font-family='"Liberation Sans", sans-serif'>DKO</text>
<text transform="translate(108.4 749.1) rotate(-45)" font-size="10.2" text-anchor="end" fill="#111" font-family='"Liberation Sans", sans-serif'>DKO/p85α-wt</text>
<text transform="translate(132.8 749.1) rotate(-45)" font-size="10.2" text-anchor="end" fill="#111" font-family='"Liberation Sans", sans-serif'>DKO/p85β-wt</text>
<text transform="translate(157.2 749.1) rotate(-45)" font-size="10.2" text-anchor="end" fill="#111" font-family='"Liberation Sans", sans-serif'>DKO/p85β-motifGS</text>
<text transform="translate(19 655.7) rotate(-90)" font-size="10" text-anchor="middle" fill="#1a1a1a" font-family='"Liberation Sans", sans-serif'>Mean Speed (μm/h)</text>
<path d="M57.5 588.7V581.5H126.9" stroke="#333" stroke-width="0.8" fill="none"/>
<path d="M95.5 594.5H126.9M95.5 594.5V607.5M78 607.5H109.8" stroke="#333" stroke-width="0.8" fill="none"/>
<path d="M127.3 604.5H151.5V611.5" stroke="#333" stroke-width="0.8" fill="none"/>
<text x="92.8" y="581.3" font-size="9" text-anchor="middle" fill="#222" font-weight="bold" font-family='"Liberation Sans", sans-serif' >****</text>
<text x="110.8" y="593.6" font-size="9" text-anchor="middle" fill="#222" font-weight="bold" font-family='"Liberation Sans", sans-serif' >****</text>
<text x="139.6" y="604" font-size="9" text-anchor="middle" fill="#222" font-weight="bold" font-family='"Liberation Sans", sans-serif' >****</text>
<text x="191" y="576.5" font-size="21" text-anchor="start" fill="#000" font-weight="bold" font-family='"Liberation Sans", sans-serif' >g</text>
<path d="M241.5 719.9 243.7 719.5 245.9 718.9 248.1 718.2 250.3 717.4 252.5 716.4 254.7 715.3 256.9 714.1 259.1 712.8 261.3 711.5 263.5 710 265.7 708.4 267.9 706.8 270.1 705 272.3 703.2 274.5 701.3 276.7 699.3 278.9 697.2 281.1 695.1 283.3 692.9 285.5 690.6 287.7 688.2 289.9 685.8 292.1 683.2 294.3 680.7 296.5 678 298.7 675.3 300.9 672.5 303.1 669.7 305.3 666.8 307.5 663.8 309.7 660.7 311.9 657.6 314.1 654.5 316.3 651.2 318.5 647.9 320.7 644.6 322.9 641.2 325.1 637.7 327.3 634.1 329.5 630.5 329.5 648.3 327.3 651 325.1 653.6 322.9 656.2 320.7 658.8 318.5 661.4 316.3 663.9 314.1 666.4 311.9 668.8 309.7 671.2 307.5 673.6 305.3 675.9 303.1 678.2 300.9 680.4 298.7 682.6 296.5 684.8 294.3 686.9 292.1 688.9 289.9 691 287.7 692.9 285.5 694.8 283.3 696.7 281.1 698.5 278.9 700.3 276.7 702 274.5 703.7 272.3 705.3 270.1 706.8 267.9 708.3 265.7 709.7 263.5 711.1 261.3 712.3 259.1 713.5 256.9 714.7 254.7 715.7 252.5 716.7 250.3 717.6 248.1 718.3 245.9 719 243.7 719.5 241.5 719.9Z" fill="#9a9a9a" fill-opacity="0.5"/>
<path d="M241.5 719.9 243.7 719.4 245.9 718.8 248.1 718 250.3 717.1 252.5 716 254.7 714.8 256.9 713.4 259.1 712 261.3 710.5 263.5 708.8 265.7 707 267.9 705.2 270.1 703.2 272.3 701.2 274.5 699.1 276.7 696.8 278.9 694.5 281.1 692.1 283.3 689.7 285.5 687.1 287.7 684.5 289.9 681.7 292.1 678.9 294.3 676.1 296.5 673.1 298.7 670.1 300.9 667 303.1 663.8 305.3 660.6 307.5 657.2 309.7 653.8 311.9 650.4 314.1 646.8 316.3 643.2 318.5 639.6 320.7 635.8 322.9 632 325.1 628.1 327.3 624.2 329.5 620.2 329.5 639 327.3 642 325.1 645.1 322.9 648 320.7 651 318.5 653.8 316.3 656.7 314.1 659.5 311.9 662.3 309.7 665 307.5 667.6 305.3 670.3 303.1 672.8 300.9 675.4 298.7 677.8 296.5 680.3 294.3 682.7 292.1 685 289.9 687.3 287.7 689.5 285.5 691.6 283.3 693.8 281.1 695.8 278.9 697.8 276.7 699.7 274.5 701.6 272.3 703.4 270.1 705.1 267.9 706.8 265.7 708.4 263.5 709.9 261.3 711.4 259.1 712.7 256.9 714 254.7 715.2 252.5 716.3 250.3 717.3 248.1 718.1 245.9 718.9 243.7 719.5 241.5 719.9Z" fill="#e4672a" fill-opacity="0.5"/>
<path d="M241.5 719.8 243.7 719.3 245.9 718.5 248.1 717.5 250.3 716.4 252.5 715 254.7 713.5 256.9 711.9 259.1 710.1 261.3 708.2 263.5 706.2 265.7 704 267.9 701.7 270.1 699.3 272.3 696.8 274.5 694.2 276.7 691.4 278.9 688.6 281.1 685.6 283.3 682.6 285.5 679.4 287.7 676.2 289.9 672.8 292.1 669.4 294.3 665.8 296.5 662.2 298.7 658.4 300.9 654.6 303.1 650.7 305.3 646.7 307.5 642.6 309.7 638.4 311.9 634.1 314.1 629.8 316.3 625.3 318.5 620.8 320.7 616.2 322.9 611.5 325.1 606.7 327.3 601.8 329.5 596.9 329.5 620.1 327.3 623.9 325.1 627.6 322.9 631.2 320.7 634.8 318.5 638.4 316.3 641.9 314.1 645.4 311.9 648.8 309.7 652.1 307.5 655.4 305.3 658.7 303.1 661.8 300.9 664.9 298.7 668 296.5 671 294.3 673.9 292.1 676.8 289.9 679.6 287.7 682.4 285.5 685 283.3 687.6 281.1 690.2 278.9 692.6 276.7 695 274.5 697.3 272.3 699.5 270.1 701.7 267.9 703.7 265.7 705.7 263.5 707.6 261.3 709.4 259.1 711 256.9 712.6 254.7 714.1 252.5 715.4 250.3 716.6 248.1 717.7 245.9 718.6 243.7 719.3 241.5 719.8Z" fill="#f0188c" fill-opacity="0.6"/>
<path d="M241.5 719.8 243.7 719.3 245.9 718.7 248.1 718.1 250.3 717.3 252.5 716.5 254.7 715.7 256.9 714.8 259.1 713.9 261.3 713 263.5 712 265.7 711 267.9 709.9 270.1 708.9 272.3 707.8 274.5 706.6 276.7 705.5 278.9 704.3 281.1 703.1 283.3 701.9 285.5 700.6 287.7 699.3 289.9 698 292.1 696.7 294.3 695.4 296.5 694 298.7 692.7 300.9 691.3 303.1 689.9 305.3 688.4 307.5 687 309.7 685.5 311.9 684 314.1 682.5 316.3 681 318.5 679.5 320.7 677.9 322.9 676.4 325.1 674.8 327.3 673.2 329.5 671.6 329.5 683.4 327.3 684.5 325.1 685.6 322.9 686.7 320.7 687.7 318.5 688.8 316.3 689.9 314.1 691 311.9 692 309.7 693.1 307.5 694.1 305.3 695.1 303.1 696.2 300.9 697.2 298.7 698.2 296.5 699.2 294.3 700.2 292.1 701.2 289.9 702.2 287.7 703.1 285.5 704.1 283.3 705.1 281.1 706 278.9 706.9 276.7 707.8 274.5 708.8 272.3 709.6 270.1 710.5 267.9 711.4 265.7 712.2 263.5 713.1 261.3 713.9 259.1 714.7 256.9 715.4 254.7 716.2 252.5 716.9 250.3 717.6 248.1 718.2 245.9 718.8 243.7 719.3 241.5 719.8Z" fill="#fbb10a" fill-opacity="0.55"/>
<path d="M241.5 719.9 243.7 719.5 245.9 719 248.1 718.3 250.3 717.5 252.5 716.5 254.7 715.5 256.9 714.4 259.1 713.2 261.3 711.9 263.5 710.5 265.7 709.1 267.9 707.5 270.1 705.9 272.3 704.2 274.5 702.5 276.7 700.6 278.9 698.8 281.1 696.8 283.3 694.8 285.5 692.7 287.7 690.6 289.9 688.4 292.1 686.1 294.3 683.8 296.5 681.4 298.7 679 300.9 676.5 303.1 673.9 305.3 671.3 307.5 668.7 309.7 666 311.9 663.2 314.1 660.4 316.3 657.6 318.5 654.7 320.7 651.7 322.9 648.7 325.1 645.6 327.3 642.5 329.5 639.4" fill="none" stroke="#5a5a5a" stroke-width="1.5" stroke-linejoin="round"/>
<path d="M241.5 719.9 243.7 719.4 245.9 718.8 248.1 718.1 250.3 717.2 252.5 716.1 254.7 715 256.9 713.7 259.1 712.4 261.3 710.9 263.5 709.4 265.7 707.7 267.9 706 270.1 704.2 272.3 702.3 274.5 700.3 276.7 698.3 278.9 696.2 281.1 694 283.3 691.7 285.5 689.4 287.7 687 289.9 684.5 292.1 682 294.3 679.4 296.5 676.7 298.7 674 300.9 671.2 303.1 668.3 305.3 665.4 307.5 662.4 309.7 659.4 311.9 656.3 314.1 653.2 316.3 650 318.5 646.7 320.7 643.4 322.9 640 325.1 636.6 327.3 633.1 329.5 629.6" fill="none" stroke="#b84a14" stroke-width="1.5" stroke-linejoin="round"/>
<path d="M241.5 719.8 243.7 719.3 245.9 718.6 248.1 717.6 250.3 716.5 252.5 715.2 254.7 713.8 256.9 712.3 259.1 710.6 261.3 708.8 263.5 706.9 265.7 704.9 267.9 702.7 270.1 700.5 272.3 698.2 274.5 695.7 276.7 693.2 278.9 690.6 281.1 687.9 283.3 685.1 285.5 682.2 287.7 679.3 289.9 676.2 292.1 673.1 294.3 669.9 296.5 666.6 298.7 663.2 300.9 659.8 303.1 656.3 305.3 652.7 307.5 649 309.7 645.3 311.9 641.5 314.1 637.6 316.3 633.6 318.5 629.6 320.7 625.5 322.9 621.4 325.1 617.1 327.3 612.9 329.5 608.5" fill="none" stroke="#9b2a6a" stroke-width="1.5" stroke-linejoin="round"/>
<path d="M241.5 719.8 243.7 719.3 245.9 718.8 248.1 718.1 250.3 717.4 252.5 716.7 254.7 715.9 256.9 715.1 259.1 714.3 261.3 713.4 263.5 712.5 265.7 711.6 267.9 710.7 270.1 709.7 272.3 708.7 274.5 707.7 276.7 706.7 278.9 705.6 281.1 704.5 283.3 703.5 285.5 702.4 287.7 701.2 289.9 700.1 292.1 699 294.3 697.8 296.5 696.6 298.7 695.4 300.9 694.2 303.1 693 305.3 691.8 307.5 690.5 309.7 689.3 311.9 688 314.1 686.7 316.3 685.5 318.5 684.2 320.7 682.8 322.9 681.5 325.1 680.2 327.3 678.8 329.5 677.5" fill="none" stroke="#a07800" stroke-width="1.5" stroke-linejoin="round"/>
<rect x="234.9" y="589.2" width="98.8" height="136.8" fill="none" stroke="#9a9a9a" stroke-width="0.8"/>
<path d="M231.9 720H234.9M231.9 684.4H234.9M231.9 648.8H234.9M231.9 613.2H234.9" stroke="#333" stroke-width="0.6"/>
<text x="229.9" y="723.7" font-size="10.2" text-anchor="end" fill="#222" font-family='"Liberation Sans", sans-serif' >0</text>
<text x="229.9" y="688.1" font-size="10.2" text-anchor="end" fill="#222" font-family='"Liberation Sans", sans-serif' >2000</text>
<text x="229.9" y="652.5" font-size="10.2" text-anchor="end" fill="#222" font-family='"Liberation Sans", sans-serif' >4000</text>
<text x="229.9" y="616.9" font-size="10.2" text-anchor="end" fill="#222" font-family='"Liberation Sans", sans-serif' >6000</text>
<path d="M240 726V729M262.4 726V729M284.8 726V729M307.1 726V729M329.5 726V729" stroke="#333" stroke-width="0.6"/>
<text x="240" y="738" font-size="10.2" text-anchor="middle" fill="#222" font-family='"Liberation Sans", sans-serif' >0.0</text>
<text x="262.4" y="738" font-size="10.2" text-anchor="middle" fill="#222" font-family='"Liberation Sans", sans-serif' >2.5</text>
<text x="284.8" y="738" font-size="10.2" text-anchor="middle" fill="#222" font-family='"Liberation Sans", sans-serif' >5.0</text>
<text x="307.1" y="738" font-size="10.2" text-anchor="middle" fill="#222" font-family='"Liberation Sans", sans-serif' >7.5</text>
<text x="329.5" y="738" font-size="10.2" text-anchor="middle" fill="#222" font-family='"Liberation Sans", sans-serif' >10.0</text>
<text x="284" y="750.2" font-size="10.2" text-anchor="middle" fill="#1a1a1a" font-family='"Liberation Sans", sans-serif' >Δt (h)</text>
<text transform="translate(201 657.6) rotate(-90)" font-size="9.6" text-anchor="middle" fill="#1a1a1a" font-family='"Liberation Sans", sans-serif'>MSD (μm<tspan font-size="6" dy="-3.5">2</tspan><tspan dy="3.5">)</tspan></text>
<rect x="240.9" y="769.6" width="8.1" height="8" fill="#a9a9a9"/>
<path d="M240.9 773.6h8.1" stroke="#5a5a5a" stroke-width="1"/>
<text x="254.9" y="776.7" font-size="8.6" text-anchor="start" fill="#1a1a1a" font-family='"Liberation Sans", sans-serif' >DKO</text>
<rect x="240.9" y="778.8" width="8.1" height="8" fill="#e57a40"/>
<path d="M240.9 782.8h8.1" stroke="#b84a14" stroke-width="1"/>
<text x="254.9" y="785.9" font-size="8.6" text-anchor="start" fill="#1a1a1a" font-family='"Liberation Sans", sans-serif' >DKO/p85α-wt</text>
<rect x="240.9" y="788" width="8.1" height="8" fill="#f0188c"/>
<path d="M240.9 792h8.1" stroke="#9b2a6a" stroke-width="1"/>
<text x="254.9" y="795.1" font-size="8.6" text-anchor="start" fill="#1a1a1a" font-family='"Liberation Sans", sans-serif' >DKO/p85β-motifGS</text>
<rect x="240.9" y="797.2" width="8.1" height="8" fill="#f9bb35"/>
<path d="M240.9 801.2h8.1" stroke="#a07800" stroke-width="1"/>
<text x="254.9" y="804.3" font-size="8.6" text-anchor="start" fill="#1a1a1a" font-family='"Liberation Sans", sans-serif' >DKO/p85β-wt</text>
<text x="356" y="578.5" font-size="21" text-anchor="start" fill="#000" font-weight="bold" font-family='"Liberation Sans", sans-serif' >h</text>
<path d="M400.5 596.2 402 605.4 403.5 614.4 405 618.4 406.5 623.5 408 628.5 409.5 631.2 411 634 412.5 636.8 414 639.1 415.5 641.3 417 643.5 418.5 645.3 420 647.1 421.5 648.9 423 650.5 424.5 652 426 653.6 427.5 655.1 429 656.7 430.5 658.2 432 659.7 433.5 661.3 435 662.8 436.5 664.2 438 665.6 439.5 667 441 668.4 442.5 669.8 444 671.2 445.5 672.2 447 673.1 448.5 674.1 450 675.1 451.5 676.1 453 677 454.5 677.8 456 678.5 457.5 679.3 459 680 460.5 680.8 462 681.5 463.5 682.3 465 683 466.5 683.8 468 684.4 469.5 685 471 685.6 472.5 686.2 474 686.8 475.5 687.4 477 688.1 478.5 688.7 480 689.3 481.5 689.9 483 690.5 484.5 691.1 486 691.7 487.5 692.4 489 693 489 699 487.5 698.4 486 697.8 484.5 697.2 483 696.6 481.5 695.9 480 695.3 478.5 694.7 477 694.1 475.5 693.5 474 692.9 472.5 692.2 471 691.6 469.5 691 468 690.4 466.5 689.8 465 689 463.5 688.3 462 687.6 460.5 686.8 459 686.1 457.5 685.3 456 684.6 454.5 683.8 453 683.1 451.5 682.1 450 681.1 448.5 680.2 447 679.2 445.5 678.2 444 677.2 442.5 675.8 441 674.4 439.5 673 438 671.6 436.5 670.2 435 668.8 433.5 667.3 432 665.8 430.5 664.2 429 662.7 427.5 661.2 426 659.6 424.5 658.1 423 656.5 421.5 654.9 420 653.1 418.5 651.4 417 649.6 415.5 647.3 414 645.1 412.5 642.9 411 640.1 409.5 637.3 408 634.5 406.5 629.5 405 624.5 403.5 618.4 402 607.4 400.5 596.2Z" fill="#9a9a9a" fill-opacity="0.5"/>
<path d="M400.5 596.2 402 606.4 403.5 616.4 405 621.2 406.5 626.8 408 632.3 409.5 636.2 411 640.2 412.5 644 414 646.3 415.5 648.5 417 650.7 418.5 651.8 420 653 421.5 654.1 423 654.6 424.5 655.2 426 655.8 427.5 657.2 429 658.6 430.5 660 432 661.4 433.5 662.7 435 664.1 436.5 665.5 438 666.8 439.5 668.2 441 669.5 442.5 670.9 444 672.2 445.5 673 447 673.9 448.5 674.8 450 675.6 451.5 676.5 453 677.4 454.5 678.2 456 679.1 457.5 679.9 459 680.8 460.5 681.7 462 682.5 463.5 683.4 465 684.2 466.5 685.1 468 685.8 469.5 686.5 471 687.3 472.5 688 474 688.7 475.5 689.5 477 690.2 478.5 690.9 480 691.6 481.5 692.4 483 693.1 484.5 693.8 486 694.5 487.5 695.3 489 696 489 701 487.5 700.3 486 699.6 484.5 698.8 483 698.1 481.5 697.4 480 696.7 478.5 695.9 477 695.2 475.5 694.5 474 693.8 472.5 693 471 692.3 469.5 691.6 468 690.9 466.5 690.1 465 689.3 463.5 688.4 462 687.5 460.5 686.7 459 685.8 457.5 685 456 684.1 454.5 683.2 453 682.4 451.5 681.5 450 680.7 448.5 679.8 447 678.9 445.5 678.1 444 677.2 442.5 675.9 441 674.5 439.5 673.2 438 671.9 436.5 670.5 435 669.2 433.5 667.8 432 666.4 430.5 665 429 663.6 427.5 662.2 426 660.8 424.5 660.2 423 659.7 421.5 659.1 420 658 418.5 656.9 417 655.8 415.5 653.5 414 651.3 412.5 649.1 411 645.2 409.5 641.3 408 637.4 406.5 631.8 405 626.2 403.5 619.8 402 608 400.5 596.2Z" fill="#e4672a" fill-opacity="0.5"/>
<path d="M400.5 596.2 402 605.5 403.5 614.8 405 619.2 406.5 624.5 408 629.8 409.5 632.6 411 635.4 412.5 638.2 414 640.4 415.5 642.6 417 644.9 418.5 646.4 420 647.9 421.5 649.4 423 650.7 424.5 652 426 653.2 427.5 654.6 429 656 430.5 657.4 432 658.8 433.5 660.2 435 661.6 436.5 662.9 438 664.1 439.5 665.4 441 666.7 442.5 667.9 444 669.2 445.5 670.1 447 671 448.5 671.9 450 672.7 451.5 673.6 453 674.5 454.5 675.4 456 676.3 457.5 677.2 459 678.1 460.5 679 462 679.9 463.5 680.8 465 681.7 466.5 682.6 468 683.2 469.5 683.8 471 684.4 472.5 685 474 685.7 475.5 686.3 477 686.9 478.5 687.5 480 688.1 481.5 688.7 483 689.3 484.5 690 486 690.6 487.5 691.2 489 691.8 489 696.8 487.5 696.2 486 695.6 484.5 695 483 694.4 481.5 693.8 480 693.1 478.5 692.5 477 691.9 475.5 691.3 474 690.7 472.5 690.1 471 689.5 469.5 688.8 468 688.2 466.5 687.6 465 686.7 463.5 685.8 462 684.9 460.5 684 459 683.1 457.5 682.2 456 681.4 454.5 680.5 453 679.6 451.5 678.7 450 677.8 448.5 676.9 447 676 445.5 675.1 444 674.2 442.5 672.9 441 671.7 439.5 670.4 438 669.2 436.5 667.9 435 666.7 433.5 665.3 432 663.9 430.5 662.5 429 661.1 427.5 659.7 426 658.3 424.5 657 423 655.7 421.5 654.4 420 652.9 418.5 651.4 417 649.9 415.5 647.7 414 645.4 412.5 643.2 411 640.4 409.5 637.6 408 634.8 406.5 629.6 405 624.3 403.5 618.1 402 607.2 400.5 596.2Z" fill="#f0188c" fill-opacity="0.6"/>
<path d="M400.5 596.2 402 607.9 403.5 619.5 405 625.7 406.5 633 408 640.2 409.5 644.1 411 648 412.5 651.9 414 654.4 415.5 657 417 659.4 418.5 660.6 420 661.7 421.5 662.8 423 664.8 424.5 666.7 426 668.7 427.5 670.4 429 672 430.5 673.7 432 675.4 433.5 677.1 435 678.7 436.5 679.6 438 680.4 439.5 681.2 441 682.1 442.5 682.9 444 683.8 445.5 684.9 447 686 448.5 687.1 450 688.2 451.5 689.4 453 690.5 454.5 691.4 456 692.3 457.5 693.3 459 694.2 460.5 695.1 462 696.1 463.5 697 465 697.9 466.5 698.8 468 699.2 469.5 699.5 471 699.8 472.5 700.2 474 700.5 475.5 700.9 477 701.2 478.5 701.5 480 701.9 481.5 702.2 483 702.5 484.5 702.9 486 703.2 487.5 703.5 489 703.9 489 709.9 487.5 709.6 486 709.2 484.5 708.9 483 708.6 481.5 708.2 480 707.9 478.5 707.6 477 707.2 475.5 706.9 474 706.6 472.5 706.2 471 705.9 469.5 705.5 468 705.2 466.5 704.9 465 704 463.5 703 462 702.1 460.5 701.2 459 700.2 457.5 699.3 456 698.4 454.5 697.4 453 696.5 451.5 695.4 450 694.3 448.5 693.2 447 692 445.5 690.9 444 689.8 442.5 689 441 688.1 439.5 687.3 438 686.4 436.5 685.6 435 684.8 433.5 683.1 432 681.4 430.5 679.7 429 678.1 427.5 676.4 426 674.7 424.5 672.8 423 670.8 421.5 668.9 420 667.7 418.5 666.6 417 665.5 415.5 663 414 660.5 412.5 658 411 654.1 409.5 650.2 408 646.3 406.5 639.1 405 631.8 403.5 623.5 402 609.9 400.5 596.2Z" fill="#fbb10a" fill-opacity="0.55"/>
<path d="M400.5 596.2 402 606.4 403.5 616.4 405 621.5 406.5 626.5 408 631.5 409.5 634.3 411 637.1 412.5 639.8 414 642.1 415.5 644.3 417 646.5 418.5 648.3 420 650.1 421.5 651.9 423 653.5 424.5 655 426 656.6 427.5 658.1 429 659.7 430.5 661.2 432 662.8 433.5 664.3 435 665.8 436.5 667.2 438 668.6 439.5 670 441 671.4 442.5 672.8 444 674.2 445.5 675.2 447 676.2 448.5 677.1 450 678.1 451.5 679.1 453 680.1 454.5 680.8 456 681.6 457.5 682.3 459 683 460.5 683.8 462 684.5 463.5 685.3 465 686 466.5 686.8 468 687.4 469.5 688 471 688.6 472.5 689.2 474 689.8 475.5 690.5 477 691.1 478.5 691.7 480 692.3 481.5 692.9 483 693.5 484.5 694.1 486 694.8 487.5 695.4 489 696" fill="none" stroke="#5a5a5a" stroke-width="1.2" stroke-linejoin="round"/>
<path d="M400.5 596.2 402 607.2 403.5 618.1 405 623.7 406.5 629.3 408 634.8 409.5 638.8 411 642.7 412.5 646.6 414 648.8 415.5 651 417 653.2 418.5 654.4 420 655.5 421.5 656.6 423 657.1 424.5 657.7 426 658.3 427.5 659.7 429 661.1 430.5 662.5 432 663.9 433.5 665.3 435 666.7 436.5 668 438 669.3 439.5 670.7 441 672 442.5 673.4 444 674.7 445.5 675.6 447 676.4 448.5 677.3 450 678.1 451.5 679 453 679.9 454.5 680.7 456 681.6 457.5 682.4 459 683.3 460.5 684.2 462 685 463.5 685.9 465 686.8 466.5 687.6 468 688.3 469.5 689.1 471 689.8 472.5 690.5 474 691.2 475.5 692 477 692.7 478.5 693.4 480 694.2 481.5 694.9 483 695.6 484.5 696.3 486 697.1 487.5 697.8 489 698.5" fill="none" stroke="#b84a14" stroke-width="1.2" stroke-linejoin="round"/>
<path d="M400.5 596.2 402 606.4 403.5 616.4 405 621.7 406.5 627.1 408 632.3 409.5 635.1 411 637.9 412.5 640.7 414 642.9 415.5 645.2 417 647.4 418.5 648.9 420 650.4 421.5 651.9 423 653.2 424.5 654.5 426 655.8 427.5 657.2 429 658.6 430.5 660 432 661.4 433.5 662.7 435 664.1 436.5 665.4 438 666.7 439.5 667.9 441 669.2 442.5 670.4 444 671.7 445.5 672.6 447 673.5 448.5 674.4 450 675.3 451.5 676.2 453 677 454.5 677.9 456 678.8 457.5 679.7 459 680.6 460.5 681.5 462 682.4 463.5 683.3 465 684.2 466.5 685.1 468 685.7 469.5 686.3 471 686.9 472.5 687.6 474 688.2 475.5 688.8 477 689.4 478.5 690 480 690.6 481.5 691.2 483 691.9 484.5 692.5 486 693.1 487.5 693.7 489 694.3" fill="none" stroke="#9b2a6a" stroke-width="1.2" stroke-linejoin="round"/>
<path d="M400.5 596.2 402 608.9 403.5 621.5 405 628.8 406.5 636 408 643.2 409.5 647.1 411 651.1 412.5 654.9 414 657.5 415.5 660 417 662.5 418.5 663.6 420 664.7 421.5 665.8 423 667.8 424.5 669.7 426 671.7 427.5 673.4 429 675.1 430.5 676.7 432 678.4 433.5 680.1 435 681.7 436.5 682.6 438 683.4 439.5 684.3 441 685.1 442.5 685.9 444 686.8 445.5 687.9 447 689 448.5 690.1 450 691.3 451.5 692.4 453 693.5 454.5 694.4 456 695.3 457.5 696.3 459 697.2 460.5 698.1 462 699.1 463.5 700 465 700.9 466.5 701.9 468 702.2 469.5 702.5 471 702.9 472.5 703.2 474 703.5 475.5 703.9 477 704.2 478.5 704.5 480 704.9 481.5 705.2 483 705.5 484.5 705.9 486 706.2 487.5 706.6 489 706.9" fill="none" stroke="#a07800" stroke-width="1.2" stroke-linejoin="round"/>
<rect x="394.8" y="589.9" width="98.2" height="134.7" fill="none" stroke="#9a9a9a" stroke-width="0.8"/>
<path d="M391.8 696.8H394.8M391.8 663.3H394.8M391.8 629.7H394.8M391.8 596.2H394.8" stroke="#333" stroke-width="0.6"/>
<text x="390" y="700.5" font-size="10.2" text-anchor="end" fill="#222" font-family='"Liberation Sans", sans-serif' >0.4</text>
<text x="390" y="667" font-size="10.2" text-anchor="end" fill="#222" font-family='"Liberation Sans", sans-serif' >0.6</text>
<text x="390" y="633.4" font-size="10.2" text-anchor="end" fill="#222" font-family='"Liberation Sans", sans-serif' >0.8</text>
<text x="390" y="599.9" font-size="10.2" text-anchor="end" fill="#222" font-family='"Liberation Sans", sans-serif' >1.0</text>
<path d="M399 724.6V727.6M421.5 724.6V727.6M444 724.6V727.6M466.5 724.6V727.6M489 724.6V727.6" stroke="#333" stroke-width="0.6"/>
<text x="399" y="737.2" font-size="10.2" text-anchor="middle" fill="#222" font-family='"Liberation Sans", sans-serif' >0.0</text>
<text x="421.5" y="737.2" font-size="10.2" text-anchor="middle" fill="#222" font-family='"Liberation Sans", sans-serif' >2.5</text>
<text x="444" y="737.2" font-size="10.2" text-anchor="middle" fill="#222" font-family='"Liberation Sans", sans-serif' >5.0</text>
<text x="466.5" y="737.2" font-size="10.2" text-anchor="middle" fill="#222" font-family='"Liberation Sans", sans-serif' >7.5</text>
<text x="489" y="737.2" font-size="10.2" text-anchor="middle" fill="#222" font-family='"Liberation Sans", sans-serif' >10.0</text>
<text x="443.4" y="749.8" font-size="10.2" text-anchor="middle" fill="#1a1a1a" font-family='"Liberation Sans", sans-serif' >time (h)</text>
<text transform="translate(371.5 657.6) rotate(-90)" font-size="10.2" text-anchor="middle" fill="#1a1a1a" font-family='"Liberation Sans", sans-serif'>persistence ratio (d/D)</text>
<rect x="403.6" y="769.6" width="8.1" height="8" fill="#a9a9a9"/>
<path d="M403.6 773.6h8.1" stroke="#5a5a5a" stroke-width="1"/>
<text x="417.3" y="776.7" font-size="8.6" text-anchor="start" fill="#1a1a1a" font-family='"Liberation Sans", sans-serif' >DKO</text>
<rect x="403.6" y="778.8" width="8.1" height="8" fill="#e57a40"/>
<path d="M403.6 782.8h8.1" stroke="#b84a14" stroke-width="1"/>
<text x="417.3" y="785.9" font-size="8.6" text-anchor="start" fill="#1a1a1a" font-family='"Liberation Sans", sans-serif' >DKO/p85α-wt</text>
<rect x="403.6" y="788" width="8.1" height="8" fill="#f0188c"/>
<path d="M403.6 792h8.1" stroke="#9b2a6a" stroke-width="1"/>
<text x="417.3" y="795.1" font-size="8.6" text-anchor="start" fill="#1a1a1a" font-family='"Liberation Sans", sans-serif' >DKO/p85β-motifGS</text>
<rect x="403.6" y="797.2" width="8.1" height="8" fill="#f9bb35"/>
<path d="M403.6 801.2h8.1" stroke="#a07800" stroke-width="1"/>
<text x="417.3" y="804.3" font-size="8.6" text-anchor="start" fill="#1a1a1a" font-family='"Liberation Sans", sans-serif' >DKO/p85β-wt</text>
<text x="512" y="577" font-size="21" text-anchor="start" fill="#000" font-weight="bold" font-family='"Liberation Sans", sans-serif' >j</text>
<path d="M587 712.4 587 710.4 587.1 708.4 587.2 706.4 587.3 704.4 587.4 702.4 587.6 700.4 587.7 698.4 587.9 696.4 588.1 694.4 588.3 692.4 588.6 690.4 588.8 688.3 589.1 686.3 589.4 684.3 589.7 682.3 590 680.3 590.3 678.3 590.7 676.3 591 674.3 591.4 672.3 591.7 670.3 592 668.3 592.4 666.3 592.7 664.3 593 662.3 593.2 660.3 593.5 658.3 593.7 656.2 593.8 654.2 594 652.2 594 650.2 594.1 648.2 594.1 646.2 594 644.2 593.9 642.2 593.7 640.2 593.4 638.2 593.1 636.2 592.7 634.2 592.3 632.2 591.9 630.2 591.5 628.2 591 626.2 590.6 624.2 590.1 622.1 589.7 620.1 589.3 618.1 589 616.1 588.6 614.1 588.3 612.1 588 610.1 587.8 608.1 587.6 606.1 587.4 604.1 587.2 602.1 587.1 600.1 587 598.1 586.9 596.1 586.9 594.1 586.9 592.1 586.3 592.1 586.3 594.1 586.3 596.1 586.2 598.1 586.1 600.1 586 602.1 585.8 604.1 585.6 606.1 585.4 608.1 585.2 610.1 584.9 612.1 584.6 614.1 584.2 616.1 583.9 618.1 583.5 620.1 583.1 622.1 582.6 624.2 582.2 626.2 581.7 628.2 581.3 630.2 580.9 632.2 580.5 634.2 580.1 636.2 579.8 638.2 579.5 640.2 579.3 642.2 579.2 644.2 579.1 646.2 579.1 648.2 579.2 650.2 579.2 652.2 579.4 654.2 579.5 656.2 579.7 658.3 580 660.3 580.2 662.3 580.5 664.3 580.8 666.3 581.2 668.3 581.5 670.3 581.8 672.3 582.2 674.3 582.5 676.3 582.9 678.3 583.2 680.3 583.5 682.3 583.8 684.3 584.1 686.3 584.4 688.3 584.6 690.4 584.9 692.4 585.1 694.4 585.3 696.4 585.5 698.4 585.6 700.4 585.8 702.4 585.9 704.4 586 706.4 586.1 708.4 586.2 710.4 586.2 712.4Z" fill="#676767" stroke="#505050" stroke-width="0.4"/>
<path d="M586.6 592.1V712.4" stroke="#505050" stroke-width="0.6"/>
<rect x="583.9" y="639" width="5.4" height="22.7" fill="#fff" stroke="#505050" stroke-width="0.55"/>
<path d="M583.9 650.3h5.4" stroke="#505050" stroke-width="0.9"/>
<path d="M606.6 704.1 606.6 702.1 606.6 700.1 606.6 698.1 606.6 696.1 606.6 694.1 606.7 692.1 606.8 690.1 607 688.1 607.2 686.2 607.4 684.2 607.6 682.2 607.9 680.2 608.3 678.2 608.6 676.2 609.1 674.2 609.5 672.2 610 670.2 610.5 668.2 611.1 666.2 611.6 664.2 612.2 662.2 612.7 660.2 613.1 658.2 613.6 656.2 613.9 654.3 614.2 652.3 614.4 650.3 614.5 648.3 614.5 646.3 614.5 644.3 614.4 642.3 614.2 640.3 614.1 638.3 613.8 636.3 613.6 634.3 613.3 632.3 612.9 630.3 612.6 628.3 612.2 626.3 611.8 624.4 611.4 622.4 611.1 620.4 610.7 618.4 610.3 616.4 609.9 614.4 609.6 612.4 609.2 610.4 608.9 608.4 608.6 606.4 608.3 604.4 608.1 602.4 607.9 600.4 607.6 598.4 607.5 596.4 607.3 594.5 607.1 592.5 607 590.5 606.9 588.5 606.8 586.5 606.7 584.5 605.9 584.5 605.9 586.5 605.8 588.5 605.6 590.5 605.5 592.5 605.4 594.5 605.2 596.4 605 598.4 604.8 600.4 604.6 602.4 604.3 604.4 604 606.4 603.8 608.4 603.4 610.4 603.1 612.4 602.7 614.4 602.4 616.4 602 618.4 601.6 620.4 601.2 622.4 600.8 624.4 600.5 626.3 600.1 628.3 599.7 630.3 599.4 632.3 599.1 634.3 598.8 636.3 598.6 638.3 598.4 640.3 598.3 642.3 598.2 644.3 598.1 646.3 598.1 648.3 598.3 650.3 598.5 652.3 598.7 654.3 599.1 656.2 599.5 658.2 600 660.2 600.5 662.2 601 664.2 601.6 666.2 602.1 668.2 602.6 670.2 603.1 672.2 603.6 674.2 604 676.2 604.4 678.2 604.7 680.2 605 682.2 605.3 684.2 605.5 686.2 605.7 688.1 605.8 690.1 605.9 692.1 606 694.1 606 696.1 606 698.1 606 700.1 606 702.1 606 704.1Z" fill="#a3a3a3" stroke="#7f7f7f" stroke-width="0.4"/>
<path d="M606.3 584.5V704.1" stroke="#7f7f7f" stroke-width="0.6"/>
<rect x="603.6" y="631.4" width="5.4" height="23.5" fill="#fff" stroke="#7f7f7f" stroke-width="0.55"/>
<path d="M603.6 645h5.4" stroke="#7f7f7f" stroke-width="0.9"/>
<path d="M626.4 710.9 626.4 708.8 626.4 706.6 626.5 704.5 626.6 702.3 626.8 700.2 626.9 698 627.1 695.9 627.3 693.7 627.5 691.6 627.7 689.5 628 687.3 628.3 685.2 628.6 683 628.9 680.9 629.3 678.7 629.6 676.6 630 674.4 630.4 672.3 630.9 670.2 631.3 668 631.7 665.9 632.1 663.7 632.4 661.6 632.8 659.4 633.1 657.3 633.4 655.1 633.6 653 633.8 650.8 633.9 648.7 633.9 646.6 634 644.4 633.9 642.3 633.8 640.1 633.6 638 633.4 635.8 633.1 633.7 632.8 631.5 632.4 629.4 632 627.3 631.6 625.1 631.2 623 630.8 620.8 630.4 618.7 630 616.5 629.5 614.4 629.2 612.2 628.8 610.1 628.5 608 628.1 605.8 627.9 603.7 627.6 601.5 627.4 599.4 627.2 597.2 627 595.1 626.8 592.9 626.7 590.8 626.6 588.6 626.5 586.5 626.4 584.4 626.4 582.2 625.8 582.2 625.7 584.4 625.7 586.5 625.6 588.6 625.4 590.8 625.3 592.9 625.1 595.1 625 597.2 624.8 599.4 624.5 601.5 624.3 603.7 624 605.8 623.7 608 623.3 610.1 623 612.2 622.6 614.4 622.2 616.5 621.8 618.7 621.3 620.8 620.9 623 620.5 625.1 620.1 627.3 619.7 629.4 619.3 631.5 619 633.7 618.7 635.8 618.5 638 618.3 640.1 618.2 642.3 618.2 644.4 618.2 646.6 618.2 648.7 618.4 650.8 618.5 653 618.8 655.1 619 657.3 619.3 659.4 619.7 661.6 620.1 663.7 620.4 665.9 620.8 668 621.3 670.2 621.7 672.3 622.1 674.4 622.5 676.6 622.9 678.7 623.2 680.9 623.6 683 623.9 685.2 624.2 687.3 624.4 689.5 624.7 691.6 624.9 693.7 625.1 695.9 625.2 698 625.4 700.2 625.5 702.3 625.6 704.5 625.7 706.6 625.8 708.8 625.8 710.9Z" fill="#e4672a" stroke="#b15020" stroke-width="0.4"/>
<path d="M626.1 582.2V710.9" stroke="#b15020" stroke-width="0.6"/>
<circle cx="626.1" cy="596.6" r="1.4" fill="#b15020"/>
<circle cx="626.1" cy="695" r="1.4" fill="#b15020"/>
<circle cx="626.1" cy="696.5" r="1.4" fill="#b15020"/>
<rect x="623.4" y="634.4" width="5.4" height="22" fill="#fff" stroke="#b15020" stroke-width="0.55"/>
<path d="M623.4 645.8h5.4" stroke="#b15020" stroke-width="0.9"/>
<path d="M646.1 703.3 646.1 701.5 646.1 699.6 646.1 697.7 646.2 695.8 646.3 693.9 646.5 692.1 646.6 690.2 646.8 688.3 647 686.4 647.3 684.5 647.6 682.7 647.9 680.8 648.3 678.9 648.7 677 649.1 675.1 649.6 673.3 650.1 671.4 650.6 669.5 651.2 667.6 651.7 665.7 652.2 663.9 652.8 662 653.2 660.1 653.7 658.2 654.1 656.3 654.5 654.5 654.7 652.6 654.9 650.7 655.1 648.8 655.1 646.9 655.1 645.1 654.9 643.2 654.8 641.3 654.5 639.4 654.3 637.5 653.9 635.7 653.6 633.8 653.1 631.9 652.7 630 652.2 628.1 651.8 626.3 651.3 624.4 650.8 622.5 650.4 620.6 649.9 618.7 649.5 616.9 649 615 648.7 613.1 648.3 611.2 648 609.3 647.7 607.5 647.4 605.6 647.2 603.7 646.9 601.8 646.8 599.9 646.6 598.1 646.5 596.2 646.3 594.3 646.2 592.4 646.1 590.5 645.4 590.5 645.3 592.4 645.2 594.3 645.1 596.2 645 598.1 644.8 599.9 644.6 601.8 644.4 603.7 644.2 605.6 643.9 607.5 643.6 609.3 643.3 611.2 642.9 613.1 642.5 615 642.1 616.9 641.7 618.7 641.2 620.6 640.8 622.5 640.3 624.4 639.8 626.3 639.3 628.1 638.9 630 638.4 631.9 638 633.8 637.6 635.7 637.3 637.5 637 639.4 636.8 641.3 636.6 643.2 636.5 645.1 636.5 646.9 636.5 648.8 636.6 650.7 636.8 652.6 637.1 654.5 637.5 656.3 637.9 658.2 638.3 660.1 638.8 662 639.3 663.9 639.9 665.7 640.4 667.6 641 669.5 641.5 671.4 642 673.3 642.5 675.1 642.9 677 643.3 678.9 643.7 680.8 644 682.7 644.3 684.5 644.6 686.4 644.8 688.3 645 690.2 645.1 692.1 645.3 693.9 645.4 695.8 645.5 697.7 645.5 699.6 645.5 701.5 645.5 703.3Z" fill="#fbb10a" stroke="#c38a07" stroke-width="0.4"/>
<path d="M645.8 590.5V703.3" stroke="#c38a07" stroke-width="0.6"/>
<circle cx="645.8" cy="603.4" r="1.4" fill="#c38a07"/>
<circle cx="645.8" cy="687.4" r="1.4" fill="#c38a07"/>
<circle cx="645.8" cy="690.5" r="1.4" fill="#c38a07"/>
<rect x="643.1" y="637.1" width="5.4" height="20" fill="#fff" stroke="#c38a07" stroke-width="0.55"/>
<path d="M643.1 647.1h5.4" stroke="#c38a07" stroke-width="0.9"/>
<path d="M665.8 720 665.8 717.7 665.8 715.5 665.8 713.3 665.8 711 665.8 708.8 665.9 706.5 665.9 704.3 666 702 666.1 699.8 666.2 697.5 666.3 695.3 666.5 693 666.7 690.8 666.8 688.5 667 686.3 667.3 684.1 667.5 681.8 667.8 679.6 668 677.3 668.3 675.1 668.6 672.8 669 670.6 669.3 668.3 669.7 666.1 670 663.8 670.4 661.6 670.7 659.4 671 657.1 671.4 654.9 671.7 652.6 672 650.4 672.2 648.1 672.5 645.9 672.7 643.6 672.8 641.4 672.9 639.1 673 636.9 673 634.6 673 632.4 672.8 630.2 672.5 627.9 672.1 625.7 671.6 623.4 671.1 621.2 670.5 618.9 670 616.7 669.4 614.4 668.8 612.2 668.3 609.9 667.8 607.7 667.4 605.5 667 603.2 666.7 601 666.4 598.7 666.2 596.5 666 594.2 665.9 592 665.8 589.7 665.8 587.5 665.8 585.2 665.2 585.2 665.2 587.5 665.2 589.7 665.1 592 665 594.2 664.8 596.5 664.6 598.7 664.4 601 664 603.2 663.7 605.5 663.2 607.7 662.8 609.9 662.2 612.2 661.7 614.4 661.1 616.7 660.5 618.9 659.9 621.2 659.4 623.4 658.9 625.7 658.5 627.9 658.2 630.2 658.1 632.4 658 634.6 658 636.9 658.1 639.1 658.2 641.4 658.4 643.6 658.6 645.9 658.8 648.1 659.1 650.4 659.4 652.6 659.7 654.9 660 657.1 660.3 659.4 660.7 661.6 661 663.8 661.4 666.1 661.7 668.3 662.1 670.6 662.4 672.8 662.7 675.1 663 677.3 663.3 679.6 663.5 681.8 663.8 684.1 664 686.3 664.2 688.5 664.4 690.8 664.5 693 664.7 695.3 664.8 697.5 664.9 699.8 665 702 665.1 704.3 665.2 706.5 665.2 708.8 665.2 711 665.2 713.3 665.2 715.5 665.2 717.7 665.2 720Z" fill="#f5007f" stroke="#bf0063" stroke-width="0.4"/>
<path d="M665.5 585.2V720" stroke="#bf0063" stroke-width="0.6"/>
<circle cx="665.5" cy="692.7" r="1.4" fill="#bf0063"/>
<circle cx="665.5" cy="695.8" r="1.4" fill="#bf0063"/>
<circle cx="665.5" cy="703.3" r="1.4" fill="#bf0063"/>
<rect x="662.8" y="631.6" width="5.4" height="24.6" fill="#fff" stroke="#bf0063" stroke-width="0.55"/>
<path d="M662.8 639.8h5.4" stroke="#bf0063" stroke-width="0.9"/>
<rect x="574.8" y="575.4" width="102.6" height="151" fill="none" stroke="#9a9a9a" stroke-width="0.8"/>
<path d="M571.8 694.2H574.8M571.8 656.4H574.8M571.8 618.5H574.8M571.8 580.7H574.8" stroke="#333" stroke-width="0.6"/>
<text x="569.8" y="698" font-size="10.3" text-anchor="end" fill="#222" font-family='"Liberation Sans", sans-serif' >-0.5</text>
<text x="569.8" y="660.1" font-size="10.3" text-anchor="end" fill="#222" font-family='"Liberation Sans", sans-serif' >0.0</text>
<text x="569.8" y="622.3" font-size="10.3" text-anchor="end" fill="#222" font-family='"Liberation Sans", sans-serif' >0.5</text>
<text x="569.8" y="584.4" font-size="10.3" text-anchor="end" fill="#222" font-family='"Liberation Sans", sans-serif' >1.0</text>
<path d="M586.6 726.4V729.4M606.3 726.4V729.4M626.1 726.4V729.4M645.8 726.4V729.4M665.5 726.4V729.4" stroke="#333" stroke-width="0.6"/>
<text transform="translate(591.9 736.2) rotate(-45)" font-size="10.3" text-anchor="end" fill="#111" font-family='"Liberation Sans", sans-serif'>wt</text>
<text transform="translate(611.6 736.2) rotate(-45)" font-size="10.3" text-anchor="end" fill="#111" font-family='"Liberation Sans", sans-serif'>DKO</text>
<text transform="translate(631.4 736.2) rotate(-45)" font-size="10.3" text-anchor="end" fill="#111" font-family='"Liberation Sans", sans-serif'>DKO/p85α-wt</text>
<text transform="translate(651.1 736.2) rotate(-45)" font-size="10.3" text-anchor="end" fill="#111" font-family='"Liberation Sans", sans-serif'>DKO/p85β-wt</text>
<text transform="translate(670.8 736.2) rotate(-45)" font-size="10.3" text-anchor="end" fill="#111" font-family='"Liberation Sans", sans-serif'>DKO/p85β-motifGS</text>
<text transform="translate(549.5 651) rotate(-90)" font-size="10" text-anchor="middle" fill="#1a1a1a" font-family='"Liberation Sans", sans-serif'>Forward Migration Index (y/D)</text>
</svg></body></html>
